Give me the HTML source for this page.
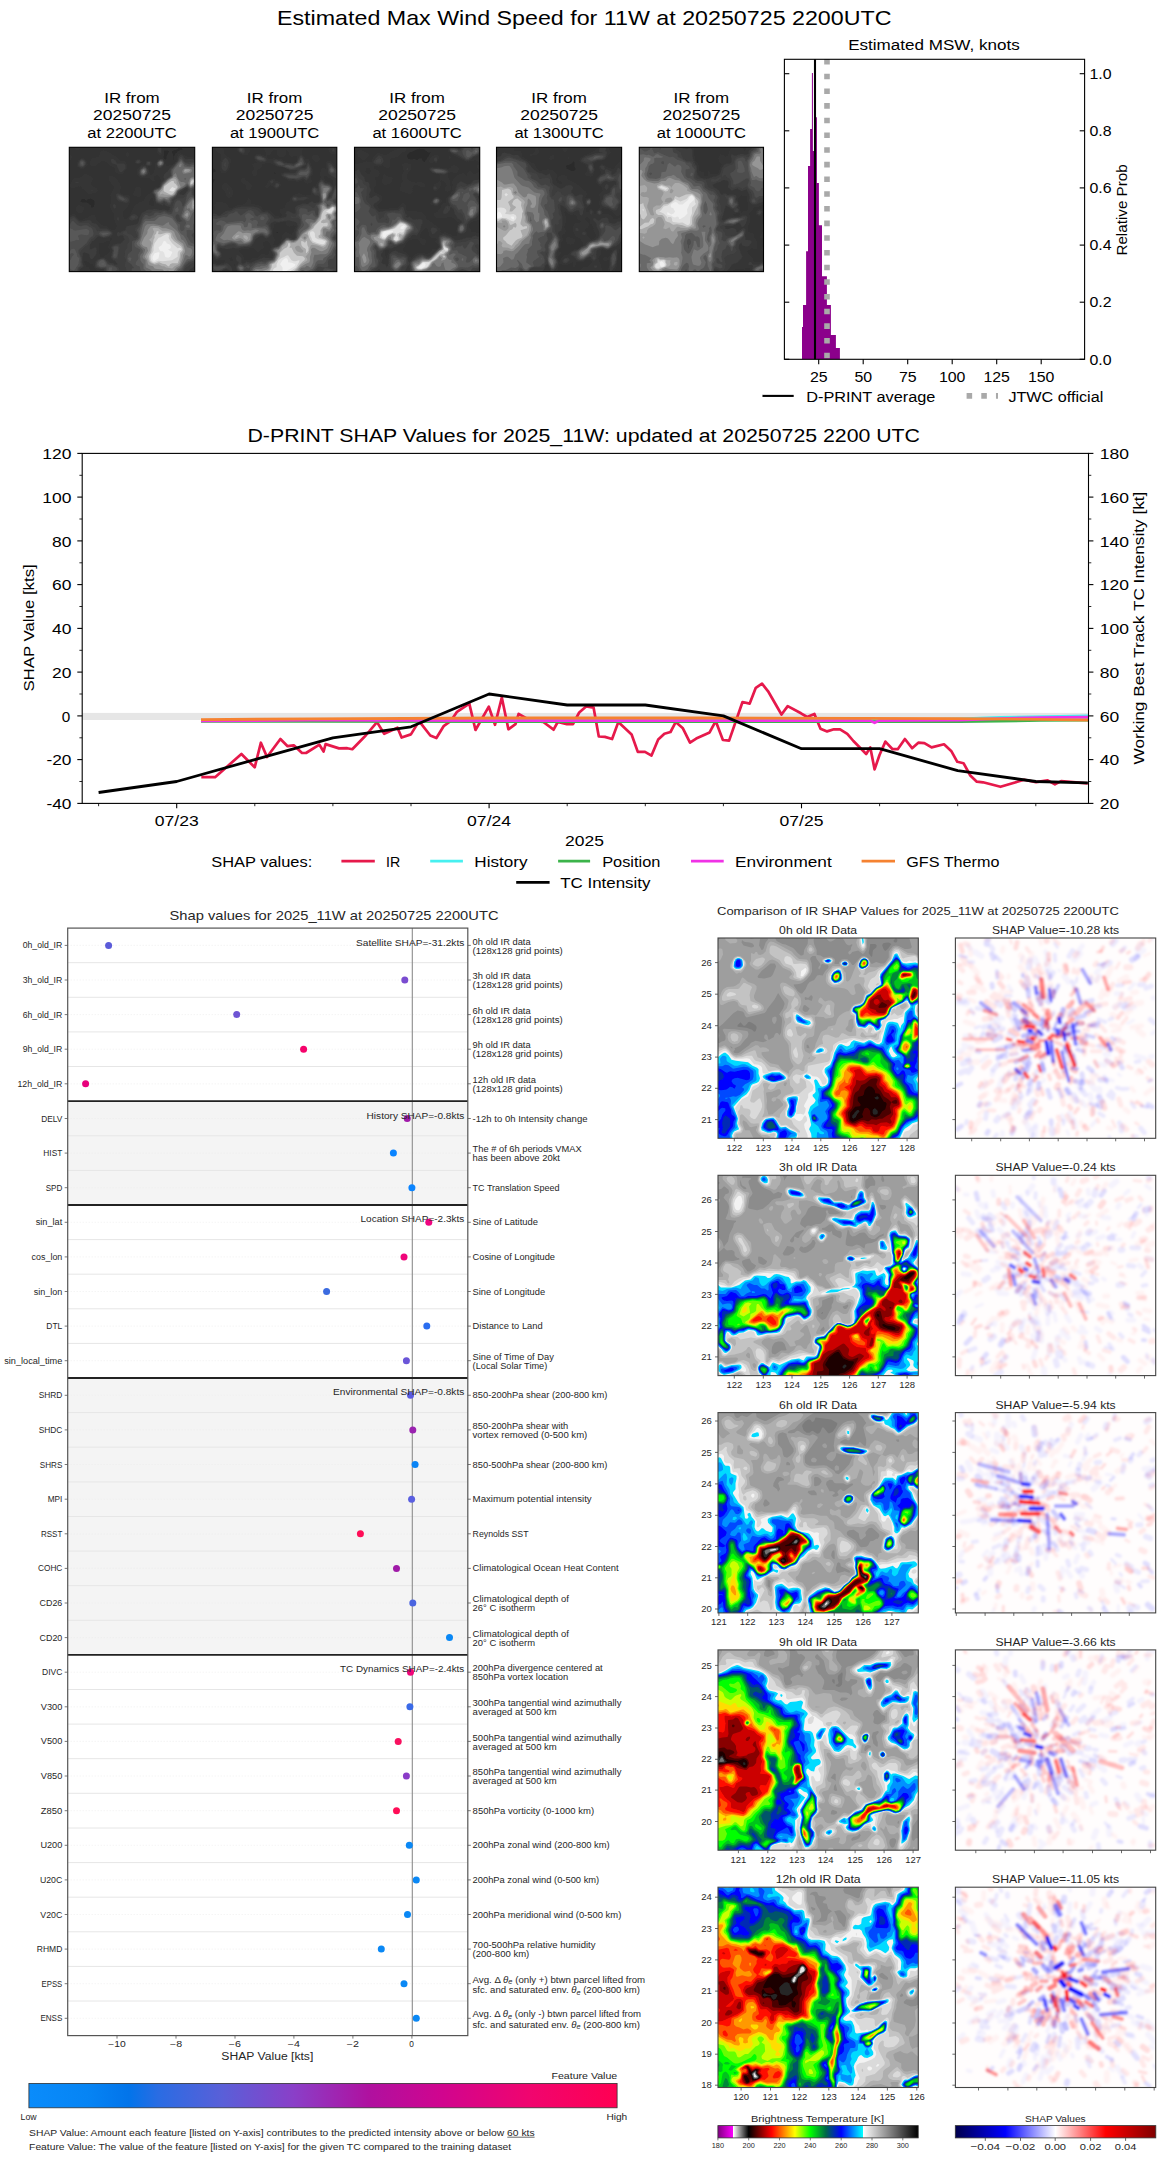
<!DOCTYPE html>
<html><head><meta charset="utf-8"><title>D-PRINT 11W</title>
<style>html,body{margin:0;padding:0;background:#fff}svg{display:block}text{font-family:"Liberation Sans",sans-serif}</style>
</head><body>
<svg width="1168" height="2158" viewBox="0 0 1168 2158">
<rect width="1168" height="2158" fill="#fff"/>
<text x="277.0" y="24.5" font-size="19.44" fill="#000" textLength="614.5" lengthAdjust="spacingAndGlyphs" >Estimated Max Wind Speed for 11W at 20250725 2200UTC</text>
<defs><filter id="bt" x="0" y="0" width="1" height="1"><feGaussianBlur stdDeviation="0.6"/></filter><clipPath id="ct"><rect width="125" height="125"/></clipPath></defs>
<text x="104.2" y="103.0" font-size="15.28" fill="#000" textLength="55.5" lengthAdjust="spacingAndGlyphs" >IR from</text>
<text x="93.1" y="120.2" font-size="15.28" fill="#000" textLength="77.8" lengthAdjust="spacingAndGlyphs" >20250725</text>
<text x="87.3" y="137.5" font-size="15.28" fill="#000" textLength="89.4" lengthAdjust="spacingAndGlyphs" >at 2200UTC</text>
<g transform="translate(69.3,147.3) scale(1.0032,0.9944)" clip-path="url(#ct)"><g filter="url(#bt)"><g transform="scale(0.5)"><rect width="250" height="250" fill="#292929"/><path d="M0,0l250,0 0,250-250,0z" fill="#2c2c2c"/><path d="M0,0l219,0-4,4-11,4 4,11-2,4 2,2 1,-6 1,-4 6,-6 4,-3 3,0 3,-2-2,-4 26,0 0,250-250,0zM27,104l-4,2-1,4 5,1 7,0 4,2 5,4 1,4 1,1 4,-2 2,-10-2,-4-7,-3-4,1-4,3-4,-3zM189,7l0,8-2,4 2,4 4,2 2,-10 3,-4 1,-3-6,-2z" fill="#323232"/><path d="M10,0l11,0 1,4-3,1-4,0-4,-3zM174,0l11,0 0,11-3,5-4,-1-3,-4-1,-3zM63,8l1,-1 4,-1 4,1 19,10 7,7 4,3 8,0 4,5 1,6 0,4-2,3-7,8-4,1-7,-2-4,-3 1,-4-1,-3-8,-4-3,-3-5,-5-7,-3-4,0-7,7-8,5-4,-1-4,-4 0,-4 3,-7 1,-1 12,-2 2,-1zM113,11l1,-1 3,0 1,1 2,4-3,4-3,0-2,-4zM0,15l4,1 1,3-1,6-4,3zM217,15l3,-3 3,0 14,7 9,1 4,1 0,229-192,0-5,-3-4,-5-2,-7-5,0-8,-7-4,0 0,3 4,9 4,1 1,1 4,8-43,0 0,-114 8,-2 3,1 8,10 4,1 7,-2 15,-8 4,0 2,0 2,8 3,4 8,8 12,4 3,3 8,4 2,0 4,-4 2,-4-5,-11-2,-15-5,-8-1,-4-1,-4 3,-11-2,-8 0,-3 5,-8 2,-7-2,-4-4,-4-3,-4-2,-7 2,-3 3,-1 4,1 8,6 7,12 1,4 0,3-2,4 0,4 5,4 4,1 7,0 3,2 2,8-2,8-5,7-7,8-1,4 1,7 2,3 2,1 1,4 0,4 1,0 0,-8 3,-3 6,-8 6,-14 11,-9 8,-2 4,-8 3,-4 8,-4 1,-5 6,-6 8,-1 5,-12-1,-4-4,-7-4,-1-4,1-1,4 2,7-4,1-4,-5-4,-2-4,-1-11,1-4,-2-4,-3-1,-4 0,-8 2,-3 7,-7 8,-1 0,-4 3,-3 4,0 4,1 2,2 0,4-2,3-6,1 4,15 2,3 4,-3 4,-11 0,-8 4,-7 3,-3 4,-1 4,0 3,4 2,3 2,7 4,0 8,-2 3,-2 5,-6 2,-8zM76,188l-8,4-7,0-1,1 0,19 2,8 7,0 10,-8 3,-4-5,-7 2,-4 3,-4-1,-4-1,-1zM83,182l-1,0-1,4 2,2 2,-2 1,-4zM163,101l-5,13 4,3 5,1 1,-1 0,-3-1,-13zM22,23l5,-2 3,2 6,7 1,4-7,8-3,2-4,0-8,-6 1,-8 1,-3zM130,27l6,-3 4,0 4,3 0,3-4,4-7,-1-3,-3zM30,53l0,-1 4,1 13,8 0,3-3,8 0,4 11,7 2,4-3,4-12,3-4,0-4,-4-7,-6-4,-5-4,0-11,3-4,0-2,-2 0,-4 3,-8 2,-4 4,-2 10,-1 6,-4zM135,80l5,-1 4,4 0,12-2,3-2,2-4,0-7,-3-2,-2 3,-8 1,-4 2,-2zM16,117l7,0 6,4 0,4-2,4-4,3-4,0-4,-3-2,-4 0,-4z" fill="#363636"/><path d="M176,0l7,0 0,8-1,4-4,-3zM218,19l2,-2 3,-2 5,4 3,5 15,-1 4,3 0,61-1,4 1,3 0,145-10,7-2,4-169,0 1,-4-2,-1-7,0-8,-2-2,-4 1,-8 2,-4 3,-2 7,-2 4,-1 4,2 8,8 7,1 4,3 4,0 1,-1-6,-8-3,0-3,-4-1,-3 3,-12-3,-7 4,-5 8,-2 8,-1 4,-4 3,-3-1,-4-2,-4-5,-1-4,3-3,-3 0,-4 3,-3 4,2 1,-2 8,-3 3,-7 1,-1 18,-4 3,-1 3,-6 0,-4 5,-11 4,-3 7,-4 15,-2 12,2 7,-1 8,2 3,-2 1,-5-10,-3-2,-4-3,4-7,-3-5,-1-2,-3-2,-12-5,-7 2,-4 3,-3 3,-1 7,-3 2,-4 1,-4 4,-4 2,-4-1,-3 0,-4 2,-4 7,-6 3,-5 8,-7 8,-8zM231,83l-4,3-3,1-1,2-3,2 0,4 7,1 2,-1 7,-8 0,-4-1,-1zM20,27l3,-3 4,0 5,3 1,3 0,4-3,5-3,2-4,0-5,-3-1,-4zM83,27l0,-3 4,-1 5,4 3,6 7,-1 8,1 2,5 0,4-2,3-4,4-4,1-2,-1-5,-12-2,-3-6,-1-3,-3zM133,27l3,-2 4,0 2,2 0,3-2,2-4,1-4,-3zM177,27l5,-3 4,0 2,3 1,3 0,4-3,5-4,2-4,0-3,-3-1,-4 1,-4zM154,30l1,-1 4,-1 3,2 0,4-3,3-4,-1-2,-2zM147,38l5,0 5,7 1,4-1,4-2,2-7,4-4,0-3,-2-3,-4 0,-4 3,-7 3,-3zM12,72l3,-3 4,3zM44,87l1,-2 4,2zM93,95l2,-2 3,0 10,5 6,2 3,2 2,4-2,4-3,2-16,-4-2,-2-2,-4zM87,117l0,-1 4,-2 2,3 0,4-2,2-3,-2zM124,136l5,-2 4,1 5,5-3,4-2,1-8,2-4,-1-2,-2 1,-4zM3,140l5,-2 3,1 8,9 4,1 7,-1 8,-2 4,1 4,5 7,2 4,3 4,6 3,1 12,0 9,6 2,4-3,4-4,2-12,3-1,-1-10,-3-8,9-4,1-4,8 0,4 0,4 4,0 4,-3 4,-1 2,7-2,8-4,6-4,3-4,-2-1,-7-2,-2-6,-2-2,-1-3,3-1,17 3,8-2,3-4,2-2,2 0,4-21,0 0,-109zM97,140l1,-1 1,5-1,4-3,-4z" fill="#3c3c3c"/><path d="M223,19l1,0 7,10 4,1 11,-1 4,1 0,53-3,4-1,4 1,4 3,3 0,133-8,3-3,4-4,2-4,4-2,6-115,0 0,-4-3,-7 0,-4 2,-8-3,-7 1,-4 0,-8 5,-7-1,-4 5,-8 0,-3-3,-7-7,-3-3,-2 1,-4 2,-1 4,0 3,5 8,2 4,6 4,1 3,-5-5,-11 1,-4 8,-8 7,-19 3,-3 5,-2 4,2 4,-2 4,-3 3,-1 12,2 7,-2 8,3 4,0 2,-1 4,-15 3,-8 2,-2 4,-1 7,0 4,-1 4,-3 3,-8 4,-4 0,-4-3,-4-12,7-2,1-5,6-2,5-2,3-7,5 1,4-1,0-2,4-2,2-4,0-8,-7-3,3-4,1-8,-2-2,-5-2,-9-3,-6 1,-4 2,-2 8,-3 4,-4 4,-8 3,-2 4,-5 9,-6-1,-12 2,-3 5,-4 9,-11 3,-7zM21,27l2,-2 4,0 3,2 2,3 0,4-2,3-3,2-4,0-2,-1-2,-4zM136,27l3,0 1,3-4,2-2,-2zM178,27l4,-3 4,1 3,5-1,4-6,6-4,0-2,-2-1,-4 0,-4zM155,30l4,-1 2,1 0,4-2,2-4,-2zM144,42l4,-3 4,0 2,3 2,7-1,4-3,3-4,1-4,0-4,-4 0,-4 1,-4zM96,98l2,-3 4,2 4,2 8,4 2,3-2,3-4,0-8,-2-4,-2-2,-3zM123,140l2,-2 4,-1 4,3-4,3-4,1zM3,144l5,-2 3,1 8,8 4,1 15,0 7,7 4,1 4,3 0,4 4,2 11,-2 8,0 7,3 2,4-5,4-12,3-4,-1-7,-4-4,1-4,5-6,4-5,9-8,6-7,8-2,3 4,11 0,8 2,8-6,3-3,4 1,4-19,0 0,-104zM92,197l6,0 3,4-3,14 0,8-7,2-4,-2-2,-3 3,-12-3,-7 2,-2zM57,227l4,-2 3,-1 4,0 4,2 4,6 4,3 3,0 4,1 11,6 2,4-1,4-27,0 1,-4-1,-2-4,-1-4,1-3,-1-4,-1-4,-3 1,-8z" fill="#434343"/><path d="M223,23l0,-1 8,10 8,2 7,-2 4,1 0,49-4,1-3,4 1,8 3,3 3,2 0,71-5,3-1,4 3,4 2,7 1,1 0,37-11,4-4,3-4,4-6,12-101,0 1,-6 4,-1 0,-1-3,-3-2,-4-7,-5-1,-3-1,-4 1,-3 1,-5 8,-7 0,-3 0,-16 8,-3 4,-4 1,-8-3,-7 2,-4 3,-3 4,-9 2,-7 5,-8 4,0 4,3 4,-1 5,-2 2,-4 4,-1 8,1 7,-3 8,4 4,1 4,-1 7,-23 4,-3 4,0 3,3 2,4 0,3 2,2 4,-7 4,-17 7,-8-2,-4-5,-5-12,7-3,2-4,3-1,5-3,3-7,6-2,2 0,4-2,3-4,0-3,-3-5,-2-7,3-4,0-4,-3-1,-2-2,-11-3,-4 1,-4 1,-1 8,-3 4,-3 4,-8 17,-15-1,-8 1,-4 13,-15 4,-6zM216,134l-3,2-2,4 4,8 5,2 6,-2-3,-2-3,-6-1,-4zM24,27l3,0 3,3 0,4-3,4-4,-1-2,-3 0,-4 2,-3zM180,27l2,-2 4,2 2,3 0,4-2,2-4,2-4,0-3,-4 1,-4zM158,30l2,0-1,4zM146,42l2,-2 4,1 2,4 1,4-2,4-5,3-4,0-3,-3 0,-4 1,-4zM98,98l4,1 6,3 3,4-5,1-4,-2-3,-3zM6,148l2,0 6,7 5,3 4,1 7,-2 4,0 11,6 2,4 1,7-1,4-6,4-7,11-15,13-1,2 0,4 5,11-1,8 1,4-1,4-5,3-1,4 0,4-16,0 0,-94 2,-1 1,-3zM62,170l6,-1 8,0 4,1 3,4-7,4-8,2-4,-2-5,-4zM88,201l3,-2 4,0 3,2-2,15-1,4-4,3-4,-3 2,-12zM59,227l5,-2 4,0 4,3 4,7 4,2 3,0 11,5 2,4-6,4-16,0 1,-4-1,-4-2,-1-8,1-3,-1-5,-2-1,-4 1,-4z" fill="#4d4d4d"/><path d="M181,27l5,1 1,2 0,4-5,3-4,0-2,-3 1,-4zM221,27l2,-2 8,10 4,2 4,1 7,-3 4,1 0,43-8,4-3,-3-4,-4-4,4-13,7-2,2-2,6-2,2-4,3-4,2-3,4 0,5-4,-1-8,-4-7,3-4,0-4,-4-2,-10-3,-4 1,-4 10,-4 3,-3 3,-6 11,-11 4,-2 4,-4-1,-8 1,-4 9,-11zM24,30l3,-1 0,1 0,5-3,-1zM143,45l5,-3 4,0 1,3 1,4-2,4-4,2-4,-1-2,-5zM239,102l3,-2 4,0 4,3 0,44-4,12 1,4-1,4-4,0-3,-1-6,1 1,3 0,8 8,13 3,2 5,2 0,27-4,3-11,5-5,5-6,11-5,4-76,0-3,-11-4,-1-4,-3 1,-4 3,-4 2,-4-1,-7 5,-8-2,-3-4,-3-4,-1-2,-4 0,-4 2,-4 5,-3 3,-4 0,-8 0,-7 8,-20 4,-4 7,1 4,-1 7,-2 6,-5 6,0 7,-3 16,5 7,10 4,5 4,2 1,4-1,4 3,6 4,-1 2,-1 1,-4-1,-4 3,-4 1,-3-2,-4-8,-8 0,-4 5,-15zM215,121l1,-2 2,6-1,4-5,1-1,-5 1,-2zM0,167l0,-4 4,1 7,4 23,-4 5,3 1,3-1,4-1,2-4,1-11,-2-6,3 3,8-1,1-4,-1-7,3-8,1zM63,174l5,-2 8,0 3,2-11,3zM5,205l3,-1 3,1 4,9 1,6 4,3-2,12-7,11-3,2-5,-2-3,-4 0,-13 4,-5 1,-4 4,-4-1,-3-4,0-4,2 0,-4 4,-6zM90,216l1,-2 1,2-1,4zM117,223l4,-2 3,2-1,4-2,2-2,-2zM64,227l4,0 4,5 2,7-10,1-4,-1-2,-4 1,-4 2,-2zM79,242l4,0 2,0 0,4-1,4-6,0z" fill="#595959"/><path d="M178,30l4,-3 4,3-1,4-3,2-4,-2zM220,30l3,-2 5,6 0,4 3,1 8,1 7,-1 4,2 0,36-8,5-7,-9-6,7-13,7-4,8-4,4-7,3-4,5-8,-3-3,1-4,2-4,0-3,-5-2,-7-2,-4 3,-4 4,-1 4,-3 4,-7 11,-12 8,-5 1,-2 1,-8 1,-4zM231,61l-2,3 2,2 2,-2zM145,45l3,-2 4,2 0,4-4,5-4,-2-1,-3zM245,102l1,0 4,2 0,23-5,6-1,3-5,11-4,1-10,-8 0,-4 4,-7 1,-8 5,-8 4,-6zM179,140l10,-2 12,3 4,2 9,12 2,4 0,4 1,4 6,8 4,2 6,9 3,7 2,4 8,2 4,2 0,13-4,6-4,4-7,1-7,10-5,8-5,3-3,4-60,0-3,-2-4,-4 0,-9-4,-4-2,-4-1,-7 1,-4 4,-4 1,-4-2,-3-5,-5-4,-3-2,-4 6,-7 2,-4 2,-15 3,-12 5,-7 18,0zM232,159l3,-3 4,0 2,3-2,3-4,0zM64,235l0,-1 4,0 1,1z" fill="#696969"/><path d="M180,30l2,-1 3,1-2,4-1,1-2,-1zM220,34l3,-2 1,2-1,5-3,1-2,-2zM147,45l1,0 1,0 2,4-3,3-3,-3zM226,45l5,-3 11,1 3,2-1,4-2,2-11,2-4,0-2,-4zM211,53l1,-2 4,10 4,7 3,2 4,0 5,2-2,4-14,10-5,9-4,3-6,2-4,3-4,1-4,-2-7,2-4,-1-2,-5-2,-7 8,-6 5,-9 10,-10 8,-5 3,-6zM242,61l4,-2 4,2 0,14-8,5-3,-4-2,-4 3,-8zM244,106l2,-2 4,2 0,18-4,3-4,0-3,-5-4,2-1,-3 1,-4 4,-5 3,-3zM231,129l4,-3 4,3 2,4-1,3-5,8-7,-4 0,-4zM196,152l1,-2 2,2 0,3 13,11 4,4 5,8 2,7 4,2 4,5 4,9 7,2 2,2 1,3 0,4-3,6-3,2-4,-3-4,0-3,10-5,10-3,4-4,3-4,6-47,0-2,-3-10,-5-1,-3 0,-12-5,-4-1,-3 5,-12 0,-3-7,-5-2,-3-2,-4 3,-7 8,-27 4,-4 12,-1 19,4 5,-3 2,-2z" fill="#7d7d7d"/><path d="M229,45l2,-1 8,0 3,1-3,4-8,2-3,-2zM207,61l1,-2 4,0 4,6 6,15-8,7-4,8-5,3-12,2-15,-1-1,-8 8,-8 4,-8 12,-11zM242,64l0,-1 4,-1 4,2 0,8-3,4-5,2-1,-2-1,-4zM245,110l1,-4 4,3 0,13-4,2-2,-3 0,-4zM233,133l2,-2 2,2 0,3-2,4-4,-3 0,-2zM162,159l5,-1 11,1 8,4 7,0 12,4 4,3 3,8 4,8 11,8 4,14-1,4-3,4-1,7-3,8-3,7-7,4-6,8-6,0-4,-2-8,1-3,-3-12,-1-4,-1-3,-5-8,-2-2,-2-2,-8-5,-7 7,-12-1,-3-1,-4-7,-2-2,-2-2,-4 5,-11 6,-8 1,-4 0,-3z" fill="#969696"/><path d="M230,45l9,0-8,2zM204,64l4,-1 4,1 2,4 0,4 4,8-8,11-2,4-3,1-8,0-8,-1-3,-2-4,2-1,0 0,-4 5,-5 3,-9zM245,64l2,0 3,4-4,6-4,2-1,-4 1,-4 0,-2zM249,114l1,-1 0,6-3,-2zM166,163l4,-1 8,1 8,6 11,0 5,1 3,3 1,5 5,8 12,9 4,6 1,7-5,8-1,7-2,10-4,3-6,3-5,5-12,-2-4,-3-4,0-7,-4-4,1-4,0-7,-3-4,-3-4,-10 1,-4 5,-8 1,-7 2,-8-1,-3-4,-4 5,-4 5,-12z" fill="#aaaaaa"/><path d="M204,68l4,0 1,4 3,2 4,6-8,12-3,3-4,0-12,-6-1,-2 1,-8 9,-7zM243,68l3,-2 2,2-2,5-4,2 0,-3zM174,170l0,-1 4,0 0,1-1,4 1,1 4,0 11,-3 4,0 4,1 1,1 1,8 6,7 14,10 3,6-1,3-4,4-1,10-3,9-1,2-4,0-7,0-4,2-2,4-2,0-5,-4-6,-1-7,-3-9,3-7,-3-3,-4-1,-7 1,-4 3,-4 1,-4 0,-3 3,-12 1,-7 2,-4 0,-5 3,-3z" fill="#cbcbcb"/><path d="M205,80l7,3-4,5-3,1-6,-2zM187,178l6,-3 4,0 2,3-1,4 2,4 5,7 11,10 4,-1 3,2 0,2-5,2-2,4 0,8-11,7-19,2-8,-1-8,3-3,0-4,-4-1,-7 1,-4 3,-4 2,-4 0,-7 2,-8 8,-11 4,-1z" fill="#e2e2e2"/><path d="M188,189l1,-1 4,2 1,3 7,3 2,5-2,3-4,1 3,3 5,2 0,2-4,8-4,2-4,-1-2,-1-2,-8-3,-3-4,0-3,-4-1,-4 6,-4zM173,212l5,-1 2,1-2,11-8,5-3,-1-1,-4 0,-3 4,-7z" fill="#f0f0f0"/></g></g></g>
<rect x="69.3" y="147.3" width="125.4" height="124.3" fill="none" stroke="#000" stroke-width="1.1" />
<text x="246.8" y="103.0" font-size="15.28" fill="#000" textLength="55.5" lengthAdjust="spacingAndGlyphs" >IR from</text>
<text x="235.7" y="120.2" font-size="15.28" fill="#000" textLength="77.8" lengthAdjust="spacingAndGlyphs" >20250725</text>
<text x="229.9" y="137.5" font-size="15.28" fill="#000" textLength="89.4" lengthAdjust="spacingAndGlyphs" >at 1900UTC</text>
<g transform="translate(212.4,147.3) scale(0.9952,0.9944)" clip-path="url(#ct)"><g filter="url(#bt)"><g transform="scale(0.5)"><rect width="250" height="250" fill="#292929"/><path d="M0,0l250,0 0,250-250,0z" fill="#2c2c2c"/><path d="M0,0l250,0 0,250-250,0 0,-177 2,-1 3,-8-5,0 0,-12 6,-3 0,-4-2,-2-4,-1zM125,50l-1,3 1,1 2,-1zM129,170l0,4 4,-4z" fill="#323232"/><path d="M7,0l14,0 2,4 0,7 2,4 12,8-1,15-3,7-6,7-4,0-4,0-3,-3-2,-19 4,-7 0,-4-1,-4-8,-7-2,-4zM51,0l25,0 1,8-1,2-3,1-1,4-4,1-7,-1-4,-1-7,-6 0,-4zM103,0l79,0-1,11 0,4 4,4 1,3 3,2 4,-1 7,15 3,15-6,8 4,7-4,4-4,1-4,0-7,-7-12,5-2,-3-5,-1-8,1-3,-1-15,-10 0,-4 3,-2 16,-2-3,-4-9,-4-15,-2-12,-7-3,-1-12,2-2,1-2,8-3,1-5,2 0,4 0,4-2,4-5,1-3,-5 0,-4 4,-7-4,-8 10,-4-3,-2-3,-5-1,-4 4,-5 4,-1 15,4 3,-2-4,-7zM121,7l-4,6-3,3-4,0-1,3 5,5 11,-2 2,1 9,0 4,1 7,6 16,2 4,-2 3,-4 1,-7-1,-2-11,2-5,-4-2,-8-4,-1-1,5 1,4-4,4-8,0-3,0-3,-4-1,-4 1,-3-1,-2-4,-1zM233,0l17,0 0,12-4,2-7,0-3,-3-3,-7zM203,15l5,0 4,0 3,4 1,4-1,4-3,2-4,1-3,-3-4,-4-2,-4 2,-2zM234,27l5,2 3,3 4,6 4,2 0,210-250,0 0,-18 4,-1 7,4 13,-4 1,-4-10,0-7,1-4,-1-4,-9 0,-91 4,0 2,-2-2,-8 4,-6 3,-2 12,2 4,2 4,4 1,4 6,2 15,-8 4,1 7,-2 5,-4 3,-8 5,4 0,8 6,0 8,3 4,0 3,1 4,8 8,-1 4,1 11,11 12,3 4,-4-6,-7 1,-4 9,-4 3,-8 2,-3 5,-1 1,-7 7,-6 11,-4 8,4 4,1 7,-1 4,1 2,-2-1,-4 0,-8 3,-3 4,-3 3,0 2,-5 8,-11-2,-8 4,-12 3,0 4,2 1,-1 0,-12 3,-3zM34,223l1,4 3,2 3,-2-1,-4-2,-2zM45,234l-1,1 0,4 1,1 1,-5zM106,189l-4,2-1,2 3,8-9,7-4,4-6,-7-5,-3-8,2-11,0-8,4 3,4 4,4 3,4 1,7 12,0 4,-4 7,0 6,-3 5,-5 4,-1 8,3 2,-1 5,-15 0,-4-5,-8-2,-1zM136,151l-12,4 1,4-2,4-1,4 0,7 0,4 4,8-4,11 8,0 5,-4 3,-4 2,-11 4,-6 4,-2 11,6 4,-6 3,-7 1,-4-4,-2-8,3-3,-1-4,-4 0,-4-4,-1zM227,56l-1,1-2,4 2,3 1,4 8,2 7,6 1,-4-1,-3-2,-5-9,-4zM58,64l3,-3 3,0 5,7 7,4 3,4 0,4-3,6-4,1-4,-4-2,-7-6,-4-2,-4zM118,64l3,-1 4,1 2,4 6,1 3,3 2,4-2,4-3,3-4,2-4,-2-4,-6-4,0-7,5-4,-2 2,-4 5,-8zM26,72l4,1 3,3 7,7 1,4 0,8-1,3-2,2-4,2-4,-1-2,-3-1,-5-7,-10-1,-3 1,-4 3,-3zM0,83l0,-1 1,1 1,4-2,4z" fill="#363636"/><path d="M52,4l2,-4 10,0 1,4 1,4-2,3-3,2-8,-5zM241,4l1,-2 3,2 1,4-4,1-1,-1zM85,19l2,-2 4,-1 7,1 8,4 2,2 1,4-3,2-11,0-8,-5-1,-1zM175,19l3,-3 4,3 2,4 2,6 1,1 2,4-7,4-4,3-5,1 13,0 3,-4 0,-4 4,-4 6,12 1,7-1,4-6,10-4,4-7,-5-8,4-4,1-7,-3-8,1-3,-1-12,-7 1,-4 3,-1 19,0 4,-1 4,-6-1,0-11,1-7,-2-8,-4-15,-3-7,-7 1,-3 2,-2 4,0 11,3 4,3 11,1 8,2 7,-5 3,-6zM23,23l4,-2 3,3 2,3 1,3-1,8-2,5-3,4-4,0-4,-4-1,-9 1,-4zM231,34l0,-1 4,-2 4,2 7,9 4,3 0,60-2,5 2,2 0,138-200,0-2,-4-1,-4 1,-3 5,-8-5,-4-1,-4 1,-3 1,-3 4,0 3,3 2,3 0,8 3,3 3,-1 4,-3 8,2 3,-1 12,-5 11,-4 4,0 12,1 3,-1 1,-6-4,-8 0,-3 3,-4 12,-3 11,-13 4,-3 7,0 8,3 4,-3 0,-12 4,-11-1,-6-3,-3-12,-3-11,1-11,2-8,-1-6,3-3,3 4,15-1,4-2,4-7,5-4,0-4,-4-2,-1-3,0-10,7-7,12-4,3-15,1-8,2-4,1-7,-2-12,3-15,-3-3,3 6,7 0,8-7,4-3,1-2,-2-2,-3-4,-5 0,-82 8,1 3,3 4,0 12,-9 11,-2 7,-4 16,-3 11,0 8,0 11,2 4,2 5,6 2,1 8,-1 7,5 6,6 2,3 8,0 14,-3 3,-4-3,-3 1,-2 1,-2 3,-1 11,5 4,0 0,-4-1,-8 1,-1 3,-3 4,-1 8,-3 10,1 5,-4 4,-1 4,3 9,-2 2,-8-2,-4-2,-1-4,0-4,-2-4,-4 0,-4 0,-4 5,-3 3,1 4,2 0,-7 1,-4 3,-5 4,-2 3,2 4,5 8,1 7,7 0,7 3,-7 3,-4 0,-8 2,-4-4,-3-7,-4-5,-4-2,-4 0,-7zM235,96l0,5 2,-3zM116,68l5,-2 2,2-1,4-5,1zM128,72l5,0 2,4-2,4-4,2-4,-2 0,-4zM29,83l1,-1 0,4zM33,91l1,-2 1,2-1,4zM160,102l3,-3 4,0 7,2 8,-1 7,0 5,2-12,5-8,0-7,2-4,0-3,-3zM0,235l4,-1 4,2 3,1 11,-2 5,-2 3,0 3,2 4,4 2,3 1,8-3,0-6,-4-4,-1-12,5-14,0-1,0z" fill="#3c3c3c"/><path d="M56,0l5,1 2,3 0,4-2,2-4,0-3,-2-1,-4zM87,19l4,-2 7,1 8,5 1,4-5,1-11,-3-3,-2zM175,23l3,-4 4,3 3,12-7,5-15,5-8,0-15,-6-7,-2-5,-2-3,-4 4,-3 7,1 4,1 4,4 4,1 7,0 8,2 8,-6zM26,30l1,0 0,9-4,-1 0,-4zM192,34l1,-1 4,8 1,8-5,11-4,4-3,-4-4,0-12,5-7,-2-8,0-3,-1-9,-5 1,-3 4,-1 19,2 7,-9 4,-2 8,0 3,-2zM234,34l5,2 3,3 6,6 1,4-3,3-7,2-4,-4-1,-5zM219,68l1,0 3,2 4,4 8,1 5,5 1,7-3,4-3,3-2,8 2,1 4,-4 3,-7 4,-10 4,-2 0,21-5,9 5,4 0,66-4,0-1,2 1,2 4,1 0,65-31,0-7,-3-4,3-155,0-3,-4-1,-4 1,-3 3,-4 4,-1 1,1 6,2 4,-4 8,2 15,-6 30,-4 4,-9-6,-8 1,-3 1,-2 12,-4 15,-16 4,0 3,1 3,2 5,0 6,-4 0,-4 0,-8 5,-11 2,-7-1,-8-5,-3-3,0-8,1-3,-2 3,-1 8,1 4,-7-1,-8 1,-4 11,-4 11,0 4,1 4,4 4,-1 1,-4 3,-3 8,-4-1,-15-3,-4 1,-8-1,-7 1,-4 2,-2zM242,240l-3,2 6,0zM127,76l2,-3 4,1 1,2-1,2-4,2-1,0zM202,83l3,-2 4,2 2,4 1,4-4,3-3,-1-3,-2-1,-4zM161,102l2,-1 4,-1 3,2 0,4-3,2-4,-1-1,-1zM45,125l4,-1 15,0 12,-2 11,3 4,2 4,4 7,1 8,-1 6,5 2,4-2,8-4,4 1,3 4,12 1,3-1,4-3,4-4,3-4,-1-4,-3-4,-1-9,2-2,1-5,10-2,5-4,3-4,1-23,3-4,-5-3,-1-12,2-7,3-4,0-8,-2 0,7 1,3 5,4 0,4-6,6-3,0-8,-8 0,-78 4,2 11,1 8,-3 11,-6 5,-1zM138,144l6,-1 9,1-9,1-4,0zM0,239l0,-1 4,-2 4,2 3,0 4,-1 12,-1 4,3 0,3-8,3-4,3-11,2-4,-1-4,-3z" fill="#434343"/><path d="M55,4l2,-2 3,2-1,4-2,0zM90,19l5,0 9,4-2,2-7,0-5,-2zM177,23l1,-2 2,2 3,7 0,4-9,5-15,4-4,-1-10,-4 3,-2 4,-1 11,3 10,-8zM128,30l5,-1 3,0 8,5-4,2-7,-1zM193,38l0,-1 2,5 1,7-3,8-4,4-3,-3-4,0-12,4-11,0-6,-1-6,-4 12,-1 8,1 3,-1 1,-3 3,-5 4,-2 8,0 3,-2zM236,42l3,-3 3,2 3,4 0,4-3,2-3,0-3,-2-1,-4zM216,72l4,-2 7,5 8,1 4,4 1,3-1,4-6,8 0,3-2,4 0,5 9,-5 6,-16 4,-3 0,11-1,4-3,6-4,2 1,4 7,5 0,59-4,2-4,6 2,4 6,2 0,15-4,5 0,4 1,4-4,7-1,1-7,1-2,2-1,4 1,8-2,2-4,1-11,-2-4,0-8,10-129,0 1,-8 11,-9 11,-3 8,2 8,-5 7,-1 2,-3 3,-7-1,-3-4,-5 1,-3 3,-3 8,-2 15,-16 4,-1 4,3 7,1 4,-1 3,-4 2,-15 5,-8 2,-7-1,-8-5,-8 2,-3-1,-8 4,-3 11,2 2,1 0,4 2,1 8,-3 4,0 1,2 1,7 1,1 4,0 1,-12-1,-3-3,-5 10,-7-5,-34zM204,83l1,0 3,4-1,4-3,0-1,-4zM163,102l4,0 1,0-1,4-2,0zM47,129l3,0 2,4 5,4 4,-2 2,-2 9,-6 4,-1 6,3 5,9 4,1 3,-3 4,-1 8,-1 4,2 2,4 1,4-5,8-1,3 3,1 2,3 4,11-1,4-5,5-4,-1-4,-3-4,-1-11,3-4,4-2,8-3,4-2,2-4,2-19,2-9,-6-6,0-4,1-7,2-4,2-4,1-4,-3-4,-1-1,2-1,8 2,3 4,4 1,4-5,4-3,-1-8,-6 0,-70 8,1 15,-4 4,1 3,-2 2,-3 2,-2 8,-2zM15,239l11,0-1,3-10,5-7,1-4,-2-2,-4 2,-3 4,1 3,0zM51,239l2,-3 4,0 6,3 1,2 4,1-4,3-1,5-8,0-3,-4-2,-4zM67,239l5,-2 3,2 0,3-3,2-3,-2zM223,246l4,-3 15,3 5,0-5,1-1,3-18,0z" fill="#4d4d4d"/><path d="M176,30l2,-2 3,6-11,5-4,-1 3,-4zM150,38l6,0-1,1zM193,45l0,-1 0,1 0,6-4,5-3,-1-4,0-4,1-4,-1 0,-3 4,-3 11,0zM237,45l2,-3 3,1 2,2-2,4-3,0zM217,76l3,-3 7,4 8,1 2,2 1,3-1,4-3,4-2,4-3,11 2,3 4,-2 4,2 11,8 0,13-2,3 2,7 0,4-4,4 4,1 0,12-4,1 0,1 4,2 0,4-6,5-4,8 1,4 5,3 3,4 0,4-7,11-2,8-5,3-4,4-4,8-4,3-11,0-7,11-4,3-4,2-120,0 2,-4 4,-6 7,-5 8,-1 8,1 8,-6 8,-2 3,-4 2,-7-1,-4-4,-4 1,-3 2,-2 8,-2 15,-15 4,-1 7,2 4,0 4,-1 3,-3 4,-9 0,-4 1,-3 8,-8 1,-4-3,-7-1,-8 0,-4 2,-1 4,-1 7,3 8,-5 1,4 5,4 1,1 4,-2 2,-14-2,-8 9,-7-3,-15zM231,114l-1,3 1,1 4,-1 0,-1zM246,95l0,-3 1,3-1,4zM70,133l2,-1 3,1 8,6 0,3-3,0-5,2 5,4 3,-2 4,0 3,2 2,4-2,3 0,4 8,1 8,-1 4,2 4,9-1,4-3,3-4,-1-4,-3-4,0-11,2-4,3-2,8-2,3-3,4-4,2-19,1-8,-4-7,-1-11,3-4,2-4,0-4,-3-4,0-3,4 0,8 1,3 4,4 0,4-2,2-3,-1-8,-7 0,-17 3,-4 0,-11-1,-4 2,-5 4,-2 7,1 2,-1 1,-4 0,-4-3,-3-4,1-4,-2 1,-3 3,-2 4,-3 4,0 4,1 5,4 2,0 8,-2 19,-2 4,0 3,4 3,-4 1,-4-2,-4 0,-4zM97,140l1,-1 4,0 2,1 1,4-3,2-4,0-2,-2zM52,239l5,-2 4,2 2,3-1,4-1,3-4,0-3,-3-2,-4zM227,250l4,-2 4,0 2,2z" fill="#595959"/><path d="M172,34l2,-1 3,1-3,1zM219,80l1,-3 11,1 4,2 2,3-2,4-3,4-3,11-2,4-3,4 3,2 2,2 0,3 2,3 4,-1 4,-5 3,0 4,2 4,3 0,9-4,5 1,3 1,4 0,4-2,2-5,2 0,4 3,7-1,4 2,4-7,7-1,4 0,4 2,4 6,7 0,4-8,15-6,6-8,5-1,4-10,0-4,4-3,8-4,6-12,4-3,0-4,-2-4,1-1,2-97,0 3,-6 4,-3 4,-1 4,0 3,-2 8,0 4,-2 4,-5 10,-4 5,-11-1,-4-4,-4 1,-3 8,-2 15,-16 4,-1 11,2 7,-2 3,-4 5,-10 4,-4 9,-5 3,-4-1,-4-7,-7 3,-4 8,0 8,3 7,-6 2,-5 1,-7 1,-4-1,-8 8,-7-2,-4-2,-11 1,-4zM27,155l30,-3 5,3 2,6 4,0 3,-2 1,-7 4,0 3,3 0,4 0,4 8,-1 19,2 3,3 2,3-1,4-8,-3-4,0-11,2-5,5-2,8-4,5-8,3-15,0-4,-2-11,-3-15,4-4,-1-11,-3-2,-3 1,-4 4,-8 8,-4 2,-3 2,-8zM2,197l2,-3 1,3 1,8 4,7-2,2-4,-2-3,-4-1,-7zM53,242l4,-2 4,2 0,2-4,3z" fill="#696969"/><path d="M223,83l0,-1 8,-1 4,2-6,8 0,7-1,4-5,5-1,-5-1,-7 2,-8zM223,114l1,0 7,8 4,-1 4,-4 3,-1 4,1 4,4 0,5-5,7 0,3 2,4-1,3 0,1-6,4-1,4 2,7-1,4-2,4-3,3-4,-1-2,1-1,4-1,4 4,2 4,4 6,9-9,19-5,3-11,0-4,1-4,0-3,0-2,7 0,8-5,11-2,0-3,-3-4,-1-3,4-4,0-4,1-4,7-91,0 4,-5 11,0 8,-3 4,0 4,-8 11,-6 5,-12 0,-4-4,-4 3,-3 4,0 6,-8 5,-4 4,-5 4,-1 11,3 8,-4 7,-10 4,-4 12,-9 2,-4 1,-8 8,0 3,-3 6,-8 4,-15-1,-8zM31,159l7,-2 15,0 4,1 1,5 3,4 3,1 8,-1 4,1 11,-3 7,2-4,3-3,1-5,3-2,4-2,8-2,3-4,2-8,2-7,-6-8,2-19,-3-7,1-8,-5 8,-9 5,-10z" fill="#7d7d7d"/><path d="M222,95l1,-2 4,-1 1,3 0,3-1,3-4,3zM221,117l2,0 5,4 3,2 4,-1 4,-3 3,-1 4,1 2,2 1,4-6,8 0,3 2,4-2,4-4,1-2,3 0,4 2,3 0,5-4,6-8,-3-4,1-1,3 1,11 8,6 4,5 0,4-4,10-4,3-4,2-3,1-5,-1-10,-6-4,0-3,3 1,7-3,8 0,7-1,4-9,4-8,5-4,4-3,6-84,0 4,-2 7,2 12,-4 4,-3 1,-8 10,-5 2,-3 5,-11-1,-4-1,-4 6,-4 4,-6 6,-5 2,-4 4,-1 4,1 3,2 4,0 7,-3 12,-14 15,-11 4,-8 7,-5 7,-10 5,-15 0,-4zM235,136l-2,0-1,4 3,5 2,-1 1,-4zM186,179l-3,3 3,3 2,-3zM51,170l2,-1 4,1 4,3 7,-1 8,1 2,1-1,4-1,8-4,3-4,1-4,-1-3,-4-4,-2-4,0-8,3-3,-1-3,-3 3,-4z" fill="#969696"/><path d="M238,121l4,-2 4,2 1,4-8,11-4,-2-4,0-2,2 2,8 4,4 1,7-1,4-4,2-8,0-2,2-2,4 1,7-1,4 3,4 8,4 2,3-1,5-4,6-4,2-3,-1-8,-3-11,-2-3,1-2,4-2,11-7,8 3,3 1,4-13,9-11,14-57,0 4,-3 3,-5 0,-7 8,-4 4,-4 5,-11 0,-4 5,-7 1,-4 6,-4 5,-8 8,4 8,-1 7,-6 4,-5 8,7 5,-6 1,-4-3,-3-4,-1 15,-11 5,-7 5,-4 7,-12 3,-10 3,-7 8,1 4,0zM167,200l-1,1 1,4 3,4 8,3 4,-1 1,-3-5,-5-1,-2-3,-3-4,0zM47,178l2,-1 4,0 1,1-6,4-3,0zM62,178l2,-1 5,1 3,4-2,4-2,0-5,-4z" fill="#aaaaaa"/><path d="M239,121l3,-1 3,1 0,4-3,4-3,5-8,-1-4,3 1,4-1,5-4,0-4,3-1,4 2,0 3,1 8,-2 1,4-1,3-1,1-7,0-3,3-3,5 0,7-1,2-3,2 1,4 13,4 3,3-3,7-4,2-3,0-16,-5-3,-1-5,-6-4,-12 1,-4 10,-7 2,-4 10,-11 3,-4 2,-10 3,-6 4,-3 8,-1zM178,189l4,0 4,3 3,-4 1,1 1,8 2,4 0,7-4,5-1,-1 0,-7-2,-2-4,-2-3,-4zM152,193l4,0 1,4-2,4 0,1 4,0 5,10 3,3 3,3 12,1 4,4-1,4-3,2-6,6-6,8-7,7-48,0 4,-8 1,-7 5,-2 5,-6 3,-5 2,-2 1,-8 8,-8 6,-3 2,-4z" fill="#cbcbcb"/><path d="M242,121l1,0 0,4-4,6-4,1-7,-3zM197,170l4,-1 3,1 2,4 0,4 1,4 5,3 8,1 7,3-1,4-3,2-3,0-8,-2-10,-4-2,-3-1,-4-2,-3-1,-5zM145,220l3,-2 4,-1 7,10 4,2 4,0 7,-2 1,0-1,4-6,11-12,8-34,0 0,-4 3,-3 4,-2 0,-6 4,-8 5,-4z" fill="#e2e2e2"/><path d="M146,223l2,0 2,0 2,4 0,4 7,1 8,3-2,4-4,3-9,5-4,3-7,0 0,-8-5,-7 5,-8z" fill="#f0f0f0"/></g></g></g>
<rect x="212.4" y="147.3" width="124.4" height="124.3" fill="none" stroke="#000" stroke-width="1.1" />
<text x="389.3" y="103.0" font-size="15.28" fill="#000" textLength="55.5" lengthAdjust="spacingAndGlyphs" >IR from</text>
<text x="378.2" y="120.2" font-size="15.28" fill="#000" textLength="77.8" lengthAdjust="spacingAndGlyphs" >20250725</text>
<text x="372.4" y="137.5" font-size="15.28" fill="#000" textLength="89.4" lengthAdjust="spacingAndGlyphs" >at 1600UTC</text>
<g transform="translate(354.5,147.3) scale(1.0016,0.9944)" clip-path="url(#ct)"><g filter="url(#bt)"><g transform="scale(0.5)"><rect width="250" height="250" fill="#292929"/><path d="M0,0l250,0 0,250-250,0z" fill="#2c2c2c"/><path d="M0,0l250,0 0,250-250,0zM129,3l-4,1-8,4-3,1-5,2-4,4 0,4 2,4 7,2 3,-1 4,0 4,2 4,-3 4,-1 3,6 4,2 12,-19 0,-1-4,0-4,-2-4,-4z" fill="#323232"/><path d="M87,4l7,-4 4,0 4,2 2,2-2,4-7,2-9,9-14,4-2,4 1,11-2,4-5,0-7,-6-8,3-9,-1-2,4 7,3 4,3 2,5-2,4-4,2-3,0-2,2 3,7 1,4-1,4-4,4 0,3 1,8 10,4 4,3 1,4 0,4-2,3-5,5-3,3 2,4 2,3 8,0 26,-2 4,-1 8,-8 3,-1 3,2 2,3 0,8 3,3 11,-1 12,3 4,0 3,2 7,8 1,4 26,19 2,4 0,3 2,2 8,-1 11,5 4,3 4,0 4,-1 0,-4-2,-4 0,-3 3,-12 3,-3-1,-1-15,-12-4,0-7,3-19,0-3,-2-2,-4 1,-3 7,-4 4,-5 5,-10 3,-2 4,-1 1,-1 0,-8 3,-3 5,-4 5,-8-2,-4 2,-7-1,-8 10,-13 3,0 8,-3 4,1 3,5 2,-5 6,-6 8,7 11,-5 0,96-4,2-7,1-7,4-3,3-1,4 5,8 1,3 8,1 8,2 0,77-250,0 0,-217 4,1 7,-3 4,0 8,-3 11,2 2,-7 6,-8 3,-3 4,0 12,4 3,-1 12,-8zM61,208l-1,8 4,7 5,-15-5,-1zM140,164l-3,3-4,5-2,6 1,4 8,3 4,4-4,8-4,0-7,-9-4,-3-4,-1-15,5-4,8-6,8 2,4 8,5 4,6 4,2 3,-4 8,-5 4,-1 4,0 11,2 4,-1 4,-3 3,-5 8,0 5,-4-1,-6-4,-2-3,-4 4,-3-1,-4 0,-1-4,2-7,-1-3,-4-2,-11-3,-4zM27,40l-3,2-2,7 4,4 4,0 3,-4-1,-4-2,-3zM186,4l4,-4 18,1 2,-1 40,0 0,30-4,-2-4,-2-3,0-4,2-12,1-30,-15-6,-6zM7,8l4,-3 4,1 8,5 4,1 3,3-2,4-6,4-3,3-4,-1-7,-6-2,-4-1,-4zM162,15l5,0 2,4-2,8-4,5-4,-2-7,2-3,-2 0,-3 2,-4 4,-5 4,-2zM187,19l2,-1 6,1-2,2-4,2zM95,34l7,-3 4,1 6,2 1,4-1,7-6,8-1,8 1,4 4,3 11,3 12,-1 3,1 5,5-1,4-7,0-8,-4-4,0-5,4 0,11-2,2-8,0-8,-3-7,-2 1,-12 5,-8-3,-7 0,-4 4,-8 0,-4zM194,38l3,-2 4,0 4,2 4,4-1,3-3,6-4,1-8,-3-6,4-1,4 5,11 0,8 2,7-2,4-5,3-6,-3 0,-4 4,-7-2,-4-4,-3-4,-2-3,1 2,4 0,4-4,7-6,5-4,-1-3,-4 0,-3 3,-5 11,-7 1,-4-1,-3 1,-4-4,-3-12,-2-7,-7 0,-3 4,-3 3,0 15,1 5,2 7,0 7,1zM244,38l2,-3 4,2 0,7-4,-1-1,-1zM57,57l4,-4 2,4 5,2 8,-1 0,6-3,8-9,3-3,1-4,-2-2,-2-1,-4 3,-7zM157,102l2,-2 8,-1 7,7 0,4-7,7-8,0-7,-2-3,-1 3,-2 2,-6z" fill="#363636"/><path d="M189,4l4,-3 12,1 3,2 4,-1 2,-3 36,0 0,14-8,4-3,1-8,6-4,1-4,1-6,-4-9,-5-4,-3-7,-2-7,-5zM45,19l4,-3 4,2 4,5 1,4-1,3-4,4-4,1-7,-1-4,-4 1,-3zM158,23l5,-3 2,3 0,4-2,2-4,-2zM105,42l1,-1 1,1-1,4-2,-1zM152,42l3,-1 23,2 8,2 2,4-2,2-8,4-4,-1-1,-1-14,-1-5,-3-3,-4zM7,45l2,0 4,8 7,8 1,7 2,2 4,0 2,2 1,8 2,3 1,4-4,8 1,6 4,1 5,-4 3,-1 3,1 5,4 0,4-11,8-1,3 2,4 9,9 15,-3 16,-1 7,0 8,-7 3,2 4,13 3,2-3,4 4,1 4,-2 6,5 1,1 16,-1 3,4 0,4-3,6-1,5-1,4-6,10-8,-1-3,2-3,4-5,3-8,9-7,2-8,4-3,0-4,3-8,0-6,2-5,3-4,8 1,4 3,2-3,9 3,4 4,0 3,4 0,2 2,-2 1,-4 1,-2 1,-17 3,-4 8,-4 3,0 4,3 8,2 7,3 4,4 1,7 3,7 0,-3 3,-4 8,-7 8,-4 4,-1 3,1 12,4 11,-8 11,-11 0,-4-2,-4 0,-11 2,-5 4,-1 4,-1 4,1 11,4 8,7 11,-1 11,-4 9,0 7,-4 3,0 8,3 0,27-1,4 1,1 0,37-139,0-1,-15-4,4-4,8-2,3-44,0-7,-4-9,4-40,0 0,-202zM237,68l2,-2 7,0 4,-1 0,33-4,0 4,12 0,22-8,10-11,5-4,5-2,3-1,12-1,3-7,4-4,0-4,-1-2,-3-1,-3 1,-8 3,-4 5,-3 0,-4-7,-4-7,-11-2,-8-5,-5-2,1 0,4-2,3-3,4-4,2-5,-1 0,-4 5,-10 4,-2 3,2 2,-2-4,-7 0,-4 0,-4 10,-9 4,-6 4,-13 7,-5 4,1 7,4 4,1 6,-3zM158,80l1,-1 4,0 2,4-2,2-4,0-1,-2zM160,102l3,-2 4,1 4,5-1,4-3,4-4,2-4,-1-2,-1-2,-4 1,-4zM153,163l2,-2 8,2 3,4-2,3-5,4-4,1-2,-5-1,-3z" fill="#3c3c3c"/><path d="M190,4l3,-2 4,0 8,2 3,2 4,1 4,-7 34,0 0,11-4,3-10,5-9,6-4,0-3,-3-15,-9-4,0-8,-3-2,-2zM48,23l1,-1 4,2 0,6-4,1-7,0 0,-4zM153,45l2,-2 15,0 11,2 5,4-4,3-4,1-15,-1-6,-3zM0,57l0,-3 4,0 4,7 3,3 4,2 2,6 2,3 4,2 2,3-1,18-1,4 1,4 2,4 7,7 1,5 8,4 4,7 2,3 0,4 1,5 9,-5 2,-7 4,-3 16,-2 7,1 8,-5 3,9 0,7 1,4 7,4 8,1 4,3 9,15-2,5-8,0-3,2-12,12-4,5-7,3-4,2-10,1-5,3-4,0-9,5-6,4-4,1-3,-2-1,-1 0,13 6,7-1,4-2,8-3,3-10,8-35,0zM64,143l-3,1 3,2 1,-2zM72,192l-1,1 1,2 2,-2zM243,72l7,-4 0,29-8,-4-3,2 5,7 6,13 0,13-9,12-6,4-4,1-7,7-3,3 1,4 0,8-6,5-4,1-4,-1-2,-5 1,-8 3,-4 2,-1 8,-2-4,-16-4,-5-4,1-3,-3-5,-8-7,-5-4,-6 0,-4 1,-4 11,-11 4,-8 3,-3 3,0 1,-3 4,3 4,0 3,-2 8,-2 4,-3zM162,102l5,1 3,3-1,4-2,3-4,1-4,-1-3,-3 1,-4 2,-2zM184,121l2,-1 1,1-1,4zM176,178l2,0 11,2 4,2 8,8 4,2 11,-2 7,0 4,-3 4,-1 11,-2 4,0 2,2 2,2 0,8-4,-1-4,1-1,1 0,4 5,4-2,3 1,4 5,4 0,25-4,4-7,4-1,1-19,0-3,-1-6,1-96,0-3,-15 1,-4 9,-8 12,-6 3,0 8,4 4,0 4,-1 19,-19-1,-8-1,-11 1,-2zM71,216l5,-3 4,0 7,4 11,1 5,2 2,3 0,12-3,4-4,1-3,2-3,8-14,0-6,-4-1,-4-1,-3 0,-19z" fill="#434343"/><path d="M192,4l5,0 8,1 3,3-3,2-4,1-4,-1-5,-2zM220,0l10,0 5,5 1,-1 2,-4 11,0 1,8-4,5-11,5-8,5-4,0-6,-8-2,-7zM155,45l4,-1 11,0 8,1 6,4-6,3-15,-1-4,-2zM0,64l0,-2 4,1 2,5 0,4-2,1-4,1zM247,72l3,-2 0,25-8,-4-3,0-3,4 5,7 8,15 0,4-2,8-5,7-4,4-3,2-8,1-4,4-4,-14-3,-4-1,-4-3,-1-4,2-3,-5-2,-4-2,-1-4,-1-4,-3-2,-6 0,-4 17,-18 4,-1 4,0 4,3 3,-2 4,-4 15,-6zM6,80l2,-4 3,4 0,2 8,1-6,8 3,11 3,8 3,4 6,3 3,4-1,4-2,4 6,9 4,1 4,-3 1,8 2,5 3,3 5,0 8,-1 3,2 4,0 2,-9-5,-8 1,-3 10,-2 11,2 4,0 3,3 1,4 2,4 17,9 4,6 1,4-1,4-8,7-12,15-3,3-12,4-3,0-8,-6-4,3 0,4-7,6-8,3-4,0-4,-6-3,-3-3,4 4,7 0,12 1,3 3,4 0,4-2,8-3,3-8,4-2,4-32,0 0,-166zM34,152l-2,3 2,4 2,-4zM158,106l5,-3 4,1 2,2-1,4-5,3-4,-1-2,-2zM213,155l3,-1 1,1 3,4 0,4-1,4-3,3-4,2-4,-3-1,-2 2,-8zM171,182l3,-2 4,-1 11,3 4,2 5,5 2,4-1,8 2,1 4,-3 3,0 4,0 4,-2 1,4 3,3 3,-2 3,-5 5,-7 4,0 4,3-5,8 0,4 1,3 15,12 0,18-4,3-4,2-5,-1-2,2-4,6-15,-5-8,2-4,3-88,0-4,-15 1,-4 12,-8 8,-3 3,-1 8,4 4,0 4,-2 18,-18 2,-2-1,-8zM73,220l3,-3 4,0 7,4 4,1 7,-1 4,2 1,8-1,3-7,5-8,10-5,1-2,-1-7,-7z" fill="#4d4d4d"/><path d="M241,4l1,-3 4,1 2,6-3,3-3,2-3,1-4,-2-1,3-4,4-3,1-3,-1-1,-4 0,-8 4,-1 8,5 1,-3zM194,8l3,-3 8,3-4,2-4,-1zM158,45l5,-1 7,1 10,4-6,1-11,0zM250,72l0,22-8,-5-3,0-3,-2-1,-2-4,4-3,-2 1,-4 2,-1 4,0 1,-2 8,-4zM0,91l4,-1 7,11 2,5 0,4-2,4 1,7-2,4-6,5-4,1zM204,91l4,-1 3,1 0,7-3,4-1,4-2,2-8,0-3,-2-1,-4 2,-4zM213,91l3,-1 1,1-1,2zM227,91l0,-2 4,9-2,4-6,8-3,1-5,-5 3,-11 5,-3zM159,106l4,-2 4,1 1,1-1,4-4,2-4,-1-1,-1zM228,110l3,-3 4,0 4,1 1,2 4,4 2,3-1,12-5,7-5,5-4,0-6,-5 0,-3 2,-12-2,-4zM85,140l2,-1 4,2 2,3 17,9 6,6 1,4-2,4-9,9-8,11-3,3-12,5-3,-1-8,-6-4,1-1,0-1,8-5,5-8,2-4,-1-7,-8-4,2-2,4 0,4 3,3 1,4-1,8 3,15 0,4-4,2-4,0-2,1-4,8-18,0-2,-6-4,-6-4,2 0,-12 1,-1-1,0 0,-41 3,0 0,-4 6,-8 0,-4-1,-3-8,0 0,-26 4,2 6,5 0,4-2,3-5,4 5,8 1,-4 3,-4 3,-3 4,0 4,1 1,2 1,8 1,3 4,3 4,-2 9,-1 0,-3 3,-4 5,-4 6,-3 4,1 3,2 4,0 5,-4 3,-10 4,1 3,-2zM210,159l2,-2 4,-1 2,3 1,4-1,4-2,2-4,1-3,-3zM174,182l4,-1 11,2 4,3 3,3 1,4-4,4 3,11 9,-1 3,6 4,1 12,6 0,3-1,4-1,4 5,1 4,-2 8,-10 3,-2 4,3 4,3 0,10-4,3-4,1-7,-1-8,5-15,-1-4,1-9,8-81,0-3,-8-1,-7 1,-4 2,-2 16,-7 3,-1 8,3 4,0 4,-2 19,-17 2,-4-1,-8 0,-7zM201,223l1,4 3,2 3,-2 0,-4-3,-2zM77,223l3,-1 3,0 8,3 7,1 1,1-2,8-10,11-4,2-4,-2-3,-4-1,-3 3,-12z" fill="#595959"/><path d="M241,8l1,-2 3,2-3,3zM249,76l1,-1 0,17-7,-5-1,-2-3,1-2,-3 2,-2 2,-1 5,-1zM203,95l2,-2 2,2 0,3-6,5-4,1-2,-2 2,-4zM0,102l0,-2 4,0 5,2 1,4 0,4-2,3-4,1-4,0zM162,106l1,-1 2,1-1,4-1,1-2,-1zM231,121l4,-2 7,0 1,2-1,8-4,7-3,3-4,0-3,-3-1,-3zM86,148l1,-2 4,-1 15,7 5,3 3,4 1,4-1,2-4,4-8,9-4,8-3,2-12,6-3,-1-8,-6-4,0-2,2-2,8-4,4-3,1-4,1-4,-2-4,-5-3,-3-4,-1-6,9-1,4 3,7 0,8 1,7 0,4-2,4-4,4-2,5-2,2-6,4-4,-1-4,-7-1,-3-1,-16-1,-3-4,1-1,-1-1,-8 2,-7-3,-8-1,-1 0,-6 4,0 4,-2 3,-7 3,-7 0,-7 1,-5 4,-1 6,13 2,2 3,1 4,-3 4,-1 4,1 3,0 3,-7 1,-2 8,-4 11,0 5,-2 10,-7zM212,159l4,-1 2,5-2,4-4,1-1,-1-1,-4zM174,186l4,-3 11,2 4,4-4,8 3,4 1,4-1,3-3,4 0,4 0,1 8,-4 4,1 1,2-4,4-1,3 2,4 7,8 1,4-2,3-11,8-74,0-3,-8-1,-7 1,-4 8,-3 8,-4 3,-1 8,2 4,0 4,-2 20,-18 2,-4-1,-8zM215,223l2,0 0,4-1,1-2,-1zM238,223l4,-2 4,3 4,3-1,4-3,2-4,1-3,-1-2,-2-1,-4zM83,227l4,-1 4,2 2,3 1,4-7,8-4,2-3,-1-3,-5 1,-4z" fill="#696969"/><path d="M250,80l0,9-4,-2 0,-4zM0,106l4,0-4,1zM233,125l2,-1 3,1-2,4 1,4-2,3-4,1-1,-1-1,-3 2,-6zM89,148l2,-1 13,5 8,7 1,4-5,4-10,16-3,4-12,5-3,-1-4,-3-8,-4-5,5-1,8-5,4-4,0-4,-2-4,-6-10,-7-3,-4 1,-4 1,-1 4,-1 7,0 3,-2 3,-7 2,-2 8,-2 7,-1 8,-3 7,-5zM17,182l2,-2 10,6 2,3 0,4-5,8-1,4 0,3 2,4 0,8 3,7-1,4-2,4-8,5-4,0-2,-5-1,-15-3,-8 1,-11-2,-8 7,-10zM178,186l8,1 4,2-5,8 4,3 2,5-1,3-6,8 2,7 3,3 4,0 1,1-1,4 8,4 2,4-2,2-4,2-4,3-4,2-7,-1-1,-1-3,-11 0,-4-4,2-2,6-2,1-3,0-3,-1-5,-7-4,3-1,4-3,3-7,5-11,3-12,-1-3,-7 0,-7 3,-3 8,-1 3,-4 4,-2 12,1 5,-3 15,-15 6,-3 1,-4-1,-8 0,-3zM240,227l2,-2 4,2-4,4zM86,231l1,-1 2,1 2,1 1,3-5,6-4,2-4,-4 2,-4z" fill="#7d7d7d"/><path d="M88,152l3,-3 7,2 8,4 4,4 1,4-6,4-3,7-8,12-11,5-3,-1-6,-4-2,-7-4,2-8,8-1,8-2,2-4,0-4,-2-3,-8-6,-3-2,-5 7,-2 4,-4 2,-5 2,-3 15,-3 8,-3 7,-5zM177,189l1,-1 6,1-2,4 0,4 5,4 3,4-2,3-7,8 3,4-1,3-1,2-8,3-1,-1 2,-4-5,-4-3,5-12,8-4,7-7,6-11,3-8,0-4,-2-1,-4 1,-6 8,-2 4,-5 3,-2 8,0 8,-1 18,-18 5,-3 1,-4-1,-8zM17,216l2,-3 4,8 1,6-1,4-4,2-4,-13z" fill="#969696"/><path d="M90,152l1,-1 4,0 4,1 5,3 4,4-1,4-4,4-1,3-4,7-3,3-3,6-9,4-3,-2-3,-2-1,-4 3,-4-3,-3-8,3-7,8-4,1-10,-5 4,-8 2,-5 19,-5 11,-6zM51,193l2,-1 3,1 1,4-4,1zM177,193l1,-3 2,3 0,4 8,8-2,5-4,2-3,4 3,4 0,2-4,1-4,-5-4,0-7,7-9,6-5,8-5,4-11,4-9,-1-2,-4 1,-3 6,-3 7,-7 8,0 8,-2 18,-18 4,-2 3,-2z" fill="#aaaaaa"/><path d="M94,152l8,3 4,4-5,8-3,8-3,1-5,-2-2,4 2,4 0,4-7,3-3,-2-2,-1 0,-4 3,-4-1,-3-4,-2-10,5-5,7-4,0-6,-3 0,-4 2,-8 23,-6 4,-2 11,-10zM178,193l0,-1 1,5 3,4 4,2 1,2-1,4-4,1-4,4-8,2-7,8-4,3-4,2-2,2-5,8-4,4-11,3-6,0-2,-1-2,-3 2,-3 4,-2 7,-7 12,0 7,-4 6,-6 13,-12 4,-3zM177,220l1,-3 3,3-3,1z" fill="#cbcbcb"/><path d="M90,155l5,-1 3,1 2,0 4,4-5,8-1,3-3,2-4,-1-6,3-1,4 3,3 0,5-4,1-4,-1 1,-4 3,-4 0,-4-3,-2-4,0-8,4-7,7-4,0-2,-1-2,-4 1,-4 2,-4 24,-6 3,-2zM178,201l0,-3 1,3 7,3 0,1 0,2-4,1-3,-3zM170,212l4,-1 2,1-6,1zM137,231l14,0-5,8-5,3-8,3-4,0-4,-2 0,-1 3,-3z" fill="#e2e2e2"/><path d="M94,159l4,-2 3,2-3,5-3,1-4,-2zM59,170l13,-2 4,0 1,2-13,6-3,5-4,-1-1,-2 0,-4zM135,235l1,-2 4,0 2,2-1,4-4,3-4,2-6,-2z" fill="#f0f0f0"/></g></g></g>
<rect x="354.5" y="147.3" width="125.2" height="124.3" fill="none" stroke="#000" stroke-width="1.1" />
<text x="531.3" y="103.0" font-size="15.28" fill="#000" textLength="55.5" lengthAdjust="spacingAndGlyphs" >IR from</text>
<text x="520.2" y="120.2" font-size="15.28" fill="#000" textLength="77.8" lengthAdjust="spacingAndGlyphs" >20250725</text>
<text x="514.4" y="137.5" font-size="15.28" fill="#000" textLength="89.4" lengthAdjust="spacingAndGlyphs" >at 1300UTC</text>
<g transform="translate(496.5,147.3) scale(1.0008,0.9944)" clip-path="url(#ct)"><g filter="url(#bt)"><g transform="scale(0.5)"><rect width="250" height="250" fill="#292929"/><path d="M0,0l250,0 0,250-250,0z" fill="#2c2c2c"/><path d="M0,0l250,0 0,250-250,0zM152,30l-4,4-8,2-1,2 1,5 4,2 8,3 3,-1 3,-2 0,-3-2,-4 0,-8-1,-2z" fill="#323232"/><path d="M7,0l29,0-1,8 7,0 7,-1 3,12 17,11 7,3 7,13 4,1 15,-3 8,1 4,2 8,10-2,4 0,3 0,4 1,4 8,2 3,-2-3,-3-4,-2-3,-3 1,-3 3,-4 7,-2 7,2 1,7 23,12 6,7 8,6 2,2 0,4-3,7 1,1 8,-2 5,5 0,4-1,4-4,3-6,4-1,8 3,2 7,-8 6,6 0,4 2,2 2,-2 0,-4 9,-8-3,-7 0,-4 2,-8-3,-7 5,-4 3,-4-2,-7-5,-2-5,-6-2,-4 0,-4 10,-11 2,-4-2,-1-3,-6 0,-4 3,-4 4,-1 8,7 11,3 4,0 3,-5 4,-4 8,-11 0,112-8,3-3,-1-8,-8-4,-2-4,-3-11,-1-3,2 3,4 0,5 8,-1 7,3 4,3 4,6 5,-1 10,-5 0,65-4,-1-1,2-1,7-2,4 0,11-2,15-2,4-3,4-13,0 3,-15-2,-11-1,3-2,1-4,0-2,-1-1,-4 3,-3 4,1 3,2 5,-11 4,-4-1,-2-11,2-4,-1-4,-2-3,3-1,8-3,4-1,3 0,4 4,8 2,7 1,4-1,4-44,0 6,-8 2,-1 8,-1 2,-1 7,-8-2,-4-3,-1-8,1-4,3-4,0-10,1-2,4 0,4-3,2-2,-2 0,-4-1,-4 0,-4-1,4-11,6-7,0-4,-2-4,0-2,11-3,4-120,0 0,-237zM136,128l0,5 3,7 1,4-4,15 0,4 3,4 0,3-3,4-6,4 3,8-1,3-3,3-1,1 1,8-5,7 1,3 4,0 1,1-1,3-4,2-1,3-1,3 2,11 2,-7 6,-9 3,-1 4,0 4,-2 4,-4 7,-6 8,-1 7,-6 3,-1 0,-4-6,-9-3,-2-5,-2-7,-13 0,-4 3,-8 4,-3 8,0 3,-4-7,-2-2,-2-2,-8-4,-1-7,1-4,-2-4,-4zM182,139l-6,5 6,7 2,1 1,3-1,4-2,3-7,5 3,1 2,2 2,9 4,4 4,3 7,-4 2,-4-5,-11-1,-8-7,-7 0,-8zM79,0l5,4 1,4 0,3-2,2-3,2-12,2-2,-2 2,-2 4,0 2,-2 2,-2zM129,0l14,0-3,9-4,0-3,-3zM199,4l2,-4 22,0 4,8 2,3-6,5 0,3-7,6-8,3-3,-1-8,3-2,4 1,8 0,7-3,7-4,3-11,-2-2,-4 4,-4 1,-4-2,-7-1,-2-2,-2-6,-2-3,-2-2,-3 1,-4 8,-6 19,-8zM247,0l3,0 0,7zM107,19l3,-3 4,-1 2,4-2,4-4,3-4,-1-1,-2zM143,19l1,0 2,4-2,1-2,-1zM140,182l4,-2 11,4 2,2 0,3-2,4-3,3-8,-1-3,-2-3,-4z" fill="#363636"/><path d="M207,0l11,0 1,4-2,4 3,0 1,3-2,8-3,4-4,2-11,1-9,4 3,15-2,5-4,3-3,-3-2,-5-2,-11-8,-3-4,-3-1,-1 1,-4 8,-5 11,-3 8,-3 15,-1-7,-2 0,-5zM10,15l1,-3 4,-1 12,2 7,3 8,-1 7,7 8,4 6,4 9,12 3,3 6,4 6,3 4,0 7,4 4,-1 4,-3 5,12 1,8 5,5 4,2 8,5 11,-7 8,-1 5,4 0,3-3,4-1,4 3,1 3,4 4,3 8,-4 4,0 2,3-1,4 0,4 1,4 1,4 2,7-3,8 0,4-1,3-2,1-3,-1-2,-7-2,-3-11,5-4,0-4,-2-4,-5-7,-6-4,-2-1,1 0,8 4,15 0,15-2,12-6,3-1,4 5,12-3,6 1,9-5,7-1,4-1,8 4,11 0,4-3,7-6,7-5,1-4,-8-3,-8-4,3-1,5-2,4-4,4-91,0 0,-230 8,-2zM207,38l1,-1 4,-1 3,2 2,4-1,3-4,0-4,-3zM242,42l0,-1 4,1 2,3 2,2 0,45-2,6 2,6 0,8-4,1-2,4-1,4-2,4-2,2-4,0-4,-1-8,-5-7,-1-4,-2-3,-4 0,-4 4,-8 0,-4 2,-3 8,-2 3,-2 1,-2 1,-6 3,-3 4,-5 4,1 0,-4 0,-3-4,-1-12,2-2,-2-4,0-9,7-3,-1-4,-6 0,-4 3,-3 4,-5 7,-3 1,-1 1,-3-1,-4 4,-1 7,3 3,2 0,4 1,2 5,-2 3,-3zM218,76l2,-2 3,1 1,5-1,3-3,3-3,-3-1,-3zM179,106l3,-2 4,-1 3,3-1,8-2,2-4,1-4,-3 0,-4zM187,129l2,-3 3,3-1,4-2,2-2,-2zM201,129l4,-3 3,1 2,2 0,4-2,2-3,1-4,-3zM193,144l0,-1 4,-1 4,4 4,1 7,-5 8,-1 4,3 0,4 2,4 9,2 4,-2 3,-3 8,-1 0,40-4,5-7,6-4,1-12,6-3,0-8,-3-9,2-3,3-1,8 1,7-3,5-4,-1-3,-4-1,-2-3,-1-8,5-8,4-7,-1-4,-2-4,-6-7,-4 1,-4 6,-4 8,-2 7,-6 7,-3 5,-7 15,-4 6,-4 2,-4 0,-4 0,-4-5,-11-1,-7-5,-4zM158,163l1,-1 4,1 1,4-1,2-4,-1-1,-1zM173,170l1,0 4,2 1,2-1,2-4,1-3,-3zM234,208l5,-3 2,3 0,19-4,12-6,9-4,2-1,-8 1,-7 0,-12 2,-7zM136,223l4,-1 4,0 2,5-6,6-4,0-4,-2 0,-4zM195,239l2,-2 4,1 0,4-4,1-2,-1z" fill="#3c3c3c"/><path d="M196,15l5,-1 15,0 1,5-5,5-11,1-12,4-11,0-5,-2 2,-4 6,-4 8,-1zM18,19l5,-2 4,1 7,3 11,3 12,4 5,6 1,4-1,7 2,4 16,4 3,4 1,4 3,3 15,-3 4,2 1,1 0,8 7,8-1,3-2,4-1,12 4,-1 7,-9 4,0 4,2 1,4 6,3 0,2 1,-2 7,-4 4,0 4,2 7,8 8,4 3,6 3,7-3,3-7,-3-4,1-7,6-4,0-4,-2-7,-9-1,-7-3,-4-2,4-2,2-5,2-2,3 2,8 0,8 5,7-1,4-4,4 1,7-4,1-4,-1-1,4 1,11 7,12 1,19-7,11-1,8 4,7 0,4-3,11-4,4-4,1-1,-1-4,-7-3,-9-2,-3-1,-7 1,-4 2,-5-4,1 0,19-3,9-4,3-4,-1-12,0-7,3-1,1 0,4-67,0 0,-222 6,-1zM186,34l3,-1 3,5 1,7-4,5-3,-4-2,-4-1,-4zM211,38l1,0 0,4zM218,53l2,-3 3,-1 8,9 8,-1 7,-7 4,1 0,36-4,4-4,0-3,4 0,3 7,8 0,4-5,7-1,4-5,4-4,-1-8,-5-7,-2-4,-3-1,-4 6,-12 3,-2 3,0 4,-3 4,-10 4,-4 4,2 2,-1 1,-3 0,-5-3,-9-4,3-4,1-4,0-7,-1-4,1-8,5-3,-1-2,-3 0,-4 5,-6zM181,106l5,-2 2,2 1,4-3,5-4,1-2,-2-1,-4zM202,129l3,-2 3,1 1,5-4,2-2,-2zM207,152l5,-3 4,3 4,0 15,6 4,0 7,-3 4,1 0,24-6,9-5,6-4,2-8,6-7,1-8,-2-4,0-10,3-4,3 1,4-2,4-10,4-9,6-7,1-4,-1-3,-3-1,-3-8,-4 1,-4 3,-2 4,-1 11,-8 8,-3 8,-8 15,-4 4,-4 4,-8 1,-7-4,-4-1,-4 0,-4zM238,208l1,0 1,4-1,15-2,8-2,3-4,4-2,-3-1,-16 1,-3 2,-6 4,-4zM193,220l0,-4 1,4 3,1 1,2-1,2-4,0-1,-2zM134,227l2,-2 4,-1 3,3-3,3-4,1z" fill="#434343"/><path d="M192,19l5,-3 4,0 11,1 2,2-2,2-4,2-3,0-16,4-8,-4 5,-2 3,-1zM18,23l5,-2 4,0 30,10 2,3 1,4-2,4 1,3 2,4 9,8-2,4 3,3 9,4 8,8 3,1 7,-2 9,5-2,7 1,11 4,6 5,2 1,15 1,4-1,4-4,4 2,7-2,4-2,1-1,3 1,7 2,4-1,11 6,5 6,7 1,4 0,15-7,9-1,6 0,4 3,7 1,4-4,11-2,3-4,0-2,-3-4,-7-2,-12 2,-11-1,-11 0,-4 9,-15 0,-4-2,-6-4,0-4,0-2,2 0,4 2,4 0,4-6,11 0,4 2,4-1,3-2,2-4,-1-5,3 5,4 3,4 2,7-1,6-4,2-3,4-5,1-3,-1-10,3-5,4-1,4-9,0-6,-4-1,0-1,4-47,0 0,-220 11,-3zM185,38l1,-1 3,-1 2,2 1,4-3,5-3,-4zM217,57l3,-3 3,-1 8,7 5,1-2,3-7,1-7,-2-4,2-8,4-3,-1 0,-4 3,-4zM245,57l1,-3 4,1-1,13 1,16-4,0-1,-4 0,-8-2,-8zM233,83l2,-1 2,1 0,8-2,7 4,5 3,3 2,4-4,4-4,7-1,1-4,0-4,-2-10,-6-3,-4 3,-8 3,-3 10,-4 1,-8zM142,98l2,-1 4,0 4,2 9,11 1,4-2,3-8,7-4,1-6,-8-2,-3 0,-8 0,-4zM126,102l3,-2 2,2-2,6-4,2-1,-4zM183,106l3,-1 1,1 1,4-2,4-4,0-2,-4zM204,129l1,-1 1,1 0,4-1,0zM207,155l1,-2 4,-1 3,3 1,4-3,4-5,0-2,-4zM217,159l3,-2 7,2 4,2 4,5 4,1 7,-6 4,2 0,4-2,7-3,4-3,9-15,15-4,2-3,0-7,-3-5,0-14,4-3,3 0,4-17,13-7,1-5,-3-3,-11 11,-9 8,-4 8,-8 15,-4 4,-2 3,-5 3,-2 3,-4 4,-7zM235,212l2,4 2,7-4,12-4,3-1,-15 2,-7z" fill="#4d4d4d"/><path d="M196,19l5,-1 9,1-9,2-4,2-4,0zM18,27l12,0 10,3 2,3 11,9 7,11 2,4 0,4 3,3 13,8 5,8 15,3 4,12-2,7 2,4 0,4-2,4-2,0-3,3 3,8 4,4 5,15 1,8 1,7-1,4-12,11-1,4-8,3-4,3 0,2 5,7-1,4 3,4-1,4-8,3 0,4 2,5 3,3-4,3-6,4-4,4 3,8-8,3-6,8-4,-1-8,-7-4,0-3,8-6,0-6,-3-5,3-25,0 0,-218 11,-3zM223,57l6,4-2,1-4,0-2,-1zM146,102l2,-1 4,1 7,8 0,4-4,3-7,2-4,-5 0,-4zM220,102l7,-2 4,1 1,1-1,8 2,4-1,3-5,1-9,-8 0,-4zM181,110l1,-2 4,-1 1,3-1,2-4,0zM105,117l1,0 0,6zM210,155l2,-1 1,1 0,4-1,1-4,-1zM115,182l2,-4 4,5 1,3 1,11 0,4-6,7-2,8-1,4 1,3 3,4 0,4-2,8-2,4-4,0-5,-8-2,-8 0,-4 3,-15-2,-7 2,-4zM228,182l3,-3 4,0 2,3 0,4-2,2-1,5-7,8-4,2-3,0-8,-3-4,0-15,4-4,4 0,4-15,11-4,1-3,0-3,-4-1,-8 2,-4 5,-4 9,-3 7,-8 15,-4 4,-2 3,-3 4,-1 4,6 8,-3zM89,223l2,0 0,4zM234,223l1,-2 0,2 0,5-1,-1z" fill="#595959"/><path d="M2,34l17,-3 11,0 3,3 1,4 8,11 0,8 7,4 8,6 8,1 5,4 3,4 2,4 5,3 3,2 8,0 3,2 2,4 0,4-5,7-3,12 1,3 5,8 1,4 1,7 4,4 2,1 3,3 1,8 2,7-10,10-3,1-4,0-8,2-3,-3-4,3-4,6 1,4-2,7 0,8-7,7-2,1 1,3-3,8 1,4-2,11 11,8-6,3-3,4-4,0-4,-4-2,-7-6,-6-3,-3-1,1 1,2 3,6-1,4-6,4-8,-1-3,1-8,4-8,0-2,3-9,0 0,-215zM68,138l-1,10 1,1 2,-1zM148,106l4,-1 3,3 2,2 0,4-2,1-3,1-4,-1-2,-1 0,-4zM117,182l3,4 2,11-1,4-6,7-3,8-1,4 4,7 1,4-2,9-4,0-5,-9-1,-4 0,-4 3,-7 1,-4 0,-4-2,-7 4,-8zM205,189l3,-2 8,3 6,-1 5,-2 4,1 0,5-4,6-4,3-3,0-8,-3-4,0-15,4-4,2-2,7-9,7-4,2-4,1-3,-1-2,-9 2,-4 13,-7 7,-8 6,-2 8,0z" fill="#696969"/><path d="M15,38l8,-1 4,1 4,7 5,16 13,15 4,2 11,3 12,10 11,2 1,2-3,7-2,23 0,6 3,2-1,15-5,3-4,-5-1,-2 0,-8-2,-3-1,-2-11,-2-1,4 3,7 0,8 7,7 3,8 0,4-4,7-1,4 1,4-3,7 0,4-2,1-7,1-4,4-11,13-4,3-4,10-4,1-7,-6-4,0-6,3 1,8-6,8-4,2-4,-1 0,-198 11,-2zM149,110l3,-2 2,2-1,4-3,0zM93,144l5,-2 4,1 1,1 3,15-8,8-4,0 0,-8-2,-4-1,-3 0,-4zM117,189l0,-1 2,9-5,10-4,1-1,-7 1,-4zM191,193l10,0 7,-4 8,3 11,-1 2,2-1,4-5,3-11,-2-4,0-7,1-12,4-1,2-3,7-7,5-4,2-4,0-3,-3 0,-4 3,-4 4,-1 8,-5 4,-6zM106,223l0,-1 4,2 2,3 1,4 0,4-3,2-4,-7z" fill="#7d7d7d"/><path d="M0,68l0,-3 11,6 4,4 4,0 11,-2 4,0 6,7 4,11 9,9 4,1 4,-3 0,-3 3,-2 4,1 10,4 1,4 0,12-1,3-2,4-4,1-4,-1 0,-4 3,-3-3,-7-4,-4-2,3 0,8-3,7-2,12 2,7 1,8 2,4 5,3 2,4 0,4 0,4-5,11-13,11-5,8-12,11-4,1-11,-2-4,1-1,0-1,4-2,2-3,1-8,-1zM15,157l-2,2 2,3 3,-3zM34,91l4,3 3,-3-3,-3zM97,144l1,-1 4,2 2,10 0,4-6,5-1,-1 0,-4-3,-7 0,-4zM205,193l3,-1 8,1 7,0 1,0 1,4-2,1-3,0-8,-2-15,3-8,3-3,3-4,7-4,3-4,1-2,0-2,-3 0,-1 12,-9 4,-6 7,-3 8,2 4,-2z" fill="#969696"/><path d="M6,80l2,-1 7,3 12,-2 3,1 3,2 0,4-1,4 2,4 4,2 4,0 3,2 9,7 3,4-3,7 1,8-1,8 3,7-1,8 2,4 5,3 3,4-1,8-4,10-16,12-2,4-5,4-4,6-4,2-7,-3-11,-1-2,-4 2,-4-4,-4-4,-1-1,5-3,3 0,-36 15,8 4,0 5,-5 0,-4-1,-5-4,-7-8,0-1,1 2,4-1,0-3,0-8,-1 0,-71zM96,148l2,-3 3,3 2,7-1,5-4,0-2,-8zM189,197l4,-1 5,1-5,1-4,3-2,0z" fill="#aaaaaa"/><path d="M23,83l4,2 2,2 2,8 3,3 0,4-7,5-4,3 5,11-1,3-1,5 5,0 8,-8-1,-2-4,-2-3,-3 3,-7 4,-3 4,-1 3,3 5,4-1,7 4,12-2,4 0,7-3,12 0,3 5,5 4,-1 4,0 0,4-13,4 1,3 3,8-2,4-8,3-4,3-8,10-9,-5-3,-4-4,-3-1,-4 6,-5 8,-10 3,-1 3,-3 1,-3 4,2 2,-3 0,-4-2,-3-8,4-3,0-3,-8-7,-4-6,-1-7,5-4,-1 0,-41 8,0 2,-4 1,-15 0,-1zM98,148l0,-1 1,1 1,4-2,3z" fill="#cbcbcb"/><path d="M16,95l3,-3 4,3-4,4zM8,121l7,1 4,3 1,4-3,4 2,1 8,1 7,-1 4,2 2,4-1,4-5,5-4,-1-11,-6-8,0-7,2-4,0 0,-22z" fill="#e2e2e2"/><path d="M1,133l3,-4 4,2 3,5 0,4-7,2-4,0 0,-8zM28,140l2,-1 4,0 1,1 0,4-1,1-3,-1z" fill="#f0f0f0"/></g></g></g>
<rect x="496.5" y="147.3" width="125.1" height="124.3" fill="none" stroke="#000" stroke-width="1.1" />
<text x="673.6" y="103.0" font-size="15.28" fill="#000" textLength="55.5" lengthAdjust="spacingAndGlyphs" >IR from</text>
<text x="662.5" y="120.2" font-size="15.28" fill="#000" textLength="77.8" lengthAdjust="spacingAndGlyphs" >20250725</text>
<text x="656.7" y="137.5" font-size="15.28" fill="#000" textLength="89.4" lengthAdjust="spacingAndGlyphs" >at 1000UTC</text>
<g transform="translate(639.3,147.3) scale(0.9936,0.9944)" clip-path="url(#ct)"><g filter="url(#bt)"><g transform="scale(0.5)"><rect width="250" height="250" fill="#292929"/><path d="M0,0l250,0 0,250-250,0z" fill="#2c2c2c"/><path d="M0,0l250,0 0,250-250,0z" fill="#323232"/><path d="M0,0l110,0 1,15 2,12 2,3 4,4 1,4 0,7 1,3 8,1 2,4 0,4 2,0 4,0 1,-4-1,-4 3,-1 2,1 0,4 2,1 11,0 4,-2 2,-3 1,-7 4,-8-3,-3-3,-4-1,-4 1,-4 3,-5 4,1 7,4 4,-2 3,-9 5,-8 22,0 4,7 4,-5 0,-2 34,0 0,115-11,5-4,-1-4,2-4,6-6,6 3,7-2,12-3,7 0,8 1,3 10,4 1,8 6,7 1,12-3,4-8,-2-9,5 0,4 2,3 6,5 5,9 4,1 11,-1 4,1 0,20-25,0-2,-6-11,-2-1,0 2,4-1,1-4,-2-3,-1-12,2-6,4-187,0zM205,97l-8,9 3,4 1,8 3,7 0,4 1,3 3,-3 8,-2 2,-2 1,-8 0,-3-3,-8 1,-4-1,-4-4,1zM201,131l-12,4 0,1 4,2 8,-1 2,-1 1,-3zM239,125l3,-2 4,1 3,5-1,4-6,6-3,-1-3,-2-2,-3 0,-4zM250,152l0,30-4,1-4,0 0,-1 6,-12 0,-7-1,-8zM248,201l2,-1 0,11-3,-3-2,-3z" fill="#363636"/><path d="M0,0l79,0 16,4 7,-2 4,2 1,4 0,7 1,8 5,11 3,4 0,11 1,6 6,6 13,3 4,-1 8,-4 7,-1 8,-5 3,-11 4,-6 4,-3 8,0 3,-3 1,-7-2,-4 2,-5 7,3 12,-4 11,2 4,-2 0,-5 8,-8 22,0 0,109-15,6-8,0-5,-5-1,-4 1,-4-1,-7-5,-10-4,1-4,2-3,0-4,-3-4,-2-8,3-3,1-8,-7 2,-8-2,-4-8,-2-3,1-4,3-8,2-7,4 2,4 11,7 2,6 4,3 3,-3 4,0 4,3 11,-1 4,1 3,2-1,4-1,4 3,3 3,5-1,3-3,4 5,4-1,4-3,2-4,0-3,-2 0,-4-4,-1-8,-5-4,-2-5,19-3,8 1,2 3,1 12,-6 19,-1 7,-3 4,0 4,1 2,2-3,12-3,6-4,3-3,-3-1,-3-3,-3-12,6-11,0-6,1 2,5 4,1 8,-3 7,2 2,3 1,3 1,1 11,-8 4,0 2,4-1,11 1,8 9,1 3,2-1,4-5,6-8,0-4,-1-1,-1-1,-4-1,-1-4,4-1,5 1,4 7,15-2,3-9,9-11,4-3,6-5,6-3,2-17,0-3,-2-3,1-1,1-151,0zM238,129l4,-3 5,3-2,4-3,3-3,-1-2,-2zM221,231l2,-1 3,1 2,4 7,1 4,0 7,-4 4,0 0,18-21,0-2,-4 2,-7-2,-3-4,1-3,-1-1,-1z" fill="#3c3c3c"/><path d="M0,0l72,0 2,4 10,7 2,8 3,4 6,4 3,0 8,1 2,2 2,6 4,3 1,3-2,11 1,8 3,3 12,1 6,3 3,12 6,3 4,1 5,3 8,11 1,4-1,8 3,7 0,8 2,8-4,7 0,4 1,5 4,3 7,-6 12,-4 19,-1 3,-2 5,1 0,4-1,1-19,10-15,0-8,2-3,0-4,2-1,4 5,1 2,3 4,7 1,4 4,1 12,-1 8,-4 7,-6 3,-2 2,1 2,3-1,8-3,4-3,3-4,1-4,3-2,8-2,4 3,7-3,4-4,2-11,3-5,3-2,3 3,12-1,4-2,7-4,3-4,0-8,-5-3,0-2,6-150,0zM230,4l2,-4 18,0 0,102-4,1-4,0-3,3-1,4-3,3-4,1-4,-2-2,-2-1,-4 2,-4 0,-7-1,-4-5,-6-4,-6-8,5-7,-4-4,-1-8,3-4,-2-1,-4 0,-8-2,-5-5,-2-3,-5-4,0-3,3-1,-2 4,-15 7,-4 12,-4 2,-7 2,-5 4,-3 8,-2 3,0 8,2 4,0 4,-11zM160,61l3,-1 2,1-7,7-10,2-5,-2 3,-4 2,0 4,1zM171,98l3,-1 4,1 8,-1 5,1 2,4 0,8 4,1 1,3-1,4-4,4-4,1-3,-1-9,-8-1,-4 2,-4-4,-5zM195,125l2,-1 1,1 0,4-1,1-4,0-1,-1zM241,129l1,-1 2,1 0,4-2,1-3,-1zM245,235l5,-1 0,16-4,-1-4,1-11,0-3,-4 3,-5 8,-3z" fill="#434343"/><path d="M0,0l11,0 0,1 2,-1 54,0 1,10 2,1 6,2 1,2 0,4 6,3 12,8 3,1 4,-1 4,4 0,4 4,4 2,3-3,16 2,3 6,4 8,0 4,2 2,2 0,8 2,2 8,5 3,1 4,1 3,2 6,7 1,4-2,4-1,4 3,7-3,4 1,4 4,4 1,4-2,3-1,4 1,7 2,5 0,3-6,8 0,4 4,2 5,1 3,3 0,5-2,8 5,3 4,0 1,-3 3,-3 15,-5 7,-4 5,-5 3,-1 3,2-1,8-2,2-9,6-4,3-2,8-4,4-2,7-1,1-1,-1-2,-7-5,-4-2,0-2,6-7,5-1,8-1,4 2,7 0,4-4,-1-4,-7-4,0 0,8 4,3 4,0 4,3 0,5-4,2-11,-5 0,-1-3,12-149,0zM42,1l-1,3 1,0 2,0zM234,4l1,-4 15,0 0,98-8,0-7,4-3,-4 0,-3-4,-8-5,-3-4,-4-1,-4 3,-8-1,-5-4,-1-15,10-8,3-4,-1 0,-6-5,-11-1,-4 3,-3 3,-1 4,-5 1,-2-1,-12 1,-3 3,-4 11,-3 5,3 0,4 3,2 0,-2 6,-8 3,-8 2,-3zM179,102l3,-2 4,-1 3,1 2,2 0,8 2,3 4,1-7,7-1,1-3,-2-7,-6zM227,106l4,-3 2,3 1,4-3,1-4,-1zM183,144l3,-1 11,-1 11,1 2,1-17,10-4,1-15,-1-4,-1 0,-1 4,-4 4,-3zM240,239l6,-4 4,0 0,13-4,0-5,2-9,0-2,-4 1,-2 4,-3z" fill="#4d4d4d"/><path d="M0,4l0,-1 4,1 7,5 4,-1 7,-4 1,-4 4,0 0,2-2,2 2,1 3,7 8,-2 23,10 7,-1 8,6 7,2 8,3 4,5 5,3 2,4-4,2-3,0-2,1 0,8 0,4 2,2 3,3 4,0 8,6 4,4 7,1 4,1 4,9 4,3 3,2 8,8 4,-1 5,3-1,4-3,4 4,8 0,3-2,4 1,2 5,10-1,7 2,15-4,8-1,4 2,6 2,1 1,4 1,8 3,7-4,4-1,8-2,3-3,3-1,12 1,4-2,4-3,4 1,7-1,8-51,0-1,-5-2,1-1,4-92,0zM23,50l-4,3 4,3 3,-3zM45,28l-1,2 1,3 4,1 1,-4-1,-2zM98,184l-2,5 0,4 2,4 0,4 0,4 2,-4 0,-4 2,-1 2,-3 0,-4-2,-4zM238,0l12,0 0,82-4,0-3,5-4,2-4,-2-4,-6-8,-4 2,-5-2,-8-2,-11-2,-8 0,-3-1,-8 1,-7 6,-8 3,-8 3,-2 4,-1 2,-4zM198,30l3,-3 4,0 2,3 5,12 0,3 0,4-4,2-7,0-4,-1 0,-5 2,-3zM103,53l3,-3 2,3-2,5-3,-1zM181,102l5,-1 2,1 1,3 0,9-3,3-4,-3-2,-4zM188,144l9,-1 7,1-3,4-8,4-4,2-3,-1-12,-1-1,0 5,-5zM207,170l1,0 1,0 1,4-2,4-11,8-4,3-2,8-2,2-3,1-8,-7-1,-4 2,-3 3,-3 11,-4zM242,239l4,-2 4,-1 0,10-4,0-7,4-4,0-3,-4 3,-4z" fill="#595959"/><path d="M241,0l9,0 0,69-8,-1-7,-3-4,1-4,0-2,-5-1,-8-2,-8-1,-11 1,-7 5,-7 2,-5 2,-3 8,-3 1,-1zM0,15l8,-1 7,2 4,-1 8,4 3,-1 4,-4 4,0 4,3 6,2-3,2-11,0-4,1 0,8-3,3-4,1-4,4-1,7-3,8 0,4 4,5 15,2 4,-1 4,-2 2,-4 0,-4 1,-3 8,-1 2,-4 2,-10 4,-4 9,7 2,1 4,-4 4,0 4,3 1,4-1,7 7,13 14,10 5,7 7,-1 4,0 2,2 6,9 4,2 3,3 3,8 10,12-1,7 1,4 4,8 1,11 1,8 0,3-5,12 5,15 0,7-4,12-3,15 0,11-3,8 1,7-2,8-1,0-5,-11-2,-18-3,-5-4,4 0,3 5,8-1,4-3,7-5,3-6,5-3,0-2,-4-4,0-4,4-5,0-2,-4 1,-7-1,-4-1,-2-3,-1-4,3-4,5-3,6 0,4-84,0zM95,174l-3,4 0,4-3,11 0,4 1,8 2,3 6,6 4,-2 2,-4 5,-11 1,-9 4,1 3,11 2,1 3,0 0,-15-1,-4-4,-3-3,1-8,-8zM133,108l-4,9 0,4 0,8 4,6 3,-4 2,-6-2,-11zM140,163l1,4-4,11-1,8 4,6 2,-3-1,-7 1,-4 3,-4 1,-7-2,-8zM129,157l-2,2 2,3 5,-3-1,-1zM182,106l4,-3 2,3 0,4-2,4-4,-4zM179,148l7,-2 11,-1 2,3-10,4-7,0zM203,174l2,-1 3,1-1,4-10,6-6,5-2,8-3,1-6,-9 2,-3 7,-4zM246,239l4,-1 0,6-4,0-4,1-3,3-4,-1-1,-1 5,-4z" fill="#696969"/><path d="M243,4l3,-3 4,5 0,56-8,0-7,-5-4,3-5,-11-1,-7-2,-4 0,-4 1,-4 5,-7 3,-8 3,-2 7,0 3,-2zM9,23l2,-3 8,1 4,2-1,4-4,3-3,8-3,4 0,7-2,4 1,4 4,8 4,2 8,1 11,0 7,-5 4,0 8,-5 8,-1 3,-2 4,2 4,4 4,1 7,7 11,3 8,12 11,0 4,2 7,9-1,7 0,8-3,11 2,15-1,4-5,4-3,9 0,2 3,8-1,4-5,1-10,-1-13,4-4,1-3,2 2,8-3,7 2,8 0,11-1,4 3,8 0,3-2,12-5,11-3,4-7,0-17,-3-4,1-2,2-26,0-6,-8 0,-7 0,-2 8,-1 0,-2-3,-3 4,-4-13,-7-3,0-8,-3 0,-176 2,-3 7,-7zM142,133l2,-4 1,4 1,3-2,1-3,-1zM186,148l7,-1 2,1-6,1zM125,170l4,0 4,0-1,16 1,3 5,8 1,4 0,4-1,3-9,6-6,6-1,3 3,8-1,4-3,3-4,0-7,-2-2,-1-2,-7-1,-8 5,-15 7,3 4,-2 7,-5 1,-4-1,-15zM147,174l1,-2 4,8 1,9-3,8-4,15 0,8-1,7-1,2-4,1-2,-10 0,-4 3,-4 0,-11 3,-4 1,-4-1,-11zM200,178l5,-1 0,1zM193,182l4,-1 1,1-9,7-3,2-2,-2 2,-3zM0,235l0,-3 3,3 0,4-1,3-2,3z" fill="#7d7d7d"/><path d="M236,19l3,-1 4,1 0,8 7,11 0,4-4,3-4,0-3,-3-8,-4-4,-3 1,-5 4,-3zM3,45l1,0 3,4-2,4-1,4 5,7 6,5 15,4 8,-1 7,-4 8,0 4,-5 4,-2 3,1 8,4 8,1 16,9 2,1 4,8 3,2 12,4 6,4 2,15-3,11 1,12-1,3-4,4-3,4-2,8 1,11-4,1-4,-1-11,4-12,1-7,2 2,8-6,8-1,3-3,6-4,-3-4,-6-3,-3-4,-1-8,2-3,3-2,2 0,4-1,4-5,1-7,3-16,-6-11,-7 0,-141zM147,182l1,-3 2,7-2,11zM144,212l0,9-4,0 0,-2zM30,223l4,-2 4,-1 11,1 4,1 8,-1 7,1 8,-1 4,3 1,3 0,8-1,5-4,6-15,-1-8,-2-7,3-3,4-9,0-7,-2-5,-6 5,-5 1,-6-2,-4z" fill="#969696"/><path d="M74,72l6,0 8,4 9,7-1,4 14,7 4,5 7,5 1,6-3,11 0,12-7,7-2,4-1,8 1,7-8,2-4,2-3,0-12,-1-3,-2-4,0-8,10-4,-2-3,-7-8,4-5,-2 3,-8-2,-7-4,-7-3,-1-4,0-4,3-1,9-1,3-5,4-8,4-3,4-1,5-4,2-11,-2 0,-94 11,-2 4,4 1,3-1,6-4,2-3,-1-4,1-2,4 2,3 4,2 7,0 4,2 0,6-3,9 0,4 7,15 4,1 3,-1-3,-11 1,-4 6,-4 8,0 6,-7-3,-4-1,-4 4,-7 1,-4-4,-4-7,-2-3,-5 1,-4 9,-3 8,4 8,0 3,3 0,3 1,-3 3,-4 4,-4zM57,102l-4,2-2,6 6,1 4,0 6,-5-3,-5zM64,83l-2,4-1,4 3,2 3,-2 2,-4-1,-1zM6,182l2,-3 3,3-3,2zM33,223l5,-1 4,2 7,0 8,3 6,0-1,4 1,4-3,4-11,3-11,6-4,-1-7,-5 3,-10 2,-1 0,-4zM71,231l5,-1 1,1 0,4-1,2-4,1-3,-3z" fill="#aaaaaa"/><path d="M37,80l1,-1 7,-3 12,4 3,3-3,5-4,1-11,-5zM94,95l12,-1 5,4 3,5 3,3 2,4-2,9-5,10-3,7-2,4-1,8 0,7-4,4-4,1-3,0-8,-3-11,-2-8,1-7,-5-4,-1-4,-2-3,-8-4,-4-8,0-4,-3-1,-4 1,-3 8,-3 7,-8 8,-1 7,-4 5,-4 3,-8 8,3zM4,114l4,-2 1,5 4,8 3,11-5,7-3,2-4,-3-1,-6-3,-5 0,-16zM23,144l4,-2 3,2 0,4-1,4-2,2-4,1-5,4-7,3-7,3-4,-1 0,-3 2,-2 9,-7 8,-1zM37,223l5,3 7,0 4,1 0,4 2,4-1,4-16,7-4,-1-3,-3-1,-3 1,-4 5,-4 0,-4z" fill="#cbcbcb"/><path d="M40,80l5,-2 12,5-4,3-8,-3zM100,98l2,-1 4,-1 3,2 3,4 0,8 2,4-3,3-5,4 0,12-3,7-1,12-1,3-3,2-3,-1-8,-5-7,1-12,-2-2,-2 0,-4-2,-4-6,0-1,4-1,-4-7,-7-9,-4 2,-1 3,-3 4,-6 8,-2 7,-5 7,-6 1,-2 11,5 12,-5zM6,125l2,-1 1,1-1,4zM38,227l4,1 8,-1 3,8-1,4-7,2-3,0-4,3-5,-2-1,-3 1,-4 5,-3z" fill="#e2e2e2"/><path d="M103,98l3,-1 1,1 3,4 0,4-9,8-1,3-4,8 1,8-6,6-8,5-3,0-1,-4-3,-1-4,2-4,-1-4,-3-7,-1-1,-3 1,-3 7,5 5,-2 3,-4-4,-7-4,-1-1,-4 2,-3 7,-4 4,1 4,4 7,0 11,-9 2,-4zM41,231l4,-2 3,2 3,4-1,4-5,1-2,-1-2,-4z" fill="#f0f0f0"/></g></g></g>
<rect x="639.3" y="147.3" width="124.2" height="124.3" fill="none" stroke="#000" stroke-width="1.1" />
<text x="848.2" y="49.7" font-size="15.28" fill="#000" textLength="171.6" lengthAdjust="spacingAndGlyphs" >Estimated MSW, knots</text>
<path d="M802.0,359.3V327.1H803.0V359.3ZM803.0,359.3V305.1H806.1V359.3ZM806.1,359.3V251.3H808.0V359.3ZM808.0,359.3V166.1H810.1V359.3ZM810.1,359.3V129.1H811.9V359.3ZM811.9,359.3V73.0H812.9V359.3ZM812.9,359.3V150.9H816.0V359.3ZM816.0,359.3V117.2H816.9V359.3ZM816.9,359.3V183.0H818.9V359.3ZM818.9,359.3V225.3H822.0V359.3ZM822.0,359.3V276.2H826.9V359.3ZM826.9,359.3V305.1H830.9V359.3ZM830.9,359.3V335.1H835.9V359.3ZM835.9,359.3V348.1H839.9V359.3Z" fill="#8b008b"/>
<line x1="827" y1="59.05" x2="827" y2="359.3" stroke="#a9a9a9" stroke-width="5.6" stroke-dasharray="5.56 9.124"/>
<line x1="815.0" y1="59.3" x2="815.0" y2="359.3" stroke="#000" stroke-width="2.1" />
<rect x="784.4" y="59.3" width="300.2" height="300.0" fill="none" stroke="#000" stroke-width="1.1" />
<line x1="818.7" y1="359.3" x2="818.7" y2="364.2" stroke="#000" stroke-width="1.1" />
<text x="809.9" y="381.5" font-size="13.89" fill="#000" textLength="17.7" lengthAdjust="spacingAndGlyphs" >25</text>
<line x1="863.2" y1="359.3" x2="863.2" y2="364.2" stroke="#000" stroke-width="1.1" />
<text x="854.4" y="381.5" font-size="13.89" fill="#000" textLength="17.7" lengthAdjust="spacingAndGlyphs" >50</text>
<line x1="907.7" y1="359.3" x2="907.7" y2="364.2" stroke="#000" stroke-width="1.1" />
<text x="898.9" y="381.5" font-size="13.89" fill="#000" textLength="17.7" lengthAdjust="spacingAndGlyphs" >75</text>
<line x1="952.2" y1="359.3" x2="952.2" y2="364.2" stroke="#000" stroke-width="1.1" />
<text x="938.9" y="381.5" font-size="13.89" fill="#000" textLength="26.5" lengthAdjust="spacingAndGlyphs" >100</text>
<line x1="996.7" y1="359.3" x2="996.7" y2="364.2" stroke="#000" stroke-width="1.1" />
<text x="983.4" y="381.5" font-size="13.89" fill="#000" textLength="26.5" lengthAdjust="spacingAndGlyphs" >125</text>
<line x1="1041.2" y1="359.3" x2="1041.2" y2="364.2" stroke="#000" stroke-width="1.1" />
<text x="1027.9" y="381.5" font-size="13.89" fill="#000" textLength="26.5" lengthAdjust="spacingAndGlyphs" >150</text>
<line x1="784.4" y1="359.3" x2="789.3" y2="359.3" stroke="#000" stroke-width="1.1" />
<line x1="1079.7" y1="359.3" x2="1084.6" y2="359.3" stroke="#000" stroke-width="1.1" />
<text x="1089.4" y="364.5" font-size="13.89" fill="#000" textLength="22.1" lengthAdjust="spacingAndGlyphs" >0.0</text>
<line x1="784.4" y1="302.2" x2="789.3" y2="302.2" stroke="#000" stroke-width="1.1" />
<line x1="1079.7" y1="302.2" x2="1084.6" y2="302.2" stroke="#000" stroke-width="1.1" />
<text x="1089.4" y="307.4" font-size="13.89" fill="#000" textLength="22.1" lengthAdjust="spacingAndGlyphs" >0.2</text>
<line x1="784.4" y1="245.1" x2="789.3" y2="245.1" stroke="#000" stroke-width="1.1" />
<line x1="1079.7" y1="245.1" x2="1084.6" y2="245.1" stroke="#000" stroke-width="1.1" />
<text x="1089.4" y="250.3" font-size="13.89" fill="#000" textLength="22.1" lengthAdjust="spacingAndGlyphs" >0.4</text>
<line x1="784.4" y1="187.9" x2="789.3" y2="187.9" stroke="#000" stroke-width="1.1" />
<line x1="1079.7" y1="187.9" x2="1084.6" y2="187.9" stroke="#000" stroke-width="1.1" />
<text x="1089.4" y="193.1" font-size="13.89" fill="#000" textLength="22.1" lengthAdjust="spacingAndGlyphs" >0.6</text>
<line x1="784.4" y1="130.8" x2="789.3" y2="130.8" stroke="#000" stroke-width="1.1" />
<line x1="1079.7" y1="130.8" x2="1084.6" y2="130.8" stroke="#000" stroke-width="1.1" />
<text x="1089.4" y="136.0" font-size="13.89" fill="#000" textLength="22.1" lengthAdjust="spacingAndGlyphs" >0.8</text>
<line x1="784.4" y1="73.7" x2="789.3" y2="73.7" stroke="#000" stroke-width="1.1" />
<line x1="1079.7" y1="73.7" x2="1084.6" y2="73.7" stroke="#000" stroke-width="1.1" />
<text x="1089.4" y="78.9" font-size="13.89" fill="#000" textLength="22.1" lengthAdjust="spacingAndGlyphs" >1.0</text>
<text transform="translate(1126.5,210.0) rotate(-90)" x="-45.6" y="0" font-size="13.89" fill="#000" textLength="91.3" lengthAdjust="spacingAndGlyphs" >Relative Prob</text>
<line x1="762.5" y1="395.9" x2="793.7" y2="395.9" stroke="#000" stroke-width="2.1" />
<text x="806.2" y="401.5" font-size="15.28" fill="#000" textLength="129.2" lengthAdjust="spacingAndGlyphs" >D-PRINT average</text>
<line x1="966.6" y1="395.9" x2="998" y2="395.9" stroke="#a9a9a9" stroke-width="5.6" stroke-dasharray="5.56 9.124"/>
<text x="1008.4" y="401.5" font-size="15.28" fill="#000" textLength="94.9" lengthAdjust="spacingAndGlyphs" >JTWC official</text>
<text x="247.5" y="441.8" font-size="18.06" fill="#000" textLength="672.5" lengthAdjust="spacingAndGlyphs" >D-PRINT SHAP Values for 2025_11W: updated at 20250725 2200 UTC</text>
<rect x="82.2" y="712.9" width="1006.3" height="7.1" fill="#e6e6e6" stroke="none" stroke-width="1" />
<polyline points="201.3,777.2 215.1,777.2 241.4,754.0 254.7,767.3 260.9,742.7 267.0,757.0 280.4,739.0 287.6,746.2 293.8,745.3 302.0,753.0 306.0,753.0 319.4,744.7 323.6,751.5 325.6,744.1 339.0,748.4 347.2,748.2 352.3,749.2 365.7,735.5 377.0,722.1 384.2,733.8 397.5,727.7 401.6,737.5 410.9,734.4 419.1,721.1 430.3,735.5 436.4,738.0 443.6,726.2 450.8,721.0 457.0,711.8 469.3,703.6 475.5,730.0 488.8,706.7 495.0,724.8 501.8,697.5 508.4,729.3 515.5,724.2 518.6,713.9 531.0,721.0 543.3,722.0 553.6,729.7 557.7,722.0 566.9,724.2 573.0,724.2 579.2,712.5 586.4,706.3 593.6,707.7 598.8,736.5 604.9,736.9 612.1,739.0 618.3,722.1 631.6,734.5 637.8,751.9 645.0,751.9 651.5,755.6 658.2,739.6 664.4,733.8 670.5,732.0 675.7,722.1 682.9,728.3 690.0,742.7 696.2,738.6 709.6,732.4 715.7,721.1 722.9,740.0 729.1,740.6 742.5,702.0 749.7,703.6 755.8,687.8 762.0,683.7 768.1,691.3 781.5,714.5 787.7,706.1 801.0,713.3 807.2,717.0 814.4,713.9 820.5,728.7 827.1,731.4 833.9,729.3 840.1,729.3 847.3,733.8 853.4,741.0 866.2,754.0 870.3,747.4 874.6,769.4 879.5,755.0 885.4,741.6 892.6,749.2 897.7,749.2 904.9,739.0 912.1,748.2 918.3,742.7 924.4,743.1 931.6,747.4 944.0,744.3 951.2,750.9 957.3,761.8 963.5,763.2 970.3,775.5 976.8,781.7 983.0,782.3 1000.5,786.8 1024.1,779.7 1036.0,782.1 1047.7,780.3 1054.9,784.4 1061.1,781.1 1087.8,783.4" fill="none" stroke="#e6194b" stroke-width="2.7" stroke-linejoin="round" />
<polyline points="201.0,720.5 900.0,720.0 960.0,719.0 1000.0,717.5 1088.0,716.0" fill="none" stroke="#46f0f0" stroke-width="2.8" stroke-linejoin="round" />
<polyline points="201.0,721.3 310.0,721.4 500.0,721.6 900.0,721.7 960.0,721.7 1000.0,721.2 1040.0,720.4 1088.0,720.0" fill="none" stroke="#3cb44b" stroke-width="2.8" stroke-linejoin="round" />
<polyline points="201.0,720.9 310.0,720.2 500.0,720.7 870.0,720.6 874.6,722.8 879.0,720.6 960.0,720.0 1000.0,718.6 1040.0,717.6 1088.0,717.1" fill="none" stroke="#f032e6" stroke-width="2.8" stroke-linejoin="round" />
<polyline points="201.0,719.7 310.0,718.8 500.0,718.0 700.0,718.0 960.0,718.6 1040.0,719.4 1088.0,720.1" fill="none" stroke="#f58231" stroke-width="2.8" stroke-linejoin="round" />
<polyline points="98.6,792.5 176.7,781.5 254.8,759.6 332.9,737.8 411.0,726.8 489.1,694.0 567.2,705.0 645.3,705.0 723.4,715.9 801.5,748.7 879.6,748.7 957.7,770.6 1035.8,781.5 1087.8,782.8" fill="none" stroke="#000" stroke-width="2.8" stroke-linejoin="round" />
<rect x="82.2" y="453.4" width="1006.3" height="350.0" fill="none" stroke="#000" stroke-width="1.1" />
<line x1="77.3" y1="803.4" x2="82.2" y2="803.4" stroke="#000" stroke-width="1.1" />
<text x="46.5" y="809.0" font-size="15.28" fill="#000" textLength="25.0" lengthAdjust="spacingAndGlyphs" >-40</text>
<line x1="79.4" y1="781.5" x2="82.2" y2="781.5" stroke="#000" stroke-width="0.85" />
<line x1="77.3" y1="759.6" x2="82.2" y2="759.6" stroke="#000" stroke-width="1.1" />
<text x="46.5" y="765.2" font-size="15.28" fill="#000" textLength="25.0" lengthAdjust="spacingAndGlyphs" >-20</text>
<line x1="79.4" y1="737.8" x2="82.2" y2="737.8" stroke="#000" stroke-width="0.85" />
<line x1="77.3" y1="715.9" x2="82.2" y2="715.9" stroke="#000" stroke-width="1.1" />
<text x="61.8" y="721.5" font-size="15.28" fill="#000"  >0</text>
<line x1="79.4" y1="694.0" x2="82.2" y2="694.0" stroke="#000" stroke-width="0.85" />
<line x1="77.3" y1="672.1" x2="82.2" y2="672.1" stroke="#000" stroke-width="1.1" />
<text x="52.1" y="677.8" font-size="15.28" fill="#000" textLength="19.4" lengthAdjust="spacingAndGlyphs" >20</text>
<line x1="79.4" y1="650.3" x2="82.2" y2="650.3" stroke="#000" stroke-width="0.85" />
<line x1="77.3" y1="628.4" x2="82.2" y2="628.4" stroke="#000" stroke-width="1.1" />
<text x="52.1" y="634.0" font-size="15.28" fill="#000" textLength="19.4" lengthAdjust="spacingAndGlyphs" >40</text>
<line x1="79.4" y1="606.5" x2="82.2" y2="606.5" stroke="#000" stroke-width="0.85" />
<line x1="77.3" y1="584.6" x2="82.2" y2="584.6" stroke="#000" stroke-width="1.1" />
<text x="52.1" y="590.2" font-size="15.28" fill="#000" textLength="19.4" lengthAdjust="spacingAndGlyphs" >60</text>
<line x1="79.4" y1="562.8" x2="82.2" y2="562.8" stroke="#000" stroke-width="0.85" />
<line x1="77.3" y1="540.9" x2="82.2" y2="540.9" stroke="#000" stroke-width="1.1" />
<text x="52.1" y="546.5" font-size="15.28" fill="#000" textLength="19.4" lengthAdjust="spacingAndGlyphs" >80</text>
<line x1="79.4" y1="519.0" x2="82.2" y2="519.0" stroke="#000" stroke-width="0.85" />
<line x1="77.3" y1="497.1" x2="82.2" y2="497.1" stroke="#000" stroke-width="1.1" />
<text x="42.3" y="502.8" font-size="15.28" fill="#000" textLength="29.2" lengthAdjust="spacingAndGlyphs" >100</text>
<line x1="79.4" y1="475.3" x2="82.2" y2="475.3" stroke="#000" stroke-width="0.85" />
<line x1="77.3" y1="453.4" x2="82.2" y2="453.4" stroke="#000" stroke-width="1.1" />
<text x="42.3" y="459.0" font-size="15.28" fill="#000" textLength="29.2" lengthAdjust="spacingAndGlyphs" >120</text>
<line x1="1088.5" y1="803.4" x2="1093.4" y2="803.4" stroke="#000" stroke-width="1.1" />
<text x="1099.8" y="809.0" font-size="15.28" fill="#000" textLength="19.4" lengthAdjust="spacingAndGlyphs" >20</text>
<line x1="1088.5" y1="781.5" x2="1091.3" y2="781.5" stroke="#000" stroke-width="0.85" />
<line x1="1088.5" y1="759.6" x2="1093.4" y2="759.6" stroke="#000" stroke-width="1.1" />
<text x="1099.8" y="765.2" font-size="15.28" fill="#000" textLength="19.4" lengthAdjust="spacingAndGlyphs" >40</text>
<line x1="1088.5" y1="737.8" x2="1091.3" y2="737.8" stroke="#000" stroke-width="0.85" />
<line x1="1088.5" y1="715.9" x2="1093.4" y2="715.9" stroke="#000" stroke-width="1.1" />
<text x="1099.8" y="721.5" font-size="15.28" fill="#000" textLength="19.4" lengthAdjust="spacingAndGlyphs" >60</text>
<line x1="1088.5" y1="694.0" x2="1091.3" y2="694.0" stroke="#000" stroke-width="0.85" />
<line x1="1088.5" y1="672.1" x2="1093.4" y2="672.1" stroke="#000" stroke-width="1.1" />
<text x="1099.8" y="677.8" font-size="15.28" fill="#000" textLength="19.4" lengthAdjust="spacingAndGlyphs" >80</text>
<line x1="1088.5" y1="650.3" x2="1091.3" y2="650.3" stroke="#000" stroke-width="0.85" />
<line x1="1088.5" y1="628.4" x2="1093.4" y2="628.4" stroke="#000" stroke-width="1.1" />
<text x="1099.8" y="634.0" font-size="15.28" fill="#000" textLength="29.2" lengthAdjust="spacingAndGlyphs" >100</text>
<line x1="1088.5" y1="606.5" x2="1091.3" y2="606.5" stroke="#000" stroke-width="0.85" />
<line x1="1088.5" y1="584.6" x2="1093.4" y2="584.6" stroke="#000" stroke-width="1.1" />
<text x="1099.8" y="590.2" font-size="15.28" fill="#000" textLength="29.2" lengthAdjust="spacingAndGlyphs" >120</text>
<line x1="1088.5" y1="562.8" x2="1091.3" y2="562.8" stroke="#000" stroke-width="0.85" />
<line x1="1088.5" y1="540.9" x2="1093.4" y2="540.9" stroke="#000" stroke-width="1.1" />
<text x="1099.8" y="546.5" font-size="15.28" fill="#000" textLength="29.2" lengthAdjust="spacingAndGlyphs" >140</text>
<line x1="1088.5" y1="519.0" x2="1091.3" y2="519.0" stroke="#000" stroke-width="0.85" />
<line x1="1088.5" y1="497.1" x2="1093.4" y2="497.1" stroke="#000" stroke-width="1.1" />
<text x="1099.8" y="502.8" font-size="15.28" fill="#000" textLength="29.2" lengthAdjust="spacingAndGlyphs" >160</text>
<line x1="1088.5" y1="475.3" x2="1091.3" y2="475.3" stroke="#000" stroke-width="0.85" />
<line x1="1088.5" y1="453.4" x2="1093.4" y2="453.4" stroke="#000" stroke-width="1.1" />
<text x="1099.8" y="459.0" font-size="15.28" fill="#000" textLength="29.2" lengthAdjust="spacingAndGlyphs" >180</text>
<line x1="98.6" y1="803.4" x2="98.6" y2="806.2" stroke="#000" stroke-width="0.85" />
<line x1="176.7" y1="803.4" x2="176.7" y2="808.3" stroke="#000" stroke-width="1.1" />
<line x1="254.8" y1="803.4" x2="254.8" y2="806.2" stroke="#000" stroke-width="0.85" />
<line x1="332.9" y1="803.4" x2="332.9" y2="806.2" stroke="#000" stroke-width="0.85" />
<line x1="411.0" y1="803.4" x2="411.0" y2="806.2" stroke="#000" stroke-width="0.85" />
<line x1="489.1" y1="803.4" x2="489.1" y2="808.3" stroke="#000" stroke-width="1.1" />
<line x1="567.2" y1="803.4" x2="567.2" y2="806.2" stroke="#000" stroke-width="0.85" />
<line x1="645.3" y1="803.4" x2="645.3" y2="806.2" stroke="#000" stroke-width="0.85" />
<line x1="723.4" y1="803.4" x2="723.4" y2="806.2" stroke="#000" stroke-width="0.85" />
<line x1="801.5" y1="803.4" x2="801.5" y2="808.3" stroke="#000" stroke-width="1.1" />
<line x1="879.6" y1="803.4" x2="879.6" y2="806.2" stroke="#000" stroke-width="0.85" />
<line x1="957.7" y1="803.4" x2="957.7" y2="806.2" stroke="#000" stroke-width="0.85" />
<line x1="1035.8" y1="803.4" x2="1035.8" y2="806.2" stroke="#000" stroke-width="0.85" />
<text x="154.7" y="826.2" font-size="15.28" fill="#000" textLength="44.0" lengthAdjust="spacingAndGlyphs" >07/23</text>
<text x="467.1" y="826.2" font-size="15.28" fill="#000" textLength="44.0" lengthAdjust="spacingAndGlyphs" >07/24</text>
<text x="779.5" y="826.2" font-size="15.28" fill="#000" textLength="44.0" lengthAdjust="spacingAndGlyphs" >07/25</text>
<text x="565.0" y="846.2" font-size="15.28" fill="#000" textLength="38.9" lengthAdjust="spacingAndGlyphs" >2025</text>
<text transform="translate(33.8,628.0) rotate(-90)" x="-63.6" y="0" font-size="15.28" fill="#000" textLength="127.3" lengthAdjust="spacingAndGlyphs" >SHAP Value [kts]</text>
<text transform="translate(1143.5,628.0) rotate(-90)" x="-136.4" y="0" font-size="15.28" fill="#000" textLength="272.8" lengthAdjust="spacingAndGlyphs" >Working Best Track TC Intensity [kt]</text>
<text x="211.3" y="866.7" font-size="15.28" fill="#000" textLength="100.9" lengthAdjust="spacingAndGlyphs" >SHAP values:</text>
<line x1="341.4" y1="861.1" x2="374.8" y2="861.1" stroke="#e6194b" stroke-width="2.8" />
<text x="386.1" y="866.7" font-size="15.28" fill="#000" textLength="14.2" lengthAdjust="spacingAndGlyphs" >IR</text>
<line x1="430.2" y1="861.1" x2="462.9" y2="861.1" stroke="#46f0f0" stroke-width="2.8" />
<text x="474.3" y="866.7" font-size="15.28" fill="#000" textLength="53.2" lengthAdjust="spacingAndGlyphs" >History</text>
<line x1="558.1" y1="861.1" x2="590.1" y2="861.1" stroke="#3cb44b" stroke-width="2.8" />
<text x="602.2" y="866.7" font-size="15.28" fill="#000" textLength="58.2" lengthAdjust="spacingAndGlyphs" >Position</text>
<line x1="691.0" y1="861.1" x2="723.7" y2="861.1" stroke="#f032e6" stroke-width="2.8" />
<text x="735.1" y="866.7" font-size="15.28" fill="#000" textLength="96.6" lengthAdjust="spacingAndGlyphs" >Environment</text>
<line x1="861.6" y1="861.1" x2="895.0" y2="861.1" stroke="#f58231" stroke-width="2.8" />
<text x="906.3" y="866.7" font-size="15.28" fill="#000" textLength="93.1" lengthAdjust="spacingAndGlyphs" >GFS Thermo</text>
<line x1="516.2" y1="882.4" x2="549.6" y2="882.4" stroke="#000" stroke-width="2.8" />
<text x="560.2" y="888.0" font-size="15.28" fill="#000" textLength="90.3" lengthAdjust="spacingAndGlyphs" >TC Intensity</text>
<text x="169.5" y="919.6" font-size="13.17" fill="#262626" textLength="329.0" lengthAdjust="spacingAndGlyphs" >Shap values for 2025_11W at 20250725 2200UTC</text>
<rect x="67.7" y="1101.1" width="400.1" height="103.8" fill="#f4f4f4" stroke="none" stroke-width="1" />
<rect x="67.7" y="1378.0" width="400.1" height="276.9" fill="#f4f4f4" stroke="none" stroke-width="1" />
<path d="M67.7,962.7H467.8M67.7,997.3H467.8M67.7,1031.9H467.8M67.7,1066.5H467.8M67.7,1101.1H467.8M67.7,1135.8H467.8M67.7,1170.4H467.8M67.7,1205.0H467.8M67.7,1239.6H467.8M67.7,1274.2H467.8M67.7,1308.8H467.8M67.7,1343.4H467.8M67.7,1378.0H467.8M67.7,1412.6H467.8M67.7,1447.2H467.8M67.7,1481.9H467.8M67.7,1516.5H467.8M67.7,1551.1H467.8M67.7,1585.7H467.8M67.7,1620.3H467.8M67.7,1654.9H467.8M67.7,1689.5H467.8M67.7,1724.1H467.8M67.7,1758.7H467.8M67.7,1793.3H467.8M67.7,1828.0H467.8M67.7,1862.6H467.8M67.7,1897.2H467.8M67.7,1931.8H467.8M67.7,1966.4H467.8M67.7,2001.0H467.8" stroke="#e6e6e6" stroke-width="1" fill="none"/>
<path d="M67.7,945.4H467.8M67.7,980.0H467.8M67.7,1014.6H467.8M67.7,1049.2H467.8M67.7,1083.8H467.8M67.7,1118.5H467.8M67.7,1153.1H467.8M67.7,1187.7H467.8M67.7,1222.3H467.8M67.7,1256.9H467.8M67.7,1291.5H467.8M67.7,1326.1H467.8M67.7,1360.7H467.8M67.7,1395.3H467.8M67.7,1429.9H467.8M67.7,1464.5H467.8M67.7,1499.2H467.8M67.7,1533.8H467.8M67.7,1568.4H467.8M67.7,1603.0H467.8M67.7,1637.6H467.8M67.7,1672.2H467.8M67.7,1706.8H467.8M67.7,1741.4H467.8M67.7,1776.0H467.8M67.7,1810.7H467.8M67.7,1845.3H467.8M67.7,1879.9H467.8M67.7,1914.5H467.8M67.7,1949.1H467.8M67.7,1983.7H467.8M67.7,2018.3H467.8" stroke="#ececec" stroke-width="0.8" stroke-dasharray="1 2" fill="none"/>
<line x1="412.3" y1="928.1" x2="412.3" y2="2035.6" stroke="#8c8c8c" stroke-width="1.1" />
<line x1="67.7" y1="1101.1" x2="467.8" y2="1101.1" stroke="#222" stroke-width="1.9" />
<line x1="67.7" y1="1205.0" x2="467.8" y2="1205.0" stroke="#222" stroke-width="1.9" />
<line x1="67.7" y1="1378.0" x2="467.8" y2="1378.0" stroke="#222" stroke-width="1.9" />
<line x1="67.7" y1="1654.9" x2="467.8" y2="1654.9" stroke="#222" stroke-width="1.9" />
<circle cx="108.6" cy="945.4" r="3.5" fill="#5b5bd9"/>
<circle cx="404.8" cy="980.0" r="3.5" fill="#7a4cd0"/>
<circle cx="236.7" cy="1014.6" r="3.5" fill="#6e55d4"/>
<circle cx="303.6" cy="1049.2" r="3.5" fill="#f5036b"/>
<circle cx="85.6" cy="1083.8" r="3.5" fill="#e8007c"/>
<circle cx="407.2" cy="1118.5" r="3.5" fill="#a11aaa"/>
<circle cx="393.4" cy="1153.1" r="3.5" fill="#0a84ff"/>
<circle cx="411.9" cy="1187.7" r="3.5" fill="#0a84ff"/>
<circle cx="428.8" cy="1222.3" r="3.5" fill="#ee0580"/>
<circle cx="404.0" cy="1256.9" r="3.5" fill="#f0057a"/>
<circle cx="326.6" cy="1291.5" r="3.5" fill="#3b6be0"/>
<circle cx="426.8" cy="1326.1" r="3.5" fill="#2a6df0"/>
<circle cx="406.4" cy="1360.7" r="3.5" fill="#6a55d8"/>
<circle cx="410.5" cy="1395.3" r="3.5" fill="#5a5be0"/>
<circle cx="412.8" cy="1429.9" r="3.5" fill="#9a22b0"/>
<circle cx="415.1" cy="1464.5" r="3.5" fill="#0a84f5"/>
<circle cx="411.6" cy="1499.2" r="3.5" fill="#5a5fe0"/>
<circle cx="360.4" cy="1533.8" r="3.5" fill="#ff0d57"/>
<circle cx="396.5" cy="1568.4" r="3.5" fill="#a01aa8"/>
<circle cx="412.8" cy="1603.0" r="3.5" fill="#4a64e0"/>
<circle cx="449.5" cy="1637.6" r="3.5" fill="#0a88f5"/>
<circle cx="410.5" cy="1672.2" r="3.5" fill="#f0057a"/>
<circle cx="409.9" cy="1706.8" r="3.5" fill="#3a6ae8"/>
<circle cx="398.2" cy="1741.4" r="3.5" fill="#f8105f"/>
<circle cx="406.4" cy="1776.0" r="3.5" fill="#8a3bc8"/>
<circle cx="396.5" cy="1810.7" r="3.5" fill="#ff0d57"/>
<circle cx="409.3" cy="1845.3" r="3.5" fill="#0a88f5"/>
<circle cx="416.3" cy="1879.9" r="3.5" fill="#0a88f5"/>
<circle cx="407.5" cy="1914.5" r="3.5" fill="#0a88f5"/>
<circle cx="381.3" cy="1949.1" r="3.5" fill="#0a88f5"/>
<circle cx="404.0" cy="1983.7" r="3.5" fill="#0a88f5"/>
<circle cx="416.3" cy="2018.3" r="3.5" fill="#0a88f5"/>
<text x="356.0" y="945.5" font-size="9.02" fill="#262626" textLength="108.3" lengthAdjust="spacingAndGlyphs" >Satellite SHAP=-31.2kts</text>
<text x="366.6" y="1118.5" font-size="9.02" fill="#262626" textLength="97.7" lengthAdjust="spacingAndGlyphs" >History SHAP=-0.8kts</text>
<text x="360.5" y="1222.4" font-size="9.02" fill="#262626" textLength="103.8" lengthAdjust="spacingAndGlyphs" >Location SHAP=-2.3kts</text>
<text x="333.1" y="1395.4" font-size="9.02" fill="#262626" textLength="131.2" lengthAdjust="spacingAndGlyphs" >Environmental SHAP=-0.8kts</text>
<text x="340.1" y="1672.3" font-size="9.02" fill="#262626" textLength="124.2" lengthAdjust="spacingAndGlyphs" >TC Dynamics SHAP=-2.4kts</text>
<rect x="67.7" y="928.1" width="400.1" height="1107.5" fill="none" stroke="#555" stroke-width="1.2" />
<line x1="64.7" y1="945.4" x2="67.7" y2="945.4" stroke="#555" stroke-width="0.8" />
<line x1="467.8" y1="945.4" x2="470.8" y2="945.4" stroke="#555" stroke-width="0.8" />
<text x="22.7" y="948.4" font-size="8.28" fill="#262626" textLength="39.6" lengthAdjust="spacingAndGlyphs" >0h_old_IR</text>
<text x="472.6" y="944.5" font-size="8.3" fill="#262626" textLength="58.0" lengthAdjust="spacingAndGlyphs" >0h old IR data</text>
<text x="472.6" y="953.5" font-size="8.3" fill="#262626" textLength="90.1" lengthAdjust="spacingAndGlyphs" >(128x128 grid points)</text>
<line x1="64.7" y1="980.0" x2="67.7" y2="980.0" stroke="#555" stroke-width="0.8" />
<line x1="467.8" y1="980.0" x2="470.8" y2="980.0" stroke="#555" stroke-width="0.8" />
<text x="22.7" y="983.0" font-size="8.28" fill="#262626" textLength="39.6" lengthAdjust="spacingAndGlyphs" >3h_old_IR</text>
<text x="472.6" y="979.1" font-size="8.3" fill="#262626" textLength="58.0" lengthAdjust="spacingAndGlyphs" >3h old IR data</text>
<text x="472.6" y="988.1" font-size="8.3" fill="#262626" textLength="90.1" lengthAdjust="spacingAndGlyphs" >(128x128 grid points)</text>
<line x1="64.7" y1="1014.6" x2="67.7" y2="1014.6" stroke="#555" stroke-width="0.8" />
<line x1="467.8" y1="1014.6" x2="470.8" y2="1014.6" stroke="#555" stroke-width="0.8" />
<text x="22.7" y="1017.6" font-size="8.28" fill="#262626" textLength="39.6" lengthAdjust="spacingAndGlyphs" >6h_old_IR</text>
<text x="472.6" y="1013.7" font-size="8.3" fill="#262626" textLength="58.0" lengthAdjust="spacingAndGlyphs" >6h old IR data</text>
<text x="472.6" y="1022.7" font-size="8.3" fill="#262626" textLength="90.1" lengthAdjust="spacingAndGlyphs" >(128x128 grid points)</text>
<line x1="64.7" y1="1049.2" x2="67.7" y2="1049.2" stroke="#555" stroke-width="0.8" />
<line x1="467.8" y1="1049.2" x2="470.8" y2="1049.2" stroke="#555" stroke-width="0.8" />
<text x="22.7" y="1052.2" font-size="8.28" fill="#262626" textLength="39.6" lengthAdjust="spacingAndGlyphs" >9h_old_IR</text>
<text x="472.6" y="1048.3" font-size="8.3" fill="#262626" textLength="58.0" lengthAdjust="spacingAndGlyphs" >9h old IR data</text>
<text x="472.6" y="1057.3" font-size="8.3" fill="#262626" textLength="90.1" lengthAdjust="spacingAndGlyphs" >(128x128 grid points)</text>
<line x1="64.7" y1="1083.8" x2="67.7" y2="1083.8" stroke="#555" stroke-width="0.8" />
<line x1="467.8" y1="1083.8" x2="470.8" y2="1083.8" stroke="#555" stroke-width="0.8" />
<text x="17.4" y="1086.8" font-size="8.28" fill="#262626" textLength="44.9" lengthAdjust="spacingAndGlyphs" >12h_old_IR</text>
<text x="472.6" y="1082.9" font-size="8.3" fill="#262626" textLength="63.3" lengthAdjust="spacingAndGlyphs" >12h old IR data</text>
<text x="472.6" y="1091.9" font-size="8.3" fill="#262626" textLength="90.1" lengthAdjust="spacingAndGlyphs" >(128x128 grid points)</text>
<line x1="64.7" y1="1118.5" x2="67.7" y2="1118.5" stroke="#555" stroke-width="0.8" />
<line x1="467.8" y1="1118.5" x2="470.8" y2="1118.5" stroke="#555" stroke-width="0.8" />
<text x="41.3" y="1121.5" font-size="8.28" fill="#262626" textLength="21.0" lengthAdjust="spacingAndGlyphs" >DELV</text>
<text x="472.6" y="1121.5" font-size="8.3" fill="#262626" textLength="114.9" lengthAdjust="spacingAndGlyphs" >-12h to 0h Intensity change</text>
<line x1="64.7" y1="1153.1" x2="67.7" y2="1153.1" stroke="#555" stroke-width="0.8" />
<line x1="467.8" y1="1153.1" x2="470.8" y2="1153.1" stroke="#555" stroke-width="0.8" />
<text x="43.3" y="1156.1" font-size="8.28" fill="#262626" textLength="19.0" lengthAdjust="spacingAndGlyphs" >HIST</text>
<text x="472.6" y="1152.2" font-size="8.3" fill="#262626" textLength="109.1" lengthAdjust="spacingAndGlyphs" >The # of 6h periods VMAX</text>
<text x="472.6" y="1161.2" font-size="8.3" fill="#262626" textLength="87.4" lengthAdjust="spacingAndGlyphs" >has been above 20kt</text>
<line x1="64.7" y1="1187.7" x2="67.7" y2="1187.7" stroke="#555" stroke-width="0.8" />
<line x1="467.8" y1="1187.7" x2="470.8" y2="1187.7" stroke="#555" stroke-width="0.8" />
<text x="45.7" y="1190.7" font-size="8.28" fill="#262626" textLength="16.6" lengthAdjust="spacingAndGlyphs" >SPD</text>
<text x="472.6" y="1190.7" font-size="8.3" fill="#262626" textLength="86.9" lengthAdjust="spacingAndGlyphs" >TC Translation Speed</text>
<line x1="64.7" y1="1222.3" x2="67.7" y2="1222.3" stroke="#555" stroke-width="0.8" />
<line x1="467.8" y1="1222.3" x2="470.8" y2="1222.3" stroke="#555" stroke-width="0.8" />
<text x="35.7" y="1225.3" font-size="8.28" fill="#262626" textLength="26.6" lengthAdjust="spacingAndGlyphs" >sin_lat</text>
<text x="472.6" y="1225.3" font-size="8.3" fill="#262626" textLength="65.4" lengthAdjust="spacingAndGlyphs" >Sine of Latitude</text>
<line x1="64.7" y1="1256.9" x2="67.7" y2="1256.9" stroke="#555" stroke-width="0.8" />
<line x1="467.8" y1="1256.9" x2="470.8" y2="1256.9" stroke="#555" stroke-width="0.8" />
<text x="31.6" y="1259.9" font-size="8.28" fill="#262626" textLength="30.7" lengthAdjust="spacingAndGlyphs" >cos_lon</text>
<text x="472.6" y="1259.9" font-size="8.3" fill="#262626" textLength="82.4" lengthAdjust="spacingAndGlyphs" >Cosine of Longitude</text>
<line x1="64.7" y1="1291.5" x2="67.7" y2="1291.5" stroke="#555" stroke-width="0.8" />
<line x1="467.8" y1="1291.5" x2="470.8" y2="1291.5" stroke="#555" stroke-width="0.8" />
<text x="33.7" y="1294.5" font-size="8.28" fill="#262626" textLength="28.6" lengthAdjust="spacingAndGlyphs" >sin_lon</text>
<text x="472.6" y="1294.5" font-size="8.3" fill="#262626" textLength="72.5" lengthAdjust="spacingAndGlyphs" >Sine of Longitude</text>
<line x1="64.7" y1="1326.1" x2="67.7" y2="1326.1" stroke="#555" stroke-width="0.8" />
<line x1="467.8" y1="1326.1" x2="470.8" y2="1326.1" stroke="#555" stroke-width="0.8" />
<text x="46.3" y="1329.1" font-size="8.28" fill="#262626" textLength="16.0" lengthAdjust="spacingAndGlyphs" >DTL</text>
<text x="472.6" y="1329.1" font-size="8.3" fill="#262626" textLength="70.1" lengthAdjust="spacingAndGlyphs" >Distance to Land</text>
<line x1="64.7" y1="1360.7" x2="67.7" y2="1360.7" stroke="#555" stroke-width="0.8" />
<line x1="467.8" y1="1360.7" x2="470.8" y2="1360.7" stroke="#555" stroke-width="0.8" />
<text x="4.2" y="1363.7" font-size="8.28" fill="#262626" textLength="58.1" lengthAdjust="spacingAndGlyphs" >sin_local_time</text>
<text x="472.6" y="1359.8" font-size="8.3" fill="#262626" textLength="81.2" lengthAdjust="spacingAndGlyphs" >Sine of Time of Day</text>
<text x="472.6" y="1368.8" font-size="8.3" fill="#262626" textLength="74.7" lengthAdjust="spacingAndGlyphs" >(Local Solar Time)</text>
<line x1="64.7" y1="1395.3" x2="67.7" y2="1395.3" stroke="#555" stroke-width="0.8" />
<line x1="467.8" y1="1395.3" x2="470.8" y2="1395.3" stroke="#555" stroke-width="0.8" />
<text x="38.7" y="1398.3" font-size="8.28" fill="#262626" textLength="23.6" lengthAdjust="spacingAndGlyphs" >SHRD</text>
<text x="472.6" y="1398.3" font-size="8.3" fill="#262626" textLength="134.8" lengthAdjust="spacingAndGlyphs" >850-200hPa shear (200-800 km)</text>
<line x1="64.7" y1="1429.9" x2="67.7" y2="1429.9" stroke="#555" stroke-width="0.8" />
<line x1="467.8" y1="1429.9" x2="470.8" y2="1429.9" stroke="#555" stroke-width="0.8" />
<text x="38.7" y="1432.9" font-size="8.28" fill="#262626" textLength="23.6" lengthAdjust="spacingAndGlyphs" >SHDC</text>
<text x="472.6" y="1429.0" font-size="8.3" fill="#262626" textLength="95.7" lengthAdjust="spacingAndGlyphs" >850-200hPa shear with</text>
<text x="472.6" y="1438.0" font-size="8.3" fill="#262626" textLength="114.7" lengthAdjust="spacingAndGlyphs" >vortex removed (0-500 km)</text>
<line x1="64.7" y1="1464.5" x2="67.7" y2="1464.5" stroke="#555" stroke-width="0.8" />
<line x1="467.8" y1="1464.5" x2="470.8" y2="1464.5" stroke="#555" stroke-width="0.8" />
<text x="39.8" y="1467.5" font-size="8.28" fill="#262626" textLength="22.5" lengthAdjust="spacingAndGlyphs" >SHRS</text>
<text x="472.6" y="1467.5" font-size="8.3" fill="#262626" textLength="134.8" lengthAdjust="spacingAndGlyphs" >850-500hPa shear (200-800 km)</text>
<line x1="64.7" y1="1499.2" x2="67.7" y2="1499.2" stroke="#555" stroke-width="0.8" />
<line x1="467.8" y1="1499.2" x2="470.8" y2="1499.2" stroke="#555" stroke-width="0.8" />
<text x="47.7" y="1502.2" font-size="8.28" fill="#262626" textLength="14.6" lengthAdjust="spacingAndGlyphs" >MPI</text>
<text x="472.6" y="1502.2" font-size="8.3" fill="#262626" textLength="119.1" lengthAdjust="spacingAndGlyphs" >Maximum potential intensity</text>
<line x1="64.7" y1="1533.8" x2="67.7" y2="1533.8" stroke="#555" stroke-width="0.8" />
<line x1="467.8" y1="1533.8" x2="470.8" y2="1533.8" stroke="#555" stroke-width="0.8" />
<text x="41.0" y="1536.8" font-size="8.28" fill="#262626" textLength="21.3" lengthAdjust="spacingAndGlyphs" >RSST</text>
<text x="472.6" y="1536.8" font-size="8.3" fill="#262626" textLength="55.9" lengthAdjust="spacingAndGlyphs" >Reynolds SST</text>
<line x1="64.7" y1="1568.4" x2="67.7" y2="1568.4" stroke="#555" stroke-width="0.8" />
<line x1="467.8" y1="1568.4" x2="470.8" y2="1568.4" stroke="#555" stroke-width="0.8" />
<text x="38.0" y="1571.4" font-size="8.28" fill="#262626" textLength="24.3" lengthAdjust="spacingAndGlyphs" >COHC</text>
<text x="472.6" y="1571.4" font-size="8.3" fill="#262626" textLength="146.0" lengthAdjust="spacingAndGlyphs" >Climatological Ocean Heat Content</text>
<line x1="64.7" y1="1603.0" x2="67.7" y2="1603.0" stroke="#555" stroke-width="0.8" />
<line x1="467.8" y1="1603.0" x2="470.8" y2="1603.0" stroke="#555" stroke-width="0.8" />
<text x="39.6" y="1606.0" font-size="8.28" fill="#262626" textLength="22.7" lengthAdjust="spacingAndGlyphs" >CD26</text>
<text x="472.6" y="1602.1" font-size="8.3" fill="#262626" textLength="96.3" lengthAdjust="spacingAndGlyphs" >Climatological depth of</text>
<text x="472.6" y="1611.1" font-size="8.3" fill="#262626" textLength="62.5" lengthAdjust="spacingAndGlyphs" >26° C isotherm</text>
<line x1="64.7" y1="1637.6" x2="67.7" y2="1637.6" stroke="#555" stroke-width="0.8" />
<line x1="467.8" y1="1637.6" x2="470.8" y2="1637.6" stroke="#555" stroke-width="0.8" />
<text x="39.6" y="1640.6" font-size="8.28" fill="#262626" textLength="22.7" lengthAdjust="spacingAndGlyphs" >CD20</text>
<text x="472.6" y="1636.7" font-size="8.3" fill="#262626" textLength="96.3" lengthAdjust="spacingAndGlyphs" >Climatological depth of</text>
<text x="472.6" y="1645.7" font-size="8.3" fill="#262626" textLength="62.5" lengthAdjust="spacingAndGlyphs" >20° C isotherm</text>
<line x1="64.7" y1="1672.2" x2="67.7" y2="1672.2" stroke="#555" stroke-width="0.8" />
<line x1="467.8" y1="1672.2" x2="470.8" y2="1672.2" stroke="#555" stroke-width="0.8" />
<text x="42.0" y="1675.2" font-size="8.28" fill="#262626" textLength="20.3" lengthAdjust="spacingAndGlyphs" >DIVC</text>
<text x="472.6" y="1671.3" font-size="8.3" fill="#262626" textLength="130.1" lengthAdjust="spacingAndGlyphs" >200hPa divergence centered at</text>
<text x="472.6" y="1680.3" font-size="8.3" fill="#262626" textLength="95.6" lengthAdjust="spacingAndGlyphs" >850hPa vortex location</text>
<line x1="64.7" y1="1706.8" x2="67.7" y2="1706.8" stroke="#555" stroke-width="0.8" />
<line x1="467.8" y1="1706.8" x2="470.8" y2="1706.8" stroke="#555" stroke-width="0.8" />
<text x="40.8" y="1709.8" font-size="8.28" fill="#262626" textLength="21.5" lengthAdjust="spacingAndGlyphs" >V300</text>
<text x="472.6" y="1705.9" font-size="8.3" fill="#262626" textLength="148.8" lengthAdjust="spacingAndGlyphs" >300hPa tangential wind azimuthally</text>
<text x="472.6" y="1714.9" font-size="8.3" fill="#262626" textLength="84.2" lengthAdjust="spacingAndGlyphs" >averaged at 500 km</text>
<line x1="64.7" y1="1741.4" x2="67.7" y2="1741.4" stroke="#555" stroke-width="0.8" />
<line x1="467.8" y1="1741.4" x2="470.8" y2="1741.4" stroke="#555" stroke-width="0.8" />
<text x="40.8" y="1744.4" font-size="8.28" fill="#262626" textLength="21.5" lengthAdjust="spacingAndGlyphs" >V500</text>
<text x="472.6" y="1740.5" font-size="8.3" fill="#262626" textLength="148.8" lengthAdjust="spacingAndGlyphs" >500hPa tangential wind azimuthally</text>
<text x="472.6" y="1749.5" font-size="8.3" fill="#262626" textLength="84.2" lengthAdjust="spacingAndGlyphs" >averaged at 500 km</text>
<line x1="64.7" y1="1776.0" x2="67.7" y2="1776.0" stroke="#555" stroke-width="0.8" />
<line x1="467.8" y1="1776.0" x2="470.8" y2="1776.0" stroke="#555" stroke-width="0.8" />
<text x="40.8" y="1779.0" font-size="8.28" fill="#262626" textLength="21.5" lengthAdjust="spacingAndGlyphs" >V850</text>
<text x="472.6" y="1775.1" font-size="8.3" fill="#262626" textLength="148.8" lengthAdjust="spacingAndGlyphs" >850hPa tangential wind azimuthally</text>
<text x="472.6" y="1784.1" font-size="8.3" fill="#262626" textLength="84.2" lengthAdjust="spacingAndGlyphs" >averaged at 500 km</text>
<line x1="64.7" y1="1810.7" x2="67.7" y2="1810.7" stroke="#555" stroke-width="0.8" />
<line x1="467.8" y1="1810.7" x2="470.8" y2="1810.7" stroke="#555" stroke-width="0.8" />
<text x="40.8" y="1813.7" font-size="8.28" fill="#262626" textLength="21.5" lengthAdjust="spacingAndGlyphs" >Z850</text>
<text x="472.6" y="1813.7" font-size="8.3" fill="#262626" textLength="121.5" lengthAdjust="spacingAndGlyphs" >850hPa vorticity (0-1000 km)</text>
<line x1="64.7" y1="1845.3" x2="67.7" y2="1845.3" stroke="#555" stroke-width="0.8" />
<line x1="467.8" y1="1845.3" x2="470.8" y2="1845.3" stroke="#555" stroke-width="0.8" />
<text x="40.4" y="1848.3" font-size="8.28" fill="#262626" textLength="21.9" lengthAdjust="spacingAndGlyphs" >U200</text>
<text x="472.6" y="1848.3" font-size="8.3" fill="#262626" textLength="137.1" lengthAdjust="spacingAndGlyphs" >200hPa zonal wind (200-800 km)</text>
<line x1="64.7" y1="1879.9" x2="67.7" y2="1879.9" stroke="#555" stroke-width="0.8" />
<line x1="467.8" y1="1879.9" x2="470.8" y2="1879.9" stroke="#555" stroke-width="0.8" />
<text x="39.9" y="1882.9" font-size="8.28" fill="#262626" textLength="22.4" lengthAdjust="spacingAndGlyphs" >U20C</text>
<text x="472.6" y="1882.9" font-size="8.3" fill="#262626" textLength="126.6" lengthAdjust="spacingAndGlyphs" >200hPa zonal wind (0-500 km)</text>
<line x1="64.7" y1="1914.5" x2="67.7" y2="1914.5" stroke="#555" stroke-width="0.8" />
<line x1="467.8" y1="1914.5" x2="470.8" y2="1914.5" stroke="#555" stroke-width="0.8" />
<text x="40.3" y="1917.5" font-size="8.28" fill="#262626" textLength="22.0" lengthAdjust="spacingAndGlyphs" >V20C</text>
<text x="472.6" y="1917.5" font-size="8.3" fill="#262626" textLength="148.7" lengthAdjust="spacingAndGlyphs" >200hPa meridional wind (0-500 km)</text>
<line x1="64.7" y1="1949.1" x2="67.7" y2="1949.1" stroke="#555" stroke-width="0.8" />
<line x1="467.8" y1="1949.1" x2="470.8" y2="1949.1" stroke="#555" stroke-width="0.8" />
<text x="36.8" y="1952.1" font-size="8.28" fill="#262626" textLength="25.5" lengthAdjust="spacingAndGlyphs" >RHMD</text>
<text x="472.6" y="1948.2" font-size="8.3" fill="#262626" textLength="122.9" lengthAdjust="spacingAndGlyphs" >700-500hPa relative humidity</text>
<text x="472.6" y="1957.2" font-size="8.3" fill="#262626" textLength="56.7" lengthAdjust="spacingAndGlyphs" >(200-800 km)</text>
<line x1="64.7" y1="1983.7" x2="67.7" y2="1983.7" stroke="#555" stroke-width="0.8" />
<line x1="467.8" y1="1983.7" x2="470.8" y2="1983.7" stroke="#555" stroke-width="0.8" />
<text x="41.6" y="1986.7" font-size="8.28" fill="#262626" textLength="20.7" lengthAdjust="spacingAndGlyphs" >EPSS</text>
<text x="472.6" y="1982.8" font-size="8.3" fill="#262626" textLength="172.5" lengthAdjust="spacingAndGlyphs" >Avg. Δ <tspan font-style="italic">θ</tspan><tspan font-size="6.4" font-style="italic" dy="1.5">e</tspan><tspan dy="-1.5"> (only +) btwn parcel lifted from</tspan></text>
<text x="472.6" y="1993.0" font-size="8.3" fill="#262626" textLength="167.4" lengthAdjust="spacingAndGlyphs" >sfc. and saturated env. <tspan font-style="italic">θ</tspan><tspan font-size="6.4" font-style="italic" dy="1.5">e</tspan><tspan dy="-1.5"> (200-800 km)</tspan></text>
<line x1="64.7" y1="2018.3" x2="67.7" y2="2018.3" stroke="#555" stroke-width="0.8" />
<line x1="467.8" y1="2018.3" x2="470.8" y2="2018.3" stroke="#555" stroke-width="0.8" />
<text x="40.4" y="2021.3" font-size="8.28" fill="#262626" textLength="21.9" lengthAdjust="spacingAndGlyphs" >ENSS</text>
<text x="472.6" y="2017.4" font-size="8.3" fill="#262626" textLength="168.5" lengthAdjust="spacingAndGlyphs" >Avg. Δ <tspan font-style="italic">θ</tspan><tspan font-size="6.4" font-style="italic" dy="1.5">e</tspan><tspan dy="-1.5"> (only -) btwn parcel lifted from</tspan></text>
<text x="472.6" y="2027.6" font-size="8.3" fill="#262626" textLength="167.4" lengthAdjust="spacingAndGlyphs" >sfc. and saturated env. <tspan font-style="italic">θ</tspan><tspan font-size="6.4" font-style="italic" dy="1.5">e</tspan><tspan dy="-1.5"> (200-800 km)</tspan></text>
<line x1="117.0" y1="2035.6" x2="117.0" y2="2038.6" stroke="#555" stroke-width="0.8" />
<text x="108.2" y="2046.5" font-size="8.3" fill="#262626" textLength="17.5" lengthAdjust="spacingAndGlyphs" >−10</text>
<line x1="176.0" y1="2035.6" x2="176.0" y2="2038.6" stroke="#555" stroke-width="0.8" />
<text x="169.9" y="2046.5" font-size="8.3" fill="#262626" textLength="12.2" lengthAdjust="spacingAndGlyphs" >−8</text>
<line x1="235.0" y1="2035.6" x2="235.0" y2="2038.6" stroke="#555" stroke-width="0.8" />
<text x="228.8" y="2046.5" font-size="8.3" fill="#262626" textLength="12.2" lengthAdjust="spacingAndGlyphs" >−6</text>
<line x1="293.9" y1="2035.6" x2="293.9" y2="2038.6" stroke="#555" stroke-width="0.8" />
<text x="287.8" y="2046.5" font-size="8.3" fill="#262626" textLength="12.2" lengthAdjust="spacingAndGlyphs" >−4</text>
<line x1="352.9" y1="2035.6" x2="352.9" y2="2038.6" stroke="#555" stroke-width="0.8" />
<text x="346.8" y="2046.5" font-size="8.3" fill="#262626" textLength="12.2" lengthAdjust="spacingAndGlyphs" >−2</text>
<line x1="411.9" y1="2035.6" x2="411.9" y2="2038.6" stroke="#555" stroke-width="0.8" />
<text x="409.3" y="2046.5" font-size="8.3" fill="#262626"  >0</text>
<text x="221.3" y="2059.6" font-size="11.05" fill="#262626" textLength="92.0" lengthAdjust="spacingAndGlyphs" >SHAP Value [kts]</text>
<defs><linearGradient id="rb" x1="0" x2="1" y1="0" y2="0"><stop offset="0" stop-color="#0a8cfb"/><stop offset="0.1" stop-color="#0684f4"/><stop offset="0.17" stop-color="#0274ea"/><stop offset="0.22" stop-color="#2a6ce3"/><stop offset="0.33" stop-color="#5a5fd8"/><stop offset="0.45" stop-color="#8a3fc8"/><stop offset="0.58" stop-color="#b0109f"/><stop offset="0.7" stop-color="#d0058f"/><stop offset="0.85" stop-color="#f0056f"/><stop offset="1" stop-color="#ff0052"/></linearGradient></defs>
<rect x="28.9" y="2083.4" width="588.2" height="24.4" fill="url(#rb)" stroke="#333" stroke-width="0.8" />
<text x="551.5" y="2078.6" font-size="9.6" fill="#262626" textLength="65.7" lengthAdjust="spacingAndGlyphs" >Feature Value</text>
<text x="20.6" y="2120.0" font-size="8.8" fill="#262626" textLength="16.0" lengthAdjust="spacingAndGlyphs" >Low</text>
<text x="606.4" y="2120.0" font-size="8.8" fill="#262626" textLength="20.8" lengthAdjust="spacingAndGlyphs" >High</text>
<text x="29.1" y="2135.7" font-size="9.04" fill="#262626" textLength="505.5" lengthAdjust="spacingAndGlyphs" >SHAP Value: Amount each feature [listed on Y-axis] contributes to the predicted intensity above or below 60 kts</text>
<line x1="507.3" y1="2137.2" x2="534.6" y2="2137.2" stroke="#262626" stroke-width="0.7" />
<text x="29.1" y="2150.3" font-size="9.04" fill="#262626" textLength="482.1" lengthAdjust="spacingAndGlyphs" >Feature Value: The value of the feature [listed on Y-axis] for the given TC compared to the training dataset</text>
<defs><filter id="bl" x="0" y="0" width="1" height="1"><feGaussianBlur stdDeviation="0.55"/></filter><filter id="bs" x="0" y="0" width="1" height="1"><feGaussianBlur stdDeviation="1.25"/></filter><clipPath id="cp"><rect width="200" height="200"/></clipPath></defs>
<text x="717.0" y="915.2" font-size="11.8" fill="#262626" textLength="401.9" lengthAdjust="spacingAndGlyphs" >Comparison of IR SHAP Values for 2025_11W at 20250725 2200UTC</text>
<g transform="translate(718.0,938.0) scale(1.0015)" clip-path="url(#cp)"><g filter="url(#bl)"><g transform="scale(0.5)"><rect width="400" height="400" fill="#7c7c7c"/><path d="M0,0l400,0 0,400-400,0zM45,168l-6,6 0,3 18,2 11,4 4,4 3,-1 2,-6 0,-3-2,-3-6,-4-6,-3-3,1-2,3-4,4-3,0zM304,12l-3,18 3,5 3,3 1,-2 1,-9 1,-3 6,-5 1,-4-3,-3zM331,10l-2,2-1,3 3,8 3,3 6,-5 6,-9-3,-2-3,-1zM355,0l-5,6 3,3 3,0 2,-3 0,-4z" fill="#8c8c8c"/><path d="M2,3l2,-3 59,0 3,2 7,-2 12,0-1,1-2,14 5,9 3,-1 1,-2 4,-12 5,-6-1,-3 15,0 3,6 12,6 6,1 15,7 4,4 5,6 6,5 3,0 3,-2 1,-9 7,-12 1,-12 13,0-2,3 0,3 1,6 5,12 0,9 1,1 7,1 6,4 12,-2 6,2 4,3 1,3-2,6 3,1 6,0 1,-4 5,-5 6,-1 6,1 5,5 4,6 3,0 12,-14 3,-3 3,-1 6,1 6,4 3,7 3,4 9,-4 9,3 6,0 3,-2 5,-7 2,-3 0,-12 8,-10 6,-2 6,1 12,6 6,0 6,-1 2,-3-5,-18 18,0 0,400-400,0 0,-191 3,1 3,-3 7,-2 2,-3 0,-7-6,-12 3,-2 21,1 21,3 5,1 1,2 1,4-2,6-5,5-9,11-3,2-9,4 1,3-3,3 1,3 4,1 3,0 3,-1 20,-15 4,-5 9,-4 15,3 8,-3-5,-4-1,-3 1,-4 3,-2 3,3 1,7 2,1 9,-5 3,-7 3,-2 3,1 3,4 3,-6 2,-23-1,-6-5,-6 8,-12 3,-9-1,-4-12,-18-7,13-14,18-3,6-3,3-36,9-3,-3-2,-6-3,-3-10,-2-9,6-20,20-10,8 0,-172zM48,4l-1,5 4,6 15,4 5,-1 1,-3-3,-4-6,-2-9,-1-4,-2zM105,51l-18,15-7,9-1,3 2,2 12,1 12,-3 3,-3 2,-3 6,-15-1,-3-2,-3zM189,36l-4,3-1,3 3,9 1,15-1,3-3,6-8,9-8,6-6,2-11,1 1,3 7,10 6,5 3,0 7,-9 4,-9 4,-5 9,-4 6,-9 4,-1 7,1 5,-9 6,-6 1,-3-2,-3-11,-2-3,2 0,4-3,5-2,-3 2,-4 2,-2 0,-3-7,-9-2,-6zM24,216l3,4 4,0-1,0-3,-3zM171,135l-2,6 0,3 3,3 2,1 5,-1 4,-6-9,-7zM186,114l-6,6-6,-2-1,2 1,4 6,-1 7,3 2,-6 0,-3zM177,213l0,6 3,1 3,0-3,-7zM216,0l21,0-5,4-6,3-3,0-3,-2zM249,0l50,0-2,6 1,12-2,6-4,6-3,2-9,-7-12,3-3,4-3,1-2,-3 1,-3 4,-3 1,-6 2,-3 0,-3-6,3-3,-1-3,-2zM109,159l5,-2 3,2 0,6-3,6-3,0-3,-5 0,-4zM0,189l0,-1 1,1 1,3 1,3-3,7z" fill="#9e9e9e"/><path d="M14,0l22,0 3,6-3,4-12,1-9,-7zM278,0l18,0 0,18-4,8-3,1-3,-1-7,-8-3,-9zM102,9l3,-2 6,1 36,19 6,7 9,8 15,1 3,3 2,5 2,12-1,6-4,6-8,8-6,3-6,0-12,-3-4,-2-1,-3 6,-6-4,-6-14,-6-11,-12-5,-3-6,-2-6,2-12,12-9,6-6,0-8,-6-3,-3-1,-3 3,-6 0,-15 6,2 3,-4 3,0 2,5 1,0 3,1 6,-2 5,-5 4,-14zM182,15l1,-1 3,0 6,7 1,6-4,4-6,1-5,-5 0,-6zM3,21l3,0 3,2 1,10-4,9-3,4-3,1 0,-25zM349,21l3,-2 6,-1 6,3 15,9 12,1 9,4 0,365-308,0-11,-8-3,-4-2,-3 0,-3 2,-3 0,-4-12,3-3,-1-6,-9-6,-4-2,3 0,3 5,14 9,0 8,16-31,0-1,-4-1,4-38,0 0,-183 6,0 6,-3 3,1 6,5 9,12 6,2 10,-2 8,-6 21,-12 3,0 3,1 3,4 6,-1 6,1 6,4 0,3-6,1-9,1 0,4 4,6 8,8 6,4 15,3 7,9 14,9 1,-3 0,-3 5,-4 4,-5-5,-9-3,-9-2,-24-3,-6-5,-6-3,-7 0,-12 4,-15-5,-15 2,-6 6,-6 2,-6 2,-9-1,-3-10,-9-3,-6-3,-12 0,-3 2,-3 3,-1 6,1 15,10 5,5 10,15 1,6 0,6-4,9-1,3 7,6 5,3 4,1 12,-1 6,2 3,-3 11,-17-1,-2-7,-4-1,-3 2,-5 3,-2 3,2 3,4 3,2 6,-2 6,0 5,4 2,3-2,15 1,9-3,3-12,2-3,0-3,-3-3,0-13,-1-2,2 2,12-2,9-1,14-3,3-6,1-6,3-3,4-2,6 0,9 2,6 9,5 10,-11 2,-9 10,-22 3,-3 9,-4 3,-5 3,-1 10,-2 2,-3 3,-9 4,-6 8,-6 6,-3 6,-1 4,-8 5,-5 13,-4 4,-3 3,-12 3,-6-8,-13-3,-4-3,0-6,2-2,3 3,15-4,3-3,0-3,-2-6,-8-6,-3-12,-2-9,0-6,-1-7,-5-2,-3-2,-6 1,-12 4,-6 9,-10 15,0 0,-5 1,-3 2,-2 6,-2 6,2 4,5-1,4-6,4-7,1 4,8 2,1 1,17 3,1 3,-2 3,-4 12,-30 4,-6 5,-5 3,-2 3,-1 6,3 2,2 3,6 1,10 12,1 12,-3 6,-3 9,-11 1,-12zM117,303l-9,4-9,1-3,1 0,1 2,15-1,9 0,6 3,9 0,3 2,1 7,-1 21,-18 0,-3-3,-3-4,-6-3,-1-3,-1-2,5-4,2-4,-2 0,-3 1,-2 3,-2 6,0 9,-8-1,-6-2,-2-3,0zM132,289l-1,3 1,3 3,1 3,-7-3,-1zM183,237l-3,4 3,0zM265,162l-4,3-1,9-5,6 0,3 4,3 6,2 3,-2 0,-3 3,-6-2,-15-1,-1zM38,36l7,0 6,5 5,7 1,6-5,9-4,5-3,2-3,-1-3,2-3,0-11,-11-1,-3 1,-6 5,-9 3,-4zM210,42l7,-2 9,0 4,2 1,3-1,3-4,4-3,1-6,-1-9,-4-1,-3zM47,81l1,-2 3,1 9,8 12,4 5,4 0,6-5,13 0,5 3,5 9,5 6,5 2,6-2,4-27,8-3,-1-2,-2-7,-9-7,-3-3,-3-2,-6-5,-3-4,0-9,2-12,6-3,0-2,-2-1,-6 0,-6 4,-12 4,-6 7,-4 12,-1 4,-1 9,-6zM26,186l4,0 6,0 9,3 3,3 1,3-2,7-4,6-4,3-9,1-6,-4-3,-3-2,-7 1,-6 1,-3z" fill="#afafaf"/><path d="M281,0l13,0 1,18-3,5-3,2-4,-4-3,-6zM107,15l4,0 6,2 15,9 12,6 14,13 19,3 3,5 2,10-1,6-4,6-6,6-6,3-12,-3-3,-3 2,-6-1,-3-4,-5-3,-3-12,-5-3,-3-6,-9-10,-5-8,-6-2,-3 0,-9 2,-5zM182,21l1,-2 3,0 2,2 1,3-2,3-4,0-2,-3zM354,21l7,1 9,7 9,5 15,0 6,4 0,362-298,0 3,-3-6,-3-12,-1-6,-5-1,-3 0,-3 2,-6-1,-6-9,1-6,-1-15,-16-3,-2-3,1-1,2 0,15 1,3 4,6 1,3-2,6-3,2-9,1-1,3-1,6-34,0 0,-179 12,-3 3,0 6,5 6,9 4,3 5,2 11,-2 7,-4 18,-7 3,1 3,10 1,3 8,3 15,14 3,2 9,1 9,4 12,8 5,4 1,5 3,-3 6,-10 6,-4 6,0 6,4 3,0 2,-4 0,-6 3,-3 4,-4 8,-2 6,-6 2,-3-8,-3-1,-3 1,-3 14,-15 8,-3-2,-9 2,-7 4,-2 6,0 15,6 6,-1 6,-8 3,0 12,6 14,-1 0,-9-4,-18-1,-12-6,-3-1,-3 1,-6 1,-3 5,-6 3,-2 9,-1 6,-5 3,-6 1,-7 5,-4 3,-2-6,-6-4,-6 0,-3 2,-6-1,-8-10,-1-1,-3 4,-3 0,-3-5,-7-2,-5 1,-6 3,-6 4,-5 6,-2 6,2 4,5 1,3-1,6-8,9-2,8-3,1 3,2 3,0 6,-5 12,-3 9,-6 9,-3 3,-2 11,-13 3,-15 4,-5zM370,132l-6,3-1,3 4,4 3,0 6,-4 1,-3-1,-3-3,-1zM141,280l-1,3-5,2-18,7-3,6-3,3-3,1-3,1-5,-2 0,-3 4,-6-8,-3-3,0-3,2 0,4 2,6-1,6 1,9 1,21-1,12-4,9 2,0 6,-2 15,-1 3,1 6,3 3,0 1,-7 11,-14 2,-4-2,-6-5,-3-1,-3 1,-3 5,-5 12,-4 4,-3 0,-3-1,-3-6,-7-1,-11zM286,189l-2,6 3,3 8,1 3,-2 6,0 9,2 3,-1 2,-6-2,-1-6,3-12,1-3,0-3,-3-3,-4zM34,39l5,-2 6,1 8,7 2,6-2,6-4,6-4,3-12,-1-6,-5 0,-6 2,-6 2,-6zM76,42l11,-3 3,0 4,3-2,6-5,6-6,3-3,0-7,-3-2,-3 3,-5zM212,42l8,-2 6,0 2,2 2,3-2,3-2,3-6,1-6,-1-4,-3-1,-3zM246,48l4,-2 3,-1 6,2 2,4 0,3-2,2-3,1-6,0-4,-3-2,-3zM229,60l3,-1 12,-1 2,2 2,3 3,9 1,9 0,3-2,4-6,5-9,2-6,0-6,-4-3,-4-1,-6 1,-9zM51,90l3,0 12,6 2,3-3,6-2,9 2,12 16,6 4,3 2,3 0,3-3,3-21,4-3,-1-1,-3-2,-9-9,-1-3,-2-6,-8-9,-2-18,4-3,-1-1,-2 0,-6 4,-8 3,-4 6,-3 18,0 3,-1zM132,96l6,1 12,7 3,4 0,6-3,3-9,-2-6,-3-3,-4-2,-6 0,-3zM152,120l1,-2 6,4 2,7-2,6-5,3-2,3 19,15 3,1 12,0 3,4 3,7-1,6-5,7-12,-1-12,-4-7,1 2,9 2,7 3,2 3,1 9,-7 3,3-1,3-8,10-1,15 4,15-4,12-5,5-3,0-3,-2-6,-6-2,-3-2,-12 0,-18-2,-4-9,-9-2,-9 2,-10 3,-5 8,-6 1,-6-1,-3-2,-2-6,4-3,-1-1,-7 1,-3 6,-3 5,-6 1,-3-1,-6 1,-3zM217,135l3,-2 3,1 1,1 0,9 2,6 0,3-3,2-6,-3-5,-5 1,-3zM227,180l2,0 0,4-3,-1zM26,192l4,-2 3,0 5,2 2,3 1,3-2,7-6,2-5,-2-3,-7z" fill="#c3c3c3"/><path d="M283,0l10,0 1,15-2,5-3,1-3,-3zM356,24l5,1 2,2 4,12 3,2 5,-2 16,-3 3,0 6,6 0,95-3,7 0,3 3,4 0,230-15,11-2,2-2,6-270,0 3,-6 0,-3-3,-1-9,2-15,-2-3,-2-2,-3 0,-3 3,-15 8,-8 15,-3 3,1 3,1 12,16 9,-1 3,1 6,5 9,4 9,6 2,-1-1,-3-12,-12-4,-9-9,-4-4,-5 0,-9 4,-8 1,-4-2,-6-5,-6 1,-3 5,-4 12,-3 12,-1 15,-13-2,-12-3,-3-7,-4-2,4 0,6-4,2-3,-1-6,-7-1,-3 1,-4 6,-4 9,2 12,-6 2,-3 0,-6 1,-4 40,-8 3,-3 1,-3 1,-12 4,-6 1,-9 3,-3 8,-5 12,-4 18,-3 18,4 15,-3 12,4 3,-1 2,-1 1,-10 4,-6-1,-2-6,4-9,3-5,-2 1,-3 2,-3 0,-3-1,-1-3,-1-3,2-3,10-6,-7-5,-3-7,1-3,-2-4,-14 1,-9-3,-3-4,-3-1,-6 5,-8 3,-1 10,-3 5,-3 3,-5 1,-7 1,-3 10,-6 1,-3-5,-6-1,-3 5,-12 3,-3 6,-3 3,-4 4,-8 14,-9 12,-14 2,-10 3,-6zM373,129l-16,9-2,6-1,-3-5,1-3,5 0,8 6,-5 6,5 3,0 6,-2 5,-9 8,-6 0,-3-1,-3-3,-3zM319,90l-4,3 1,2 5,-2 0,-3zM37,39l5,-1 3,1 4,3 4,6-1,9-4,5-3,2-9,0-7,-4 0,-6 2,-9zM133,39l2,-2 3,-1 6,2 4,4 2,9 3,1 12,-1 9,1 3,2 3,6 0,6-3,6-6,6-6,3-8,-3-1,-9-3,-6-6,-8-12,-4-3,-6zM214,42l9,-1 4,1 2,3-3,5-9,1-6,-3 0,-3zM285,42l4,-2 6,0 4,2 3,6 0,3-2,6-5,4-6,3-6,-2-3,-5 1,-9zM247,48l3,-2 6,0 3,2 2,3-1,3-4,3-6,-1-5,-5zM238,60l6,0 2,3 2,6 3,12-1,3-3,4-6,3-9,2-3,-1-5,-5-2,-6 0,-3 2,-6 5,-6 3,-3zM19,111l5,-3 6,1 5,2 1,3-12,3-6,0-1,-3zM68,135l4,-2 3,1 4,1 2,3-3,3-6,0-4,-3zM149,150l1,-1 3,-1 3,0 18,11 9,1 3,1 4,7-1,6-3,3-6,1-25,-7-2,-3-2,-3zM140,183l4,-2 3,3 3,8-1,3-2,2-6,-1-3,-3 0,-7zM156,217l4,15-1,7-3,0-3,-2-3,-8 0,-4zM203,217l5,-1 8,4 2,3 1,3-2,3-3,2-9,0-7,2-6,0-2,-1 0,-3 5,-7 3,-3zM8,223l4,-2 3,0 3,2 12,13 6,3 12,-1 9,-3 11,0 4,7 3,3 12,3 6,5 7,12 2,1 15,-3 6,1 14,10 2,3 0,3-4,4-24,7-3,0-12,-5-6,-1-9,12-12,8-2,8-3,12 2,3 6,1 9,-8 3,-1 4,11 0,6-2,6-8,14-3,4-3,1-6,-3-3,-4 2,-6 0,-3-1,-3-4,-2-9,-1-3,-6-3,0-2,9-3,3 2,15-1,9 1,3 4,6 1,3-2,5-9,2-3,2-1,3 0,6-32,0 0,-173z" fill="#dadada"/><path d="M285,0l6,0 1,15 0,1-3,2-3,-6zM352,30l3,-2 3,0 2,2 3,9 4,6 3,2 6,1 6,-3 6,2 3,0 3,-2 3,0 3,3 0,84-3,3-2,9 2,9 3,4 0,214-10,2-8,11-9,3-3,5-2,8-189,0 0,-6-6,-15-1,-6 1,-3 4,-4 1,-2-1,-6-3,-4-3,3-3,6-3,2-3,1-6,-3-3,-3-9,0-5,-2-3,-3 0,-6 4,-15-2,-7-3,-5 1,-3 5,-3 9,-2 6,0 6,2 1,3-4,12-3,21 9,-1 6,2 3,-5 1,-5 0,-3-3,-3 0,-3 8,-15 0,-6 1,-3 8,-5 2,-7-2,-5-6,-7-11,-6-3,-3 1,-3 4,-3 9,0 6,5 9,1 4,3 4,6 2,6 3,1 3,-1 3,-4 0,-5-8,-12-1,-6 5,-9 7,-4 3,-3 3,-5 4,-15 5,-12 3,-4 6,-4 12,1 7,-5 8,-3 18,4 15,-4 3,1 9,5 3,1 3,-1 3,-3 0,-10 5,-9 5,-18 5,-3 12,-3 6,0 6,-3 6,-2 2,-10 10,-9 0,-3-3,-6-3,-3-18,10-6,2-6,6-2,6-3,6-4,4-9,6-1,2 0,9-1,3-7,6-6,1-2,-7-1,-2-6,-4-3,1-3,4-3,2-15,-3-2,-1-2,-3-1,-6-1,-15-5,-3-2,-3 1,-6 3,-4 3,-1 12,-4 6,-6 2,-9 2,-3 8,-3 9,-11 11,-7 0,-3-3,-12 1,-6 4,-6 8,-6 12,-15zM34,42l5,-3 3,0 6,3 2,3 2,9-4,6-6,3-6,0-5,-3-1,-3 0,-3 1,-6zM216,42l7,-1 3,2 2,2-2,3-3,2-6,0-5,-2-1,-3zM286,42l3,-2 6,0 3,2 3,6 0,3-2,6-7,5-3,1-3,0-3,-2-3,-4 2,-9zM248,48l5,-2 3,1 4,4-1,3-3,2-6,0-4,-5zM174,60l1,0 2,3-2,6-4,6-3,2-3,-1 1,-10zM235,63l6,-2 3,2 4,9 1,9-1,3-4,4-6,3-6,0-3,-1-4,-6-1,-6 4,-9zM153,153l0,-1 3,-1 3,0 12,9 6,2 6,1 3,2 2,3-2,5-3,3-3,0-12,-3-12,-4-3,-7zM200,220l5,-2 6,1 3,4 0,3-4,3-15,2-3,-2 4,-6zM10,226l5,-1 3,2 9,10 6,4 15,0 9,-1 6,1 9,11 9,1 5,3 2,3 1,9 1,2 6,1 12,-5 12,-1 3,1 11,8 3,3 0,3-2,3-3,1-21,5-9,-2-12,-5-3,1-6,8-3,2-6,2-3,2-9,19-12,6-8,9-6,9 6,18 1,6-2,6 1,3 5,9-2,3-10,3-3,6 1,6-31,0 0,-167zM107,358l4,0 3,2 9,14 3,2 9,-1 11,7 10,5 4,7-1,6-45,0 2,-6 0,-3-2,-2-3,-1-9,2-15,-3-2,-2-1,-3 4,-15 5,-6 3,-1z" fill="#f3f3f3"/><path d="M287,0l3,0 1,6 0,3-2,4zM352,33l3,-2 3,0 9,17 3,2 6,1 18,-2 6,2 0,80-6,4-1,9 1,9 6,7 0,116-3,4-1,3 4,8 0,75-12,4-6,5-9,6-3,4-7,15-176,0-1,-9-4,-9 1,-3 2,-3 1,-3-3,-14-3,-10 4,-12 3,-3 5,-4 3,-5-1,-3-5,-6 0,-3 4,-3 2,-3-1,-12-2,-9 0,-2 3,-2 3,2 6,11 4,2 6,-2 4,-3 2,-4 0,-5 0,-3-7,-12 0,-6 2,-3 9,-6 5,-12 3,-12 6,-12 3,-4 3,-1 3,0 9,4 3,0 4,-2 3,-6 5,-4 18,5 3,0 9,-5 3,0 3,1 9,6 6,1 5,-4 7,-28 3,-9 3,-3 3,-1 6,0 9,2 2,2 4,10 2,-7 5,-6 2,-18 2,-3 9,-9 0,-3-5,-9-3,-1-9,6-16,7-4,3-5,12-8,9-8,3-1,3 2,6-1,3-4,6-3,1-3,1-2,-2-3,-6-7,-4-3,0-6,6-3,0-12,-2-2,-3-2,-6-1,-15-7,-6 1,-6 2,-3 3,-2 6,-1 7,-3 5,-5 3,-10 2,-3 7,-3 9,-10 12,-8 0,-6-2,-9 1,-6 23,-27zM346,216l-3,4-2,6 5,10 3,2 3,0 6,-3-8,-9zM35,42l4,-2 3,0 5,2 2,3 1,9-1,3-4,4-9,1-3,-2-2,-3 1,-9zM287,42l5,-2 3,1 5,4 1,3-1,6-2,3-3,2-6,3-3,0-3,-2-2,-3 0,-3 3,-9zM212,45l8,-3 3,0 4,3-2,3-5,2-6,-2zM249,48l4,-1 3,0 3,4-1,3-2,2-6,-1-3,-4zM239,63l2,0 3,1 1,2 3,9 0,6-1,3-6,5-9,1-6,-6 0,-9 6,-8zM156,153l3,0 3,2 9,7 12,4 2,2 0,3-5,3-6,-1-15,-5-4,-6 0,-6zM203,220l5,0 3,2 0,1 0,3-9,3-7,0 1,-3 2,-3zM7,232l5,-3 3,0 6,5 6,9 9,2 24,3 9,7 9,4 3,3 0,9 3,9-2,6-4,3-9,3-3,3-3,9-6,8-10,7-16,18 8,21 1,3-2,9 4,12-9,4-2,2-3,6 1,6-29,0 0,-162zM116,268l7,0 9,6 3,3 1,3-4,3-18,5-6,0-13,-5-4,-3-2,-3 2,-3 2,-1 15,-5zM173,274l4,-2 3,1 5,4 1,3-3,2-6,-1-5,-4zM150,316l6,0 3,1 1,5-4,15 0,9-4,9-5,4-3,0-3,-1-3,-3 0,-3 0,-6 4,-9 0,-3-5,-12 2,-3 2,-1zM96,361l12,-2 3,0 5,5 7,12 3,2 9,-1 9,6 11,5 3,3 0,3-2,6-40,0 2,-6 0,-3-2,-3-5,-1-6,2-6,0-12,-5-1,-5 2,-9 4,-6z" fill="#00dbff"/><path d="M353,36l2,-3 3,2 9,15 3,2 9,2 15,-2 6,1 0,77-10,5-2,3 2,3 2,12 1,3 7,7 0,110-6,4-3,3-1,3 5,9 1,9 1,3 3,1 0,57-12,5-15,9-4,6-5,12-5,6-161,0-1,-3 1,-9 3,0 2,3 5,1 4,-1-1,-3-6,-3-5,-9-11,-8-3,-7-1,-12 1,-3 5,-6 10,-6-2,-9 3,-12-3,-12 3,-2 3,1 6,-1 6,-3 3,-4 2,-9-6,-18 1,-3 6,-4 3,-4 5,-13 3,-12 8,-12 2,-2 3,0 9,9 12,-5 3,-2 1,-6 2,-3 18,4 6,-4 6,-2 12,8 6,0 6,-2 2,-1 6,-28 3,-9 4,-3 6,0 7,3 4,9-3,12 0,10-5,5-9,4-3,6-3,3 1,3 5,10 6,5 16,-3-2,-3-5,-4-5,-5-3,-9 2,-3 6,-2 1,-1 1,-9 2,-7 7,-12 1,-6 3,-6 3,-21 2,-3 10,-9-7,-9-2,-5-3,-1-6,5-21,10-3,3-4,12-2,2-6,6-9,4-1,3 2,6-1,3-3,4-3,2-3,-1-3,-5-9,-6-3,0-6,6-3,1-12,-3-3,-7-1,-15-2,-3-5,-3 0,-3 0,-3 5,-4 9,-2 6,-3 3,-4 4,-11 2,-2 7,-4 8,-9 13,-9-2,-15 2,-6 22,-27zM37,42l5,-1 3,1 3,3 1,9-1,3-3,3-3,1-6,-1-4,-3 1,-9zM288,42l4,-1 3,0 4,4 1,3 0,6-2,2-3,3-6,2-5,-1-2,-3-1,-3 4,-9zM213,45l7,-2 3,0 3,2-3,3-3,1-5,-1zM251,48l2,-1 3,1 3,3-2,3-4,1-4,-1-1,-3zM235,66l6,-2 3,2 1,3 2,9 0,3-3,5-9,3-3,0-3,-3-3,-5 1,-6 3,-6zM157,156l2,-1 3,1 9,7 9,5-3,3-3,0-11,-3-5,-3-2,-6zM200,223l5,-2 3,2 0,3-6,2-4,0 0,-2zM6,238l3,-3 3,0 3,1 2,2 0,6 2,3 14,8 6,0 9,-3 6,0 14,7 5,3 3,3 1,18-2,3-11,6-4,10-3,4-15,13-14,15 10,24 0,3-2,9 2,9-10,9-2,6 1,6-27,0 0,-149 5,-1-1,-9zM105,271l3,-1 15,0 9,6 2,4-4,3-16,4-9,-1-8,-3-3,-3-2,-3 4,-3zM174,277l0,-2 3,-1 6,3-1,3-2,0-3,0zM143,319l7,-1 6,0 2,4-4,24-4,9-3,3-3,0-4,-3-1,-3 1,-6 3,-12-3,-12zM101,361l7,-1 3,1 4,3 8,15 3,1 9,-2 9,7 9,3 3,3 0,3-3,3-6,0-4,3-25,0 2,-9-3,-4-6,-2-6,2-6,0-10,-5-2,-3 3,-9 3,-5 3,-3z" fill="#0092ff"/><path d="M354,39l1,-2 3,1 5,7 4,7 12,6 12,-4 9,1 0,73-12,6-3,-1-3,-4-3,-7-3,-1-6,7-21,10-4,3-4,12-3,3-4,4-11,5 1,9-2,6-3,1-15,-11-3,0-6,5-3,2-11,-3-1,-1-2,-5-2,-6 1,-9-2,-3-5,-3 0,-6 4,-3 9,-2 6,-3 3,-4 6,-13 8,-5 10,-11 8,-4 3,-3-2,-15 2,-6zM39,42l4,0 3,3 1,3 0,6-1,3-4,2-6,0-2,-2-1,-3 2,-6 1,-3zM288,42l4,-1 6,3 2,4 0,3-1,3-3,3-7,4-3,-1-4,-3 0,-3 2,-6zM215,45l5,-2 4,2-1,2-3,1-4,0zM252,48l4,1 2,2-2,3-5,0-3,-3zM236,66l5,-1 3,3 2,4 0,6 0,3-2,4-6,3-3,1-3,-1-4,-4-1,-6 2,-6 3,-3zM382,147l3,-2 3,1 1,10 11,8 0,78-1,11 1,3 0,13-12,6-3,0-6,-2-3,10 1,3 2,2 9,4 4,12 2,2 6,2 0,51-6,4-12,4-9,6-6,8-6,13-7,6-133,0-2,-12-2,-3-6,-3-3,-2-2,-4 2,-6 9,-8 1,-4 0,-3-3,-6-1,-3 7,-9 1,-3-3,-6-2,-3-12,3-2,-3 2,-9 0,-9 1,-3 14,-9 3,-5 1,-10-5,-15 7,-7 1,-2 10,-27 7,-8 3,1 3,5 3,1 3,0 15,-5 3,-3 3,-5 3,-2 12,2 3,-1 6,-5 3,-1 12,7 6,2 6,-1 3,1 8,18 7,7 6,3 9,-2 6,8 2,-1 1,-4 0,-8-3,-4-9,-5-4,-6-1,-3 5,-4 3,-5 3,-16 9,-16 3,-8 1,-12 2,-7zM358,258l-2,1 0,3 2,2 3,-2-1,-3zM158,159l1,-1 3,0 14,10-5,2-9,-4-3,-2zM343,177l3,-2 3,0 3,1 3,4 1,6-3,9 1,10-2,3-3,1-12,5-3,-5 0,-7zM14,253l7,1 9,7 21,-4 9,1 10,7 1,3 0,9-2,6-9,6-6,3-6,6 4,3 0,3-8,9-8,4-6,-1-9,3 3,1 1,2 1,3-1,9 1,3 10,21 0,5-2,7 0,6-1,3-6,6-4,6 0,3 1,6-23,0-1,-1 0,-69 1,-2-1,-6 4,-6 0,-3-4,-3 0,-54 9,0zM15,319l0,3 6,-3zM102,274l6,-3 6,2 9,-1 8,5 1,3-5,3-13,3-6,0-8,-3-4,-3-1,-3zM143,322l4,-2 6,1 2,1 1,3-3,21-5,9-1,1-3,0-2,-1-1,-6 3,-12-2,-12zM192,352l0,-1 3,2 6,8 0,3-6,4-6,-2-2,-5 0,-6 2,-3zM96,364l9,-2 6,0 12,19 3,2 6,-2 3,0 12,9 4,1-4,0-3,2-6,7-18,0 1,-9-1,-3-3,-3-6,-1-6,2-6,0-7,-4-3,-3 1,-6z" fill="#0049ff"/><path d="M290,42l5,0 3,2 2,7-1,3-4,4-6,2-3,0-3,-3 0,-6 3,-6zM353,42l2,-2 3,0 5,5 4,10 12,6 3,0 9,-5 9,1 0,70-12,5-3,0-3,-4-3,-8-3,0-6,7-21,11-4,3-5,12-2,3-7,5-9,4 1,9-1,4-3,2-15,-11-3,0-9,7-9,-2-3,-2-1,-4-2,-6 0,-11-6,-4-1,-3 1,-3 3,-3 9,-1 6,-4 3,-4 6,-12 9,-6 9,-11 9,-4 3,-3-2,-15 2,-5zM38,45l1,-1 3,0 2,1 1,9-2,3-4,1-3,-2 0,-8zM216,45l4,-1 3,1-3,2-3,0zM249,51l4,-2 3,0 1,2-1,3-3,0zM233,69l5,-3 3,0 3,3 1,3 0,9-2,3-5,3-6,0-4,-3-1,-3 1,-6zM387,162l4,-3 3,1 6,5 0,69-3,7 0,6-4,9 0,3 7,6-9,4-3,0-2,-1-1,-3-3,-2-6,-1-6,-2-2,-4 4,-6 0,-12-5,-6-9,-5-2,-4 0,-3 5,-6 4,-19 8,-12 6,-19 6,0zM165,165l0,-2 4,2zM347,183l2,-1 2,1 1,3-2,3-4,3 1,3 4,7 0,3-4,3-7,1-3,-2-1,-2 1,-6 3,-5 5,-5zM299,214l2,-2 3,-1 15,7 9,2 2,3 5,9 7,9 4,4 7,5 1,3-3,6 0,3 7,10 3,0 6,-7 3,-1 3,3 2,7-2,9 0,3 2,3 6,6 4,8 3,4 5,3 7,1 0,44-7,6-11,4-6,3-9,10-6,14-3,3-9,5-120,0-2,-9 2,-6-1,-3-11,-1-6,-2-1,-3 3,-6 7,-9 1,-6-2,-9 4,-5 4,-4 1,-3-5,-9-3,-3-13,0 1,-15 3,-3 9,-6 3,-6 2,-9-2,-15 1,-3 5,-9 1,-6 5,-9 2,-9 4,-3 3,-1 6,2 6,1 17,-5 7,-8 3,-1 9,0zM0,262l0,-2 6,2 9,6 3,1 6,-3 9,1 18,-4 6,0 4,2 2,3 1,3 0,9-2,3-5,1-18,-5-6,1-5,3-1,3 3,5 6,4-3,6-4,-3-5,-1-6,5-3,1-9,1-6,-1zM107,274l7,2 9,-2 5,3 1,3-18,6-3,-1-6,-2-3,-3 1,-3zM144,325l3,-2 4,2 1,12-1,9-3,6-1,2-3,0-1,-2 0,-6 4,-12zM5,328l1,-1 3,-1 10,2 2,2 2,7 3,6 1,9 6,5 1,4-3,6-1,9-2,3-5,6-5,9-3,2-3,0-6,-2-4,-3-1,-3 0,-3 2,-3 0,-3-3,1 0,-14 3,-1 3,-4 3,-9 5,-6 1,-3-1,-3-5,-1-3,1-6,6 0,-9 3,-3zM189,355l0,-1 3,-1 5,5 0,6-2,2-3,0-3,-2-1,-3zM98,364l10,-1 3,1 9,15 1,3-1,2-9,-1-9,2-6,-3-4,-3-1,-3 2,-6zM130,385l2,-1 4,1 2,6-2,6-2,3-12,0 2,-12z" fill="#0000ff"/><path d="M291,42l4,1 3,2 1,6-1,3-3,3-6,3-3,-1-2,-2-1,-6 3,-6zM355,42l3,0 3,2 4,7 2,8 3,1 5,3 7,0 9,-5 9,1 0,66-12,6-3,0-3,-5-3,-8-3,1-6,7-21,11-3,3-3,4-3,9-3,3-6,5-6,1-4,3 1,9 0,2-2,1-16,-9-3,0-3,1-6,6-9,-2-3,-4-2,-7-1,-12-4,-3-2,-3 0,-3 3,-2 9,-2 6,-3 4,-5 5,-12 9,-5 9,-11 9,-4 3,-3 1,-4-2,-12 3,-6 13,-17zM249,51l4,-2 4,2-1,2-3,1zM234,69l4,-2 3,0 3,3 1,5-1,6-2,3-7,3-3,-1-4,-5 1,-6zM389,162l2,-1 3,0 6,5 0,38-3,7 0,3 3,4 0,6-3,1-3,-1-4,2-1,3 2,2 3,-1 1,2-1,5-3,4 0,5-7,1-1,3 4,6-5,5-6,0-5,-2-1,-3 6,-9-2,-9-6,-6-10,-6-1,-3 5,-9 4,-19 8,-12 5,-15 3,-1 3,1zM300,217l4,-2 3,1 21,8 7,11 14,15 1,3-2,9 7,11 3,3 3,0 6,-4 3,-1 1,3-1,12 1,3 6,6 1,3 3,12 4,2 15,3 0,35-9,10-12,3-3,2-10,11-7,15-10,6-3,3-108,0-3,-2-3,-4 1,-12-1,-4-6,-2-6,2-5,-2 1,-3 7,-12-1,-15 9,-9 1,-3-1,-3-8,-10-9,-3-3,-2-1,-6 1,-3 11,-9 2,-3 2,-9 1,-21 5,-15 6,-15 3,-3 3,0 9,2 18,-4 12,-10 9,0zM0,268l0,-2 6,1 4,4 2,6-3,5-9,4zM108,277l6,3 0,3-6,1-3,-1-2,-3 2,-3zM14,355l1,-1 3,2 6,5 0,15-9,13-3,2-3,-1-2,-2 3,-9-2,-9 3,-12zM192,355l4,3 1,3-2,3-3,1-4,-4 0,-3 1,-3zM97,367l8,-3 3,1 3,2 6,9 0,4-12,3-6,-1-4,-3-1,-3z" fill="#002ab5"/><path d="M287,45l5,-2 3,0 2,2 2,3-2,6-3,3-5,2-3,0-3,-5 2,-6zM353,45l2,-2 3,0 3,2 3,6 1,6-1,7 6,0 9,1 15,-5 6,2 0,62-12,7-3,-1-3,-4-3,-9-3,1-7,8-23,13-4,5-2,8-3,4-6,4-9,3-3,2 1,9-1,1-9,-4-6,-4-3,0-4,1-5,5-3,0-6,-2-4,-9-1,-12-6,-6 0,-3 2,-1 9,-2 6,-4 4,-5 6,-12 8,-5 9,-11 9,-4 3,-2 2,-5-1,-12 2,-5 12,-17zM370,99l-3,4-6,4-3,-1-1,2 13,0 3,-3zM250,51l3,-1 3,1-3,2zM235,69l3,-1 3,0 3,4 0,3 0,6-3,3-6,3-3,-1-4,-5 1,-6 3,-3zM391,162l3,0 6,5 0,35-8,9 0,6-8,12 0,9-2,2-3,1-6,-6-13,-9-1,-3 5,-12 5,-19 5,-9 5,-12 3,-2 3,1zM298,220l12,-1 15,6 21,25 1,3-1,6 2,6 7,11 3,3 6,2 2,2 2,6 7,9 4,14 3,2 12,2 6,4 0,25-3,2-4,8-3,3-14,4-11,14-7,14-9,4-5,6-98,0-10,-6-2,-6 2,-9-1,-3-9,-6-1,-3 0,-18 1,-3 6,-5 2,-4 0,-6-11,-12-9,-5-2,-4 2,-3 9,-8 2,-4 2,-9 2,-21 5,-15 7,-14 3,-2 9,2 9,-1 9,1 12,-12zM372,253l4,-3 6,0 3,6-3,4-6,0-4,-1-1,-3zM189,358l3,-2 3,2 1,3-1,1-3,2-3,-3zM99,370l3,-2 3,-1 3,1 6,7 0,4-9,2-3,-1-2,-1-2,-3z" fill="#00546b"/><path d="M288,45l4,-2 3,1 3,4 0,3-1,3-4,3-4,2-3,-1-2,-4 2,-6zM355,45l3,-1 4,4 2,9-3,9 3,2 6,-3 9,1 12,-2 3,0 4,2 2,11 0,45-12,8-3,0-2,-4-4,-11-3,1-3,3-5,7-22,13-4,5-3,9-8,6-10,3-3,3-1,6-4,1-9,-6-3,0-3,0-6,6-6,-1-6,-8-2,-13-6,-6 1,-3 4,-2 6,-1 6,-3 5,-6 3,-9 3,-3 7,-4 9,-11 12,-7 2,-5 0,-9 1,-5 12,-18zM379,93l-2,0 4,6 1,4 2,-7-1,-3zM346,83l0,9 1,-2 0,-6zM349,93l-1,0 1,8 3,5 3,3 15,1 3,-2 2,-3-5,-11-3,2-2,6-4,2-6,-2-5,-6zM236,69l5,0 2,3 1,6-3,6-6,2-4,-2-2,-3 0,-3 3,-6zM389,165l2,-2 3,0 6,5 0,33-6,6-3,1-2,3-2,9-8,15-3,0-14,-9-2,-3 8,-21 2,-10 12,-21 3,2zM295,223l6,-1 9,1 12,3 3,3 6,9 12,12 1,3 0,9 1,3 8,12 10,9 8,12 3,6 3,9 2,3 3,1 12,2 3,3 3,5 0,13-5,6-5,9-5,3-9,0-12,16-6,13-9,5-7,8-83,0-12,-3-6,-3-4,-3 0,-3 1,-9 0,-7-3,-4-3,0-4,-4-1,-9 0,-6 8,-9 2,-6-1,-3-11,-12-9,-6-1,-3 2,-3 6,-6 4,-6 4,-24 4,-21 9,-12 9,1 9,0 9,2 8,0 1,-2 0,-4 2,-6 4,-3zM286,240l-3,1 6,6 6,1 4,-1 0,-3-1,-3-3,-2-3,-1zM373,253l3,-2 3,-1 3,1 3,5-3,3-6,1-3,-2-2,-2zM191,358l1,-1 3,4-3,1-1,-1z" fill="#008738"/><path d="M288,45l4,-2 3,1 3,4 0,3-2,3-3,3-4,1-3,0-2,-4 2,-5zM354,48l4,-2 3,2 2,9-2,7-3,3-6,2-4,3-3,9-1,9 5,13 6,7 15,1 6,-3 3,3 3,-4 2,-8 4,-6-3,-2-3,-1-15,2-6,10-3,-1-3,-2-3,-7 0,-5 6,-6 3,-9 6,-5 21,-1 3,1 3,2 3,12 3,2 0,37-9,7-3,2-3,0-3,-6-3,-11-1,2-5,3-6,9-21,12-3,4-3,8-3,5-6,4-12,3-3,7-3,1-12,-5-4,0-8,5-3,-1-6,-8-1,-11-2,-3-4,-3 1,-3 9,-2 6,-4 3,-3 6,-12 3,-3 6,-4 9,-11 12,-6 3,-6 1,-9 2,-5 9,-16zM233,72l5,-3 3,1 2,2 0,3-1,6-4,4-3,0-3,-1-2,-3 0,-6zM390,165l4,-1 6,5 0,31-6,6-7,2 0,9-8,14-3,3-13,-8-1,-3 0,-3 5,-13 3,-5 0,-7 0,-3 9,-14 3,-4 3,1zM292,226l6,-2 3,1 9,3 12,1 3,2 6,11 8,8 1,3 0,6 1,3 29,39 3,5 3,10 4,3 8,1 5,2 3,6 0,12-8,15-3,1-3,0-9,-4-2,9-9,15-4,9-3,3-7,3-7,9-80,0-3,-3-11,-3-6,-3-2,-3 0,-3 1,-6 1,-13-3,-3-6,-2-2,-3-1,-3 1,-6 7,-9 2,-9-2,-3-5,-4-12,-11-1,-3 9,-15 7,-36 3,-9 6,-8 3,-1 21,2 18,4 6,3 6,0 4,-3 0,-3 0,-3-4,-4-9,-3-3,-2 1,-3zM374,253l5,-2 3,1 2,4-3,3-5,0-4,-3z" fill="#00c31c"/><path d="M289,45l3,-1 3,1 2,3 1,3-3,4-6,3-3,-1-1,-3 1,-4zM357,48l4,3 1,6-1,4-3,4-15,6-2,-2 2,-7 7,-8zM365,69l5,-2 18,0 2,2 2,6-4,7-6,2-3,3-9,1-3,-1-7,-6 0,-3 2,-6zM233,72l5,-2 3,1 1,1 0,6-1,3-3,3-5,0-3,-3 1,-6zM339,78l4,-3 1,3-2,9 4,11 6,11 3,2 18,1 1,2-3,3-2,6-23,15-3,3-3,9-3,4-6,4-12,4-6,7-3,-1-6,-4-3,0-12,3-6,-3-3,-5 0,-9-1,-3-4,-3 0,-3 8,-1 9,-6 7,-14 8,-6 10,-12 12,-6 3,-6 2,-6zM387,96l4,-1 9,2 0,22-4,4-8,5-3,0-1,-2-3,-12 3,-12zM392,165l2,0 6,5 0,28-6,6-3,1-4,0-2,-3 0,-7-9,3-3,0-2,-3 1,-3 7,-12 3,-3 3,1 1,-1 3,-9zM370,205l3,-3 3,0 6,3 4,6 0,6-3,6-7,9-7,-3-4,-3-2,-3 4,-14zM294,229l4,-1 2,1 2,3-1,2-6,-2-1,0zM317,232l5,0 2,3 1,6-1,6 1,3 7,9 8,5 6,7 10,15 3,9 5,3 6,7 6,14 3,2 9,1 4,3 1,6 0,9-5,11-3,3-3,0-3,-2-6,-5-3,1-2,4 0,9-10,21-3,4-9,4-7,10-75,0-5,-5-12,-4-5,-3-1,-3 2,-18 0,-3-10,-6-2,-3 0,-3 8,-12 2,-9-1,-3-9,-6-7,-9-1,-3 0,-3 6,-12 3,-13 4,-11 2,-13 3,-8 6,-5 21,0 15,3 9,4 6,0 4,-2 5,-8zM375,253l4,-1 3,1 1,3-4,3-3,-1-3,-2z" fill="#00ff00"/><path d="M290,45l5,0 2,3 0,3-2,4-6,2-4,-3 2,-6zM357,51l3,3 1,3-3,5-3,1-3,0-2,-3 1,-3zM366,69l4,-2 15,1 4,1 1,3 0,3-2,4-3,2-9,0-6,3-3,0-5,-3-1,-3zM234,72l4,-1 3,1 1,3-2,6-2,2-3,1-3,-1-1,-5 1,-3zM336,84l4,-1 0,4 5,12 7,11 3,2 9,0 6,2-2,9-7,3-3,3-12,8-4,4-3,9-2,4-6,4-12,3-3,1-3,5-3,0-6,-4-6,0-9,2-6,-3-2,-3-1,-12-3,-3 3,-3 3,0 9,-6 3,-6 4,-9 8,-6 9,-10 13,-8zM386,99l2,-2 3,0 6,1 3,2 0,18-5,5-7,5-4,-2-2,-9 0,-6zM390,168l4,-3 6,6 0,27-6,5-3,1-4,-2 0,-10-2,-1-3,3-6,2-3,0 0,-4 6,-10 3,-3 3,2 3,0zM372,205l4,-1 3,1 5,6 1,3-3,9-6,8-5,-2-7,-6 3,-11 3,-6zM251,250l8,-2 9,-1 30,7 4,-1 8,-6 3,2 3,4 3,3 6,2 12,7 6,6 10,15 0,9 3,3 8,4 5,5 7,18 9,-1 3,1 2,3 1,9-4,12-2,2-3,0-9,-7-3,0-2,2-1,3-2,12-9,21-3,3-7,3-8,12-72,0-4,-6-3,-2-9,-2-4,-2-2,-3 1,-21-3,-3-7,-6-1,-3 8,-15 2,-6-1,-3-2,-3-9,-5-4,-4-3,-6 1,-3 5,-12 4,-16 5,-5 1,-13 6,-8zM377,253l3,0 3,3-4,2-3,0-3,-2z" fill="#66ff00"/><path d="M291,45l4,1 1,2 0,3-1,3-6,3-3,-3 2,-6zM367,69l3,-1 15,0 3,2 1,2 0,3-4,4-9,1-9,3-3,-2-2,-3 3,-6zM235,72l5,0 1,3 0,3-2,3-4,2-3,-1-1,-4 1,-3zM337,87l3,3 12,23 3,1 9,-1 4,1 0,3-1,5-3,2-2,-1-4,-3-1,0 1,6-1,3-13,9-2,3-5,12-6,4-12,3-5,2-1,2-3,1-6,-4-15,2-6,-2-2,-5-1,-12 14,-12 7,-12 7,-6 10,-12 7,-2 5,-4zM387,99l4,-2 9,4 0,15-3,5-9,6-3,-1-3,-9 1,-6zM391,168l3,-1 6,5 0,25-6,5-3,1-3,-1 0,-4 1,-24zM379,183l3,-2 3,2 0,3-3,6-6,2-2,-2zM371,208l2,-2 3,0 6,3 2,5-2,7-6,8-3,0-7,-6 1,-9zM260,250l8,-1 15,3 15,4 12,-3 9,7 17,8 6,6 7,11 0,4-1,6 3,3 13,7 4,5 5,21 3,2 6,-5 3,0 3,2 1,4 0,6-4,7-3,1-9,-8-3,1-3,3-2,5-2,12-8,20-3,3-8,4-8,12-43,0-4,-2-3,0-5,2-12,0-7,-12-3,-1-6,1-6,-3-1,-9 0,-12-1,-3-8,-6-1,-3 1,-3 9,-15 0,-6-2,-4-9,-3-3,-2-4,-6 0,-6 4,-9 4,-15 2,-3 6,-3 1,-3-1,-10 10,-11zM374,256l2,-2 3,-1 3,3-3,2-3,-1z" fill="#ccff00"/><path d="M289,48l3,-2 3,1 1,4-1,2-6,3-2,-2zM368,69l5,-1 12,1 3,3 0,3-3,3-9,1-9,2-4,-3 2,-6zM233,75l5,-3 3,2 0,4-3,4-3,0-2,-1-1,-3zM334,93l3,-3 3,3 3,5 6,10 2,9 5,9 0,3-12,9-3,3-4,12-6,4-12,2-9,3-6,-2-15,1-6,-1-1,-4 0,-12 11,-9 8,-15 7,-6 8,-9 3,-3 9,-3zM388,99l3,-1 3,1 6,3 0,13-3,5-9,7-3,-2-2,-8 1,-9zM360,117l1,-2 3,-1 2,3-2,4zM393,168l1,0 3,2 3,4 0,22-6,5-3,1-2,-4 1,-15 1,-12zM379,186l3,-2 1,2-1,3-3,3-2,-3zM373,208l3,-1 5,4 2,3 0,3-4,7-3,3-3,0-5,-4-1,-3 3,-9zM259,253l9,-2 15,2 12,5 6,1 6,-2 3,0 6,5 15,6 4,3 2,3 0,6 1,3 6,6 2,7 3,3 12,6 4,5 6,24 0,3-7,9-2,12-8,21-2,3-9,5-9,13-14,0-4,-2-5,2-14,0-2,-5-3,-1-12,0-6,2-3,-2-3,-3-3,-9-6,-1-6,2-3,-3-2,-7 0,-9-1,-3-7,-6-2,-3 1,-3 10,-15 0,-6-3,-6-12,-3-3,-3-2,-6 2,-6 3,-6 3,-12 7,-4 4,-5-1,-9 1,-3zM375,256l1,-2 3,0 2,2-2,1zM382,334l3,-1 1,4-1,4-3,2-3,-3 0,-3z" fill="#ffdd00"/><path d="M290,48l2,-1 3,1 0,3-2,3-4,1-1,-4zM369,69l16,1 2,2 0,3-2,2-9,1-9,2-3,-2 1,-3 1,-3zM234,75l4,-1 2,1-1,3-1,3-4,0-1,-3zM332,96l5,-3 3,2 3,5 4,8 0,6 1,3 6,9 0,3-11,9-2,3-4,11-6,4-18,3-15,-1-9,2-4,-1-3,-3 1,-9 1,-3 11,-10 6,-13 8,-7 10,-10 6,-3zM390,99l4,0 6,4 0,11-4,6-8,6-4,-3 0,-9 3,-12zM392,171l2,-2 3,2 3,5 0,19-6,4-3,0 0,-16zM373,211l3,-1 5,4 0,3-1,3-4,5-3,0-3,-2-1,-3 1,-5zM259,256l3,-2 6,-1 15,1 8,5 7,6 6,0 6,-2 18,6 5,5 1,9 6,6 4,9 14,8 4,4 7,24-1,3-7,9 0,9-4,15-5,10-10,5-8,12-3,3-4,0-8,-5-12,-1-9,-3-12,0-6,-1-5,-2-4,-6-5,-3-13,-3-2,-3-2,-12-8,-9 1,-3 11,-15-2,-12-1,-2-3,-3-9,1-3,-1-3,-4-1,-3 1,-3 5,-9 3,-9 7,-5 4,-7 1,-9zM375,256l4,-1 1,1-1,0z" fill="#ff9900"/><path d="M291,48l2,0 1,3-2,3-3,-3zM366,72l4,-2 3,-1 12,2 1,1 0,3-1,1-9,1-9,3-2,-2zM236,75l2,0 0,3-3,1 0,-2zM329,99l5,-3 3,0 6,6 3,6-1,6 0,3 8,9 0,3-13,12-3,10-3,3-6,2-27,0-6,-1-6,3-3,0-2,-2-1,-3 1,-6 2,-3 9,-9 6,-12 18,-18zM388,102l3,-2 3,0 6,5 0,6-2,6-4,4-6,4-3,-2-1,-6zM394,171l3,2 3,5 0,16-6,3-2,-2 0,-12zM375,217l1,-2 3,2-3,3-1,0zM264,256l19,0 5,3 10,9 6,1 12,-1 10,3 4,3 1,9 2,3 4,3 4,9 15,9 5,6 5,12 1,9-1,3-6,6-1,3 0,9-4,15-3,7-3,2-10,6-5,9-3,3-3,0-9,-4-9,-1-9,-5-15,0-3,0-12,-8-15,-5-3,-3-3,-10-5,-9 2,-6 8,-9 1,-3-2,-9 5,-12 0,-3 0,-3-6,-3-6,1-2,2-2,6-5,2-3,-1-1,-4 1,-3 6,-5 1,-7 2,-2 8,-7 1,-4 1,1 0,3 1,3 4,1 1,-1 1,-6 6,-9-1,-3-8,-6 0,-3 2,-3z" fill="#ff5500"/><path d="M367,72l3,-2 3,0 9,1 3,1 0,3-18,4-1,-4zM331,99l3,-1 3,1 6,6 1,3-2,6 1,3 8,9 0,3-9,9-4,6-2,6-3,3-8,2-21,-1-6,-5-3,1-6,6-3,0-1,-3 1,-6 9,-8 6,-16 20,-18zM389,102l2,-1 5,1 3,3 0,3-2,9-3,4-6,3-3,-3 0,-4zM394,177l0,-2 6,6 0,12-6,1zM265,259l6,-1 12,0 5,4 7,8 3,1 18,-1 9,3 3,4 1,9 6,6 3,6 2,3 16,9 5,6 4,12 0,6-1,3-7,6 0,12-4,15-4,7-15,8-3,7-3,1-6,-2-12,-2-6,-7-9,0-9,-7-3,0-6,3-3,0-18,-7-3,-4-2,-9-3,-6 0,-3 4,-6 6,-6 0,-12 4,-15 0,-3-2,-3-8,-6 11,-6 2,-3 1,-6 4,-9 0,-3-6,-6-1,-3z" fill="#ff1100"/><path d="M368,72l5,-1 10,1 0,3-13,2-3,-2zM329,102l5,-1 4,4 2,3 1,9 7,9 1,3-10,12-4,9-4,3-12,0-11,-3-10,-9 3,-15 5,-6zM391,102l3,0 3,3 1,6-1,4-3,5-6,4-2,-4-1,-3 3,-10zM278,262l5,0 3,2 6,9 3,2 21,-3 6,2 3,3 1,3 0,9 2,3 5,3 4,7 9,5 6,5 3,1 6,7 2,8 0,6-2,3-6,3-2,3 2,9-3,15-3,6-3,3-9,1-9,-2-3,1-2,3-1,6-3,2-3,0-3,0-3,-2-3,-7-3,-1-9,0-6,-5-3,-1-3,0-6,4-3,1-9,-3-6,-3-3,-3-4,-18 1,-3 8,-9 0,-12 5,-18-3,-9 5,-6 1,-9 5,-9 0,-5-3,-4 3,-2z" fill="#cc0000"/><path d="M370,72l8,0-3,3-5,1-1,-1zM390,105l1,-1 4,1 2,6-3,7-6,4-2,-5 2,-7zM319,114l6,-1 1,4 5,7 3,1 6,-2 6,6-1,3-8,9-3,8-3,1-9,0-3,-1-3,-2-1,-3-11,-3-2,-3 2,-13zM313,123l-2,3 0,3 2,3 3,2 3,-1 4,-4-1,-4-3,-3-3,0zM302,277l14,-2 6,3 2,5-2,9 1,3 5,3 5,9 8,3 5,8 9,0 3,2 3,5 1,6-1,2-3,2-6,2-3,3 1,12-6,9 3,6-1,3-3,1-6,-3-12,1-9,5-6,-2-12,0-9,-5-3,0-3,1-9,5-3,0-8,-3-4,-3-2,-3-2,-15 1,-3 8,-9 0,-12 6,-24 5,-9 1,-9 7,2 9,-1z" fill="#880000"/><path d="M392,108l2,0 0,6-3,5-3,1 0,-5zM326,129l2,-1 9,5 1,2-4,4-12,1-2,-2zM303,283l4,-2 6,-1 3,0 3,3-3,9 2,6 6,6 7,12 9,6 6,6-3,9 3,12-3,3-6,3-9,6-6,0-6,2-9,-1-6,4-3,0-6,-2-6,0-6,2-6,4-6,0-5,-3-2,-3-2,-15 2,-3 6,-6 2,-6 2,-19 3,-6 7,-5 5,-10 9,-4zM349,325l6,-2 3,2 0,5-3,1-4,0-5,-3z" fill="#4c0000"/><path d="M298,298l3,-2 6,1 4,4 2,3 1,6 8,1 1,2 8,14 4,1 2,3-3,11-6,4-6,9-6,3-3,0-7,-3-2,-3 0,-6-3,-5-3,-2-3,0-3,2-3,8-1,3 2,6-19,9-3,0-4,-3-1,-3 1,-12 10,-12 9,-1 2,-2-1,-3-5,-6 0,-6 1,-2 9,-2 2,-2 2,-9z" fill="#1a0000"/><path d="M312,319l4,-2 3,-1 2,3-1,3-1,0-4,0zM279,343l1,0 3,3-5,6-3,6-5,3-2,-2 0,-4 7,-9zM309,343l1,-1 3,-2 3,2 3,4 0,3-1,3-5,1-3,-1-1,-3z" fill="#262626"/></g></g></g>
<rect x="718.0" y="938.0" width="200.3" height="200.3" fill="none" stroke="#444" stroke-width="1.1" />
<g transform="translate(955.4,938.0) scale(1.0015)" clip-path="url(#cp)"><g filter="url(#bs)"><rect width="200" height="200" fill="#fffdfd"/><path d="M162.7,135.8L165.1,137.5M172.0,85.4L177.8,82.1M196.8,1.7L196.7,-0.6M136.6,170.0L138.8,175.1M42.1,21.3L38.9,15.5M104.8,33.0L103.0,32.1M89.1,141.2L87.4,143.8M65.2,24.1L67.3,18.5M111.4,192.8L113.0,196.4M49.2,136.4L47.2,142.1" stroke="#00f" stroke-opacity="0.04" stroke-width="3" fill="none" stroke-linecap="round"/><path d="M169.4,170.8L172.7,173.7M37.3,79.7L34.1,78.8M50.9,99.1L46.5,98.5M28.8,157.2L25.4,159.5M15.2,16.9L14.6,10.7M177.0,54.7L180.9,54.1M152.7,189.7L155.4,190.4M169.8,75.8L175.0,72.4M122.8,52.2L121.1,50.9M136.8,139.7L136.9,144.7M47.1,13.2L47.6,10.0M141.3,43.1L142.2,38.7M125.4,184.4L127.5,187.9M49.6,162.2L45.1,161.8M33.6,1.5L30.1,1.4M15.4,28.0L13.8,26.1M99.6,191.8L99.3,195.0M122.3,100.4L125.9,101.4M160.9,111.3L166.7,113.6M54.7,54.0L45.2,54.2M93.7,40.2L89.2,34.9M114.7,157.8L117.6,162.1M74.3,22.1L76.3,15.3M56.6,132.8L50.7,137.1M18.0,100.5L11.5,101.3M34.4,71.8L30.2,63.8M176.3,89.2L185.9,87.7M13.8,116.9L7.1,115.5M18.0,86.5L9.8,83.6M94.7,52.1L90.9,48.9M120.6,160.7L125.3,165.5M190.1,155.3L196.8,150.5M133.5,166.0L136.8,175.3M151.0,56.6L155.5,50.6M158.6,68.5L164.5,64.5M155.9,86.8L164.4,88.6M136.5,136.0L142.3,138.5" stroke="#f00" stroke-opacity="0.04" stroke-width="5" fill="none" stroke-linecap="round"/><path d="M32.2,96.3L28.1,96.6M37.9,133.7L36.8,136.2M66.1,107.4L62.8,109.3M140.2,42.4L144.5,38.0M197.2,59.8L202.3,60.0M160.5,55.4L166.2,56.1M149.3,116.2L153.4,116.2M126.2,163.3L129.4,167.6M181.0,11.3L185.8,6.4M75.8,91.6L73.8,91.7M47.0,193.9L46.9,196.5M53.4,72.9L52.2,70.2M15.4,10.5L12.3,7.9M157.7,104.4L163.5,101.4M194.7,118.3L196.8,118.2M143.8,141.0L150.9,142.0M140.6,34.5L146.9,28.3M16.5,109.5L8.2,106.4M140.4,125.4L149.3,127.0M158.7,69.3L164.5,65.6M80.4,186.8L74.6,194.4M169.2,70.8L178.6,69.1M106.3,177.5L109.4,182.6M118.3,181.7L119.8,189.2M121.3,14.4L126.8,7.9M42.6,88.3L35.9,82.1M47.2,80.2L42.4,78.2M19.2,97.5L9.5,97.8M59.0,161.6L56.9,169.5M93.9,36.5L93.4,27.2M92.9,22.7L90.1,13.9M9.4,109.5L3.7,114.5M30.6,144.9L25.8,149.9M180.3,117.7L189.0,120.2M90.6,29.6L91.1,20.1" stroke="#00f" stroke-opacity="0.04" stroke-width="5" fill="none" stroke-linecap="round"/><path d="M120.4,159.4L121.8,163.0M139.6,183.2L136.0,187.3M13.1,64.4L11.1,61.0M196.3,95.4L199.9,92.9M174.0,50.6L178.4,45.9M67.4,158.2L63.1,164.6M56.4,52.6L53.3,48.1M150.8,140.4L156.9,142.4M135.6,133.2L140.2,136.5M32.0,118.0L26.1,122.9M93.8,41.3L95.6,36.5M69.1,136.0L65.8,142.3" stroke="#00f" stroke-opacity="0.04" stroke-width="4" fill="none" stroke-linecap="round"/><path d="M29.8,142.6L27.8,144.4M86.0,135.1L85.8,139.0M129.5,186.5L128.8,192.2M19.4,63.8L14.2,61.2M157.3,93.0L164.1,92.0M175.7,149.7L178.4,152.8M53.0,39.6L53.2,37.5M51.0,176.1L46.2,180.1M85.5,5.9L84.8,2.0M100.6,129.9L97.5,134.6M86.5,49.2L85.4,44.3M28.4,171.8L23.4,175.6M160.1,71.1L161.4,69.4M74.1,105.7L71.6,106.3M39.7,98.6L32.5,100.7M35.7,74.8L28.1,72.1M42.6,88.3L37.9,86.3" stroke="#f00" stroke-opacity="0.04" stroke-width="4" fill="none" stroke-linecap="round"/><path d="M181.7,134.2L184.5,133.9M135.1,43.1L135.1,38.4M156.7,76.5L159.8,78.2M146.6,104.4L151.2,108.7M20.7,111.8L14.5,111.0M95.3,49.7L95.0,46.4M58.6,155.7L57.5,160.3M175.1,66.7L185.6,64.7M30.7,155.4L25.3,159.1M69.9,24.3L65.3,17.4M22.1,123.8L14.6,124.1M182.5,92.4L187.4,96.4M69.5,35.5L64.9,28.9M24.9,47.4L16.8,50.6M164.0,42.8L171.0,39.0M145.5,59.2L147.5,53.1M62.5,159.5L63.5,166.0M24.5,180.9L19.7,186.7M73.0,177.0L68.8,183.5M151.3,38.7L155.6,29.9M21.5,34.6L15.1,26.9M28.2,52.1L23.2,46.5" stroke="#f00" stroke-opacity="0.04" stroke-width="6" fill="none" stroke-linecap="round"/><path d="M188.8,128.8L190.0,130.8M162.8,60.9L166.2,59.2M66.1,136.5L68.7,139.2M188.7,18.0L193.7,15.5M93.2,189.1L92.8,193.3M76.2,30.0L75.4,24.3M54.2,104.0L50.8,105.8" stroke="#f00" stroke-opacity="0.04" stroke-width="3" fill="none" stroke-linecap="round"/><path d="M73.2,52.4L73.9,48.3M123.3,148.2L125.3,152.7M182.0,16.2L187.7,12.3M143.8,150.8L143.8,157.5M134.5,156.7L135.4,160.5M81.7,25.3L79.0,20.4M51.5,63.9L48.7,62.2M43.4,86.2L41.0,81.2M112.8,43.5L108.8,38.1M134.2,144.0L139.2,150.9M113.8,175.3L116.8,184.2M164.9,67.4L171.7,66.3M46.9,140.6L43.7,149.1M25.9,18.0L19.8,14.1M79.9,189.6L79.2,199.5M70.0,183.0L73.4,190.4M60.5,162.5L59.4,169.2M118.6,21.6L124.6,15.6M10.9,65.8L1.6,64.0" stroke="#00f" stroke-opacity="0.04" stroke-width="6" fill="none" stroke-linecap="round"/><path d="M102.6,186.7L102.1,193.5M84.3,108.4L79.4,111.4M62.6,91.3L58.7,90.1M165.0,13.3L167.5,11.8M52.7,152.0L50.4,153.2M19.0,54.4L13.0,54.3M94.2,78.3L96.6,76.1M80.0,106.5L76.6,106.8M5.0,57.9L2.9,57.6M84.5,95.7L78.7,98.2M153.1,51.5L157.2,46.0M169.2,62.1L174.7,60.3M128.9,109.4L128.7,116.1M111.4,177.3L114.9,182.8M7.3,32.7L3.3,27.8M68.8,88.7L66.2,86.3M155.4,4.5L157.0,2.6M75.0,71.9L68.2,72.1M161.6,110.1L167.7,113.2M12.8,6.6L9.7,5.5M121.8,34.7L123.7,31.8M5.8,120.1L3.6,120.4M132.4,87.5L138.7,85.0M90.8,26.2L93.1,23.2M31.0,165.1L24.4,167.0M81.0,152.2L82.1,156.8M102.8,178.8L104.2,181.8M115.9,140.1L119.1,143.2M139.4,26.8L140.9,24.9M84.6,170.7L83.8,172.6M163.1,160.6L165.2,167.1M142.3,67.0L150.5,65.6M105.2,151.4L107.6,157.5M36.2,142.9L29.1,147.9M161.0,120.7L166.2,123.4M60.3,114.6L55.8,115.9M87.0,52.1L82.2,49.1M45.2,154.4L40.6,161.6M50.4,125.2L45.4,126.8M160.9,101.0L167.8,104.3M53.1,77.5L52.0,70.7M79.4,38.4L77.4,32.8M150.8,103.5L155.9,104.5M106.7,160.7L107.9,166.1M85.7,35.1L83.5,27.7M150.9,122.6L158.0,128.2M60.3,158.4L56.4,164.9M82.8,60.4L87.5,53.0M145.3,106.4L150.8,105.0" stroke="#f00" stroke-opacity="0.08" stroke-width="5" fill="none" stroke-linecap="round"/><path d="M58.9,98.9L53.2,95.2M41.3,196.1L39.2,199.2M165.8,12.9L169.2,9.4M77.6,195.9L76.0,199.1M179.2,21.0L182.3,18.1M99.6,22.6L99.3,16.6M27.9,94.7L25.3,98.6M176.1,165.5L178.7,168.8M148.7,138.4L151.4,143.9M161.6,47.5L166.8,47.3M13.7,120.6L10.7,121.3M110.3,151.8L112.5,155.6M180.1,123.7L183.7,123.0M143.8,175.2L148.0,177.8M109.3,110.6L112.8,115.3M18.1,75.6L15.5,71.4M87.8,96.8L83.2,98.8M97.3,77.1L98.3,74.1M11.3,182.6L10.6,185.2M166.9,150.7L172.0,150.5M44.8,22.7L40.7,18.7M17.7,24.1L13.2,23.7M153.9,81.4L156.5,80.3M121.9,106.3L125.4,106.5M161.1,149.5L167.6,151.1M84.1,40.5L80.2,37.6M142.2,107.8L148.8,110.1M61.9,115.9L55.1,116.5M59.1,86.0L55.8,80.6M119.6,51.7L116.6,43.4M62.8,146.7L60.7,151.1M81.2,132.3L79.9,138.6M90.1,62.9L85.8,56.7M39.9,75.1L32.3,69.9M94.8,39.0L91.7,32.7M142.9,81.3L149.7,83.7" stroke="#00f" stroke-opacity="0.08" stroke-width="4" fill="none" stroke-linecap="round"/><path d="M182.4,9.8L184.5,6.0M22.9,42.1L21.0,39.2M150.4,104.4L157.1,105.9M193.2,123.6L196.7,126.5M43.9,151.5L41.1,152.5M170.6,29.3L174.8,29.2M53.3,177.4L52.9,179.5M9.4,22.9L7.3,20.4M108.2,75.9L109.5,73.6M126.8,96.8L129.5,97.2M126.1,64.4L129.1,64.3M36.3,93.0L33.4,93.8M119.7,17.2L121.2,15.6M28.4,101.9L22.0,102.9M167.3,188.0L170.5,190.9M45.8,39.3L42.9,36.2M74.1,46.1L71.5,39.7M33.7,123.9L28.3,128.8M44.2,60.5L39.3,56.4M47.8,60.8L42.7,58.4M38.5,68.2L31.4,63.8M34.7,79.8L29.1,80.8M41.8,61.6L37.0,58.5" stroke="#f00" stroke-opacity="0.08" stroke-width="6" fill="none" stroke-linecap="round"/><path d="M77.2,143.3L75.0,146.8M153.0,156.7L156.9,159.8M75.9,95.8L72.9,95.0M88.7,118.2L85.8,121.0M163.8,184.7L166.8,189.4M106.7,98.4L110.4,100.3M183.8,46.6L188.3,46.6M75.3,171.3L72.0,175.2M185.0,189.9L188.6,194.4M65.0,155.7L64.9,158.9M165.0,188.5L165.8,192.7M94.8,40.0L97.8,34.4M34.0,87.5L28.1,89.1M111.9,151.7L113.1,154.5M190.3,50.2L195.6,48.0M133.5,43.4L135.3,40.2M31.0,174.6L30.2,180.3M155.4,153.6L157.7,156.6M194.5,81.4L198.5,84.6M168.1,68.9L169.9,66.6M37.4,11.2L35.4,8.2M33.9,165.5L31.0,166.8M47.7,90.6L44.0,90.6M113.4,18.3L117.0,12.5M53.2,175.3L49.0,177.6M95.8,52.4L95.2,49.1M138.4,68.9L144.1,68.2M64.1,91.1L59.6,90.5M43.5,125.7L37.2,131.9M150.6,121.9L156.0,125.3M75.4,148.3L74.8,152.9M71.0,50.7L67.6,46.5M144.2,141.7L150.6,142.0M126.5,150.9L129.7,156.5M27.4,71.0L21.7,70.2" stroke="#00f" stroke-opacity="0.08" stroke-width="5" fill="none" stroke-linecap="round"/><path d="M70.9,106.3L65.9,111.2M15.7,189.7L14.4,195.4M127.9,111.2L129.3,113.8M10.3,27.2L5.3,26.3M160.6,30.1L163.7,24.8M60.5,110.2L55.3,111.1M179.9,184.6L182.6,186.3M18.4,74.5L13.8,74.0M62.5,145.4L61.5,151.2M73.6,91.8L69.6,91.4M175.3,163.0L179.5,165.1M156.8,182.6L159.5,188.5M146.3,139.8L148.9,141.4M55.8,5.2L54.9,1.6M92.0,59.9L91.6,55.7" stroke="#f00" stroke-opacity="0.08" stroke-width="3" fill="none" stroke-linecap="round"/><path d="M93.4,115.6L89.0,119.0M103.1,5.8L98.4,0.9M187.6,6.4L187.9,2.6M19.8,191.2L17.4,194.0M146.8,27.3L151.6,23.4M56.4,181.0L54.8,184.1M183.2,131.6L186.4,134.2M56.1,187.1L58.5,191.8M133.6,87.6L139.0,88.4M73.1,110.2L71.4,111.3M171.4,68.6L176.0,64.9M193.5,3.0L195.0,-0.1M64.3,171.1L63.5,173.8M26.1,45.4L21.5,40.9M176.8,197.2L177.3,202.5M164.9,60.4L166.3,55.4M13.2,72.7L11.9,76.0M191.7,139.9L195.4,142.0M140.0,96.8L146.1,99.6M78.6,174.1L75.8,180.1M185.3,41.9L188.9,40.0M172.4,128.4L175.8,130.0M45.8,93.8L40.5,97.5M77.9,136.0L79.9,138.2M87.1,193.5L87.1,198.6M164.8,113.7L165.2,118.3M6.1,45.4L3.9,43.9M130.7,142.6L132.9,144.5M117.7,34.1L118.5,31.1M39.0,172.2L33.0,172.0M73.4,13.3L71.1,10.0M142.0,181.1L142.8,183.6M166.8,85.0L171.2,79.9M85.2,37.5L80.7,30.9M130.3,105.6L138.1,107.8M136.2,113.1L144.7,113.0M147.7,101.3L152.8,100.5M128.5,91.3L132.6,92.0M115.8,67.9L118.0,62.2M108.1,134.0L108.3,140.2M144.7,87.2L149.7,93.0M57.9,147.7L52.5,151.7M68.9,148.3L63.0,147.9" stroke="#f00" stroke-opacity="0.08" stroke-width="4" fill="none" stroke-linecap="round"/><path d="M42.9,179.6L40.8,182.4M105.5,93.0L109.2,87.4M109.1,112.9L113.3,116.6M45.3,67.1L41.7,64.7M73.3,29.4L74.5,22.6M13.9,123.3L7.2,125.5M96.6,190.8L96.8,195.1M157.0,6.0L159.9,2.5M71.7,45.7L71.2,40.1M8.5,63.3L4.9,62.6M15.9,129.8L13.0,133.8M78.1,162.5L74.7,166.5M10.2,132.5L5.3,134.6M86.2,128.5L87.8,133.0M147.9,27.7L154.1,24.6M118.3,157.2L120.9,162.5" stroke="#00f" stroke-opacity="0.08" stroke-width="6" fill="none" stroke-linecap="round"/><path d="M55.7,57.7L50.0,57.7M101.8,9.4L99.1,5.7M24.3,88.3L19.9,89.9M86.2,42.4L83.2,39.3M120.5,44.0L121.5,39.8M177.4,197.8L181.7,198.0M110.9,119.7L113.8,123.2M56.3,135.3L53.3,137.7M68.1,38.5L66.4,36.3M153.4,198.2L154.6,200.3M107.5,182.1L107.8,186.2M53.7,133.4L52.3,136.8" stroke="#00f" stroke-opacity="0.08" stroke-width="3" fill="none" stroke-linecap="round"/><path d="M32.8,192.9L31.5,195.1M58.6,190.0L56.5,195.1M76.8,111.9L70.6,113.1M192.5,166.4L196.3,168.7M132.8,129.7L136.5,132.3M109.2,130.5L108.5,133.0M95.6,182.6L95.7,185.7M23.9,113.2L21.8,112.9M36.9,49.1L36.5,46.1M163.7,124.6L166.7,129.7M6.0,187.9L2.1,190.7M38.0,20.6L36.2,15.8M24.8,165.2L23.5,167.4M92.4,152.1L94.7,159.2M126.4,135.6L127.1,140.7M61.8,133.7L60.2,140.8M121.7,86.8L126.7,85.3M75.1,141.9L73.3,146.2M93.4,64.5L94.6,57.1M111.1,150.6L114.3,154.7M129.7,64.1L136.6,62.2M50.5,118.3L42.5,118.4M49.3,109.3L41.9,111.3M38.9,91.9L34.6,89.3" stroke="#00f" stroke-opacity="0.12" stroke-width="5" fill="none" stroke-linecap="round"/><path d="M118.6,54.3L118.6,49.7M84.4,93.7L81.5,91.6M121.8,193.8L121.3,196.7M142.0,14.2L146.0,12.6M171.7,15.2L174.0,13.7M88.8,188.8L88.9,193.4M152.1,112.3L156.2,110.7M107.7,98.2L113.4,96.0" stroke="#f00" stroke-opacity="0.12" stroke-width="3" fill="none" stroke-linecap="round"/><path d="M143.2,165.8L144.8,168.4M143.3,158.9L146.0,163.2M74.3,174.8L70.9,178.3M114.8,76.4L117.0,72.3M31.2,5.9L32.4,1.5M44.9,99.0L38.9,101.8M176.3,21.8L181.8,18.7M40.4,97.6L32.8,96.6" stroke="#00f" stroke-opacity="0.12" stroke-width="6" fill="none" stroke-linecap="round"/><path d="M181.6,163.9L186.0,166.8M16.4,98.6L14.4,96.8M25.9,145.0L23.9,148.4M122.5,170.3L119.5,174.2M168.0,44.8L174.4,43.6M63.2,147.6L64.3,153.3M4.4,61.1L1.8,60.0M85.5,150.1L87.3,156.4M145.1,13.8L147.5,9.3M81.3,163.1L79.3,166.4M117.0,183.5L117.7,189.7M162.5,79.9L166.4,74.4M111.9,125.3L117.0,128.5M111.6,32.1L110.3,27.9M69.5,67.7L62.3,64.0M93.4,137.1L94.6,141.0M131.2,68.7L137.0,66.1M83.9,101.4L79.5,102.3M91.4,74.8L88.1,71.2M76.6,67.4L73.4,60.4M39.6,97.4L32.0,96.9" stroke="#f00" stroke-opacity="0.12" stroke-width="4" fill="none" stroke-linecap="round"/><path d="M93.3,21.0L93.1,15.9M121.6,99.1L127.6,100.3M65.7,140.7L65.0,146.1M129.1,188.0L131.6,190.4M15.6,184.5L15.3,188.9M189.2,41.8L193.2,36.2M57.9,189.2L56.2,192.6M60.3,10.0L61.6,4.3M137.8,169.9L136.7,176.2M47.6,49.0L44.0,44.9M113.8,168.0L115.3,170.2M6.9,13.6L5.2,7.1M107.7,129.4L109.6,136.8M52.0,68.0L49.6,63.3M54.8,70.4L53.1,62.4M77.5,72.1L73.6,65.7M85.9,66.1L83.9,60.8M69.7,103.7L66.8,108.6M69.8,49.2L65.6,43.6M132.8,75.8L137.4,68.6" stroke="#f00" stroke-opacity="0.12" stroke-width="5" fill="none" stroke-linecap="round"/><path d="M109.9,109.4L110.2,113.5M135.1,165.6L141.5,167.6M156.6,99.8L158.8,101.0M45.6,118.8L42.0,121.0M60.6,77.8L58.4,77.1M128.2,104.6L130.5,102.3M41.8,39.8L41.4,33.3M5.9,145.4L0.4,147.9M88.6,84.4L86.7,79.4M125.9,101.2L130.7,101.0M126.2,142.6L124.7,150.4M51.1,113.9L46.0,117.2M71.1,126.8L67.8,131.8M73.0,151.1L72.1,155.8M93.8,59.7L94.0,52.4M110.9,111.9L117.2,115.8M102.8,151.0L105.9,158.2M133.5,87.5L142.0,88.1" stroke="#00f" stroke-opacity="0.12" stroke-width="4" fill="none" stroke-linecap="round"/><path d="M11.1,19.2L4.3,17.5M142.5,27.0L149.0,25.3M192.9,143.1L195.9,141.6M185.6,167.7L192.0,169.0M66.8,38.3L67.9,36.1" stroke="#00f" stroke-opacity="0.12" stroke-width="3" fill="none" stroke-linecap="round"/><path d="M53.6,68.6L52.1,66.0M146.9,164.0L148.8,169.6M91.2,3.1L90.9,0.5M157.6,126.6L161.3,125.2M102.4,146.6L101.1,149.4M110.5,34.0L109.7,27.5M53.1,136.9L48.9,142.6" stroke="#f00" stroke-opacity="0.12" stroke-width="6" fill="none" stroke-linecap="round"/><path d="M121.3,79.8L128.7,77.5M119.6,142.8L127.5,144.8M73.1,120.3L68.9,124.1M59.3,72.1L55.9,66.3M73.1,57.9L72.5,51.5M82.9,62.5L81.7,55.7M66.7,131.2L67.9,138.9M71.3,79.7L67.2,72.9M67.9,119.7L60.4,123.7M83.3,144.7L83.1,150.3M112.9,95.0L118.4,93.1M84.9,66.1L85.6,60.3M84.2,86.2L76.8,84.1" stroke="#00f" stroke-opacity="0.16" stroke-width="5" fill="none" stroke-linecap="round"/><path d="M121.8,111.3L127.4,113.2M130.1,74.2L137.5,71.9M99.1,54.7L102.8,47.5M130.6,97.0L137.8,99.0M95.6,108.4L95.4,114.1M86.6,58.4L85.0,54.2M77.6,100.7L72.6,101.1M100.6,94.8L103.4,91.9M135.9,86.7L142.9,84.8" stroke="#00f" stroke-opacity="0.16" stroke-width="4" fill="none" stroke-linecap="round"/><path d="M100.4,132.7L103.9,139.3M113.8,79.5L118.4,74.4M65.9,129.2L61.7,133.1M62.1,96.3L54.9,92.6" stroke="#f00" stroke-opacity="0.16" stroke-width="5" fill="none" stroke-linecap="round"/><path d="M115.9,56.8L120.2,51.2M115.3,139.0L114.8,144.6M61.6,121.8L53.8,123.0M62.6,133.5L57.3,136.1M139.2,123.2L142.0,128.4M100.6,104.2L105.9,106.6" stroke="#f00" stroke-opacity="0.16" stroke-width="4" fill="none" stroke-linecap="round"/><path d="M116.1,130.9L119.9,133.0M97.1,58.2L98.1,53.7M120.7,75.7L126.3,69.7M122.9,71.8L127.4,67.7M71.4,76.5L66.6,72.5" stroke="#f00" stroke-opacity="0.20" stroke-width="5" fill="none" stroke-linecap="round"/><path d="M57.8,106.9L51.3,108.9M73.9,124.9L71.0,132.3" stroke="#00f" stroke-opacity="0.20" stroke-width="5" fill="none" stroke-linecap="round"/><path d="M97.6,59.5L98.3,52.5" stroke="#00f" stroke-opacity="0.20" stroke-width="4" fill="none" stroke-linecap="round"/><path d="M98.0,122.6L98.3,126.5" stroke="#f00" stroke-opacity="0.20" stroke-width="4" fill="none" stroke-linecap="round"/><path d="M7.8,100.9L37.1,100.9" stroke="#f00" stroke-opacity="0.20" stroke-width="3" fill="none" stroke-linecap="round"/><path d="M78.6,88.1L75.0,85.8M91.2,80.2L90.5,76.1M83.8,81.4L78.4,76.6M69.8,90.3L66.0,89.3M72.5,83.4L68.6,83.8M81.5,138.7L78.9,142.2M115.9,100.0L122.2,100.0M63.0,106.3L58.0,106.2M78.1,102.3L72.3,99.6M108.9,96.2L113.6,95.7M74.1,88.1L69.6,86.7" stroke="#f00" stroke-opacity="0.24" stroke-width="4" fill="none" stroke-linecap="round"/><path d="M105.7,78.8L107.6,71.1M72.5,96.7L67.9,97.9M109.8,108.8L113.9,112.6M91.3,84.3L86.9,82.3M108.7,89.7L110.7,87.0M86.7,125.7L87.8,131.2" stroke="#00f" stroke-opacity="0.24" stroke-width="5" fill="none" stroke-linecap="round"/><path d="M117.8,117.9L119.6,125.7M63.6,90.4L61.1,84.0M92.5,92.2L91.9,86.4M87.4,90.3L86.7,86.5M117.1,130.1L121.4,130.6M66.4,85.4L59.5,81.0M117.5,93.1L123.0,93.1M98.2,91.3L105.4,92.1M109.4,91.1L115.5,88.7" stroke="#00f" stroke-opacity="0.24" stroke-width="4" fill="none" stroke-linecap="round"/><path d="M102.7,80.6L104.7,76.5M122.7,84.7L127.0,85.2M112.7,68.6L116.5,64.4M125.7,103.9L130.3,105.1M71.6,105.8L64.6,105.0" stroke="#f00" stroke-opacity="0.24" stroke-width="5" fill="none" stroke-linecap="round"/><path d="M99.0,89.9L101.2,84.0" stroke="#00f" stroke-opacity="0.24" stroke-width="3" fill="none" stroke-linecap="round"/><path d="M21.5,111.7L48.8,111.7" stroke="#f00" stroke-opacity="0.24" stroke-width="3" fill="none" stroke-linecap="round"/><path d="M110.6,96.8L114.0,96.3M118.2,89.1L120.8,85.2M126.9,31.6L134.7,45.3M58.6,64.8L70.3,74.6M25.4,64.8L35.1,72.6M121.0,51.1L124.9,64.8" stroke="#00f" stroke-opacity="0.32" stroke-width="4" fill="none" stroke-linecap="round"/><path d="M89.4,87.8L92.7,81.9M111.5,85.4L117.4,81.2M81.4,93.6L78.2,88.6M96.7,98.2L100.8,97.1M71.5,118.0L64.7,121.9M111.7,104.7L113.8,108.2M84.2,113.6L80.4,118.1M148.4,39.4L152.3,51.1M68.3,66.8L82.0,78.5M29.3,72.6L41.0,76.5M130.8,64.8L138.6,72.6M144.4,99.9L150.3,107.7" stroke="#f00" stroke-opacity="0.32" stroke-width="4" fill="none" stroke-linecap="round"/><path d="M74.4,85.7L67.3,82.2M92.6,89.4L90.3,83.0M94.1,79.7L92.4,72.6" stroke="#f00" stroke-opacity="0.32" stroke-width="5" fill="none" stroke-linecap="round"/><path d="M74.9,111.1L67.3,112.4" stroke="#00f" stroke-opacity="0.32" stroke-width="3" fill="none" stroke-linecap="round"/><path d="M81.6,105.6L74.7,107.6" stroke="#f00" stroke-opacity="0.32" stroke-width="3" fill="none" stroke-linecap="round"/><path d="M104.2,95.0L107.4,95.3M71.8,84.8L68.9,81.5" stroke="#00f" stroke-opacity="0.32" stroke-width="5" fill="none" stroke-linecap="round"/><path d="M79.9,99.2L76.5,99.5M90.4,115.1L84.6,118.8M83.1,109.1L75.9,110.6M106.8,92.8L110.1,89.5M83.5,106.0L80.1,110.7" stroke="#f00" stroke-opacity="0.40" stroke-width="4" fill="none" stroke-linecap="round"/><path d="M76.2,104.0L71.5,102.7M80.3,96.3L74.5,94.2M152.3,105.8L155.2,111.7" stroke="#00f" stroke-opacity="0.40" stroke-width="4" fill="none" stroke-linecap="round"/><path d="M101.4,98.4L106.5,96.7" stroke="#f00" stroke-opacity="0.40" stroke-width="5" fill="none" stroke-linecap="round"/><path d="M90.3,102.0L84.1,102.8M92.9,99.7L96.9,102.5" stroke="#f00" stroke-opacity="0.40" stroke-width="3" fill="none" stroke-linecap="round"/><path d="M93.4,100.3L97.0,96.7" stroke="#f00" stroke-opacity="0.48" stroke-width="4" fill="none" stroke-linecap="round"/><path d="M117.1,86.3L120.0,105.8M80.0,49.2L81.0,55.0M60.5,131.2L64.4,135.1M101.5,92.1L102.5,96.0M95.6,103.8L97.6,123.4" stroke="#00f" stroke-opacity="0.48" stroke-width="4" fill="none" stroke-linecap="round"/><path d="M106.4,113.6L113.2,142.9M93.7,51.1L95.6,62.9" stroke="#00f" stroke-opacity="0.48" stroke-width="3" fill="none" stroke-linecap="round"/><path d="M85.9,41.4L87.8,58.9" stroke="#f00" stroke-opacity="0.48" stroke-width="5" fill="none" stroke-linecap="round"/><path d="M101.1,111.7L106.4,129.2M69.3,135.1L72.2,139.0" stroke="#f00" stroke-opacity="0.64" stroke-width="4" fill="none" stroke-linecap="round"/><path d="M51.7,100.9L55.6,101.9M83.0,127.3L84.9,133.1" stroke="#f00" stroke-opacity="0.64" stroke-width="3" fill="none" stroke-linecap="round"/><path d="M83.0,93.1L85.9,96.0" stroke="#00f" stroke-opacity="0.64" stroke-width="4" fill="none" stroke-linecap="round"/><path d="M103.5,80.4L104.4,84.3" stroke="#00f" stroke-opacity="0.72" stroke-width="4" fill="none" stroke-linecap="round"/><path d="M108.3,94.1L109.3,101.9" stroke="#00f" stroke-opacity="0.72" stroke-width="3" fill="none" stroke-linecap="round"/><path d="M111.3,106.8L119.1,127.3" stroke="#f00" stroke-opacity="0.72" stroke-width="4" fill="none" stroke-linecap="round"/><path d="M76.1,99.9L78.1,100.9" stroke="#f00" stroke-opacity="0.72" stroke-width="3" fill="none" stroke-linecap="round"/><path d="M90.8,103.8L92.7,115.6" stroke="#00f" stroke-opacity="0.80" stroke-width="4" fill="none" stroke-linecap="round"/><path d="M70.3,88.2L78.1,89.2M62.5,102.9L68.3,103.8" stroke="#f00" stroke-opacity="0.80" stroke-width="3" fill="none" stroke-linecap="round"/><path d="M73.2,92.1L76.1,92.5" stroke="#00f" stroke-opacity="0.88" stroke-width="3" fill="none" stroke-linecap="round"/></g></g>
<rect x="955.4" y="938.0" width="200.3" height="200.3" fill="none" stroke="#444" stroke-width="1.1" />
<text x="779.1" y="934.0" font-size="10.95" fill="#262626" textLength="78.0" lengthAdjust="spacingAndGlyphs" >0h old IR Data</text>
<text x="992.0" y="934.0" font-size="10.95" fill="#262626" textLength="127.1" lengthAdjust="spacingAndGlyphs" >SHAP Value=-10.28 kts</text>
<line x1="715.0" y1="962.6" x2="718.0" y2="962.6" stroke="#444" stroke-width="0.8" />
<line x1="952.4" y1="962.6" x2="955.4" y2="962.6" stroke="#444" stroke-width="0.8" />
<text x="701.3" y="965.7" font-size="8.3" fill="#262626" textLength="10.6" lengthAdjust="spacingAndGlyphs" >26</text>
<line x1="715.0" y1="994.2" x2="718.0" y2="994.2" stroke="#444" stroke-width="0.8" />
<line x1="952.4" y1="994.2" x2="955.4" y2="994.2" stroke="#444" stroke-width="0.8" />
<text x="701.3" y="997.3" font-size="8.3" fill="#262626" textLength="10.6" lengthAdjust="spacingAndGlyphs" >25</text>
<line x1="715.0" y1="1025.7" x2="718.0" y2="1025.7" stroke="#444" stroke-width="0.8" />
<line x1="952.4" y1="1025.7" x2="955.4" y2="1025.7" stroke="#444" stroke-width="0.8" />
<text x="701.3" y="1028.8" font-size="8.3" fill="#262626" textLength="10.6" lengthAdjust="spacingAndGlyphs" >24</text>
<line x1="715.0" y1="1057.1" x2="718.0" y2="1057.1" stroke="#444" stroke-width="0.8" />
<line x1="952.4" y1="1057.1" x2="955.4" y2="1057.1" stroke="#444" stroke-width="0.8" />
<text x="701.3" y="1060.2" font-size="8.3" fill="#262626" textLength="10.6" lengthAdjust="spacingAndGlyphs" >23</text>
<line x1="715.0" y1="1088.3" x2="718.0" y2="1088.3" stroke="#444" stroke-width="0.8" />
<line x1="952.4" y1="1088.3" x2="955.4" y2="1088.3" stroke="#444" stroke-width="0.8" />
<text x="701.3" y="1091.4" font-size="8.3" fill="#262626" textLength="10.6" lengthAdjust="spacingAndGlyphs" >22</text>
<line x1="715.0" y1="1119.6" x2="718.0" y2="1119.6" stroke="#444" stroke-width="0.8" />
<line x1="952.4" y1="1119.6" x2="955.4" y2="1119.6" stroke="#444" stroke-width="0.8" />
<text x="701.3" y="1122.7" font-size="8.3" fill="#262626" textLength="10.6" lengthAdjust="spacingAndGlyphs" >21</text>
<line x1="734.3" y1="1138.3" x2="734.3" y2="1141.3" stroke="#444" stroke-width="0.8" />
<line x1="971.7" y1="1138.3" x2="971.7" y2="1141.3" stroke="#444" stroke-width="0.8" />
<text x="726.4" y="1150.6" font-size="8.3" fill="#262626" textLength="15.8" lengthAdjust="spacingAndGlyphs" >122</text>
<line x1="763.3" y1="1138.3" x2="763.3" y2="1141.3" stroke="#444" stroke-width="0.8" />
<line x1="1000.7" y1="1138.3" x2="1000.7" y2="1141.3" stroke="#444" stroke-width="0.8" />
<text x="755.4" y="1150.6" font-size="8.3" fill="#262626" textLength="15.8" lengthAdjust="spacingAndGlyphs" >123</text>
<line x1="792.0" y1="1138.3" x2="792.0" y2="1141.3" stroke="#444" stroke-width="0.8" />
<line x1="1029.4" y1="1138.3" x2="1029.4" y2="1141.3" stroke="#444" stroke-width="0.8" />
<text x="784.1" y="1150.6" font-size="8.3" fill="#262626" textLength="15.8" lengthAdjust="spacingAndGlyphs" >124</text>
<line x1="820.8" y1="1138.3" x2="820.8" y2="1141.3" stroke="#444" stroke-width="0.8" />
<line x1="1058.2" y1="1138.3" x2="1058.2" y2="1141.3" stroke="#444" stroke-width="0.8" />
<text x="812.9" y="1150.6" font-size="8.3" fill="#262626" textLength="15.8" lengthAdjust="spacingAndGlyphs" >125</text>
<line x1="849.6" y1="1138.3" x2="849.6" y2="1141.3" stroke="#444" stroke-width="0.8" />
<line x1="1087.0" y1="1138.3" x2="1087.0" y2="1141.3" stroke="#444" stroke-width="0.8" />
<text x="841.7" y="1150.6" font-size="8.3" fill="#262626" textLength="15.8" lengthAdjust="spacingAndGlyphs" >126</text>
<line x1="878.3" y1="1138.3" x2="878.3" y2="1141.3" stroke="#444" stroke-width="0.8" />
<line x1="1115.7" y1="1138.3" x2="1115.7" y2="1141.3" stroke="#444" stroke-width="0.8" />
<text x="870.4" y="1150.6" font-size="8.3" fill="#262626" textLength="15.8" lengthAdjust="spacingAndGlyphs" >127</text>
<line x1="907.1" y1="1138.3" x2="907.1" y2="1141.3" stroke="#444" stroke-width="0.8" />
<line x1="1144.5" y1="1138.3" x2="1144.5" y2="1141.3" stroke="#444" stroke-width="0.8" />
<text x="899.2" y="1150.6" font-size="8.3" fill="#262626" textLength="15.8" lengthAdjust="spacingAndGlyphs" >128</text>
<g transform="translate(718.0,1175.3) scale(1.0015)" clip-path="url(#cp)"><g filter="url(#bl)"><g transform="scale(0.5)"><rect width="400" height="400" fill="#7c7c7c"/><path d="M0,0l400,0 0,400-400,0zM208,273l-2,4 2,0 2,-3z" fill="#8c8c8c"/><path d="M0,0l49,0-1,6 6,-1 12,1 0,2-3,1-2,3 0,3 4,12 3,6 1,3-1,3-5,6-3,19 1,2 2,1 15,3 12,-3 12,-10 5,-6 4,-3 3,-1 11,-2 3,-6 0,-3-8,-3-6,3-3,1-6,-6-12,-5-6,-4-8,-10 0,-6 2,-6 48,0 3,6 0,5 7,-11 160,0 2,3-1,3-5,3-1,3 0,12 4,4 6,-6 3,-1 6,0 1,-3 0,-6-7,-12 20,0-1,9 2,4 3,0 1,-1 0,-3-3,-9 71,0 0,400-400,0 0,-213 9,-13 6,-4 15,1 13,-3-1,-3-3,0-4,-3-2,-3 0,-6-3,-3-3,-1-9,1-4,-3-2,-3 1,-3 7,-9 3,-15 7,-14 2,-7 4,-3 0,-2-18,-2-3,-2 5,-12 2,-12-1,-4-3,-6-7,-8 4,-7 6,-2 1,-3-1,-4-6,-5-3,-2-5,5-7,2 0,-10 4,-4-4,-2zM45,9l-1,6 1,6 6,6 3,1 3,-1-2,-3-6,-3-2,-3zM81,162l-1,3 1,10 9,4 5,-2 2,-3 1,-3-2,-1-9,-7zM114,334l-3,3-3,6-1,9 1,4 6,2 12,-8 9,0 2,-1-4,-12-4,-4-3,-1-6,0zM138,141l-9,15 2,3 1,1 9,0 9,-5 3,-5 0,-3-3,-4zM186,62l-6,5-5,11-8,9-2,6-1,3 1,3 9,6 3,-4 3,-1 6,1 9,-3 10,-1 8,-7 4,-12-2,-6 2,-2 3,1 0,4 3,3 12,0 9,-2 0,-1-16,-9-8,-1-12,0-16,-4zM259,108l-4,24 0,6 4,3 9,1 9,-4 6,2 9,6 1,-2 1,-6 4,-2 9,-1 9,-4 6,-7 9,-4 0,-4-9,4-9,7-6,0-6,-3-6,-8-3,-2-3,0-6,1-9,6-6,1-5,-5-1,-6zM268,39l-3,6 3,0zM322,59l3,8 3,2 6,-2 2,-4-2,-3zM54,168l-6,3 0,3 2,6 9,12 4,0 10,-6 3,-6-9,-6-4,-8zM171,108l-15,6-12,15 0,3 3,2 3,-1 2,-4 0,-6 1,-1 6,3 3,-1 1,-4 8,-9zM189,129l-3,6-9,7-6,2-3,-2-3,0-3,5 1,3 5,4 6,1 6,-2 6,-4 6,-6 3,-8-3,-6zM223,98l-9,6-6,1-1,3 7,2 9,4 3,-3 1,0 2,7 15,8 3,-4 0,-8-3,-3-6,-1-3,-2-6,-9zM259,258l-10,4 1,3 3,2 3,0 4,-5 0,-3zM226,243l-18,7 0,3 0,6-1,3-9,8 0,4 0,6 4,4 6,5 3,-1 3,-1 3,-4 6,-12 4,-6 0,-6 3,-6 1,-6-1,-3-1,-2zM211,302l-5,5-2,3 1,1 3,1 4,-2 1,-3zM0,48l0,-1 4,1 0,3-1,2-3,2zM0,126l0,-1 3,1 5,6 4,12-6,6-6,4z" fill="#9e9e9e"/><path d="M10,0l26,0 2,6 1,15 2,3 10,8 3,1 6,1 3,2-4,9-3,18-2,9-6,7-6,4-9,2-6,-1-2,-3-3,-33 6,-12 1,-6-2,-4-17,-17-1,-3zM83,0l40,0 3,9-3,10-3,3-3,5-3,2-3,0-9,-4-9,-2-9,-7-3,-4-1,-3 1,-3zM163,0l129,0-2,21 1,3 6,12 1,7 3,0 3,-7 3,-2 3,2 8,24 4,17 2,4 3,3-1,3-10,5-1,4 1,4 6,2 2,3-1,6-10,8-3,1-6,-2-3,-2-6,-10-3,0-21,9-4,-7-3,-3-5,-1-9,4-9,-1-12,-11-9,-4-2,-2 0,-3 2,-4 3,-1 9,-2 15,1 3,-3 0,-3-17,-9-9,-3-16,0-19,-10-12,-3-15,1-1,12 1,3 4,6 0,3-1,2-3,2-3,-1-5,-9-4,0-4,3-1,3 0,3 3,9-1,2-9,7-3,1-3,-1-6,-9-1,-3 2,-9 5,-8 0,-4-3,-3-9,0-3,-1-2,-2-1,-3 3,-2 12,0 15,-4 0,-3-3,-1-5,-5-3,-6 1,-6 4,-4 6,0 15,2 12,4 2,-2zM198,8l-6,6-7,13 1,2 3,0 6,5 13,3 4,2 11,1 9,9 3,1 12,-1 5,2 10,2 8,-5 3,-3 3,-15-2,-3-18,5-3,0-8,-8-1,-8-3,-6-3,2 2,12-3,6-5,4-9,2-6,2-3,0-8,-8-1,-3 0,-9 3,-6-3,-3zM372,0l28,0 0,20-6,3-15,0-9,4-2,-3 2,-2 6,-2 1,-2 0,-3-5,-9zM321,24l4,-1 9,-1 6,1 3,2 3,5 1,6-1,6-3,5-3,2-6,1-7,-2-3,-9-6,-6 0,-3zM371,42l2,-2 3,1 14,13 4,8 3,1 3,0 0,337-359,0 1,-3-3,0-1,0-3,3-35,0 0,-29 9,0 6,5 3,1 17,-4 3,-3 2,-3-1,-2-3,-1-30,1-2,-1-1,-3 0,-9-3,-4 0,-145 6,0 4,-1 0,-4-4,-5-1,-4 2,-6 5,-7 3,-3 3,0 21,4 3,2 8,7 4,9 6,2 15,-7 9,-6 9,1 11,-5 3,-3 2,-6 2,-12 3,-2 11,11 1,3-2,6 0,3 2,3 9,0 9,4 9,-2 3,1 4,3 2,6 0,7 3,3 3,-1 9,-4 3,0 4,5 8,5 6,8 4,2 6,1 8,5 4,0 7,-3-11,-15-2,-6 3,-4 3,-1 9,-2 4,-3 0,-9 1,-6 4,-3 12,-2 1,-10 8,-6 4,-6 2,-1 9,-1 6,-3 3,0 3,2 3,6 6,3 6,1 9,-3 15,4 3,-1 1,-1-7,-1-3,-5-1,-3 1,-15 3,-4 6,-3 6,0 2,-2 3,-12 7,-12 1,-3-3,-6 0,-6 6,-21 2,-3 3,1 9,6 3,0 0,-4-2,-6-1,-6 1,-3zM60,354l-4,4 0,3 3,3 4,2 1,-2 0,-6-1,-2zM72,375l-3,2 0,2 1,3 2,3 3,-1 1,-5-1,-2zM174,300l-10,10 1,3 6,2 1,4-10,9-9,3 0,3 3,6-3,1-6,1-3,0-5,-8-10,-10-18,4-9,-3-9,2-5,4-1,3 1,3 13,12 0,15 1,1 6,-2 12,-1 6,-7 3,-1 9,2 3,0 11,-7 4,-7 3,-2 6,0 6,6 3,1 3,-1 2,-6 5,-6 2,-12-7,-21-2,-2zM220,241l-6,2-9,1-5,3 2,9-1,3-6,3 0,12 0,8 3,7 5,6 1,3-8,15 0,3 2,1 12,-1 11,-9 2,-3-2,-6 0,-9 4,-9 4,-6 6,-3 3,-1 12,7 6,0 3,-2 7,-16 1,-3-2,-3-3,-1-9,4-6,0-6,-2-3,-1-2,-3 0,-9-1,-1-6,-1zM358,93l0,3 5,9 1,6 3,2 6,-3 3,2 4,5 8,8 1,-5 0,-6-7,-12-4,-3-11,-2-6,-7zM104,63l4,-2 2,2 0,3-2,4-3,1-3,-2 0,-3zM82,87l2,-1 3,2 3,5 0,3-3,1-3,-1-3,-6zM96,96l6,-1 5,1 6,12 10,7 5,5 0,6-6,15-2,2-6,-3-5,-5-2,-3-3,-9-8,-6-2,-3-2,-6-2,-9zM191,102l4,-1 3,0 2,1 2,3 0,6 12,2 5,4 0,6-8,11-6,1-3,-2-4,-4-3,-7-7,1-5,7-6,4-3,1-3,-2-3,-3 0,-7 12,-15 4,-3zM39,114l6,1 5,2 10,12 4,3 2,3 1,12 0,6-4,6-6,5-6,-1-5,-4-6,-15-8,-12-2,-6 1,-6 2,-3zM0,132l0,-3 3,3 2,6-1,6-4,4zM150,165l3,-2 2,2-2,2zM210,168l4,-1 3,1 3,3 0,3-3,3-3,0-3,-1-3,-5zM202,195l3,0 1,0 2,3-3,4-3,-1-1,-3z" fill="#afafaf"/><path d="M20,3l7,-1 5,4 2,6-2,6-2,1-3,0-8,-7-2,-6zM83,3l2,-3 30,0 2,6-3,2-6,0-3,11-1,2-5,1-3,0-6,-3-7,-7-1,-3zM173,0l55,0 1,6-6,6-3,6-3,2-3,-1-1,-1 0,-6-2,-5-9,-5-4,0-6,3-9,12-3,1-3,0-4,-6-2,-6zM243,0l45,0-2,21 1,3 7,9 2,9 5,10 3,-10 3,-2 3,3 7,20 4,15-1,6-4,5-3,4-5,15-4,4-3,-2-6,-9-3,-1-9,6-6,2-6,-1-3,-2-6,-2-15,3-6,-2-10,-8-8,-4-2,-2-1,-3 3,-3 6,-2 6,0 9,2 6,-1 3,-2 3,-3 0,-3-12,-4-16,-8-8,-1-9,-1-6,-1-8,-6-6,-6-1,-3 1,-3 4,-2 3,-1 25,4 9,8 3,1 12,-1 15,4 10,-7 2,-3 1,-6 4,-12 0,-3-5,-2-18,3-2,-1-2,-3-1,-9zM301,55l-1,2-11,6 4,3 5,1 3,-1 1,-6zM378,0l22,0-1,12-3,6-5,2-6,-1-2,-1-5,-9-1,-3zM136,27l2,-2 6,0 18,3 6,3 6,5 3,6 0,3-6,2-18,0-9,-3-6,-5-2,-3-1,-6zM34,30l2,-3 6,2 12,8 2,2 0,3-2,18-3,12-6,6-9,3-6,-2-2,-4-2,-18 1,-9 5,-12zM324,30l4,-2 9,0 3,2 1,3 0,3-2,3-5,1-8,-4-3,-3zM369,48l4,-3 3,1 10,8 8,11 6,3 0,332-348,0-7,-5-3,-1-3,0-11,6-28,0 0,-26 6,-1 3,1 6,4 3,0 15,-3 9,-4 9,-2 10,4 2,3 3,10 3,3 3,2 3,0 5,-18-6,-6-6,-18-5,-6-3,0-4,6-8,5-15,4-9,1-12,3-4,-1-3,-9-2,-4-3,-3 0,-136 15,0 2,2 1,3 3,2 2,-2-3,-6 2,-6-1,-5-9,-5-2,-3 1,-6 4,-6 3,-1 6,1 6,5 9,4 7,6-1,6 6,2 9,0 9,-5 8,-3 7,-4 9,1 9,-3 18,2 12,-2 12,4 9,1 3,2 4,12 2,1 3,1 12,-4 12,8 9,10 10,3 6,3 11,-1 9,-3-11,-15 0,-3 3,-2 15,-7 3,-1 12,9 5,1 1,-16 4,-9-1,-3-3,-3-3,0-6,-6 0,-3 3,-4 9,-3 6,1 12,0 18,-1 9,-2 9,3 9,7 3,0 3,-2 2,-5-2,-3-6,-3-6,-1-1,-2-1,-3 0,-15 5,-5 3,0 3,0 6,2 1,-3 0,-9 3,-6 11,-11 3,-1 3,3 3,9 3,5 3,0 6,-1 11,8 3,3 1,10 5,-16 0,-6-4,-9-4,-6-13,-9-1,-6-4,-6 3,-12-3,-12 0,-3zM21,328l-1,3 7,4 6,7 3,-5-1,-9-8,-3zM226,237l-15,5-15,2-6,3-1,3 3,21-1,15-2,3-21,9-4,-3-2,-5-3,0-15,11 3,6-3,3-6,0-4,6-5,3-18,4-12,-1-12,5-7,1-9,3 0,3 16,8 8,7 2,6-1,18 3,1 6,-7 3,-1 3,-1 9,3 3,0 9,-6 12,-4 18,-9 3,0 18,6 8,0 1,-5-3,-4-1,-3 0,-12 2,-6 2,-4 19,-4 12,-10 8,-12-2,-6 0,-3 3,-5 3,-3 3,0 3,2 4,6 2,6 4,3 8,1 4,-1 2,-6-1,-6 0,-9 2,-6 5,-10 0,-6-3,-3-6,-2-3,1-6,6-6,-1-5,-3-1,-3 3,-6-3,-3zM292,171l-15,2-3,1 1,6 2,2 3,0 12,-7 6,0 3,2 3,-1 1,-5-1,-1zM382,150l-6,4-3,5 0,4 3,-1 3,-4 3,-5 1,-3zM139,57l11,-2 2,2-1,3-7,5-3,1-3,-6zM352,78l3,-2 3,2 0,3-3,5-3,2-2,-4zM188,105l7,-2 4,2 1,3-2,6-2,3-4,3-6,0-3,-3 0,-6 1,-3zM97,108l2,-1 2,4-2,1zM203,114l8,-1 6,4 1,3-1,3-4,6-5,4-6,-2-4,-5 0,-3 1,-6zM36,120l6,-2 6,2 11,15 4,9 1,6-3,6-4,4-3,1-3,-1-3,-4-4,-12-9,-15-1,-6zM117,120l3,1 2,2 0,3-2,4-3,3-3,-1 0,-3 0,-6zM189,298l3,1 1,2-1,3-3,1-1,-4z" fill="#c3c3c3"/><path d="M87,0l13,0 2,3 2,6 0,6-2,3-3,2-3,0-6,-3-6,-5-1,-3 0,-3zM386,3l5,0 3,4 1,5-2,3-2,1-5,-1-1,-3-1,-6zM276,6l4,1 0,2 0,3-3,2-3,-2zM139,27l2,-1 6,0 12,3 6,2 6,5 3,6-1,3-5,1-21,-3-6,-3-3,-4-1,-6zM285,27l4,1 4,5 2,11 4,7 0,3-4,4-15,7-7,1-8,5-6,2-12,-2-18,-8-9,-3-12,-1-11,-8-3,-6 2,-3 2,-1 22,2 6,3 6,6 15,0 15,4 12,-8 1,-3 1,-6 3,-6 4,-5zM39,33l3,0 9,7 1,2 0,12-1,9-4,9-5,3-6,0-3,-1-3,-5-1,-12 1,-9zM307,45l3,2 4,10 5,21-1,6-14,24-3,-1-3,-4-3,-6-3,0-15,9-3,0-12,-4-12,2-6,-1-21,-13-1,-3 3,-3 7,-1 12,2 12,0 9,1 2,-2 2,-6 2,-3 9,-6 6,-1 12,1 3,-1 3,-8 1,-12zM369,51l4,-3 3,1 9,7 9,12 6,4 0,25-3,4-6,-6-12,-5-5,-6-3,-6 1,-12-3,-12zM191,105l4,0 3,3-3,6-3,3-3,0-3,-2-1,-4 1,-3zM350,105l5,-1 3,3 2,7 3,3 10,0 3,1 7,5 3,6 0,15-3,3-7,4-6,13 0,4 9,-7 9,-15 3,-11 1,-9 2,-3 4,-3-1,-12 0,-3 3,-3 0,62-4,10 0,3 4,4 0,219-317,0-2,-1-2,-5 0,-12 6,-12-7,-5-2,-4-1,-9 1,-3 2,-3 6,0 6,5 3,7 0,12 3,6 3,1 9,-8 3,0 9,3 15,-5 9,-6 18,-5 9,-1 21,4 3,-4 3,-9-1,-3-5,-4-2,-5 1,-6 1,-3 3,-3 16,-3 13,-12 8,-9 6,-5 6,0 11,5 4,0 3,0 5,-3 1,-6-1,-15 1,-6 6,-12 0,-7-3,-6-3,-2-6,-1-12,-6-24,2-15,4-13,0-12,4-2,3 2,11 5,13-1,6-3,6-10,8-6,1-9,-9-6,0-18,13-8,17-3,3-4,2-12,2-12,-1-12,5-9,2-12,-2-21,4-6,-5-12,0-6,2-3,2 0,4 8,6 2,3 0,6-3,6-7,6-3,2-3,0-3,-2-3,-9-6,-5 0,-132 12,3 7,5 5,0 3,-1 6,-7 9,-6 9,-3 9,0 12,-7 12,-3 15,-2 9,0 21,0 22,4 2,2 4,8 5,3 12,-2 3,0 6,5 6,3 9,12 4,7 6,-3 27,-5 6,-2-1,-3-6,-9 1,-3 5,-3 4,0 6,2 15,9 3,-1 1,-4-3,-13 0,-6 2,-4 3,-1 6,0 5,-1 10,-6 3,0 9,3 3,0 5,-3 4,-5 3,-2 9,7 3,0 13,-3 2,-9 0,-10-3,-5-6,1-12,-3-3,-2-1,-5-1,-9 1,-3 3,-3 4,-1 5,1 7,8 1,-2 0,-3-2,-12 2,-6 2,-3zM202,117l6,-3 3,1 4,2 1,3 0,3-5,7-3,1-3,0-5,-5 0,-6zM40,126l2,-2 5,2 6,12 4,7 1,5-4,4-3,-3-2,-10-7,-9zM303,159l4,0 5,0-1,3-7,5-12,3-18,1-6,2-9,-2-4,-3 0,-3 2,-3 5,-2 6,0 6,3 3,0zM0,376l6,-2 9,6 9,-2 9,-1 9,-4 6,1 9,5 5,9 1,6 2,6-8,0-9,-7-6,-1-18,7-20,1-4,-2z" fill="#dadada"/><path d="M86,3l3,-3 6,0 4,3 2,3 1,6 0,3-3,3-6,-1-8,-5-1,-3zM143,27l13,2 9,3 5,4 3,6-2,2-3,0-15,-1-9,-2-3,-2-3,-6 1,-3 2,-3zM284,30l2,-1 3,1 2,3 2,3 1,9 3,6 0,3-5,4-33,13-9,0-18,-8-24,-6-6,-4-4,-5-1,-3 5,-2 18,1 3,1 9,8 15,0 15,4 13,-9 2,-3 2,-9zM40,42l2,-1 4,1 2,5 1,7-4,12-3,4-3,0-3,-1-2,-3-1,-3-1,-6 3,-9zM306,51l1,-1 3,1 3,6 5,21-1,3-7,15-6,7-3,0-6,-8-3,0-9,4-6,5-3,1-12,-4-15,1-21,-12-1,-3 4,-3 3,0 12,2 24,2 4,-10 8,-6 6,-2 15,0 3,-5zM371,54l2,-3 3,1 9,7 13,16 2,3 0,3-4,3-8,3-6,0-3,-1-5,-8 0,-12zM188,108l4,-1 3,1 0,3-3,3-3,0-2,-3zM350,108l5,0 6,9 3,2 9,0 6,3 5,4 1,3-2,15-8,6-8,18 3,1 9,-6 9,-14 6,-21 3,-2 3,1 0,34-7,13 0,3 7,7 0,105-6,-1-3,4 2,3 7,1 0,104-50,0-10,-2-4,2-250,0-7,-9 0,-6 2,-6 6,-5 3,-1 8,6 4,1 3,-6 3,-2 3,0 9,3 3,0 21,-9 12,-2 12,-4 12,-1 13,2 3,-3 4,-15-7,-6-2,-3 0,-3 3,-6 4,-3 14,-3 23,-23 6,-2 18,5 6,-1 4,-3 2,-3 0,-6-1,-15 6,-12 2,-12 3,-6 0,-6-4,-6-3,-2-3,-1-12,5-9,0-12,3-9,0-18,4-5,0 1,-3 19,-8 15,-1 12,-4 15,-2 3,-3 1,-3-2,-19 1,-3 12,-2 9,-5 3,0 9,2 12,-2 2,1 4,8 3,-1 4,-4 2,-6 3,-2 9,0 3,-3 1,-1 1,-15-4,-15-1,-15-2,-12 2,-7 3,-3zM385,387l-2,1 5,1 2,-1zM204,117l4,-1 3,0 3,1 1,3-3,6-4,4-3,0-4,-4 0,-3zM326,129l5,0 10,15-1,3-3,4-3,0-9,-1-3,-3-1,-12 1,-3zM259,162l6,-2 12,5 18,-3 9,-1 2,1-3,3-5,2-12,2-9,0-9,2-6,0-5,-3-1,-3zM91,195l8,0 6,1 9,-2 12,1 9,2 9,2 5,3 5,6 5,2 6,0 6,-2 4,0 8,7 4,2 5,6 0,3-3,9-9,8 0,4 2,3 2,9 4,9 0,9-4,6-10,7-3,0-6,-7-6,-3-20,6-2,3-3,9-8,15-3,2-6,2-18,1-18,5-3,0-3,-2-3,-8-6,-2-6,1-6,3-11,1-7,5-3,0-9,-1-2,-1-1,-3-3,-1-3,13 3,5 6,3 3,4 0,6-3,4-6,6-3,1-3,0-7,-11-5,-4 0,-126 6,3 6,1 8,3 5,0 7,-3 18,-12 13,-3 8,-7zM3,376l4,0 5,5 3,1 12,-4 18,-2 5,3 5,6 1,3 0,3-2,2-9,-3-21,8-9,2-6,0-9,-6 0,-16z" fill="#f3f3f3"/><path d="M87,3l3,-2 3,0 4,2 3,6-1,6-3,1-3,0-6,-4-2,-3 0,-3zM140,30l4,-2 3,0 15,4 7,4 2,3 0,3-6,1-15,-1-6,-2-3,-4zM282,33l4,-2 4,2 1,3 1,9 4,6 0,3-4,3-9,4-24,9-9,-1-18,-7-21,-5-6,-3-5,-6 0,-3 2,-1 18,1 3,1 9,8 15,0 12,5 3,0 6,-6 8,-5 2,-3 1,-6zM307,54l3,-1 3,6 3,19-6,15-6,8-3,0-3,-6-3,-2-3,0-6,4-6,2-3,3-3,1-12,-3-12,1-6,-2-15,-9-2,-3 5,-2 3,0 9,2 15,1 9,2 3,-1 3,-10 6,-5 6,-3 15,0 3,-3zM374,57l2,-2 3,2 9,7 7,11 1,3-2,2-9,4-3,0-3,-1-3,-5-1,-3 1,-9zM347,111l5,-1 3,0 6,9 3,1 9,0 3,1 6,4 2,4-2,12-1,3-5,3-3,3-2,9-4,8 0,5 12,-7 9,-15 8,-21 4,1 0,29-3,6-7,9 1,3 9,8 0,101-6,0-3,2-2,4 0,3 2,1 9,3 0,32-3,6 3,5 0,46-6,-3-3,-3-1,-3 1,-6-1,-3-11,-5-2,2 5,6 2,6-2,3-6,6 4,3 5,1 15,-1 0,8-45,1-11,-6 6,-3-4,-3-6,1-3,2-7,9-212,0-1,-3-3,-3-6,-1-3,1 0,6-17,0-6,-6-2,-6 0,-6 4,-5 3,-2 3,0 12,8 2,-1 4,-7 3,-1 12,5 24,-11 15,-2 6,3 3,1 4,-6 2,-2 6,0 9,0 3,-1 3,-3 4,-15-2,-3-5,-3-2,-3 0,-6 2,-3 3,-2 13,-2 3,-2 18,-20 6,-4 6,0 6,3 9,2 7,-2 5,-3 2,-9-1,-15 7,-15 5,-15-1,-8-3,-5-3,-3-10,-2 4,-2 3,-4 1,-3-1,-16 1,-3 14,-5 9,1 12,-1 3,0 1,2 2,7 3,2 12,-6 3,3 1,4-2,9 1,6 3,2 3,0 0,-21-8,-12 2,-3 12,-3 3,-3 0,-18-2,-6-2,-18-3,-15 1,-6zM370,185l0,4 3,0 2,-3-2,-1zM206,117l5,0 3,3-1,3-5,5-3,0-2,-2-1,-3 1,-3zM323,132l5,-2 4,2 6,12-1,4-3,1-10,-2-1,-9zM260,162l5,-1 3,1 5,3 0,3-5,3-6,-1-4,-2-1,-3zM284,165l8,-1 7,1-10,2-3,0zM112,198l5,-1 6,1 12,4 6,1 4,5 0,6 2,2 9,-4 9,0 6,-3 5,2 9,12 0,9-8,10-1,5 4,4 2,8 5,9 0,6-2,6-5,5-6,3-3,0-8,-8-4,-1-21,5-3,3-1,8-9,15-2,3-6,2-18,1-18,4-3,-1-2,-6-4,-3-9,-1-3,0-9,5-9,1-6,4-6,1-3,-1-5,-6-4,-1-3,7 0,12 3,3 6,4 2,5-2,6-6,5-3,1-3,-1-6,-8-6,-5 0,-122 6,5 21,0 15,-5 12,-9 11,-2 7,-7 6,-1 15,1 3,1 3,3 3,0 3,-1zM248,226l14,-1 2,1-5,1-9,1-12,5-24,2 3,-2 1,-1 8,-4 18,0zM2,379l4,-2 6,6 3,0 12,-4 15,-1 4,1 1,3 0,3-3,3-14,7-18,4-6,-3-5,-5 0,-9z" fill="#00dbff"/><path d="M89,3l4,-1 4,4 1,6-2,1-6,0-3,-3 0,-4zM142,30l2,-1 6,1 12,3 5,3 2,3-1,2-3,1-20,-3-3,-3-1,-2zM285,33l4,1 1,2 0,9 4,6 0,3-14,8-21,6-12,0-12,-6-24,-7-6,-4-3,-3 3,-2 15,0 3,1 9,9 15,-1 12,5 3,0 6,-6 10,-6 2,-9 3,-4zM309,57l1,-1 3,6 2,16-7,15-4,5-3,-1-2,-4-4,-2-3,1-9,4-6,-1-2,1 1,3-2,2-12,-2-9,1-6,-2-16,-8-1,-3 5,0 9,2 18,1 12,4-1,-10 4,-6 9,-5 15,0 3,-2 3,-11zM378,63l1,-2 3,1 6,4 4,6 1,3-1,3-7,4-3,0-3,-2-2,-5zM345,114l7,-2 3,1 6,7 15,2 6,4 1,3-2,12-7,6-2,3-1,6-5,12 0,3 1,2 9,-6 7,-2 0,-6 6,-9 5,-12 3,-5 3,0 0,14-3,15-3,5-3,1-5,0 1,6 2,3 11,9 0,21-3,7 3,1 0,46-3,-1-2,2 5,0 0,14-2,4-7,5-3,4-1,6 4,3 9,4 0,22-7,10 0,6 2,6-1,3-3,3-3,8-3,1-6,-3-3,0-3,3-2,3 0,9 5,6-1,3-5,4-6,1-15,-3-9,-1-3,2-4,6-8,9-205,0 0,-6 8,-12 10,-8 9,-3 12,-3 3,1 6,4 3,0 3,-2 6,-7 12,0 6,-3 5,-18-1,-3-7,-4-2,-2 0,-3 1,-3 4,-4 13,-2 3,-2 17,-19 7,-5 6,-1 15,5 9,-2 4,-3 2,-3 1,-9-1,-12 2,-6 6,-9 4,-12-2,-15-10,-9 5,-6-1,-12 2,-5 6,-2 12,3 7,-3 3,0 2,3-6,7-1,3 4,2 6,-2 9,-5 6,-2 2,4 0,12 6,6 4,-2 2,-4-1,-9 1,-10-2,-4-6,-8 1,-3 8,0 8,-6-1,-6 0,-9-2,-9-2,-19-3,-14zM373,183l-3,1-2,2 2,4 3,1 3,-4zM388,237l-1,1 1,4 3,-4zM205,120l3,-2 3,0 1,2-1,3-3,4-3,-1-1,-3zM325,132l3,-1 3,2 4,11-1,2-3,1-6,-2-1,-10zM263,162l5,1 3,2 1,0 0,3-4,2-6,0-3,-2-1,-3zM116,202l7,0 6,3 8,12 4,10 3,-1 5,-6 7,-5 9,-1 6,-2 3,1 6,10 1,6-1,3-7,12-5,4-15,-2-3,4 9,1 12,-1 6,1 2,2 2,9 5,9-1,6-2,3-9,7-3,-1-6,-6-6,-2-21,4-4,4-3,12-3,6-5,6-6,3-21,2-6,2-6,1-3,-1-6,-7-12,-3-3,0-9,5-9,1-9,5-3,0-6,-6-6,-1-3,2-1,12 0,6 10,8 1,4 0,3-4,5-3,1-3,1-1,-1-14,-12 0,-36 2,-3-1,-6 0,-6-1,-4 0,-16 3,-4-3,-10 0,-26 9,2 9,-4 18,-3 9,3 4,-7 5,-6 3,-1 12,-3 4,-5 2,-2 6,2 1,3 1,6 4,6 3,1 3,-1 3,-2 4,-4zM398,373l2,-1 0,8-3,-1 0,-4zM84,379l3,-2 3,0 10,5 2,3 2,3-1,3-5,9-9,0-6,-6-2,-6-1,-3zM109,379l2,-2 3,1 5,4 1,3-3,5-3,0-5,-2-1,-3zM4,382l2,-2 6,5 3,0 12,-4 12,-1 4,2 0,3-3,3-11,6-17,3-6,-3-3,-3zM356,394l11,-2 9,0 9,1 9,0 6,1 0,4-9,0-6,2-27,0-5,-3z" fill="#0092ff"/><path d="M89,6l1,-1 3,0 2,4-2,2-3,0-2,-2zM143,33l1,-2 3,-1 12,3 7,3 1,3-2,1-3,1-14,-2-4,-3zM284,36l2,-1 3,2 0,8 4,6-1,3-12,7-9,3-6,1-3,-2 7,-9 11,-6 1,-3 1,-6zM205,48l9,-1 6,0 3,1 9,9 15,-1 3,1 9,6-1,3-11,1-14,-7-1,-2-6,0-15,-4-4,-3zM309,60l4,7 0,11-6,16-3,1-3,-3-6,-2-3,0-9,4-3,0-3,-2-2,-5 2,-6 9,-6 9,0 6,1 3,-2 3,-10zM380,66l2,-2 3,1 4,4 2,6-3,4-3,2-3,-1-2,-2-2,-3zM238,90l15,0 12,2 4,1 3,3 1,3-2,1-9,-2-12,0-9,-5 0,-1zM348,114l4,0 3,1 6,6 12,1 3,1 4,3 2,3-1,9-2,4-6,5-2,9-7,18 3,0 9,-5 3,0 3,2 5,6 13,10 0,19-3,5-1,3 4,9 0,36-6,-1-1,1 1,3 6,1 0,10-6,4-7,12-2,6 15,11 0,11-4,8-5,6-2,3 1,9-3,6-5,4-6,0-3,3-3,5-3,9-6,10-6,1-15,-3-3,2-7,11-5,5-6,4-197,0 1,-5 7,-10 11,-10 18,-4 9,4 3,-1 12,-8 12,-2 3,-2 6,-19-1,-3-9,-6 0,-3 1,-3 7,-4 9,-1 3,-2 6,-8 18,-17 6,0 15,5 9,-3 4,-3 5,-12-1,-9 0,-6 12,-15 2,-6-2,-9-1,-9-4,-6-4,-3 6,-6 2,-3-3,-6 0,-3 2,-1 3,1 3,3 4,6 11,4 3,0 9,-7 6,-2 1,2 1,9 1,3 6,4 3,1 3,-2 3,-6-2,-9 2,-10-3,-6-5,-6 2,-2 6,0 10,-7-2,-6 0,-9-3,-9 0,-9-4,-24 1,-3zM370,183l-2,3 0,3 2,2 3,0 3,-2 1,-3-2,-3zM388,236l-2,2 0,3 2,3 3,-2 2,-4-2,-2zM207,120l4,0-3,5-2,-2zM325,135l3,-2 2,2 1,6-3,3-2,-3zM396,138l1,-2 3,0 0,7-3,17-3,4-3,1-5,-3-1,-3zM259,165l3,-2 6,1 2,1 1,3-3,2-6,-1zM115,208l5,-2 4,2 11,10 3,11 6,4 3,0 1,-7 2,-3 4,-3 5,-2 9,-1 3,1 5,11-2,5-3,4-3,3-3,1-15,-1-4,12 1,1 12,0 12,-2 5,1 3,9 5,9 0,6-2,3-8,5-3,0-6,-6-6,-2-21,4-3,2-2,3-3,12-3,6-5,6-5,2-12,2-9,0-9,2-6,-2-6,-5-6,-2-9,-1-9,5-9,0-9,6-3,-1-6,-5-3,-1-6,0-2,15 1,6 2,3 7,6 1,3 0,3-3,3-3,2-3,0-15,-13 0,-31 3,-3 1,-3-2,-6 1,-9-3,-5 0,-6 9,-12 11,5 4,0 3,-2 1,-4-1,-4-3,-2-6,0-9,2-9,-12 0,-9 15,0 6,-7 15,-1 4,3 7,9 4,0 6,-5 9,-4-9,-12 2,-3 4,-2 9,4 6,0 6,5 3,2 6,0 6,4 2,-1 0,-9 1,-3 3,-4zM69,231l-2,1 1,3 4,0 2,0-1,-3zM85,379l5,-1 8,4 3,3 1,6-6,9-6,0-8,-9-1,-6 1,-3zM27,382l9,1 3,2-2,3-10,5-15,2-4,-1-2,-3 0,-4 3,-1 9,0zM111,382l3,-1 1,4-3,0zM368,394l8,-1 14,4-5,1-3,2-22,0-2,-3 3,-2z" fill="#0049ff"/><path d="M145,33l2,-1 10,1 7,3 0,3-7,0-10,-2-1,-1zM285,39l1,-1 0,1 0,4-2,-1zM211,48l9,0 6,6 0,2-16,-5zM283,48l3,-1 3,2 2,2 0,3-11,6-12,4-2,-1-1,-3 5,-6 7,-4zM237,60l1,-1 3,-2 6,1 5,2 2,3-4,2-3,0-6,-2zM309,66l1,-2 1,2 0,12-4,12-3,2-3,-3-9,-1-9,4-4,-2-2,-3 0,-3 3,-3 6,-3 6,-1 6,0 3,3 3,-2 1,-3zM381,69l1,-2 3,-1 3,3 2,3 0,3-2,3-3,2-4,-2-1,-3zM247,93l6,-1 9,0 4,1 4,3-2,1-15,0zM347,117l5,-2 9,7 12,1 3,1 3,2 2,3-1,9-2,3-6,6-3,12-7,15 2,2 3,-1 6,-4 3,0 3,0 6,6 15,11 0,17-5,9 4,9 0,6-2,4-9,3-2,2-1,3 3,5 3,1 3,-8 3,-1 3,1 0,19-6,-1-3,2 3,4 6,1 0,7-6,2-3,4-6,12-2,6 3,3 9,6 3,3 0,6-3,9-7,9-2,12-2,3-11,6-4,6-5,11-3,4-6,2-12,-3-3,0-12,19-6,5-8,4-190,0 1,-3 7,-11 9,-9 6,-2 12,-1 9,2 3,0 3,-1 6,-6 15,-4 3,-2 7,-17 0,-3-2,-3-8,-6 0,-3 0,-2 7,-4 9,-2 3,-1 6,-8 18,-18 6,0 15,5 9,-2 5,-4 6,-12-2,-12 1,-3 5,-6 11,-9 1,-3-5,-12 0,-9-3,-6 0,-3 3,-3 5,-2 3,0 12,4 3,-1 6,-7 3,-1 3,10 3,2 6,4 3,0 3,-2 3,-7-1,-12 2,-7-6,-12 5,-1 12,-8-4,-6 0,-9-2,-12 0,-6-3,-21 0,-3zM370,182l-3,4 1,3 2,3 3,0 3,-3 2,-3-2,-3zM396,141l1,-1 1,1-2,15-2,4-3,1-2,-2 0,-3 5,-13zM260,165l5,-1 3,0 1,1 0,3-7,0zM109,214l8,-3 3,0 4,6 8,1 1,2 2,6-1,3-2,0-3,0-6,-3-3,3 0,3 3,4 3,1 3,1 9,-4 3,1 4,3 1,6-5,9 1,3 20,0 12,-2 8,17 0,6-1,3-7,4-3,0-6,-6-6,-2-21,4-6,6-3,12-6,9-6,4-12,2-9,0-9,2-3,-1-9,-6-12,-3-6,1-6,3-9,1-9,5-3,-1-6,-5-9,0-1,1-1,3-1,15 3,6 7,6 1,3-2,5-3,2-6,-3-12,-11 0,-25 5,-7-1,-9 1,-9-3,-9 4,-6 3,-4 3,0 9,3 6,-1 3,-4 1,-9-1,-5-3,-1-9,1-6,-1-4,-3-1,-3 11,-3 6,-7 3,-1 9,3 4,5 4,3 4,0 6,0 6,-3 16,0 14,-4 6,1 9,8 5,-11-5,-15 1,-3zM155,223l4,-2 6,1 4,7 0,3-10,3-6,0-1,-6 0,-3zM83,382l4,-3 3,0 6,3 4,3 1,6-5,7-3,2-3,-1-6,-7-2,-4zM25,385l5,0 2,3-4,3-10,2-8,-2zM362,397l11,-2 9,2-3,3-16,0z" fill="#0000ff"/><path d="M276,51l10,-2 3,2 0,3-11,6-10,2-2,-2 2,-3 3,-3zM240,60l7,0 0,2zM382,69l3,-2 4,5 0,3-4,4-3,-1-2,-3zM284,81l5,-1 6,0 2,1 2,3-1,1-6,0-9,3-2,-4zM348,120l1,-2 3,-1 9,6 9,0 6,2 4,4-1,9-8,9-2,12-8,15 3,3 3,0 6,-4 3,-1 24,18 0,15-6,9 0,3 4,6 0,6-4,5-6,1-3,3 0,3 3,6 3,2 3,1 1,-6 2,-2 3,1 0,13-6,-1-4,4 1,3 9,4 0,3-6,2-6,6-4,9-2,9 3,3 8,6 2,3 1,3-4,12-6,9-4,12-12,9-4,6-5,11-6,3-9,-3-6,0-3,2-6,14-5,6-4,3-12,6-17,0-4,-1-3,1-161,0 7,-11 9,-10 6,-2 12,0 12,1 3,-2 9,-8 9,-2 6,-2 7,-18 0,-3-1,-3-8,-6-1,-4 2,-2 5,-3 12,-2 6,-8 9,-8 4,-6 5,-4 6,0 15,5 9,-3 6,-4 8,-15-2,-9 3,-6 6,-4 6,-2 9,0 3,-3 1,-3-1,-4-9,-4-6,-7 1,-9-1,-6 1,-3 5,-2 3,1 9,5 3,-1 6,-4 15,10 6,-4 3,-5 1,-6-1,-9 2,-7-4,-9 2,-3 13,-9-4,-6 0,-10-2,-8 0,-9-2,-12zM367,183l0,6 3,3 3,1 3,-2 2,-5 0,-3-2,-2-6,0zM261,165l4,-1 3,1 0,3-3,0zM109,217l5,-3 3,0 2,3-1,6-4,3-3,0-1,-3-1,-3zM128,223l1,-2 2,2-2,2zM114,235l3,-1 6,5 3,1 6,0 6,-3 3,1 2,3 0,3-2,3-6,4-3,5 0,1 12,1 18,0 9,-1 3,2 7,15 0,3-4,4-3,2-3,-1-6,-6-6,-1-21,4-3,2-4,5-3,12-5,8-6,4-12,3-9,-1-9,2-3,-1-9,-6-15,-3-9,3-9,2-9,5-9,-6-9,-1-3,2 0,1 0,6-1,12 3,6 7,6 1,3 0,3-4,2-3,-1-6,-3-7,-7-2,-3 0,-16 2,-8 6,-6-2,-9 2,-12 0,-9 2,-3 2,-1 9,2 8,-1 2,-3 3,-18 2,-5 3,-1 9,2 15,-2 15,0 12,-4 3,0 6,4 6,11 3,1 2,-3 0,-12zM84,382l3,-2 3,0 9,5 1,3 0,3-4,6-3,2-3,-2-6,-6-1,-6zM369,397l7,0 0,3-10,0z" fill="#002ab5"/><path d="M278,51l8,0 1,3-4,3-7,3-5,1-3,-1 1,-3 3,-3zM384,69l1,0 4,3 0,3-4,3-4,-3 0,-3zM351,120l4,1 6,3 12,1 4,1 2,3 1,3-2,6-8,9-1,12-6,12-2,3-2,0 8,5 0,1-1,6 0,3 4,4 3,0 5,-4 1,-3 1,-3-2,-3-10,-3 5,-3 3,0 6,6 9,4 9,6 0,14-7,10 0,3 4,6 0,6-3,4-6,2-3,2-1,4 1,3 7,9-3,6 1,3 8,6-7,3-8,9-3,12 0,3 2,2 8,7 3,3 1,3-3,9-6,9-4,12-2,2-8,7-10,9 0,6-2,3-4,1-12,-3-6,2-2,3-4,11-7,10-5,3-9,3-6,3-4,0-11,-5-3,1-3,4-156,0 8,-12 9,-7 6,1 9,-3 12,1 3,-1 4,-6 5,-4 10,-2 6,-3 7,-18 0,-3-1,-4-8,-5-1,-3 2,-3 4,-2 12,-2 5,-8 10,-8 4,-7 4,-3 7,-1 15,5 9,-3 6,-4 11,-18-2,-6 2,-3 1,-1 3,0 0,5 3,-1 15,-11 3,-4 0,-6-2,-3-10,-6-3,-3 3,-15 3,0 6,6 12,-1 9,3 3,1 9,-6 3,-6 1,-15 2,-7-3,-9 3,-4 12,-8-1,-3-4,-3-1,-12-2,-6 1,-9-2,-18 0,-3zM115,238l2,-1 6,5 6,2 2,3-5,12 3,3 9,-3 33,1 3,3 6,11-1,3-2,3-3,1-3,0-6,-6-6,-1-21,4-3,2-5,6-2,12-5,7-6,4-12,3-9,-2-9,3-12,-7-15,-3-18,4-9,4-6,-4-12,-1-3,-1-3,-4-1,-6 7,-18 9,-2 7,-4 5,-19 3,-5 9,0 18,-2 12,0 9,-3 6,0 4,2 2,3 3,9 3,3 3,0 4,-3 1,-15zM4,310l2,-2 3,0 1,2 1,6 0,9 0,6 4,5 5,4 1,3-1,3-2,1-9,-4-6,-6-2,-3-1,-12zM86,382l4,-1 3,1 5,3 1,3-2,6-4,3-3,-1-6,-7 0,-4z" fill="#00546b"/><path d="M273,54l7,-2 3,0 1,2-4,4-9,2-1,-3zM382,72l3,-2 3,2 0,3-3,2-3,-2zM351,123l4,0 6,2 12,1 5,3 1,3-2,6-8,9 0,9-5,12-3,5-3,1-4,-3-1,-12-2,-6 1,-9-2,-15zM354,180l4,-2 3,0 3,1 2,1 0,9 4,4 3,1 3,-2 2,-3 4,-6 3,-1 6,2 6,4 3,3 0,12-8,11 1,3 3,6 1,6-3,3-7,3-3,3 0,6 6,9-2,6 0,3 4,3-1,3-9,7-6,2-1,3 3,6 1,9 12,12 1,3-3,9-6,9-5,12-2,3-12,8-13,1-1,9-13,1-4,5-2,9-7,12-2,3-6,3-9,1-6,1-6,-1-6,-3-3,1-5,7-152,0 3,-7 6,-5 3,-2 10,2 8,-6 15,-1 5,-8 4,-3 12,-3 5,-3 6,-18 1,-3-2,-5-7,-4-1,-3 2,-3 3,-2 12,-1 6,-9 9,-8 6,-8 6,-3 18,6 6,-2 9,-5 12,-18 9,-8 12,-8 3,-3 2,-6-1,-3-4,-7-8,-5 0,-3 2,-2 15,-1 6,6 6,1 3,-1 1,-3 9,-9 3,-6 0,-15 3,-7-3,-9 1,-3zM86,244l7,-1 3,3 3,4 2,9 1,2 6,0 4,-2 2,-3 3,-13 6,4 2,3-1,9 0,3 2,2 12,-4 30,2 3,2 3,3 4,7 0,3-3,3-2,0-8,-6-6,-2-24,7-6,7-2,12-4,6-6,4-12,3-8,-1-3,-3-1,-4-1,1 0,3-1,3-4,1-9,-5-18,-4-27,7-6,-4-12,-1-3,-3-2,-6 5,-11 3,-4 12,-6 3,-3 3,-12 6,-9 27,-4 9,0zM5,313l1,-2 3,0 1,5 1,15 9,12-2,2-6,-1-3,-3-7,-7-1,-12zM85,385l2,-2 10,2 1,3-2,6-3,2-3,-1-5,-7z" fill="#008738"/><path d="M276,54l5,0-3,3-4,1-2,-1zM383,72l2,-1 2,1-1,3-1,1-2,-1zM352,126l3,-1 6,2 12,0 4,2 1,3-2,6-6,6-2,3 0,12-6,12-4,2-4,-2-1,-12-2,-6 0,-3 2,-6-2,-12zM355,180l6,-1 3,1 1,9 5,5 3,0 3,-1 6,-8 3,-1 3,0 6,3 6,5 0,10-8,12 0,3 4,6 0,6-2,3-8,3-3,3 1,6 5,9-2,6-1,6-4,6-3,2-6,1-4,6 0,3 6,6 5,9 9,9 1,3-14,30-3,3-6,4-6,2-15,-2-3,2-3,5-8,4-4,18-6,12-2,3-4,1-3,0-6,-2-9,4-9,-4-4,1-5,9-150,0 3,-6 5,-4 3,-1 12,1 9,-5 12,-1 3,-1 1,-7 2,-3 5,-3 10,-3 5,-3 7,-18 0,-3-2,-6-7,-3-1,-3 5,-4 12,-1 6,-10 9,-7 6,-9 6,-3 18,6 6,-1 9,-6 12,-16 9,-9 12,-8 4,-4 2,-6 0,-3-7,-12 4,-3 3,-1 3,1 7,6 5,0 3,-2 4,-7 6,-6 3,-6 1,-15 3,-7-3,-9 1,-3zM376,221l-2,2 2,5 2,-2 0,-3zM82,247l8,-2 5,2 3,6 0,9 4,2 9,-2 5,-3 1,-3 3,1 1,5 2,3 3,1 12,-5 30,4 3,2 3,4 1,3 0,3-4,0-6,-5-6,-1-24,7-7,8-2,12-4,6-5,4-12,3-5,-1-6,-9-4,-1-4,1 2,6-1,2-9,-4-18,-4-12,1-12,4-9,-3-9,0-3,-2-1,-3 3,-12 17,-12 2,-3 1,-9 7,-9 10,-4 15,-2 9,1zM5,316l1,-2 3,2 1,15 6,9 0,3-2,0-5,-3-5,-6-1,-12zM86,385l4,-1 4,1 3,3-1,4-3,2-3,-1-4,-5z" fill="#00c31c"/><path d="M354,129l1,-1 18,0 3,1 1,3-2,6-7,6 0,15-7,12-3,2-3,-2-1,-3 0,-9-2,-6 0,-3 3,-9-3,-6 0,-3zM357,180l4,0 2,0 1,9 2,3 4,2 3,0 3,-1 6,-6 3,-2 3,0 9,4 3,4 0,8-9,13 0,3 4,6 0,6-2,3-7,3-3,3 0,6 5,9-3,8-6,10-3,1-3,0-3,-1-2,6-5,6 2,3 8,4 14,17 0,3-14,30-6,5-6,1-12,-1-6,1-9,6-5,0-1,-4-2,10 0,12-1,3-4,6 0,6-1,3-4,3-3,-1-3,-2-3,-5-3,-1-2,6-4,3-9,-3-3,1-3,3-4,8-147,0 3,-6 6,-4 12,2 5,-1 10,-5 9,1 2,-2 0,-9 2,-3 5,-3 12,-4 4,-5 6,-18-3,-6-5,-3-2,-4 4,-2 12,-1 7,-11 8,-6 6,-9 3,-2 3,-1 3,0 15,5 6,-1 6,-3 5,-4 6,-9 7,-8 9,-9 12,-7 2,-3 2,-6 0,-6-4,-6 0,-3 5,0 10,5 6,-2 5,-9 7,-8 1,-4 1,-12 4,-10-3,-6 0,-3 3,-4zM376,220l-3,0 0,3 3,6 3,-3 0,-3zM298,288l-3,4 3,0 2,-3zM90,247l4,3 1,3 0,9 1,3 3,2 6,-1 12,-3 3,4 3,1 15,-5 12,2 7,3-3,3-16,4-6,4-5,7-2,12-5,7-6,3-12,2-3,-3-3,-6-6,-3-3,0-3,1-3,4-3,1-18,-4-12,-1-6,4-6,1-6,-4-9,-1-1,-7 1,-5 9,-6 6,-7 3,-3 2,-9 8,-9 8,-3 12,-2 12,1zM6,322l1,6 6,12-1,0-5,-3-2,-3zM89,388l1,-1 3,0 1,1-1,3z" fill="#00ff00"/><path d="M367,129l6,0 3,3 0,3-3,4-8,5 3,9-1,6-6,12-3,1-3,-4-1,-9-2,-6 1,-3 2,-4 3,-3 6,-2-3,-3-6,-3 1,-3zM353,183l5,-2 3,0 2,8 3,3 4,3 6,-1 6,-6 6,-2 8,3 4,6-1,7-9,12 0,3 4,6 1,6-3,3-7,3-3,3 0,6 5,9-7,15-4,3-3,0-6,-6-6,-3-3,1-1,2 1,4 6,3 2,2-5,7-1,2 2,3 11,6 12,15 0,3-5,6-2,9-5,6-3,9-9,4-12,-2-12,2-6,-9-3,3-4,11-2,12 1,9-2,3-5,5-3,1 3,2 2,4-1,3-3,0-2,-3 1,-6-6,-2-3,0-4,2-2,7-9,0-4,2-3,3-5,9-143,0 3,-6 4,-2 15,1 12,-5 9,1 2,-1 2,-3-1,-6 0,-3 2,-3 16,-6 3,-3 2,-3 1,-6 4,-9 0,-3-2,-6-5,-3-2,-3 5,-3 10,0 3,-3 4,-9 9,-6 5,-8 3,-3 3,-1 3,1 15,5 6,-1 6,-3 5,-5 10,-14 9,-8 16,-11 4,-6 1,-6-1,-6 1,-2 9,2 6,-3 6,-9 7,-9 2,-15 4,-10-3,-9 1,-3zM373,219l-1,1 1,6 3,4 3,-2 1,-5-3,-3zM301,286l-6,4-1,2 1,3 3,-2 3,-4zM53,253l16,-3 18,2 5,13 4,4 3,1 12,-2 3,0 3,3 3,0 12,-6 6,-1 6,1 7,3-2,3-14,5-4,4-6,9-1,9-4,6-6,3-9,2-3,0-2,-2-4,-7-6,-3-6,0-6,5-3,0-20,-4-6,-3-3,-9-7,-4-2,-2 6,-15zM38,298l4,-2 2,2-2,1-3,1z" fill="#66ff00"/><path d="M368,132l5,-1 1,4-1,2-4,1-1,-3zM355,147l3,-2 6,0 3,5 1,3-1,6-5,9-1,2-3,1-3,-3 0,-9-2,-6zM355,183l3,-1 3,1 1,6 3,3 5,3 6,-1 9,-7 6,0 4,2 3,3 2,6-10,16-1,3 5,6 0,6-3,3-8,3-1,3 0,6 3,6 1,3-7,14-3,3-3,-1-4,-4-8,-4-3,0-2,4-1,3 5,6 0,3-2,6 1,3 14,8 9,13 0,3-6,6-1,9-6,6-3,6-4,3-4,1-9,-1-9,1-3,-2-6,-8-6,-3-6,-1-2,1 2,3 4,0 2,3-6,24 0,12-3,3-3,2-12,1-6,7-9,3-5,5-5,9-141,0 3,-5 3,-2 18,2 9,-5 9,0 3,-1 2,-4-1,-9 2,-3 15,-6 4,-2 3,-10 3,-6 1,-3-1,-6-7,-9 4,-2 9,0 1,-1 7,-12 9,-6 3,-6 4,-4 6,-1 15,5 6,-1 6,-3 6,-5 9,-13 9,-9 17,-11 4,-6 2,-9 1,-2 6,0 7,-4 5,-9 7,-9 3,-15 3,-6 1,-4-3,-9 2,-3zM373,218l-2,2 1,6 1,3 3,2 3,-2 1,-6-2,-3zM301,285l-7,4-1,3 2,4 3,-1 4,-6 0,-3zM54,256l6,-2 7,2-5,6 2,12-13,8-6,-3-2,-2 1,-3 3,-9zM77,259l1,-2 3,0 6,8 9,8 3,1 9,-2 9,2 3,-1 9,-5 6,-2 3,0 6,2-2,3-10,6-5,6-3,6-1,9-3,5-3,2-12,3-3,-1-6,-9-6,-2-6,0-9,5-14,-3-7,-3 1,-3 5,-3 3,-3 1,-3 1,-6 7,-3 4,-3z" fill="#ccff00"/><path d="M357,147l4,-1 3,0 3,7 0,5-6,10-3,2-2,-2 0,-9-2,-6 1,-4zM358,183l3,3 3,6 6,4 6,-1 9,-7 3,-1 7,2 2,3 2,6-10,16-1,3 6,8-1,4-4,3-7,3-1,3 0,6 4,9-6,12-3,3-3,0-3,-5-9,-3-3,1-4,4 0,3 4,9-1,6 0,3 4,3 11,6 4,6 3,6-4,6-2,9-3,4-12,10-15,1-3,-1-5,-5-7,-5-9,-2-3,2 0,7 3,1 1,3-1,12-4,9 1,9-1,3-2,2-12,3-9,6-6,3-6,6-5,10-138,0 2,-3 2,-2 3,0 15,2 9,-4 9,-1 3,-2 3,-5-1,-9 3,-3 13,-5 4,-3 7,-16 0,-9-6,-9 5,-1 6,0 3,-2 6,-12 9,-5 2,-7 4,-4 6,0 15,5 12,-5 6,-5 12,-15 10,-9 15,-9 3,-6 2,-6 9,-5 5,-4 5,-9 5,-6 3,-6 2,-12 3,-6 1,-4-3,-9 2,-3zM373,217l-3,3 2,9 4,3 3,-1 2,-8-2,-3zM298,285l-4,4-1,3 2,6 3,-1 4,-8 1,-3-2,-2zM51,265l3,-3 3,0 1,6-1,4-6,3-3,-1 0,-3zM135,268l2,3-11,12-3,6-1,9-1,3-4,3-12,3-3,-2-6,-8-6,-3-8,1-7,4-3,0-14,-4 1,-3 10,-10 15,-12 6,0 6,6 3,1 9,-3 3,0 6,2 3,0 6,-5z" fill="#ffdd00"/><path d="M360,147l4,1 3,5 0,3-6,13-3,0-1,-1-1,-9-2,-6 1,-3zM354,186l4,0 4,6 8,5 6,-2 9,-6 6,0 3,1 2,2 2,6-1,4-7,9-3,6 6,9-2,4-9,3-2,-1 2,-9-1,-3-8,-4-4,1 3,12 2,3 6,3 0,9 3,6 1,3-5,9-3,4-3,-1-3,-4-12,-1-4,5 0,6 2,6 0,9 2,3 12,6 3,3 3,6-6,18-2,3-10,6-9,1-21,-10-9,0-3,1-1,5 0,15-10,6 1,3 4,2 2,4 1,9-3,3-12,4-15,11-10,15-113,0 8,-4 9,-2 3,-2 3,-4 0,-12 3,-3 12,-5 5,-4 7,-18 0,-6-3,-6 0,-3 7,0 3,-1 6,-13 3,-2 6,-3 1,-2 2,-6 2,-3 7,-1 15,6 9,-3 7,-5 11,-15 9,-8 20,-13 7,-12 12,-9 5,-9 5,-6 5,-18 4,-10-3,-9zM274,318l-3,4 3,3 6,0 0,-3-2,-3zM298,284l-5,5-1,3 3,7 3,0 3,-7 2,-3 1,-3-3,-3zM82,274l5,-3 3,1 3,5 3,2 12,-3 3,0 6,3 3,0 9,-8 2,3-7,9-2,6-1,9-2,3-5,3-9,0-6,-6-6,-5-9,0-12,4-10,-2 0,-3 2,-3zM142,397l5,0 9,3-16,0z" fill="#ff9900"/><path d="M357,150l4,-2 3,1 2,7-5,11-3,2-3,-16zM354,189l2,0 3,3 8,4 6,1 12,-7 6,-1 5,3 1,6-3,7-5,6-3,6 1,3 4,2 1,4-1,3-6,3-3,0 1,-9-1,-3-9,-5-3,0-3,2 5,15 5,3 2,2 1,10 2,3 0,3-6,9-6,-2-12,-1-4,3-2,6 2,9-1,9 5,4 11,5 4,6 1,3-7,18-6,4-9,1-9,-5-15,-5-9,1-3,2-4,20-1,3-8,6 0,3 5,6 1,3 1,6-5,3-9,3-13,10-12,17-104,0 7,-2 6,-4 5,-6 0,-12 3,-3 10,-4 6,-5 7,-18-1,-12 8,-3 5,-13 3,-2 7,-3 5,-11 3,-2 3,0 12,6 9,-1 11,-7 10,-14 11,-10 20,-12 5,-10 5,-5 8,-6 5,-9 5,-6 4,-17 5,-7 0,-4zM271,318l-3,4 3,5 3,2 9,2-1,-9-2,-4-3,-1zM301,282l-6,4-3,3-1,3 4,8 3,0 2,-5 4,-6 1,-3-1,-3zM81,277l6,-2 3,5 3,2 15,-4 12,6-1,14-2,3-6,1-6,-1-9,-8-6,-2-18,4-6,-1-1,-2 1,-3z" fill="#ff5500"/><path d="M359,150l5,0 1,6-4,10-3,0-1,-13zM381,192l4,-2 6,0 4,2 1,6-2,6-8,10-1,3-3,1-16,-4 0,3 3,6 2,9 6,6 1,9 1,3 0,3-8,6-4,0-6,-1-6,2-4,8 0,3 1,6-2,9 2,3 5,3 10,3 3,3 2,3 0,3-4,12-4,5-6,2-6,-1-12,-6-21,-5-2,2-3,9-3,18-4,5-7,4-1,3 7,9 1,3-2,3-10,4-12,10-9,13-7,6-92,0 10,-9 1,-3 0,-12 4,-3 8,-3 5,-3 5,-12 4,-6 1,-12 7,-6 4,-12 12,-6 2,-10 3,-2 3,0 15,6 6,-1 6,-3 6,-5 9,-13 6,-6 11,-8 15,-9 5,-9 5,-6 8,-6 4,-8 5,-7 3,-6 1,-8 9,-15 15,1 3,-1zM277,316l-10,3-1,3 3,9 11,7 12,2 2,-3 0,-3-8,-6-4,-9-2,-3zM298,282l-6,5-2,5 0,3 4,6 4,1 2,-7 5,-6 1,-3-2,-5-3,-1zM384,223l1,-2 4,2 2,3-1,3-5,2-2,-2zM76,283l5,-2 3,1 4,4-1,3-12,3-6,0 0,-3zM101,283l4,-2 4,2 7,9 0,6-5,1-3,-1-8,-6-3,-3 1,-3z" fill="#ff1100"/><path d="M359,153l2,-2 3,1 0,1 0,6-3,5-1,-2zM383,192l5,-1 3,0 3,1 1,3-1,7-9,12-3,3-15,-5-3,0-1,2 4,6 2,12 6,6 1,2-2,13-4,4-3,1-9,-1-3,2-3,3-2,6 0,12-8,9 7,1 19,8 2,3 0,3-3,8-3,5-3,2-6,0-12,-5-12,-2-9,-3-10,-11-2,-10-2,1 1,3-2,1-2,5 5,9-3,2-2,4 2,4 3,1 2,-2 1,-3 0,6-3,21-3,3-6,2-3,0-2,-2 2,-12-1,-3-8,-3-6,-9-3,-2-12,2-5,3-1,3 1,3 2,9 3,3 9,6 18,2 1,7 5,6 1,3-1,4-9,4-9,7-12,18-8,6-84,0 6,-6 3,-6-1,-9 1,-3 4,-3 10,-4 2,-2 4,-10 6,-8 0,-9 8,-9 4,-10 2,-2 7,-1 3,-3 1,-2 0,-6 1,-3 7,-1 9,6 6,0 15,-9 12,-16 17,-13 15,-9 6,-12 11,-9 10,-18 1,-7 3,-7 6,-8 6,-3 6,1 6,-1zM301,278l-9,8-3,3 0,3 1,6 5,5 3,1 2,-3 1,-5 7,-10-4,-9zM385,226l0,-1 3,-1 2,2-2,3-3,0z" fill="#cc0000"/><path d="M361,156l0,-1 3,1-3,4zM384,192l7,0 2,0 1,3-3,8-8,11-1,1-3,0-15,-4-4,3 6,9 0,3-2,1-6,-2-6,0-2,-2 2,-9 8,-9 4,-4 9,-1zM333,247l4,-1 4,4 8,3 4,3-4,11-2,4 0,6-1,3-6,3-6,0-2,3 1,3 4,3 12,2 9,3 6,1 3,2 1,4-1,3-3,5-3,3-6,0-27,-6-6,-3-7,-8-1,-9-4,-9 1,-6 5,-6 6,-3 3,0 6,5 3,1 1,-3-1,-3-7,-6 1,-7zM361,250l3,-2 3,1 2,4-2,2-3,0-4,-2zM302,304l2,-2 0,2-2,9 1,6-2,2-6,-1-4,-4 1,-3 2,-3zM306,325l1,-1 3,2 0,8-3,7-3,1-2,-2zM248,337l2,-1 3,1 8,9 1,3-2,9 2,3 6,2 3,-1 9,-5 3,-1 3,1 6,4-5,6-9,9-7,15-15,9-68,0 4,-15 0,-9 10,-4 3,-3 5,-11 4,-3 6,-4 9,-2z" fill="#880000"/><path d="M387,192l4,0 2,3-2,4-6,6-3,3-1,3-2,1-11,-1-5,-3 7,-6 6,-2 6,-5zM342,265l1,-2 3,0 0,3-3,0zM318,271l4,-1 3,2 4,17 5,5 6,3 11,1 10,4 3,2-3,6-6,2-3,0-21,-5-7,-3-2,-3-1,-3 0,-6-5,-6-3,-6 2,-6zM237,349l4,-1 2,1 7,12 6,4 6,3 6,0 12,-4 0,3-12,21-12,8-10,4-49,0 1,-8 10,-1 3,-2-2,-10 2,-6 6,-9 7,-6z" fill="#4c0000"/><path d="M383,195l5,-1 3,1 0,1-9,9-6,3-3,-1-2,-2zM318,277l1,-1 3,3 0,4-3,-1-2,-2zM328,298l3,-1 6,3 12,2 4,2 2,3-3,2-3,0-9,-2-11,-6zM233,355l5,-2 3,0 9,13 12,5 9,1 0,1 0,3-6,9-12,9-9,2-5,4-18,0 1,-12-8,-9 1,-3 7,-12z" fill="#1a0000"/><path d="M251,379l2,-1 3,1 0,3-3,4-4,-1 0,-3z" fill="#262626"/></g></g></g>
<rect x="718.0" y="1175.3" width="200.3" height="200.3" fill="none" stroke="#444" stroke-width="1.1" />
<g transform="translate(955.4,1175.3) scale(1.0015)" clip-path="url(#cp)"><g filter="url(#bs)"><rect width="200" height="200" fill="#fffdfd"/><path d="M84.8,123.9L84.3,129.3M195.9,50.3L199.3,47.9M186.5,122.7L189.4,124.3M187.8,37.1L188.0,32.6M83.7,152.3L83.8,155.5M52.6,77.8L48.4,77.2M181.3,117.6L186.9,117.1M189.9,181.3L193.9,180.9M15.8,113.2L9.7,116.4M47.7,71.5L43.5,67.1M126.4,160.5L128.4,161.6M35.8,4.8L36.4,-0.6M194.5,185.0L198.9,185.9M71.5,189.4L74.3,194.0M164.9,98.2L168.9,101.3M174.6,85.2L181.1,84.0M163.1,50.5L166.0,48.1M94.6,101.8L100.3,104.5M138.1,79.3L144.8,79.4M116.5,9.0L119.3,4.6M93.4,58.8L98.3,54.3M67.7,80.3L62.9,79.1M90.9,51.0L94.9,45.8M97.8,118.7L101.8,120.9M42.7,112.2L37.0,112.7M42.1,76.9L37.0,72.5M119.8,127.7L123.8,135.9M25.3,93.4L19.8,88.3M126.0,110.6L130.4,111.9M122.2,75.8L127.6,78.3M21.4,57.5L15.5,56.6M110.7,98.8L118.3,98.6M99.7,58.7L102.8,50.7M112.1,45.3L116.8,42.7M106.3,98.6L112.3,98.5M83.5,75.1L85.8,71.5M25.2,116.8L20.9,119.3M65.6,42.1L63.9,34.4M114.3,77.6L119.7,72.2" stroke="#f00" stroke-opacity="0.04" stroke-width="4" fill="none" stroke-linecap="round"/><path d="M164.1,100.1L167.7,99.2M73.3,195.9L76.9,199.5M132.4,56.3L137.0,54.4M128.5,41.9L133.9,39.3M75.3,53.9L74.8,49.8M156.1,87.0L160.1,88.8M188.9,143.5L193.3,144.3M98.6,16.3L98.7,11.4M176.6,157.9L179.3,157.8M54.8,17.8L54.5,11.0M80.7,100.4L82.8,106.0" stroke="#f00" stroke-opacity="0.04" stroke-width="3" fill="none" stroke-linecap="round"/><path d="M117.4,152.1L119.4,154.3M143.6,179.7L147.6,183.6M184.3,184.7L189.2,188.0M115.8,27.7L120.6,25.5M71.5,61.7L69.8,59.0M25.9,53.9L27.3,47.7M184.9,192.8L182.5,195.4M162.9,164.3L165.2,164.7M139.4,85.1L143.5,87.1M75.9,143.5L78.2,148.4M108.7,152.8L112.3,156.8M107.5,107.8L112.0,106.4M188.7,134.6L194.3,135.6M147.1,14.0L150.5,8.6M148.9,120.7L152.2,120.6M60.0,147.6L55.7,152.1M103.0,69.3L101.9,63.0M80.3,152.3L83.3,156.6M75.0,74.1L74.5,68.8M112.7,114.8L116.1,119.9M89.9,130.4L93.9,134.6M107.8,102.1L114.6,103.7M37.5,142.9L32.3,149.4M143.0,40.2L150.9,35.4M81.9,130.5L81.1,138.0M102.2,60.0L104.9,52.2M41.2,67.4L36.8,64.3M44.8,44.7L42.0,40.2M85.8,30.4L87.7,23.5M131.3,95.7L136.0,97.9M77.2,48.4L81.5,41.6M133.8,78.0L141.7,77.8M41.6,108.8L35.3,113.0M147.5,142.8L156.3,146.1M101.6,163.4L108.3,167.1M48.1,70.4L44.3,65.6M127.8,163.0L124.0,171.4M85.2,42.8L86.6,34.4M145.5,77.0L151.1,78.5M102.1,118.4L107.1,118.8M46.9,148.8L46.5,155.3M128.1,103.8L132.2,106.6M97.2,48.4L101.2,44.6M114.6,94.0L120.6,91.4M72.4,69.8L72.3,62.1M73.1,52.5L71.3,44.5M144.3,141.6L147.2,147.3M75.5,49.6L77.7,42.5M49.9,82.7L45.0,82.6M72.3,151.3L71.9,157.2M122.4,125.9L127.0,133.1M22.4,95.9L16.6,92.2M122.2,62.9L124.4,56.8M142.4,129.2L151.8,131.2" stroke="#f00" stroke-opacity="0.04" stroke-width="5" fill="none" stroke-linecap="round"/><path d="M5.4,60.5L-0.3,58.2M192.0,70.1L197.2,68.0M149.6,74.2L156.2,72.9M105.8,127.4L105.5,130.3M17.2,195.1L15.0,198.3M16.6,87.8L10.7,89.6M2.9,14.3L0.2,12.3M181.9,68.8L187.0,66.6M85.4,159.4L83.1,164.9M37.7,48.2L32.3,43.6M49.7,137.9L42.5,142.4M41.4,187.2L36.7,194.7" stroke="#f00" stroke-opacity="0.04" stroke-width="6" fill="none" stroke-linecap="round"/><path d="M190.4,10.5L194.4,13.2M10.6,139.3L6.3,140.5M47.1,90.5L40.5,91.1M159.6,64.3L165.0,64.2M84.2,31.1L83.1,26.8M132.3,69.0L135.5,69.5M191.0,39.5L193.8,34.7M169.2,18.6L173.1,15.3M115.3,107.8L121.5,111.0M76.9,159.5L77.4,164.8M31.5,32.5L30.9,28.2M176.8,61.6L178.8,57.5M147.2,103.0L149.4,104.3M12.1,19.3L9.4,19.1M103.7,160.1L104.8,161.8M154.8,136.4L156.9,138.1M65.8,27.5L65.3,20.8M152.8,139.6L157.5,144.4M49.4,89.5L41.8,86.5M98.8,137.5L100.2,145.3M53.1,107.1L45.9,108.2M119.7,72.4L128.4,71.7M97.8,80.5L100.9,76.5M78.1,146.7L79.5,155.6M36.9,76.2L30.4,74.3M64.8,81.8L62.3,79.0M123.1,107.5L127.3,110.5M75.0,64.0L73.8,58.3M52.8,66.9L47.4,63.0M94.4,130.4L92.1,138.6M53.1,90.6L49.2,87.3M47.6,112.5L41.0,114.4M69.1,67.7L67.2,60.3M84.5,104.9L87.7,107.4M119.8,118.9L127.8,119.0M40.2,76.5L33.9,76.1" stroke="#00f" stroke-opacity="0.04" stroke-width="4" fill="none" stroke-linecap="round"/><path d="M90.9,130.6L91.8,136.9M155.8,10.1L160.8,6.0M100.7,14.2L100.9,11.9M30.2,56.2L24.9,55.1M191.4,82.9L196.0,83.7M74.3,14.8L76.9,10.8M29.2,31.3L25.0,29.0M88.4,193.1L88.9,198.7M94.2,169.4L93.9,178.5M106.9,155.6L112.5,162.1M65.6,146.8L65.9,155.7M84.7,155.8L85.7,165.0" stroke="#00f" stroke-opacity="0.04" stroke-width="6" fill="none" stroke-linecap="round"/><path d="M23.5,42.0L21.2,36.3M133.1,18.5L132.5,14.8M123.7,182.9L125.2,187.0M123.8,156.2L130.1,156.7M140.8,152.9L144.5,155.2M147.0,41.9L153.5,42.7M122.3,60.2L124.3,58.8M124.0,30.7L130.3,29.5M128.3,186.6L132.4,189.0M172.2,144.5L177.9,144.5M183.4,90.0L186.3,92.0M133.9,87.8L136.2,87.6M124.5,40.5L129.9,41.2M126.1,151.6L127.7,152.9M57.1,31.3L57.2,28.6M39.5,147.1L39.2,149.1M107.1,181.8L109.5,184.7M162.2,31.9L163.5,29.4M95.7,103.2L101.7,106.2M38.2,20.4L37.4,16.3M74.0,41.2L74.4,34.8M74.6,138.6L75.2,146.3M142.1,63.0L147.8,61.2M51.3,118.2L43.4,117.7M82.2,119.2L85.7,126.1M92.5,140.6L92.3,148.1M14.0,99.3L7.5,98.3M69.2,144.4L65.2,152.2M90.2,41.2L89.3,32.5M43.0,93.5L36.9,95.1M63.7,96.9L57.0,97.1M80.4,141.8L83.9,149.1M5.3,116.2L0.4,120.5M70.2,42.7L68.9,34.5M117.9,120.0L126.2,123.0M121.1,109.4L124.8,112.4M80.7,173.1L77.6,182.7M73.2,118.8L73.7,126.1M134.4,58.8L140.2,56.3M54.7,163.9L46.5,167.2M48.6,59.1L43.6,54.0M129.9,119.4L136.9,124.1M78.5,127.4L78.5,132.0M101.3,161.7L101.4,171.6M111.0,140.9L114.0,145.5M48.2,49.7L48.9,40.4M61.8,144.7L56.0,151.8" stroke="#00f" stroke-opacity="0.04" stroke-width="5" fill="none" stroke-linecap="round"/><path d="M111.2,40.4L114.1,38.3M123.7,110.0L128.1,111.7M153.3,198.3L156.1,201.6M26.9,128.8L20.5,131.5" stroke="#00f" stroke-opacity="0.04" stroke-width="3" fill="none" stroke-linecap="round"/><path d="M53.2,60.5L51.4,58.9M71.6,39.4L70.4,36.8M72.1,18.6L71.3,16.6M92.0,48.5L93.0,46.2M106.1,62.3L111.7,61.8M121.3,27.4L126.5,24.6M134.0,108.0L137.0,107.9M33.6,185.8L31.1,187.0M79.8,22.6L80.2,17.8M187.0,110.2L190.7,109.5M164.3,158.7L166.9,161.4M112.9,45.7L113.3,43.0M173.5,138.7L175.9,139.8M78.3,2.9L78.2,0.3M131.7,122.5L133.3,126.3M2.4,14.3L-0.8,11.6M17.1,191.3L16.1,193.3M198.7,154.5L200.5,155.4M186.3,100.1L189.6,96.3M153.6,168.7L157.3,173.7M81.9,98.1L85.7,101.1M94.4,117.4L101.8,120.3M117.2,96.2L124.3,98.7M63.3,78.2L60.0,74.4M65.3,99.8L61.6,99.2M99.1,100.8L103.5,102.4M70.3,79.3L68.6,75.6M93.5,130.8L94.9,136.2M55.1,74.5L51.3,67.9M85.1,68.0L82.7,62.2M77.7,95.1L80.1,100.9M79.2,115.2L80.9,121.5M65.6,111.7L65.2,119.5M108.7,100.9L113.6,103.2M95.0,87.5L101.3,85.2M104.7,92.1L109.6,93.9" stroke="#00f" stroke-opacity="0.08" stroke-width="4" fill="none" stroke-linecap="round"/><path d="M13.4,55.6L8.7,54.4M22.8,5.2L22.2,2.8M121.6,19.4L124.2,15.0M149.6,72.9L152.7,72.6M35.8,160.1L33.8,159.2M66.8,126.9L68.4,133.2M24.5,108.9L18.9,107.3M4.1,183.8L3.6,190.8M194.7,35.1L195.4,32.4M190.1,83.0L195.8,84.2M171.2,25.2L175.6,23.4M165.4,128.7L168.0,128.9M12.9,81.4L9.8,80.6M129.2,170.7L129.8,173.5M190.8,74.8L192.9,75.2M139.8,1.9L141.5,0.9M153.1,158.2L158.1,162.0M106.7,55.4L103.2,51.3M93.7,170.1L94.0,175.9M45.3,186.7L42.6,192.4M47.4,47.6L45.7,45.9M192.4,5.5L194.4,4.3M101.5,104.6L105.4,107.8M57.0,102.6L50.2,100.8M87.7,59.3L93.3,53.1M64.2,109.6L61.5,115.8M95.2,89.3L101.5,84.7M69.4,127.0L68.1,131.2M106.1,88.7L112.7,87.6M85.2,120.9L90.0,127.3M75.4,123.7L78.3,127.7M100.8,120.2L101.0,126.4M72.8,68.3L73.5,62.7M66.3,67.3L64.9,63.6" stroke="#f00" stroke-opacity="0.08" stroke-width="5" fill="none" stroke-linecap="round"/><path d="M102.1,176.5L102.3,180.0M49.4,32.8L47.1,28.5M75.7,143.8L81.0,147.6M38.2,42.6L34.1,39.3M172.7,90.1L178.1,90.8M51.0,181.0L46.1,185.5M94.5,59.6L94.7,56.7M61.1,98.3L57.6,98.7M17.3,47.4L13.2,42.6M28.8,59.4L24.1,60.7M19.6,172.9L13.8,175.2M136.6,101.2L140.8,104.8M32.9,56.2L28.0,52.4M68.0,89.2L63.5,89.8M105.4,176.4L104.8,181.2M176.1,72.4L183.1,72.6M109.7,105.0L112.7,107.7M197.6,184.3L198.8,187.0M81.1,113.1L79.0,119.4M73.2,63.9L72.3,58.1M106.0,119.9L110.0,123.9M118.9,116.1L125.8,115.9M101.6,91.8L107.2,90.0M66.3,66.0L66.5,60.7M65.9,111.2L62.0,115.3M91.8,61.5L91.0,56.8M61.2,77.5L57.8,74.4M113.2,103.4L120.3,106.0M91.6,92.2L98.5,93.7M101.9,73.9L105.4,69.6M111.0,72.9L116.3,71.2M76.3,68.0L73.0,60.7M99.3,52.5L101.4,46.7" stroke="#00f" stroke-opacity="0.08" stroke-width="5" fill="none" stroke-linecap="round"/><path d="M8.7,137.3L6.7,143.5M100.2,185.1L101.4,189.8M31.1,42.8L28.0,41.1M162.8,109.6L166.8,109.1M138.9,19.8L140.0,15.0M32.5,102.3L28.9,104.8M164.8,74.6L166.9,74.3M79.9,102.7L82.8,105.0M170.5,130.4L171.6,132.7M132.6,188.6L136.7,190.2M45.5,196.2L40.6,200.1M131.0,30.6L135.1,26.4M38.4,161.0L34.9,163.7M25.0,59.0L22.8,55.7M98.1,7.2L98.0,4.7M54.8,97.9L49.6,101.7M127.8,73.5L131.9,69.3M193.4,2.4L193.5,-0.5M132.2,57.8L134.2,55.7" stroke="#00f" stroke-opacity="0.08" stroke-width="6" fill="none" stroke-linecap="round"/><path d="M89.2,65.7L89.1,61.7M162.6,91.9L166.6,91.0M60.5,65.6L55.2,63.7M142.1,70.2L141.7,67.8M56.6,111.8L50.8,113.5M59.6,166.2L60.7,168.0M8.2,146.0L5.2,148.8M165.0,106.9L170.4,108.6M76.5,119.0L70.8,121.4M137.1,97.6L142.5,99.1M141.1,49.1L140.8,46.5M178.5,5.1L185.2,5.9M185.7,67.2L188.9,65.1M12.2,195.0L10.9,201.9M34.8,56.3L29.1,54.5M151.9,54.3L153.4,52.1M75.2,117.5L72.9,120.7" stroke="#f00" stroke-opacity="0.08" stroke-width="3" fill="none" stroke-linecap="round"/><path d="M11.2,175.2L6.4,177.9M21.9,3.2L20.3,-1.9M160.5,24.8L166.8,22.3M102.6,86.8L108.0,82.9M166.7,70.6L168.3,69.0M46.6,176.3L42.0,181.2M107.3,133.3L110.3,137.4M129.3,174.9L133.5,177.8M91.9,180.9L90.5,183.2M118.1,193.6L119.5,198.4M178.3,153.3L179.8,154.6M183.8,21.8L186.1,24.7M87.5,57.9L90.2,52.4M120.3,87.7L121.9,84.9M120.8,67.4L122.9,66.4M48.0,178.2L49.9,182.0M110.4,29.4L116.1,25.7M28.4,51.7L26.8,48.1M103.3,171.1L105.1,173.3M148.0,174.7L154.0,176.3M173.9,164.4L178.0,166.5M81.3,113.8L83.9,117.4M47.4,66.8L43.0,66.6M67.9,189.9L68.5,192.1M12.1,90.2L7.2,86.7M181.9,136.8L184.6,138.7M110.1,23.4L109.2,17.1M174.0,52.8L176.4,47.1M141.2,12.9L142.3,10.4M95.5,169.5L97.7,175.5M84.8,184.4L86.4,189.4M129.6,49.1L132.1,46.8M118.8,41.9L123.2,37.3M13.6,38.3L9.3,35.3M142.0,160.9L144.2,166.5M111.3,5.9L112.4,2.3M68.5,162.8L71.1,164.3M108.3,176.1L109.2,178.2M20.0,155.9L19.2,161.0M103.7,40.4L103.8,35.2M66.0,111.8L62.4,114.8M107.1,106.6L112.5,108.7M61.7,82.6L54.4,79.8M86.5,95.6L89.8,96.3M49.1,106.1L44.6,111.4M96.9,88.1L100.9,83.8M87.7,86.5L91.2,81.1M51.8,91.5L46.6,88.5M62.8,72.9L61.6,68.6M93.7,116.6L98.6,120.6M96.8,104.8L101.4,106.2M90.5,54.2L91.8,47.9M95.1,87.8L99.6,82.7M71.2,105.2L66.8,107.2M94.9,126.4L96.6,132.0" stroke="#f00" stroke-opacity="0.08" stroke-width="4" fill="none" stroke-linecap="round"/><path d="M192.7,54.5L196.4,52.6M179.3,48.6L183.5,46.0M170.9,49.6L174.7,48.5M63.9,146.5L58.9,148.5M127.0,6.0L130.7,4.3M55.6,160.4L56.4,163.2M74.7,166.2L72.7,170.3M52.3,59.0L48.0,60.8M186.2,64.2L189.6,63.7M38.7,69.9L32.4,67.4M51.3,136.4L48.8,137.5M195.4,165.7L197.5,165.4M5.0,54.9L2.5,54.9M165.1,194.4L168.3,191.6M51.9,27.9L51.5,25.5M16.4,59.6L11.4,62.8" stroke="#f00" stroke-opacity="0.08" stroke-width="6" fill="none" stroke-linecap="round"/><path d="M126.0,136.0L132.4,136.8M36.3,148.4L31.6,152.5M30.3,187.3L25.6,190.3M156.2,58.6L160.2,59.7M69.7,113.2L68.1,118.8M191.0,178.6L192.0,182.9M153.2,74.2L155.1,72.3M31.6,84.8L25.8,85.2M96.7,89.4L101.0,88.1M47.4,72.4L46.4,67.3M182.4,32.4L185.3,29.3M173.8,43.9L178.6,39.7M77.5,112.7L78.7,118.5M149.7,171.8L154.9,172.8" stroke="#00f" stroke-opacity="0.08" stroke-width="3" fill="none" stroke-linecap="round"/><path d="M22.2,24.0L20.7,17.8M73.3,50.8L73.8,46.5M178.1,43.5L180.5,38.0M106.3,20.8L104.6,14.2M167.7,181.8L171.8,185.9M34.6,44.6L28.4,43.3M82.5,157.2L81.9,164.1M6.2,140.6L3.2,146.8M68.2,59.2L71.7,53.3M36.9,54.8L34.7,48.9M129.7,116.2L133.9,118.2M15.2,162.9L10.6,167.8M31.0,178.6L27.7,182.8M145.4,20.0L148.8,15.7M64.2,110.5L61.3,116.4M101.4,101.5L105.1,103.5M102.2,78.6L109.8,77.4" stroke="#00f" stroke-opacity="0.12" stroke-width="5" fill="none" stroke-linecap="round"/><path d="M81.7,100.2L80.9,106.4M46.2,137.1L44.5,138.5M135.9,95.5L141.0,91.6M155.2,191.6L155.5,195.2M132.5,89.3L137.6,87.2M80.2,92.1L85.9,90.5M66.5,159.1L65.0,161.0M108.0,26.2L111.1,21.3M26.3,183.9L26.6,186.8M43.2,28.4L43.3,24.6M110.0,81.4L113.3,79.3M78.7,186.5L80.1,190.2M53.8,163.0L51.3,165.3M130.6,78.1L136.1,76.1M183.0,122.2L188.9,121.8M55.0,82.5L51.6,81.1M59.1,80.4L51.7,78.9M92.3,81.2L97.2,78.5M73.5,111.5L69.5,117.5" stroke="#f00" stroke-opacity="0.12" stroke-width="5" fill="none" stroke-linecap="round"/><path d="M189.3,34.8L193.2,33.3M154.0,62.3L156.6,62.5M47.6,164.8L45.2,169.3M65.0,60.6L64.5,58.3" stroke="#00f" stroke-opacity="0.12" stroke-width="6" fill="none" stroke-linecap="round"/><path d="M187.9,154.0L193.3,156.6M168.8,127.4L172.8,129.6M187.9,150.3L192.6,153.9M187.2,164.5L189.4,164.6M130.1,166.4L131.0,171.8M62.6,84.7L57.1,81.1M152.5,137.3L155.0,142.1M126.2,114.1L131.1,119.0M108.1,63.4L110.2,57.5M82.7,70.4L84.6,67.0M82.1,100.5L84.9,102.5M85.5,110.3L88.4,115.1M80.6,116.4L80.2,121.9M86.7,101.1L92.9,104.7M69.0,107.9L68.8,112.8M85.7,84.3L89.1,77.5" stroke="#00f" stroke-opacity="0.12" stroke-width="4" fill="none" stroke-linecap="round"/><path d="M166.5,132.3L172.4,131.3M76.8,166.6L81.1,171.5M49.9,189.0L45.4,191.7M190.5,85.6L192.4,91.9M84.6,73.9L88.4,69.2M19.8,107.2L18.8,110.6M25.4,150.2L20.2,152.2M47.4,106.6L43.5,112.3M143.4,143.6L146.4,142.5M68.0,94.2L62.1,90.4M81.1,80.5L78.4,75.9M64.0,74.0L58.2,71.6M95.1,105.0L97.7,110.5M66.0,98.9L60.4,101.8M80.9,72.9L80.8,68.1M107.6,103.8L111.4,104.4M83.4,75.9L82.9,71.6" stroke="#f00" stroke-opacity="0.12" stroke-width="4" fill="none" stroke-linecap="round"/><path d="M20.2,143.4L16.5,148.6M73.6,140.3L74.3,143.1M55.3,154.9L52.6,158.4M25.2,85.4L18.9,86.0M33.3,152.7L29.9,152.4M109.0,110.1L112.2,112.9M49.8,41.0L45.4,37.8" stroke="#f00" stroke-opacity="0.12" stroke-width="3" fill="none" stroke-linecap="round"/><path d="M90.6,96.2L96.1,98.7M79.9,55.9L85.9,54.4M144.9,31.0L147.7,27.1" stroke="#f00" stroke-opacity="0.12" stroke-width="6" fill="none" stroke-linecap="round"/><path d="M83.7,81.1L89.2,78.1M69.7,96.3L64.0,94.3" stroke="#f00" stroke-opacity="0.16" stroke-width="4" fill="none" stroke-linecap="round"/><path d="M75.4,98.1L70.4,100.1" stroke="#00f" stroke-opacity="0.16" stroke-width="4" fill="none" stroke-linecap="round"/><path d="M93.2,94.5L98.5,96.8" stroke="#f00" stroke-opacity="0.16" stroke-width="5" fill="none" stroke-linecap="round"/><path d="M68.4,96.5L65.7,94.6M87.3,92.4L92.5,91.7" stroke="#f00" stroke-opacity="0.16" stroke-width="3" fill="none" stroke-linecap="round"/><path d="M61.8,21.7L85.3,45.2" stroke="#00f" stroke-opacity="0.20" stroke-width="4" fill="none" stroke-linecap="round"/><path d="M51.2,40.9L70.4,60.1M21.3,60.1L32.0,75.1" stroke="#f00" stroke-opacity="0.20" stroke-width="4" fill="none" stroke-linecap="round"/><path d="M68.2,45.2L78.9,62.3M108.7,117.7L115.1,130.5M123.7,128.4L130.1,143.3" stroke="#f00" stroke-opacity="0.24" stroke-width="4" fill="none" stroke-linecap="round"/><path d="M57.6,55.9L76.8,77.2M25.6,55.9L38.4,70.8" stroke="#00f" stroke-opacity="0.24" stroke-width="4" fill="none" stroke-linecap="round"/><path d="M53.3,94.2L55.4,109.2" stroke="#f00" stroke-opacity="0.32" stroke-width="4" fill="none" stroke-linecap="round"/><path d="M78.9,83.6L83.2,96.4M76.8,119.8L80.0,128.4M95.9,104.9L100.2,111.3" stroke="#00f" stroke-opacity="0.32" stroke-width="4" fill="none" stroke-linecap="round"/><path d="M57.6,100.6L59.7,109.2" stroke="#00f" stroke-opacity="0.40" stroke-width="4" fill="none" stroke-linecap="round"/><path d="M87.4,94.2L88.5,100.6M115.1,99.6L119.4,102.8" stroke="#f00" stroke-opacity="0.48" stroke-width="4" fill="none" stroke-linecap="round"/><path d="M109.8,103.8L113.0,106.0" stroke="#00f" stroke-opacity="0.48" stroke-width="4" fill="none" stroke-linecap="round"/><path d="M69.3,77.2L74.6,81.4M64.0,94.2L66.1,96.4M74.6,100.6L78.9,101.7" stroke="#f00" stroke-opacity="0.56" stroke-width="4" fill="none" stroke-linecap="round"/><path d="M55.4,90.0L58.6,92.1M69.3,93.2L71.4,94.2" stroke="#00f" stroke-opacity="0.56" stroke-width="4" fill="none" stroke-linecap="round"/><path d="M71.4,87.8L74.6,90.0" stroke="#f00" stroke-opacity="0.64" stroke-width="4" fill="none" stroke-linecap="round"/><path d="M77.8,106.0L83.2,107.0" stroke="#00f" stroke-opacity="0.64" stroke-width="4" fill="none" stroke-linecap="round"/></g></g>
<rect x="955.4" y="1175.3" width="200.3" height="200.3" fill="none" stroke="#444" stroke-width="1.1" />
<text x="779.1" y="1171.3" font-size="10.95" fill="#262626" textLength="78.0" lengthAdjust="spacingAndGlyphs" >3h old IR Data</text>
<text x="995.5" y="1171.3" font-size="10.95" fill="#262626" textLength="120.2" lengthAdjust="spacingAndGlyphs" >SHAP Value=-0.24 kts</text>
<line x1="715.0" y1="1199.9" x2="718.0" y2="1199.9" stroke="#444" stroke-width="0.8" />
<line x1="952.4" y1="1199.9" x2="955.4" y2="1199.9" stroke="#444" stroke-width="0.8" />
<text x="701.3" y="1203.0" font-size="8.3" fill="#262626" textLength="10.6" lengthAdjust="spacingAndGlyphs" >26</text>
<line x1="715.0" y1="1231.5" x2="718.0" y2="1231.5" stroke="#444" stroke-width="0.8" />
<line x1="952.4" y1="1231.5" x2="955.4" y2="1231.5" stroke="#444" stroke-width="0.8" />
<text x="701.3" y="1234.6" font-size="8.3" fill="#262626" textLength="10.6" lengthAdjust="spacingAndGlyphs" >25</text>
<line x1="715.0" y1="1263.0" x2="718.0" y2="1263.0" stroke="#444" stroke-width="0.8" />
<line x1="952.4" y1="1263.0" x2="955.4" y2="1263.0" stroke="#444" stroke-width="0.8" />
<text x="701.3" y="1266.1" font-size="8.3" fill="#262626" textLength="10.6" lengthAdjust="spacingAndGlyphs" >24</text>
<line x1="715.0" y1="1294.4" x2="718.0" y2="1294.4" stroke="#444" stroke-width="0.8" />
<line x1="952.4" y1="1294.4" x2="955.4" y2="1294.4" stroke="#444" stroke-width="0.8" />
<text x="701.3" y="1297.5" font-size="8.3" fill="#262626" textLength="10.6" lengthAdjust="spacingAndGlyphs" >23</text>
<line x1="715.0" y1="1325.6" x2="718.0" y2="1325.6" stroke="#444" stroke-width="0.8" />
<line x1="952.4" y1="1325.6" x2="955.4" y2="1325.6" stroke="#444" stroke-width="0.8" />
<text x="701.3" y="1328.7" font-size="8.3" fill="#262626" textLength="10.6" lengthAdjust="spacingAndGlyphs" >22</text>
<line x1="715.0" y1="1356.9" x2="718.0" y2="1356.9" stroke="#444" stroke-width="0.8" />
<line x1="952.4" y1="1356.9" x2="955.4" y2="1356.9" stroke="#444" stroke-width="0.8" />
<text x="701.3" y="1360.0" font-size="8.3" fill="#262626" textLength="10.6" lengthAdjust="spacingAndGlyphs" >21</text>
<line x1="734.3" y1="1375.6" x2="734.3" y2="1378.6" stroke="#444" stroke-width="0.8" />
<line x1="971.7" y1="1375.6" x2="971.7" y2="1378.6" stroke="#444" stroke-width="0.8" />
<text x="726.4" y="1387.9" font-size="8.3" fill="#262626" textLength="15.8" lengthAdjust="spacingAndGlyphs" >122</text>
<line x1="763.3" y1="1375.6" x2="763.3" y2="1378.6" stroke="#444" stroke-width="0.8" />
<line x1="1000.7" y1="1375.6" x2="1000.7" y2="1378.6" stroke="#444" stroke-width="0.8" />
<text x="755.4" y="1387.9" font-size="8.3" fill="#262626" textLength="15.8" lengthAdjust="spacingAndGlyphs" >123</text>
<line x1="792.0" y1="1375.6" x2="792.0" y2="1378.6" stroke="#444" stroke-width="0.8" />
<line x1="1029.4" y1="1375.6" x2="1029.4" y2="1378.6" stroke="#444" stroke-width="0.8" />
<text x="784.1" y="1387.9" font-size="8.3" fill="#262626" textLength="15.8" lengthAdjust="spacingAndGlyphs" >124</text>
<line x1="820.8" y1="1375.6" x2="820.8" y2="1378.6" stroke="#444" stroke-width="0.8" />
<line x1="1058.2" y1="1375.6" x2="1058.2" y2="1378.6" stroke="#444" stroke-width="0.8" />
<text x="812.9" y="1387.9" font-size="8.3" fill="#262626" textLength="15.8" lengthAdjust="spacingAndGlyphs" >125</text>
<line x1="849.6" y1="1375.6" x2="849.6" y2="1378.6" stroke="#444" stroke-width="0.8" />
<line x1="1087.0" y1="1375.6" x2="1087.0" y2="1378.6" stroke="#444" stroke-width="0.8" />
<text x="841.7" y="1387.9" font-size="8.3" fill="#262626" textLength="15.8" lengthAdjust="spacingAndGlyphs" >126</text>
<line x1="878.3" y1="1375.6" x2="878.3" y2="1378.6" stroke="#444" stroke-width="0.8" />
<line x1="1115.7" y1="1375.6" x2="1115.7" y2="1378.6" stroke="#444" stroke-width="0.8" />
<text x="870.4" y="1387.9" font-size="8.3" fill="#262626" textLength="15.8" lengthAdjust="spacingAndGlyphs" >127</text>
<line x1="907.1" y1="1375.6" x2="907.1" y2="1378.6" stroke="#444" stroke-width="0.8" />
<line x1="1144.5" y1="1375.6" x2="1144.5" y2="1378.6" stroke="#444" stroke-width="0.8" />
<text x="899.2" y="1387.9" font-size="8.3" fill="#262626" textLength="15.8" lengthAdjust="spacingAndGlyphs" >128</text>
<g transform="translate(718.0,1412.6) scale(1.0015)" clip-path="url(#cp)"><g filter="url(#bl)"><g transform="scale(0.5)"><rect width="400" height="400" fill="#7c7c7c"/><path d="M0,0l400,0 0,400-400,0zM195,10l-3,7-3,2-2,-1-2,-3-2,-1-3,0-6,4-5,6-1,3 3,8 6,5 6,0 3,-3 3,-1 9,6 4,-1 3,-4 3,-7 3,0 9,11 3,0 6,-3 6,-8 3,-6 0,-3-12,-7z" fill="#8c8c8c"/><path d="M0,0l32,0 1,6 3,4 3,1 3,-1 3,-3 3,-1 9,3 3,-1 9,-7 7,-1 1,9 5,3 11,5 3,0 31,-17 68,0-6,2-12,8-16,14-8,9-11,3-3,3 2,2 6,0 6,-1 3,-3 3,-1 3,1 6,4 6,3 9,2 6,-3 3,1 7,4 0,3-25,34-1,5 1,10 3,3 6,3 9,0 19,-1 6,1 15,10 3,5 6,2 11,-9 10,-11 7,-16-14,-3-11,-1-6,-2-2,0 0,3-2,6-5,6-3,1-8,-4-1,-3-1,-3 4,-5 3,-2 3,-2 6,0 1,-3-2,-9 3,-24 7,-12 9,-9 9,-4 9,-1 3,0 4,5 1,3 0,6-2,6-11,18-1,1-3,0-3,-2-3,0-8,4-1,3 10,3 23,1 3,-1 3,-5 9,8 3,0 1,-6 0,-6-6,-24 2,-4 4,-5-7,-11-11,-10 122,0 0,400-400,0zM93,174l-3,9 3,5 6,-2 4,-3 0,-3-4,-4-3,-3zM123,41l-3,3-1,4 1,15 8,9 2,12 2,4 6,2 6,-4 5,-5 2,-3 0,-6-8,-12-6,-15 0,-3-8,-3zM183,156l-2,0-2,3 4,4 4,2 10,0 0,-3-1,-3-4,-4zM195,128l-3,2 0,11 0,5 3,1 7,-2 5,-7-1,-3-2,-3-4,-3zM223,134l-6,4-1,3 0,3 7,13 6,0 4,2 0,3-5,3 2,3 5,0 6,-3-1,-3-2,-3 3,-4 3,-2 3,1 3,3 3,-1 17,-12-2,-3-9,3-3,0-6,-3-15,0-3,-1-3,-5-3,-1zM301,231l-6,7-1,3 2,3-1,3-9,7-3,-2-2,-11-10,-7-9,1-4,3-1,3 1,3 3,3 13,8 9,12 3,2 10,-1 4,-3 4,-8 6,-1 6,-4 3,0 3,-5 0,-3-2,-3-10,-9-3,-2zM355,54l3,4 3,0 1,-1-1,-4zM99,334l0,12 3,4 2,-1 1,-12-3,-3zM120,128l-3,2-3,5-3,6-1,6 8,6 2,5 4,-5-4,-12 3,-4 9,-2-1,-3-5,-3zM138,98l-1,1-1,3 1,3 7,0 0,-3-3,-3zM229,276l-2,4-1,6 3,5 3,2 1,-1 0,-3 0,-9-1,-5zM241,299l-3,2-3,12 3,8 12,-3 3,-1 9,3 2,-1-1,-3-5,-3-13,-6-1,-6zM261,0l10,0-3,2-3,0zM209,63l2,-1 3,-1 2,2 2,3-1,4-3,1-4,-2-2,-3zM189,90l4,0 4,3 0,3-2,3-6,0-3,-2 0,-4zM237,105l4,2 1,4-1,4-6,1-2,-2 0,-6 2,-2z" fill="#9e9e9e"/><path d="M0,3l0,-3 2,6-2,3zM140,3l3,-3 21,0 6,3 0,3-5,7-6,4-9,3-10,10-8,4-12,2-5,3-2,6 2,12-2,9-5,3-6,-1-3,-2-6,-8-3,-1-9,5-15,-2-4,3 3,3 13,8 3,4 2,6-1,6-4,4-12,1 0,1 3,6 2,18-2,4-7,5 0,3 2,12 2,2 15,6 6,4 1,3 1,6-1,6-5,6-9,6-1,9 2,3 6,4 6,-2 6,2 21,0 5,-1 7,-2 9,1 4,-2 11,-14 6,-3 3,0 3,2 3,-6 3,-2 1,5-5,6 4,9-3,6 0,4 6,2 6,-1 12,-1 16,4 12,0 2,2 4,5 6,3 3,4 1,12 11,5 9,10 15,9 7,6 2,6-2,9 5,0 9,-3 6,0 6,5 9,3 6,6 3,2 1,-7 2,-2 5,-1-2,-9 3,-15 2,-6 6,-6-2,-3-12,-6-9,-10-3,-2-6,0-12,5-6,1-27,-2-6,-4-3,-7-9,-8-6,-3-7,0-4,-3-1,-7 2,-3 7,4 3,0 6,-3 3,1 1,1 0,10 5,3 6,3 7,-3 11,-13 4,-12-1,-4-3,0-6,6-6,2-3,0-9,-3-9,5-3,-1-3,-2-2,-3 0,-3 4,-3 7,-2 3,-2 6,-9 6,-3 3,-1 6,1 3,2 12,12 3,2 6,2 1,-2-2,-9 1,-6 3,-4 12,-8 1,-6 5,-3 1,-3-1,-1-3,0-5,7-4,2-6,0-5,-2-3,-3-2,-3 5,-18-1,-3-3,-3-3,-1-6,18-9,3-6,6-3,1-3,-1-3,-2-4,-6 0,-3 1,-3 3,-5 6,-4 11,-12 1,-12 3,-6-3,-3-12,0-12,-4-8,-5-2,-6 0,-3 4,-3 3,0 15,2 12,1 21,4 9,0 1,-1 3,-6 8,-8 6,1 15,7 2,3 0,3-8,15-6,0-12,-5-11,5-2,3 7,17 4,7 2,16 3,-7 0,-3-2,-3 0,-6 7,-9 3,-9 4,-5 3,-1 6,3 9,-4 6,0 4,1 5,6 8,-15 4,-3 5,3 4,7 3,1 6,-1 6,-4 6,-1 0,156-6,4-9,-2-9,6-6,3-3,2-3,7 3,6 6,3 2,3-1,6 2,1 18,2 6,3 0,123-400,0 0,-360 6,9 3,2 3,0 6,-6 6,-3-2,-3-9,-6-2,-3-4,-9 0,-6 5,-5 6,-3 3,0 6,2 6,6 3,2 6,0 6,-2 4,6-1,3-4,6-9,6-2,3 3,3 15,6 3,-6 0,-6 2,-3 13,-15 6,-1 15,7 6,0 6,-3 15,-11 14,-4zM96,331l-1,9 1,6 9,13 2,-4 0,-12 5,-9-10,-4-3,-1zM229,262l-6,2-3,2-9,11-1,3 1,9 4,3 8,1 6,5 2,3 1,3-6,14-3,2-3,-1-3,-2-12,-16-10,-7-3,0-9,5-9,1-6,4-2,9-6,12-4,3-1,3 1,3 3,3 10,3 6,9 2,9 3,-1 9,-9 13,-8 12,-1 12,3 6,0 8,-5 2,-3 2,-6 3,-3 6,-1 9,4 6,-3 3,-3 0,-6-3,-4-9,-3-5,-5 2,-4 9,-4 0,-5-3,-1-9,4-12,-2-3,-6-3,-20-3,-4zM39,66l-1,15 4,2 6,0 2,-2 0,-6-5,-5-1,-4-2,-1zM300,3l4,-3 3,0 27,3 3,-3 63,0 0,50-6,-1-9,-6-3,0-6,4-3,0-3,-2-3,0-9,2-3,-1-6,-5-12,-3-6,-4-12,-4-9,11-3,2-3,-1-7,-6-2,-3 0,-3 3,-2 12,-2 3,-2-1,-3-9,-6-4,-6 0,-3zM254,24l11,-1 3,-2 4,3 0,6-6,15-4,6-3,0-3,-2-3,-1-12,5-3,-2-2,-3 1,-6 10,-13zM147,48l3,0 6,2 6,-2 6,1 9,2 4,3 2,6-2,6-2,6-8,12-1,3 0,12 2,6 5,4 15,3 16,-2 6,0 3,1 10,9 2,3 0,4-3,2-12,1-16,-8-6,1-4,3-2,3 1,12-1,5-3,4-3,1-12,-2-12,-5-17,0 0,-3 4,-3 2,-6-1,-6 2,-9 7,-6 1,-3-5,-12-1,-3 8,-15 0,-6-6,-15-3,-3-2,-3zM391,54l3,-1 6,5 0,13-6,0-5,-5-1,-6zM91,84l2,-2 3,0 3,3 5,8 4,1 9,-3 3,-6 3,0 2,5 0,9-4,12-4,6-9,3-9,2-6,-1-6,-4-1,-3-1,-6 6,-12-1,-6zM129,120l3,-2 6,0 4,2 1,3-5,3-6,1-3,-4zM206,153l2,0 3,1 0,6-4,-1-2,-3zM199,183l6,-2 5,2-2,3-6,5-4,-2 0,-3zM189,319l3,-1 2,1-2,3-3,1-2,-1z" fill="#afafaf"/><path d="M303,3l4,-2 3,0 6,2 12,1 6,2 3,-1 2,-2 1,-3 60,0 0,25-6,3-9,3-15,10-6,3-6,1-3,-1-6,-6-12,-3-9,-6-6,-7-9,-2-6,-4-5,-4-1,-3 0,-3zM16,15l5,-1 3,1 9,9 6,1 2,2-14,6-6,0-5,-3-3,-6 0,-6zM126,15l6,0 3,1 3,2 0,3-1,3-3,3-7,3-10,-2-1,-4 1,-3 3,-3zM71,24l4,-2 9,1 6,4 5,6 1,3 1,6-2,6-5,6-9,5-21,-3-2,-2-1,-3 4,-12zM253,30l6,-3 3,1 3,2 1,3 0,6-3,9-1,1-3,0-3,-4-3,-1-7,4-5,0-2,-3 1,-3zM100,51l2,-3 3,0 3,4 2,5-2,5-3,1-4,-3-1,-3zM162,57l3,-1 6,1 4,3 2,6-3,10-3,3-8,5 2,6-1,6-2,4-3,0-3,-2-1,-5 1,-4 6,-5 0,-3-2,-6-1,-12 0,-3zM13,60l5,-1 3,0 6,2 3,2 1,6-1,3-4,6 1,6 6,5 18,4 12,12 1,6 0,6-2,3-5,3-2,3 3,9 0,9-6,9 2,1 12,-3 6,0 6,3 5,5 2,6-1,6-6,6-7,3-4,6-1,3 12,14 3,1 18,-3 15,0 12,-2 12,0 12,-14 3,-2 3,0 3,3 2,3-1,13 2,4 3,3 9,2 18,0 6,3 3,3-2,3-5,3 1,2 22,0 3,2 4,8 1,6 0,12-1,3-7,7-9,13-3,11-3,3-7,-2-6,0-8,7-10,3-6,5-2,7-4,5-3,2-12,1-5,4 17,17 9,6 6,5 2,5-1,6 2,11 2,-5 11,-12 18,-12 9,-1 15,5 6,0 12,-4 12,-6 3,-6 11,-9 1,-3-3,-7-3,-4-7,-1-3,-3 4,-3 6,0 0,-12 1,-3 5,-5 15,-4 9,5 9,3 12,11 6,-3 12,2 21,-10 9,1 3,-2 6,-5 3,-2 6,0 9,2 6,4 0,117-227,0-2,-6 5,-9-2,-8-3,6-1,8-2,1-2,8-166,0 0,-336 6,0zM99,327l-5,4-2,12 7,12 1,9 5,3 3,-1 0,-20 2,-6 4,-4 9,-5-4,-3-11,1zM240,66l4,-2 3,0 9,2 15,1 27,5 6,2 1,1-1,3-6,5-9,4 8,12 1,4-3,2-14,-9-2,-3 3,-6-7,-3-16,-1-9,-3-6,-3-5,-5 0,-3zM315,66l4,-2 6,1 3,4 0,3-3,4-3,0-5,-1-2,-3-1,-3zM63,78l3,-2 6,1 6,4 0,4-3,3-9,-3-3,-4zM367,84l3,0 2,6 1,6-3,2-3,-2-3,-5zM342,87l4,-1 3,2 4,8-1,4-6,5 0,3 14,9 4,1 4,-1 3,-3 5,-13 2,-2 7,-1 9,0 6,-4 0,67-2,1 2,10 0,40-3,5-3,12-3,1-9,2-6,4-6,2-6,7-2,5-1,6 2,6 3,6 0,3-3,6-5,4-18,0-6,-2-5,-5-2,-6 3,-15 4,-5 6,-4 1,-3-16,-9-3,-6-6,-7-9,-2-6,1-6,4-3,1-12,-2-15,3-6,-1-2,-3 2,-5 9,-5 8,-8 10,-17 9,-1 6,3 1,-1-6,-18-1,-3 2,-3 13,-9 9,-12 1,-6-1,-27 6,-1 6,2 5,-4 0,-12 2,-3zM97,99l2,-2 3,0 12,4 2,1 0,3-2,6-3,3-7,3-6,0-5,-2-2,-4 0,-3zM173,117l4,-2 10,2 0,3-5,3-2,3 0,6 3,9 0,3-3,2-3,1-9,-3-9,-5-7,-1-1,-3 1,-3 1,-6 3,-4 6,0 6,2zM206,117l2,-1 3,-1 3,1 7,7-4,1-4,-1-6,-3zM252,126l4,-3 6,1 2,2 1,3-1,6-2,3-3,2-3,-2-5,-6 0,-3zM258,162l4,0 6,1 5,5 1,3-1,3-4,6-7,5-3,0-6,-2-4,-3-2,-3 0,-3 3,-6 6,-5zM240,250l4,-2 3,1 6,2 13,8 6,6 0,3-2,6-8,8-6,5-12,0-3,-4-3,-18 0,-12zM215,301l5,-3 3,1 2,2 0,3-2,2-3,0-4,-2z" fill="#c3c3c3"/><path d="M306,3l4,-1 27,6 5,-5 1,-3 57,0 0,21-6,4-13,5-14,10-6,3-3,0-9,-7-18,-8-3,-2-2,-5-10,-1-9,-5-5,-6 0,-3zM73,27l5,-2 6,2 7,9 1,6-1,6-1,3-6,4-3,1-15,-1-3,-1-3,-3 3,-9 5,-6zM256,33l3,-3 3,1 1,2 1,9-2,5-3,0-5,-8 0,-3zM165,66l3,-2 3,0 2,2 1,3-3,6-3,1-3,-1-1,-6zM243,66l4,-1 9,2 18,1 24,5 3,2 1,3-7,5-9,2-27,-3-9,-3-7,-4-2,-3 0,-3zM14,69l1,-1 3,1-1,6 2,6 3,6 10,9-1,9 1,6 1,1 6,-1 5,0 3,15 7,9 0,3-1,3-7,9 0,3 2,8 2,1 1,3 2,-3 4,-3 12,-4 6,2 5,5 0,6-1,3-4,4-11,5-4,9 1,3 9,6 5,9 3,2 21,-5 9,0 18,-3 12,1 3,-2 9,-11 3,-1 3,1 2,13 8,15-4,6 0,3 2,3 4,0 2,0 0,-9 4,-2 3,2 1,6 3,3 5,3 3,0 22,-3 5,3 2,3 1,6-1,3-7,9 2,6-1,3-10,21-4,0-9,-2-6,2-3,2-4,7-11,7-6,10-3,3-9,0-9,5-9,1-2,1-4,5-2,1-16,0-10,3-3,3-1,6-4,7-3,1-6,1 0,6 3,3 6,-6 3,1 3,5-9,17 0,7 6,-4 3,0 6,2 3,6 3,12 3,-3 1,-4 0,-12 2,-7-1,-23 4,-7 15,-7 3,0 6,7 3,1 6,-2 8,5 10,5 5,4 1,3-1,6 1,15-5,15-4,7-2,2-69,0-13,-7-16,7-62,0 0,-322 8,-3zM51,166l-1,5 1,3 3,2 3,-2 0,-3-1,-3-2,-2zM341,93l2,-2 3,1 2,4-1,3-4,1-1,-1-2,-3zM383,105l5,0 6,1 6,-3 0,54-12,-6-1,2 7,9 6,17 0,30-6,8-5,9-16,8-3,1-8,9-3,6-1,9 1,9-1,5-6,0-12,6-3,-1-6,-4-2,-3 0,-3 2,-15 3,-4 9,-5 2,-3-2,-5-12,-4-3,-3-1,-6-6,-9-2,-12-17,-22-2,-6 0,-9 16,-15 3,-4 4,-11 2,-9 0,-6 2,-3 7,0 3,-5 3,-1 6,2 15,7 6,0 5,-3 7,-9zM53,108l4,0 2,3-2,4-4,-1-3,-3zM254,126l2,-1 3,0 4,4 1,3-2,5-3,1-5,-3-2,-6zM254,165l5,-2 9,1 4,4 0,6-7,8-6,2-6,-3-4,-4 0,-3zM291,189l4,-2 3,0 5,5 1,6-2,7-5,6-2,4-3,2-12,-6 1,-3zM245,259l2,-3 3,0 9,3 6,6 1,3-1,3-6,6-12,3-3,-3-1,-6 0,-6zM278,283l8,-3 3,0 6,4 12,3 12,13 3,-1 3,-1 12,1 21,-8 15,0 5,-2 4,-5 12,2 6,4 0,42-3,2-2,3 1,3 4,2 0,50-1,2 0,3 1,3-221,0-3,-6 3,-9-3,-12 2,-6 11,-11 16,-10 6,-2 9,2 12,6 3,0 9,-2 6,-6 9,-6 3,-3 2,-4 10,-8 0,-7-4,-9 1,-6-2,-9 2,-6 3,-2z" fill="#dadada"/><path d="M345,0l55,0 0,17-6,6-15,6-15,12-6,0-6,-6-21,-10-3,-5-9,0-6,-3-6,-4-3,-4 0,-3 3,-2 3,-1 11,3 7,0 9,5 6,-6zM76,33l2,-2 3,0 3,2 3,3 2,6-2,8-3,3-3,0-17,-2-1,-3 3,-6 8,-6zM257,36l2,-3 3,2 1,4-1,6-3,0-2,-3zM243,69l4,-2 24,1 27,6 1,1 0,3-4,4-9,2-24,-2-9,-2-6,-3-4,-5zM0,84l6,-2 4,2 2,3 0,9 2,3 4,2 6,0 3,4 2,12 1,2 6,0 3,2 3,8-2,15 2,15-1,6 3,12 2,3 8,6 2,9 10,3 3,4 2,6 7,9-1,9 1,3 3,0 3,-3 3,-6-2,-6 2,-2 12,-5 24,-4 6,0 9,3 3,-2 6,-7 3,-3 3,2 6,15 0,6-2,9 2,5 3,3 6,2 12,-1 12,5 6,-1 4,2-1,6 1,9 4,9-4,12-4,2-9,-2-9,4-6,8-9,6-9,12-12,2-9,6-9,-1-3,1-1,4-2,3-3,0-6,-1-6,1-12,6-3,3-3,5-3,2-6,0-6,-4 0,15 3,7 7,5 1,3 0,3-5,15-9,10-11,5-2,3-56,0zM111,305l0,2 0,3 3,2 6,-2-3,-5-3,-1zM395,111l5,-2 0,46-9,-6-6,-1-3,2 7,9 11,24 0,23-12,17-12,7-9,3-2,5-8,9-3,21-5,4-6,4-6,1-5,-3-2,-6 3,-15 1,-2 9,-6 6,-1-3,-27-6,-8-3,2-3,6-3,1-3,-1-2,-3 0,-6-2,-6-7,-10-7,-4-4,-5-3,-6-1,-9 3,-6 15,-15 11,-20 6,-1 0,-6 0,-3 3,-2 7,2 3,3-3,3 1,3 4,1 1,-1 0,-3 2,-1 12,0 12,-8 3,-1 6,3zM254,129l2,-2 3,0 2,2 1,3-1,3-2,2-3,-2-2,-3zM68,162l4,0 1,3-1,4-3,1-2,-2-1,-3zM255,165l4,-2 3,0 6,2 3,3 1,3-4,8-6,4-3,0-6,-3-3,-3 1,-6zM297,189l1,0 3,3 1,3-1,6-3,2-3,-4-1,-4 0,-3 1,-2zM274,286l12,-3 9,4 12,2 15,16 6,-2 12,0 9,-3 6,0 12,-4 12,0 12,-3 3,0 4,2 2,2 0,31-6,4-2,5 2,4 6,3 0,43-9,9-8,4-35,0-5,-1-7,1-154,0 1,-3-2,-6 0,-6-3,-12 3,-6 8,-8 9,-6 16,-6 9,2 9,6 9,0 12,-12 9,-6 3,-6 3,-3 6,-3 1,-3 0,-3-4,-12 1,-6-2,-9 1,-3zM388,315l-2,4 2,2 3,1 3,-1 2,-2 1,-3-3,-3-3,0zM121,340l5,-2 3,0 12,10 9,-2 12,3 5,3 1,3 0,6 2,9-2,8-3,7-3,3-2,-3-4,-1-3,1-3,3 0,3 1,9-26,0-11,-6-2,-3 1,-24-2,-18 3,-6z" fill="#f3f3f3"/><path d="M348,0l25,0 1,3 2,2 2,-2-1,-3 23,0 0,13-3,5-6,5-12,5-15,11-3,1-3,-1-6,-6-7,-3-5,-4-6,-2-2,-3 0,-3-1,-1-9,2-6,-1-6,-3-5,-6 0,-3 2,-2 6,0 6,2 12,2 1,1 2,5 3,1 3,-2zM258,36l4,1 0,6-4,-1 0,-3zM78,39l3,1 1,5-1,2-9,2-5,-1 0,-3 2,-3zM245,69l5,-1 21,1 24,5 2,1 1,3-6,4-6,1-27,-2-6,-2-7,-4-2,-3zM0,90l3,-1 3,2 6,12 3,3 6,0 3,2 1,12 2,2 10,4 0,6-2,9 0,9 0,3-5,6 0,3 11,18 10,9 3,22 3,1 3,-1 1,-3-2,-3 0,-3 4,-2 2,2 2,6 5,6 2,3-1,12 2,5 3,3 3,0 6,-6 3,0 6,5 9,3 3,-1 1,-6 0,-3-9,-9-1,-6 2,-3 7,-3 18,-3 12,5 3,-1 6,-7 3,-1 3,4 3,6-2,12 0,3 3,6 2,3 7,3 14,3 3,2 7,10 2,13 6,-2 3,1 1,3-4,6-3,0-3,-2-3,0-9,5-9,10-6,4-9,12-3,2-7,2-11,6-3,1-6,-2-3,-1-6,-7-6,-1-2,4 2,5 3,2 3,0 3,1 0,4-3,1-6,-3-3,1-10,7-14,6-3,2-3,1-6,-14-3,-3-3,-1-1,6 3,6 1,3 2,21 3,6 6,6 0,3-4,12-6,9-4,3-9,3-3,3-1,3-53,0zM399,111l1,0 0,42-3,-1-6,-5-9,-1-2,1 0,3 1,3 6,6 4,12 7,12 2,6 0,10-1,6-13,18-7,4-6,3-6,-1-5,9-4,3-3,0-3,-3 0,-9-3,-9-6,-12-3,-4-6,3-3,-1-9,-14-12,-7-6,-11 1,-9 4,-6 13,-12 9,-15 3,-2 15,0 6,5 3,-9 9,-2 12,-6 6,1 3,-1zM255,129l1,-1 4,1 1,3-2,3-4,-3zM256,165l3,-1 6,0 5,4 0,6-2,4-6,4-6,-1-5,-4 0,-6zM296,192l2,-1 3,4-1,3-2,2-3,-5zM343,247l3,-1 5,4 2,6 0,9-4,6-6,4-6,1-3,-2-3,-3 0,-3 2,-12 1,-3 2,-3zM272,289l5,-3 9,0 9,3 12,2 6,5 8,11 1,3 3,2 9,-1 12,-4 3,-1 6,5 3,0 3,-4 3,-6 3,-2 9,0 15,-2 3,1 3,3 1,3-2,3-11,5-5,10 2,7 6,3 3,9 9,6 0,36-12,10-6,-1-3,1-4,7-13,0-16,-4-6,0-10,4-146,0-5,-27 1,-3 3,-4 15,-11 16,-6 9,2 10,7 9,-3 9,-9 11,-9 6,-8 6,-4 2,-3-3,-15 1,-6-3,-9zM123,343l3,-1 3,1 12,9 9,-2 9,0 5,2 2,3 0,6 2,12-3,6-3,2-9,1-3,2-2,4-4,9-3,3-12,0-11,-6-2,-3-2,-12 1,-12-2,-18 1,-2 3,-3z" fill="#00dbff"/><path d="M349,3l3,-3 16,0 4,6 4,2 4,-2 1,-3-1,-3 18,0 0,3 1,9-3,6-4,3-13,5-15,12-3,1-3,-2-3,-4-8,-6 0,-9-3,-6 1,-3zM306,6l4,-1 9,2 9,1 2,1 2,3-2,3-5,2-9,0-8,-5-2,-3zM246,72l1,-1 3,-2 21,1 23,5 2,3-5,3-5,2-24,-2-10,-3-4,-3zM0,102l0,-2 3,-1 3,1 3,5 1,6 0,3-4,3-6,1zM396,114l4,-2 0,40-3,-1-6,-5-6,0-6,-2-2,6 1,3 7,7 3,11 9,13 1,8-1,13-9,13-5,5-7,4-3,1-9,-3-2,10-4,2-3,-2-1,-6-4,-12-6,-12 4,-10-2,-5-9,11-3,1-3,-2-3,-5-3,-10-3,-1-6,1-3,-1-3,-3-4,-7 0,-9 4,-6 11,-9 13,-16 9,-1 6,1 6,8 3,-10 3,-4 15,-7 12,-1zM358,203l-3,3-1,5 4,3 1,-9zM12,123l3,-2 2,2 1,6-1,15 6,9 1,9 6,9 1,6 2,3 12,7 4,5 0,6-6,10 5,3 9,13 4,-1 1,-3 2,-3 2,-2 3,1 1,4-3,6 5,12 3,4 3,2 6,1 9,-3 3,0 3,0 6,5 3,-1 4,-5 0,-12-2,-3-6,-6 0,-6 4,-4 18,-2 12,6 9,-2 3,2 2,12 2,6 3,3 20,9 12,12-1,12-5,5-6,3-12,12-7,13-5,3-9,3-6,4-6,2-6,-1-9,-9-6,-1-3,2 2,9-1,3-13,9-12,4-3,0-3,-2-9,-12-3,-1-2,2-2,6 0,3 5,6 1,21 3,6 5,6 0,3-3,6-1,9-2,3-7,5-9,3-3,3-1,4-50,0 0,-265zM30,209l-1,5 4,1 5,-4-2,-3-3,0zM45,228l-3,2-1,2 1,1 3,0 1,-1zM51,240l-2,7 1,6 1,3 3,0 5,-3 0,-3-5,-8zM27,129l3,1 1,2-1,7-3,6-4,-4-1,-6 0,-3zM258,165l7,0 5,3 0,3-1,3-4,5-3,2-6,-1-4,-3-1,-3 1,-3 2,-3zM338,250l5,-2 3,-1 3,3 2,6-1,12-4,4-6,3-5,-1-2,-3-1,-3 3,-15zM274,289l3,-1 9,0 9,2 9,1 6,4 7,9 3,6-1,6-3,3-1,3 1,5 3,1 6,-10 3,-1 6,3 3,0 2,-1 4,-6 3,-1 2,4-1,6 2,3 3,2 3,-1 4,-4 2,-6 6,-11 3,-2 15,0 4,1-7,6-6,9-1,3 0,6 1,6 3,3 6,2 3,4 6,3 5,6 1,2 0,26-9,7-3,1-9,-1-3,2-3,8-3,3-9,-5-6,0-9,-2-15,3-7,4-137,0-7,-24 1,-6 2,-3 15,-10 16,-6 6,0 3,1 9,7 6,-1 6,-3 7,-9 11,-8 6,-8 7,-5 2,-3 0,-3-3,-9 1,-9-2,-9zM116,349l4,-2 6,-1 6,2 9,7 18,-2 4,2 2,18-3,4-6,1-6,4-7,12-6,6-6,0-11,-8-3,-4-2,-33z" fill="#0092ff"/><path d="M353,3l5,-1 3,0 15,9 3,-1 4,-4 1,-3-1,-3 12,0 0,3 3,6 0,3-4,6-3,3-15,5-12,10-3,1-3,-2-5,-8 0,-12-4,-6 1,-3zM308,6l5,0 6,2 9,0 3,4-3,3-3,2-9,0-7,-5-2,-3zM248,72l5,-2 18,0 20,5 3,3-5,3-6,1-12,-2-9,0-8,-2-5,-3zM398,114l2,-1 0,38-3,-1-6,-6-6,1-6,-4-3,0-2,9 1,3 7,6 2,3 2,9 9,12 2,6-3,16-7,12-5,5-6,4-3,1-3,-1-6,-3-5,-6 3,-19-1,-2-9,-1-4,-15-5,-3-1,12-2,4-6,3-3,-3-1,-10-2,-2-3,-2-3,0-6,1-6,-5-2,-7 0,-6 8,-8 6,-4 3,-4 9,-8 6,-2 6,1 3,1 3,6 3,1 3,-4 3,-9 2,-3 10,-4 6,0 11,-5zM3,138l6,-2 1,2 3,9 5,9 6,15 0,3-1,6 1,4 3,3 12,1 4,1 3,3 1,3-1,3-4,4-3,1-4,-1-5,-8-3,-1-3,3-6,10-8,8-1,3-1,6 2,3 5,3 3,-1 6,-9 9,1 3,-1 3,-4 3,-2 3,1 3,3 1,3 0,3-10,2-5,7-8,6-2,6 3,2 6,1 3,-2 3,-5 3,-1 3,2 1,15-4,5-1,4 1,5 6,6 3,-1 2,-1 0,-3-2,-7 3,-2 6,-2 3,-2 3,-8 3,-4 12,3 12,-3 3,0 9,6 3,0 3,-2 3,-6 2,-15 0,-3-8,-6-1,-3 1,-3 3,-1 9,0 6,2 18,2 3,3 3,9 2,3 3,3 16,7 6,4 9,10 1,3-1,9-9,6-12,12-9,15-3,2-11,4-7,5-6,0-3,-1-6,-7-9,-3-4,3 1,9-1,3-11,8-12,3-3,0-3,-2-9,-11-3,-2-3,2-4,11 6,6 1,3 0,21 6,9 0,3-3,6 1,6-2,6-5,3-9,1-2,2-4,9-38,0 1,-3-2,-8-3,0-6,6 0,-114 4,-1 2,-3-3,-3-3,0 0,-134zM260,165l5,1 3,1 2,4-1,3-4,5-6,1-6,-3-1,-3 3,-6zM354,220l1,-1 3,2 1,2 0,6-1,1-3,-7zM58,232l2,-1 4,1 2,3-1,6-2,1-3,-1-3,-3-1,-3zM340,250l3,-2 4,2 3,3 1,6-2,9-9,6-3,0-3,-3-1,-3 3,-15zM274,292l3,-3 9,0 9,3 9,0 6,4 6,8 2,6 0,3-2,2-3,1-2,3 2,6 1,6 2,0 3,-1 9,-6 12,4 2,3-1,3-1,3-3,0 6,1 7,8 5,1 6,-1 1,-6 3,-3 5,-1 3,2 2,5-1,3-13,12-3,6 0,4 6,-1 5,-6 7,-5 9,-10 3,0 5,3 7,10 0,16-6,7-3,2-3,1-9,-2-3,1-6,10-3,0-6,-2-6,0-9,-3-15,3-11,8-132,0-3,-9-1,-9-3,-6 1,-6 18,-12 14,-5 6,0 12,6 8,-1 4,-3 8,-9 10,-7 6,-9 9,-6 0,-5-2,-9 0,-9zM325,356l-2,2-1,3 3,3 3,1 3,-3 0,-4-3,-3zM119,352l1,-2 6,-1 6,2 9,6 3,1 12,-3 3,1 2,2 1,12-2,3-7,4-12,16-9,6-7,-5-6,-9-1,-6 1,-12-1,-12z" fill="#0049ff"/><path d="M386,6l2,-2 3,-1 3,1 1,2 2,6-4,6-8,4-9,1-3,4-9,7-3,0-2,-1-2,-6 1,-9-1,-9 1,-3 9,3 3,3 6,7 4,-7zM308,9l2,-3 3,1 6,1 8,1 3,3-5,4-6,1-6,-3-3,-2zM250,72l6,-1 15,0 17,4 4,3-6,3-3,0-12,-1-9,0-7,-2-5,-3zM396,117l4,-3 0,36-3,-1-6,-6-6,1-3,-2-4,-4-2,-3 0,-6 6,-5 9,-3zM368,129l5,-1 1,1 1,3-5,10-3,2-3,-4-1,-5 1,-3zM340,141l6,0 3,3-3,7-3,3-1,-4-3,-6zM0,144l3,-1 4,1 5,11 7,10 2,6-4,12 2,9-2,6-5,7-6,4-3,0-3,-3zM330,144l1,0 4,6 0,3-4,9 2,6-5,4-9,1-6,-2-3,-2-2,-4 1,-3 7,-7 7,-5 5,-5zM356,147l5,-3 3,1 2,2 1,6 2,3 0,3-5,8-6,4-3,9-9,-6-2,-3 1,-6 6,-12zM255,168l4,-2 6,0 3,2 1,3-1,3-6,5-6,0-2,-2-1,-3zM370,171l9,-1 3,2 9,8 3,5 1,4-3,16-4,8-8,10-7,3-3,-1-6,-4-3,-4-1,-3 4,-19 0,-3-6,-6 6,-5 1,-7 2,-2zM39,195l0,-1 3,0 1,1-1,1zM135,223l3,-2 3,0 3,3 3,5 7,6 17,7 6,5 8,9 1,6-2,6-7,4-12,12-7,14-3,3-2,1-12,5-6,4-6,0-3,-1-5,-6-4,-2-6,-2-3,1-2,3 1,9-2,3-9,7-6,2-6,1-6,-2-9,-11-6,-3-7,15 1,3 6,4 2,5-2,18 2,12 2,9 0,6-2,3-5,2-9,-2-7,15-28,0-5,-12-1,-9-1,-2-3,4-6,3 0,-17 3,-3 6,1 0,-1 0,-1-6,0-3,-2 0,-60 6,-3 1,-3-3,-6 2,-3 6,-3 4,-3 1,-6-2,-9 4,-9 5,-6 3,0 9,3 3,3 0,12 3,5 6,6 9,-5 13,3 1,-3 0,-6 2,-3 8,-9 6,-5 6,-2 9,6 6,1 8,-3 1,-15 3,-6 3,0 6,3 2,3-1,3 2,1 1,-1 0,-6zM0,229l0,-3 3,0 3,2 11,10 0,3-2,5-9,6-3,4 2,3 9,6-1,3-4,1-9,-2zM342,250l4,0 3,3 1,6 0,6-2,3-4,3-4,2-3,-1-3,-4 0,-6 3,-9zM275,292l2,-1 6,-1 12,3 9,1 6,4 6,9 0,3 0,1-3,1-5,1-1,2 5,10 0,3-5,9 18,-7 3,1 3,8 3,3 9,2 7,5 11,3-5,12-4,6 6,1 9,-2 3,-2 4,-6 8,-9 3,-2 3,0 6,4 6,6 0,12-9,9-3,1-9,-3-3,1-4,2-5,5-9,1-9,-3-15,1-17,14-127,0-4,-9-1,-9-3,-6 0,-3 2,-3 18,-11 12,-5 6,0 12,6 9,-2 4,-3 8,-9 9,-7 6,-8 9,-6 1,-3-3,-12 1,-9zM325,353l-3,2-2,3 0,3 2,3 3,2 3,2 3,-1 2,-3 1,-6-3,-4-3,-1zM122,355l4,-2 6,0 12,7 3,1 9,-3 3,3 0,6-3,3-5,9-10,12-9,5-3,0-3,-3-5,-8 0,-9 4,-12-2,-3z" fill="#0000ff"/><path d="M389,6l2,-1 3,1 1,3-1,6-6,5-3,1-4,0-1,-6zM309,9l1,-1 3,-1 12,2 3,3-3,3-6,1-6,-3zM361,27l3,-3 3,1 1,2-4,4-3,-1zM253,72l18,0 15,3 4,3-7,3-24,-2-7,-4zM397,117l3,-2 0,34-3,-1-6,-7-3,0-3,1-3,-1-4,-6 0,-3 3,-6 4,-2 6,-1zM326,147l2,-1 3,-1 2,2 1,6-3,8-3,3-3,1-3,3-6,1-6,-2-1,-2 0,-3 3,-3 12,-9zM358,150l2,3 1,6-3,5-6,3-2,-2 2,-9 3,-5zM0,153l0,-1 3,-1 4,5 8,5 4,7 0,6-3,6-4,5-3,1 0,3 3,6-3,3-9,-4zM256,168l3,-1 6,0 3,2 0,2-1,3-5,5-6,-1-3,-4zM386,183l2,-2 3,3 2,5-4,19-5,9-6,6-5,2-3,-1-6,-4-3,-6 5,-19 4,-5 12,-1 3,-3zM138,232l3,-3 3,0 9,6 12,5 9,5 10,11 1,6-2,4-18,17-7,15-3,3-14,5-6,4-6,1-12,-10-6,-2-3,1-3,4 1,9-2,3-11,8-9,1-6,-2-7,-10-8,-5-8,14-1,6 2,3 5,3 2,3 0,3-3,12-1,15 5,9 0,6-4,2-6,-4-3,1-3,3-3,10-5,6-20,0-6,-12 0,-12-2,-18-9,0-3,-2 0,-53 3,-2 3,1 2,-1 5,-6 6,-15 1,-6-1,-12 3,-6 2,-3 3,-1 3,1 4,3 2,3 2,12 10,11 9,-6 12,2 3,0 1,-1 1,-6 1,-3 15,-14 3,-1 4,3 8,1 10,-1 4,-3 4,-6 6,-1 4,-2 3,-3zM338,253l5,-3 3,1 3,4 1,4-1,6-2,3-7,4-3,-1-3,-3 1,-6zM278,292l5,-1 12,3 9,1 5,3 4,6 1,3-1,2-6,2-2,2 0,3 4,6 2,6-7,11-1,4 13,-6 6,-2 3,1 6,8 3,2 6,0 3,1 6,4 8,4-1,6-4,6-6,4-6,2-6,0-2,12-13,12-5,3-123,0-4,-9-1,-9-3,-6 0,-3 2,-3 17,-9 12,-5 9,0 9,5 9,-3 5,-3 7,-9 9,-6 6,-8 9,-7 1,-6-2,-12 1,-6-1,-6zM325,351l-6,4-1,3 0,3 4,4 9,7 3,-1 2,-13-2,-5-3,-3zM381,355l4,-3 6,1 9,9 0,8-9,7-6,1-10,-5 2,-12zM131,358l1,-2 3,0 9,6 6,5 2,6 0,3-11,13-9,6-3,-1-4,-3-3,-6-1,-3 1,-6 8,-12zM350,376l8,-2 11,2-1,3-4,3-3,1-11,-4z" fill="#002ab5"/><path d="M311,9l2,-1 12,3 2,1-3,3-5,0-7,-3zM387,9l4,-2 3,2 0,3-4,6-5,2-4,-2 1,-3zM262,72l9,0 12,3 4,3-4,2-24,-2-5,-3 2,-2zM399,117l1,0 0,31-3,-1-3,-3-3,-5-3,-2-3,4-3,-1-3,-5 1,-6 2,-2 3,-2 3,0 3,1-1,6 1,2 1,-5 3,-3-1,-3 2,-3zM327,147l1,-1 3,1 2,3 0,3-2,7-15,7-3,1-3,-2 0,-4 2,-3 13,-9zM0,162l0,-2 3,0 9,1 3,2 3,8-2,6-4,5-12,1zM257,168l5,-1 3,0 3,4-3,5-6,2-3,-1-2,-3 1,-3zM387,186l1,-1 3,4-3,19-5,9-6,6-4,1-3,0-5,-4-3,-6 5,-18 6,-5 9,0zM140,232l1,-2 3,0 24,12 6,4 9,10 1,3-1,6-9,7-3,5-6,6-9,15-3,3-12,5-6,4-6,0-12,-10-6,-1-3,0-2,2-2,3 1,9-3,3-9,7-9,2-6,-3-9,-12-6,-4-3,0-1,7-6,9-2,6 1,3 4,6 1,3-1,9 1,12-1,12-9,9-3,9-2,4-8,5-11,0-2,-5-5,-7 0,-3 0,-9-2,-9 1,-9-1,-3-2,-2-6,3-3,-1-2,-3 1,-15 2,-12-1,-9-3,-2 0,-10 3,-1 3,1 1,0 7,-6 2,-3 6,-18-1,-12 1,-6 2,-3 3,-1 3,0 3,3 5,16 7,8 3,2 6,-6 3,-1 15,3 3,-3 1,-9 5,-5 12,-6 15,1 8,-2 10,-8 9,-4 3,-6zM339,253l4,-2 3,1 3,7-1,6-2,3-6,3-3,-1-2,-5 2,-8zM277,295l3,-2 3,0 9,2 9,0 6,2 3,4 1,3-1,3-6,5-1,4 4,6 2,6-9,15 1,2 3,0 12,-6 6,-1 3,2 2,3 0,3-8,6-3,3 0,3 3,6 10,9 1,3 2,6-4,6-9,8-7,4-121,0-4,-9-1,-9-2,-6 0,-3 2,-3 28,-13 6,0 11,4 4,0 7,-3 4,-3 7,-8 9,-7 6,-8 10,-7 0,-6-1,-9zM339,352l1,-2 3,1 9,5 2,2-2,6-3,3-9,3-2,-3 1,-9zM383,355l5,-2 3,2 9,8 0,6-9,6-6,0-8,-8 1,-6zM133,361l2,-3 9,5 6,7 1,3-2,6-8,9-3,3-6,2-3,0-6,-8-1,-6 4,-8 6,-7z" fill="#00546b"/><path d="M388,9l3,-1 1,1 1,3-2,3-3,3-3,1-1,-1-1,-3zM314,12l2,-1 9,1-3,2zM256,75l6,-2 9,1 8,1 5,3-22,0zM397,120l3,-2 0,28-3,0-3,-3-3,-5 1,-6 5,-6zM385,126l3,0 1,3-4,11-3,-1-2,-4 1,-6zM328,147l3,1 1,2 1,3-2,5-15,8-3,1-2,-2 0,-3 2,-3 12,-8zM0,162l0,-1 9,1 3,0 3,3 1,6-1,5-3,4-3,1-9,-1zM258,168l4,0 3,0 2,3-1,3-5,3-2,1-3,-2-1,-2 1,-3zM388,189l1,3-2,13-6,12-6,6-5,0-4,-3-3,-6 4,-16 3,-4 3,-2 9,1zM140,235l1,-3 3,0 26,12 12,12 1,6-2,3-7,6-4,6-6,6-8,15-3,2-21,10-6,-3-9,-7-9,-2-3,2-1,4 0,9-8,8-6,2-6,1-3,-1-3,-2-9,-12-9,-6-3,1 0,9-7,9-2,9 3,9-1,9 5,12-1,9-2,3-8,9-2,9-3,3-6,1-6,3-3,-3-6,-10-2,-18 0,-9-1,-6-3,-3-6,4-1,-1 0,-6 4,-15 0,-6-5,-12-4,-1 0,-7 3,-1 3,2 3,-1 7,-7 2,-3 5,-15 0,-15 1,-5 3,-2 4,1 2,3 2,9 3,6 7,9 3,0 6,-7 3,-1 12,3 5,-1 2,-3 1,-9 4,-4 9,-4 18,-1 10,-3 8,-7 9,-5 3,-5zM342,253l4,0 2,6 0,3-2,5-6,3-3,-1-1,-4 2,-9zM279,295l4,-1 9,2 9,0 5,2 2,3 1,3-7,9-1,3 5,6 2,6-11,18 4,3 3,-1 12,-7 3,0 4,2-1,3-7,6-2,3 6,10 10,11 1,6-2,5-9,7-11,6-10,-1-9,1-9,-7-3,0-3,4 0,3-42,0 0,-2-6,-1-9,3-25,0-2,-3-3,-9 0,-6-2,-6 0,-3 1,-2 6,-3 10,-1 7,-6 5,-2 6,-1 9,3 6,0 8,-3 4,-3 6,-8 9,-7 6,-7 10,-8 1,-3-2,-15zM385,355l3,0 3,1 9,8 0,3-9,7-3,0-3,-1-6,-6-1,-3 1,-3 3,-4zM135,361l3,0 6,4 5,5 1,3 0,3-12,14-9,2-5,-7-1,-6 3,-6 6,-6zM345,361l1,-1 2,1-2,3-1,0z" fill="#008738"/><path d="M387,12l1,-1 3,1-3,4-3,0zM259,75l13,0-7,1zM399,126l1,-2 0,21-4,-1-3,-3-1,-3 1,-6zM383,129l2,-1 2,1-2,9-3,-1-1,-2 0,-3zM326,150l2,-2 3,1 1,4-1,4-12,7-7,1-1,-3 3,-3zM0,165l0,-2 3,0 6,0 4,2 2,6-3,7-3,1-9,-1zM261,168l4,1 1,2-1,4-6,2-3,-3 1,-3zM370,195l3,-1 3,-1 9,0 2,2-2,10-3,3-3,9-6,6-3,-1-4,-2-2,-6 3,-13zM141,235l3,-2 25,11 13,12 0,3-2,5-6,4-5,9-5,6-8,14-3,3-21,9-6,-2-9,-8-6,-2-3,0-3,2-2,5-1,9-6,7-6,3-6,0-3,-1-3,-2-7,-10-14,-10-2,1-1,11-5,7-6,12 4,9 0,12 5,9 0,6-2,6-8,9-3,7-6,-1-6,5-5,-5-3,-6-2,-15 0,-12-2,-6-4,-6 0,-18-4,-15 9,-9 4,-6 6,-18-1,-12 2,-3 3,0 3,12 5,9 7,7 3,0 4,-7 5,-4 12,2 3,0 3,-1 3,-12 6,-5 9,-3 18,-1 8,-3 16,-11 4,-4zM339,256l4,-3 3,2 1,4-1,7-6,3-2,-1-2,-3zM283,295l9,2 9,0 3,1 3,3 0,3-7,9-1,3 6,6 2,6-6,11-7,7 5,6 2,5 9,-1 3,2 5,9 7,5 2,4 2,6-1,3-6,6-15,8-9,-1-6,1-5,-2-4,-14-3,0-1,2-11,8-3,1-16,-3-1,-3-1,-6-8,9-7,5-11,1-7,3-20,0-2,-1-4,-11-1,-15 3,-3 5,-2 8,2 2,-1 2,-5 7,-4 6,-1 9,2 6,1 9,-4 3,-2 6,-8 10,-8 5,-6 11,-9 1,-3-3,-15 3,-10zM253,372l-3,4 0,1 6,-3 0,-2zM0,307l0,-1 3,-1 2,2 1,3-3,2-3,0zM383,358l2,-2 3,0 3,1 7,7 1,3-8,6-3,0-7,-6-1,-3zM136,364l2,-1 4,1 6,6 1,3 0,3-11,13-9,1-4,-5-1,-6 2,-4 6,-5z" fill="#00c31c"/><path d="M400,126l0,18-3,0-3,-3-1,-3 1,-6zM327,150l1,-1 3,1 0,3-1,3-11,7-6,1-1,-2 2,-3 5,-3 6,-3zM0,165l3,0 7,0 2,3 0,3-1,3-5,3-6,-1zM258,171l4,-2 3,2-2,3-4,1-2,-1zM372,195l4,0 6,0 3,3-3,6-3,1-1,3 1,6-1,3-5,5-3,-1-3,-1-2,-3 0,-3 3,-9 1,-7zM142,235l2,-1 3,1 22,9 10,9 3,6-2,4-9,5-2,9-6,6-7,13-3,3-21,10-5,-2-10,-8-6,-3-3,0-5,5-1,3-1,9-4,6-7,3-6,0-6,-3-6,-10-16,-11-5,-6-1,-3 1,-3 6,-6 3,-1 9,3 6,-1 2,-4 1,-6 3,-5 12,-5 18,-1 9,-4 15,-11zM341,256l2,-1 3,1 1,6-1,3-6,3-3,-3 2,-6zM27,283l3,-2 7,8 13,9 2,3 0,6-2,6-8,10-1,8 3,9-1,12 6,9 1,6-3,6-8,8-8,4-4,3-3,-1-3,-8-3,-12 1,-12-6,-15 0,-18-2,-9 1,-6 8,-9zM281,298l2,-2 3,0 6,2 9,0 4,3 1,3-2,3-9,9 6,2 3,3 2,4 0,3-5,10-3,4-3,1-2,3 4,6 1,8 9,-2 3,0 3,2 3,7 10,9 1,6-1,3-4,4-9,3-6,5-15,1-2,-1-2,-3-1,-6-3,-9 0,-9-4,0-3,3 1,6-1,4-3,2-12,3-5,-3 2,-6 0,-11-9,5-7,12-11,9-12,3-6,2-12,0-7,1-3,-2-3,-10-1,-15 4,-3 3,0 7,2 3,0 4,-8 8,-4 6,0 6,2 6,0 9,-4 3,-2 8,-10 8,-6 8,-9 6,-3 3,-3-2,-18zM274,355l-6,6 0,1 3,-1 3,-3zM0,307l3,-2 2,2-1,3-4,1zM385,358l3,0 3,1 6,5 0,3-6,4-3,0-3,-1-3,-3-1,-3 1,-3zM137,367l1,-2 3,1 6,5 1,5-10,12-3,1-6,0-3,-4 0,-6 3,-5 6,-4z" fill="#00ff00"/><path d="M397,129l3,-2 0,16-3,0-4,-5 1,-5zM327,153l1,-2 2,2-7,6-7,4-3,-1 6,-6 6,-1zM372,198l4,-1 5,1-2,4-6,-2zM368,208l2,-3 3,0 5,6 0,3-1,3-4,4-3,0-4,-4 0,-3zM142,238l2,-3 18,6 6,3 7,6 5,6 1,3-1,3-3,2-6,2-2,2 0,6-1,3-5,6-7,12-3,3-21,10-4,-1-8,-7-6,-4-6,-1-4,3-4,6 0,9-2,3-5,4-6,2-3,0-5,-3-7,-11-10,-7-9,-9-1,-3 0,-3 2,-3 3,-2 3,-1 9,3 6,-1 3,-5 0,-6 3,-5 15,-5 15,-1 9,-4 15,-10zM339,259l4,-3 3,2 0,4-3,4-3,0-2,-1zM30,292l18,8 2,7-2,4-8,11-1,6 0,6 3,9-1,9 6,12 0,3-3,6-5,5-12,7-3,-1-1,-2-3,-15 0,-15-5,-15 2,-18-3,-6 0,-3 13,-18zM282,298l4,-1 6,2 9,0 3,2 0,3-3,5-3,3-6,1 1,3 5,2 5,4 3,6-7,12-6,3-1,2 0,1 4,6 0,6-7,7-12,6-2,2 1,6-1,3-1,1-3,0-6,-2-5,-5 0,-3 2,-5 8,-4 5,-6 1,-3-2,-3-9,11-15,9-9,13-9,9-21,5-16,0-3,-2-3,-9 0,-12 1,-3 5,-2 7,2 3,0 6,-9 3,-2 6,-1 15,1 9,-3 3,-3 6,-7 11,-9 5,-6 11,-8 0,-4-2,-15zM1,307l3,0-1,3-3,0zM304,361l6,0 0,3-9,7-3,1-3,-1 3,-7zM385,361l3,-1 3,1 4,3 0,3-4,2-3,0-3,-2-1,-3zM138,370l3,-2 3,1 3,4 0,3-9,11-3,1-6,-1-3,-5 1,-3 2,-3 6,-3zM287,373l2,-1 3,0 1,1-1,3 2,3 7,3 3,-1 12,-5 6,-1 3,4 0,3-3,3-9,1-6,9-15,1-2,-2-4,-15z" fill="#66ff00"/><path d="M398,129l2,-1 0,13-3,1-3,-3 0,-4zM321,156l2,0-1,3-3,2-2,-2zM369,208l4,-1 3,4 1,3-4,6-3,0-3,-3 0,-3zM143,238l1,-2 3,0 14,5 6,3 10,9 4,6-4,4-6,1-3,3 0,7-1,3-5,5-9,16-21,10-3,-1-9,-8-9,-6-3,0-5,5-4,6-1,3 1,6-2,3-4,4-6,1-7,-2-8,-13-9,-5-9,-11-1,-4 4,-4 3,0 9,2 6,-1 3,-3 1,-9 2,-4 3,-2 7,0 5,-3 15,-1 9,-4 15,-10zM341,259l2,-1 1,1 1,3-2,3-3,0-1,-3zM28,298l2,-1 3,0 6,4 4,9-5,9-1,12 3,12-1,9 5,12-1,6-4,5-12,7-3,-3-2,-12 0,-9-1,-12-3,-9 2,-6 5,-3 2,-3 0,-13-4,-5 2,-6zM281,301l2,-3 3,0 6,2 9,0 2,4-1,3-4,3-6,0-1,3 1,3 9,4 1,2 2,3 1,3-3,6-4,6-7,3 0,3 5,6 0,3-4,6-17,9-1,3 1,6-1,2-3,0-3,-1-6,-4-1,-3 1,-3 9,-4 6,-8 1,-3-4,-4-9,11-15,9-9,14-9,8-21,6-16,-1-2,-1-3,-9 1,-12 1,-3 3,0 10,2 2,-2 4,-7 6,-4 6,-1 12,2 9,-4 3,-2 6,-8 11,-9 5,-6 11,-7 1,-5-2,-12zM139,373l2,-2 3,0 2,2 0,3-2,3-6,7-3,1-4,-2-2,-2 0,-2zM292,385l6,0 5,3 2,3-5,3-8,0-1,-3z" fill="#ccff00"/><path d="M399,129l1,10-3,2-2,-3 0,-3 1,-3zM369,211l1,-3 3,1 2,2 0,3-2,4-3,1-2,-2 0,-3zM144,238l3,-1 3,0 16,7 11,10 3,5-3,3-9,3-1,3 0,6-1,3-4,4-9,16-18,9-3,1-3,-1-14,-11-1,-3 10,-6-1,-4-3,0-6,4-17,18-1,3 1,6-1,3-3,3-6,1-6,-1-3,-3-3,-9-3,-3-7,-3-10,-12 0,-3 2,-3 3,0 9,2 6,-1 4,-4 1,-9 2,-3 2,-2 9,-1 6,-3 12,-1 9,-3 15,-10zM282,301l1,-2 3,0 6,3 6,-1 3,1 0,2-1,3-2,2-6,-1-2,5 2,5 10,4 2,3 0,3-2,6-4,5-9,4 1,3 5,6 0,3-3,5-13,7-5,1-1,-1 1,-3 5,-6 0,-3-2,-4-3,-1-10,11-14,9-3,3-3,6-3,5-9,8-18,6-19,-1-4,-9 2,-12 2,-2 10,2 3,-2 3,-7 4,-3 5,-2 15,1 9,-4 27,-26 8,-5 2,-3-2,-18zM31,322l2,-2 2,20 1,3 2,12 4,9 0,3-3,5-3,2-9,3-3,-9 1,-7-2,-12 3,-15 4,-6zM264,370l2,0 5,3 1,3-1,3-6,-3-2,-3zM139,376l2,-3 3,0 1,3-7,9-3,1-1,-1-1,-3z" fill="#ffdd00"/><path d="M397,132l3,-2 0,7-3,2-1,-4zM370,211l3,0 1,3-1,3-3,1-1,-1-1,-3zM146,238l13,3 6,3 12,11 2,4-2,3-10,3-1,3 0,6-1,2-12,19-3,3-15,8-3,0-3,0-12,-11 0,-3 8,-6 0,-3-2,-2-3,0-9,5-15,16-6,2 5,6 1,3-3,5-6,2-6,-2-4,-5-1,-6 2,-5 6,0 2,-1-5,-3-6,4-7,-1-3,-3-1,-6-2,-3 10,-3 5,-3 2,-3 2,-9 2,-3 10,-2 6,-3 12,-1 9,-4 15,-10 9,-10zM283,301l3,-1 5,4-1,6 0,6 2,3 9,3 2,3-1,6-4,8-11,4 7,9 0,3-2,4-15,8-2,-3 6,-6-1,-3-3,-6-3,0-10,12-15,9-3,3-5,10-9,9-21,6-16,-1-3,-9 2,-9 1,-3 10,1 1,-1 7,-9 7,-4 15,0 9,-3 27,-26 9,-6 1,-6-2,-12 1,-3zM294,304l4,-1 1,1-1,3-2,0zM27,346l3,-1 3,3 3,10 0,7-3,0-6,-7-2,-6zM141,376l1,0-1,4-3,3-3,1-1,-2z" fill="#ff9900"/><path d="M369,214l1,-2 3,2-3,3zM143,241l4,-3 3,1 14,5 13,12 1,3-4,2-6,2-2,2-1,3 0,6-1,3-8,13-6,8-15,7-3,1-3,-1-11,-10 1,-3 8,-6-1,-3-3,-3-14,6-4,6-9,8-3,1-3,0-9,-5-9,3-3,-1 0,-6 2,-3 8,-6 1,-3 2,-9 2,-3 9,-1 6,-3 12,-2 12,-4 12,-9zM147,283l-3,3 3,3 2,0 1,-3zM285,301l4,3-1,9 3,6 10,4 2,5-2,5-3,5-12,5 8,9 0,3-2,3-9,3-3,3-3,0 6,-5 0,-1-6,-10-3,0-11,13-15,9-7,13-9,8-21,6-13,-1-3,-1-2,-7 2,-10 3,-1 7,1 3,-2 6,-9 6,-3 15,0 9,-4 27,-26 11,-6-2,-18 3,-8zM78,307l3,-2 6,1 6,4 2,3-1,3-4,2-3,1-6,-2-3,-4z" fill="#ff5500"/><path d="M145,241l5,-1 13,4 13,12 1,3-9,3-3,3-1,3 0,6-8,15-3,1-2,-4-4,-5-3,0-1,2 1,5 5,4 1,3-2,3-13,6-3,1-3,-1-9,-9 1,-3 7,-6-1,-3-4,-4-15,6-4,7-8,7-6,0-9,-6-3,0-3,2-3,0 1,-3 7,-9 3,-12 1,-2 9,-1 7,-3 11,-2 9,-3 15,-10zM282,304l4,-2 2,2 0,9 2,6 2,2 6,1 3,2 1,4-4,9-14,6 9,9-1,5-3,1-3,0-6,-6-3,-6-3,1-12,14-15,9-6,12-9,8-21,7-13,-2-1,-1-3,-6 1,-7 3,-2 7,0 3,-2 6,-8 6,-4 12,0 6,-2 6,-3 27,-25 12,-7-3,-18zM80,307l4,-1 6,3 3,4-1,3-5,2-6,-2-2,-6z" fill="#ff1100"/><path d="M147,241l6,0 9,3 13,12 0,3-7,1-5,5 0,9-7,12-3,1-2,-4-4,-4-3,1-2,3 0,3 6,9-2,3-14,6-6,-3-5,-6 1,-3 5,-3 2,-3 0,-3-2,-3-4,-2-15,5-6,9-6,6-3,0-3,0-12,-9 4,-9 2,-9 12,-2 9,-4 6,-1 12,-5 12,-8zM283,304l3,-1 0,1 1,9 2,6 3,2 6,2 2,2 1,3 0,3-3,5-24,11-6,5-3,6-18,12-6,10-12,11-6,1-12,4-13,-2-3,-6 1,-3 2,-4 10,-3 6,-8 6,-4 15,-1 12,-6 9,-10 17,-15 10,-4 1,-2-3,-18zM80,310l1,-2 3,0 3,1 4,4-1,3-3,1-4,-1-3,-3zM282,346l1,-1 7,4 2,3 0,3-3,2-3,-1-5,-4-2,-3z" fill="#cc0000"/><path d="M144,244l6,-2 10,2 12,12-7,4-3,5-1,3 0,6-5,9-3,0-6,-6-3,0-3,3-1,3 0,3 5,9-1,3-12,5-3,-1-5,-4-2,-3 1,-3 5,-3 2,-3-2,-6-2,-2-3,-1-16,6-6,9-5,4-3,1-3,-1-8,-7 0,-3 3,-12 2,-3 9,-1 27,-9 12,-8zM282,307l1,-2 3,0 1,11 2,4 3,2 7,3 1,3-2,7-3,1-3,-1-1,2-20,11-9,11-17,11-4,9-9,9-21,7-9,-1-4,-2-1,-4 1,-4 10,-4 8,-10 4,-3 15,-1 9,-4 30,-27 6,-3 9,-1-3,-1-3,-8zM83,313l1,-3 4,3-4,1zM280,349l3,-2 3,0 3,1 3,4-2,3-1,1-6,-4z" fill="#880000"/><path d="M144,247l6,-2 9,2 5,6 1,3-8,12-1,9-3,1-6,-7-3,1-8,8 0,3 5,12-2,3-7,3-3,0-5,-6 2,-3 5,-3 4,-6-1,-3-8,-5-21,7-6,9-3,3-3,1-5,-3-3,-6 2,-13 36,-10 15,-9zM283,307l1,0 2,3 0,6 3,5 3,2 6,2 1,3-1,6-3,1-9,-7-3,-10zM278,334l6,0 2,3-15,9-9,12-17,9-3,3-1,6-3,4-6,5-21,9-6,-1-4,-2-2,-3 1,-3 8,-4 10,-11 5,-2 6,1 12,-3 14,-11 4,-6 14,-12zM282,349l4,-1 3,1 1,3-1,2-5,-2z" fill="#4c0000"/><path d="M153,253l3,-3 3,0 3,3 1,3-4,7-3,2-6,0-15,2-1,-2 7,-2zM115,268l5,-2 3,1 2,4-2,3-6,3-12,4-9,11-3,1-3,-2-3,-5 1,-9 1,-3 10,-4zM128,292l4,-2 3,2 1,3-1,3-3,2-3,0-3,-2-1,-3zM282,310l1,-2 1,2 4,12 10,4 1,2-1,4-3,1-9,-7-2,-10-1,-1zM283,349l3,-1 3,4 0,1-3,-1zM221,370l2,0 4,3 1,3 0,3-5,6-9,7-6,0-4,-1-3,-3 2,-3 5,-3 9,-9z" fill="#1a0000"/><path d="M155,253l5,0 1,3-2,4-3,3-6,0-3,-1zM102,271l18,-2 3,2-1,3-5,3-12,3-3,2-5,7-4,0-2,-3-1,-9 3,-3zM126,295l3,-2 3,1 1,1 0,3-4,0zM285,319l1,-2 1,5 2,1 6,2 3,2 0,4-3,1-9,-7zM219,373l4,0 2,3 0,3-2,4-11,8-4,0-3,-2-1,-1 1,-3z" fill="#262626"/><path d="M154,256l2,-2 3,2-1,3-2,2-3,0-2,-2zM109,271l11,-1 0,4-6,3-12,2-6,5-1,-1-2,-6 3,-3zM291,328l4,-1 1,1-1,2zM217,376l3,-1 1,1 2,3-2,3-7,7-3,0-4,-1 7,-9z" fill="#737373"/><path d="M103,274l11,-2 3,2-9,2-3,0zM216,379l3,0-1,3-4,3-1,0 1,-3z" fill="#e6e6e6"/></g></g></g>
<rect x="718.0" y="1412.6" width="200.3" height="200.3" fill="none" stroke="#444" stroke-width="1.1" />
<g transform="translate(955.4,1412.6) scale(1.0015)" clip-path="url(#cp)"><g filter="url(#bs)"><rect width="200" height="200" fill="#fffdfd"/><path d="M7.3,139.1L4.8,143.7M175.1,198.5L178.8,201.4M112.1,69.4L117.5,69.3M32.6,22.8L32.4,20.5M78.9,195.4L78.1,197.7M111.5,157.9L115.1,163.5M41.5,39.2L36.6,37.2M36.9,91.1L33.5,92.1M77.4,111.3L80.3,116.5M122.2,143.2L119.9,149.0M71.9,155.0L72.8,161.3M29.5,86.6L23.4,87.4M103.6,71.3L104.9,69.7M26.6,62.2L23.4,57.1M59.2,13.1L58.3,10.6M57.3,77.5L54.1,75.3M115.7,123.0L116.2,130.9M15.9,107.9L6.9,109.3M31.6,102.5L25.7,104.6M83.6,35.2L84.8,30.2M121.9,29.5L125.3,22.5M48.4,138.7L47.9,143.6M103.6,126.9L109.5,131.4M47.8,142.2L43.4,149.3M23.8,106.2L17.2,107.4M32.5,55.6L25.3,50.5M57.9,52.9L55.1,48.5M64.1,155.2L66.0,161.3M90.8,137.9L90.4,145.7M120.2,102.0L127.3,101.8M38.7,10.9L39.7,3.6M106.8,155.5L106.1,163.7M61.4,139.4L57.6,146.7M54.8,108.1L50.2,112.1M68.8,40.4L65.9,34.0M112.3,18.1L115.9,11.8" stroke="#00f" stroke-opacity="0.04" stroke-width="5" fill="none" stroke-linecap="round"/><path d="M193.2,156.7L195.0,158.1M130.9,69.1L135.2,64.0M36.7,152.3L32.8,154.8M76.5,151.0L72.2,155.1M84.7,51.4L81.8,47.0M81.0,71.2L78.2,65.3M194.9,28.1L200.1,31.9M146.1,128.4L146.8,130.6M155.2,76.6L159.8,72.6M151.2,18.2L152.6,16.0M29.6,178.9L27.4,180.5M98.5,50.6L99.5,47.9M37.9,13.6L34.3,11.2M40.3,191.5L39.4,195.7M138.6,25.2L140.7,24.0M114.0,9.0L115.1,6.2M29.0,33.1L26.6,30.8M171.8,168.7L174.1,169.6M59.8,36.6L60.7,31.4M78.7,56.8L79.3,51.5M57.8,70.3L58.1,63.5M9.5,98.6L0.5,102.2M55.1,153.1L52.0,159.6M119.7,112.5L125.4,114.7M60.3,60.2L58.8,53.1M91.1,120.7L95.0,127.5M96.7,54.0L100.9,48.4M41.8,50.9L37.8,45.3" stroke="#f00" stroke-opacity="0.04" stroke-width="4" fill="none" stroke-linecap="round"/><path d="M116.1,132.6L119.8,135.2M130.4,25.1L132.7,21.9M31.9,138.4L27.9,142.8M109.0,43.1L115.2,44.5M23.9,176.8L21.0,181.1M72.4,79.8L70.4,78.9M33.4,71.8L27.6,68.2M89.5,80.2L92.1,78.2M123.1,105.7L130.8,107.1M78.3,109.9L79.6,114.9M35.6,65.7L35.0,60.1M58.3,64.5L53.2,62.3M34.4,69.6L30.4,66.7M52.5,140.3L48.2,143.1M89.0,76.0L92.3,72.4M69.0,47.0L69.4,41.1M114.8,69.5L121.3,67.0M47.2,119.0L39.4,122.1M76.2,108.5L77.5,113.6M66.6,87.6L60.5,85.0M35.8,64.6L31.1,61.2M34.3,103.3L25.7,105.1M122.7,118.0L130.3,118.7M50.7,130.8L46.6,135.6M100.5,117.3L106.6,121.7M127.7,46.7L130.9,40.5M33.0,109.7L27.6,110.9" stroke="#00f" stroke-opacity="0.04" stroke-width="4" fill="none" stroke-linecap="round"/><path d="M27.9,96.9L22.3,95.4M63.7,131.1L65.9,136.7M73.4,56.0L75.0,50.1M52.6,100.7L49.5,102.6M103.0,131.0L109.0,132.7M60.8,119.0L58.5,121.9M66.8,181.3L66.7,183.9M130.1,56.9L132.6,53.8M119.0,69.9L122.8,66.3M81.1,21.1L78.9,14.0M127.1,93.4L134.0,93.0M111.5,64.6L117.9,62.4M32.5,98.5L28.4,100.4M29.3,91.7L24.7,91.9M103.0,129.5L109.0,130.8M57.1,51.7L57.0,47.0M127.7,53.6L135.0,47.3M46.2,58.3L41.3,56.8M84.1,33.9L83.2,27.4M95.9,42.9L98.7,37.9M138.0,106.8L144.3,109.5M104.7,124.4L103.3,129.4M120.4,105.4L125.8,106.0M93.7,69.2L98.9,65.8M44.4,123.3L38.6,126.3M37.3,150.8L31.0,155.3M65.2,60.1L63.4,52.7M46.9,64.1L43.9,59.0M47.9,35.8L40.7,30.5M136.7,67.0L143.6,65.2M134.0,124.5L142.5,128.4M67.3,43.5L71.2,36.0M101.0,39.1L106.3,31.4M75.3,136.0L76.6,140.5M31.9,104.6L23.8,102.3M112.9,117.7L115.7,124.3M106.1,119.5L112.1,120.3" stroke="#f00" stroke-opacity="0.04" stroke-width="5" fill="none" stroke-linecap="round"/><path d="M68.5,87.7L66.1,86.1M77.9,99.4L75.5,104.6M29.2,95.7L23.3,96.5M145.6,114.0L149.4,116.4M77.1,171.3L76.8,175.9M161.3,168.0L165.6,167.8M60.1,26.8L58.9,24.4M60.3,34.0L60.2,30.9M146.3,177.7L146.9,181.6M125.4,85.0L130.9,83.9M11.4,122.2L4.4,119.3M23.6,38.7L16.1,33.8M32.4,40.6L27.0,34.6M39.9,53.2L32.5,50.0M161.7,58.7L167.9,55.3" stroke="#f00" stroke-opacity="0.04" stroke-width="6" fill="none" stroke-linecap="round"/><path d="M38.2,196.1L36.6,201.3M60.5,155.6L60.5,158.5M150.5,61.6L156.4,62.3M91.2,79.0L94.7,78.6M162.7,192.5L162.5,199.4M183.2,101.9L187.5,106.8M113.5,53.0L115.4,49.6M123.3,131.5L125.1,132.6M66.1,122.4L66.0,126.2" stroke="#00f" stroke-opacity="0.04" stroke-width="3" fill="none" stroke-linecap="round"/><path d="M80.8,67.8L78.9,64.1M124.7,159.5L126.6,163.0M160.3,172.4L161.5,177.8M188.7,56.2L193.8,55.8M69.2,61.3L66.4,59.0M38.8,62.5L37.6,59.9M40.7,55.7L35.1,51.6M53.0,12.9L52.6,3.5M24.5,26.7L18.9,24.6M41.4,31.2L41.6,21.9M34.8,155.2L34.7,160.9M37.1,140.6L32.9,147.5M15.0,56.8L12.2,49.8M51.4,35.1L45.6,30.2M128.7,124.1L132.1,129.5M137.8,76.3L144.7,70.0" stroke="#00f" stroke-opacity="0.04" stroke-width="6" fill="none" stroke-linecap="round"/><path d="M175.2,27.0L178.2,22.2M128.2,41.6L130.2,36.7M134.7,195.4L135.9,197.7M154.7,155.9L156.0,161.5M31.4,26.1L28.2,20.7M47.9,33.8L46.8,27.5M165.2,44.0L167.2,41.7M63.7,133.6L63.5,136.2M36.8,59.2L33.7,56.8M158.2,153.8L164.9,152.1M90.1,71.7L93.9,68.3" stroke="#f00" stroke-opacity="0.04" stroke-width="3" fill="none" stroke-linecap="round"/><path d="M18.7,49.2L15.5,45.5M139.1,43.9L144.1,41.5M88.0,79.1L89.0,76.9M167.4,47.4L171.5,47.3M150.8,17.1L153.4,10.8M99.5,141.3L101.1,142.8M105.3,128.6L106.9,132.8M94.2,34.2L93.6,31.3M144.1,185.7L145.0,187.5M158.1,6.2L160.0,4.5M116.0,86.9L118.8,86.2M25.9,152.5L23.6,154.1M16.1,11.7L13.9,7.6M167.0,186.0L169.0,189.6M107.5,117.5L112.8,120.6M120.9,62.7L123.3,63.1M153.4,151.0L152.7,155.8M193.6,163.5L198.1,164.9M160.7,7.5L162.8,6.5M187.4,39.3L190.9,35.2M139.8,102.9L144.4,104.4M190.5,7.5L193.8,6.4M89.5,73.5L92.3,73.2M194.5,75.7L199.7,73.0M5.2,31.1L3.2,30.6M102.0,83.3L108.6,86.9M30.8,73.5L26.8,69.7M96.6,108.2L102.4,114.0M52.9,85.6L50.0,82.8M87.0,70.4L90.1,64.6M40.7,59.4L38.7,54.9M54.0,115.3L47.8,120.1M84.0,92.8L89.1,94.1M96.8,66.5L101.9,60.1M67.9,73.5L65.6,70.3M56.3,121.6L53.9,126.3M104.8,73.1L109.5,71.9M59.9,86.8L55.9,88.5M56.5,99.2L50.0,102.1" stroke="#f00" stroke-opacity="0.08" stroke-width="4" fill="none" stroke-linecap="round"/><path d="M33.4,148.3L30.5,145.6M67.5,48.3L68.3,41.7M110.4,130.8L114.0,134.7M55.3,77.2L52.9,75.7M11.6,186.3L6.7,189.0M26.6,46.4L22.7,50.6M190.4,19.5L193.0,14.4M54.5,147.2L51.2,149.3M149.3,186.8L152.1,189.5M30.6,103.3L27.7,103.6M108.7,26.6L107.7,23.3M61.0,141.7L60.2,143.6M97.5,111.9L97.3,115.3M75.2,184.4L72.8,185.4M113.3,129.2L117.7,131.3M185.2,119.3L188.0,117.3M95.0,72.7L98.9,71.2M82.6,90.0L87.9,90.9M40.4,51.5L39.0,50.1M130.0,125.2L136.0,126.3M91.7,38.7L93.2,37.0M76.7,113.2L74.2,115.1M11.0,10.7L9.6,9.1M44.2,182.7L41.8,184.3M102.4,159.8L104.5,165.7M130.8,141.8L132.3,143.5M156.0,36.7L162.3,39.0M16.2,133.7L10.9,137.4M115.9,82.0L122.8,82.1M38.3,93.7L30.8,97.3M82.9,120.3L80.9,127.7M56.3,54.5L49.0,54.0M117.8,91.0L122.5,90.4M104.1,77.6L111.9,76.1M59.7,123.3L54.3,128.3M72.7,125.7L72.2,130.1M72.3,103.0L74.7,107.4M83.8,99.7L87.2,100.7M85.0,71.9L89.0,68.4M72.2,127.2L70.4,134.9M41.1,107.3L35.8,111.7M65.7,116.2L63.9,123.4M50.1,107.7L47.2,111.1" stroke="#f00" stroke-opacity="0.08" stroke-width="5" fill="none" stroke-linecap="round"/><path d="M146.6,188.8L148.6,193.7M68.1,54.1L68.9,50.6M101.0,28.0L102.5,26.6M163.2,171.5L169.0,175.2M104.2,174.6L108.8,177.0M114.3,129.2L116.2,130.2M130.6,90.9L135.7,95.4M155.8,146.5L159.9,150.8M150.6,72.6L153.8,73.3M91.8,109.9L94.9,113.5M164.5,160.7L165.9,162.6M69.1,79.4L63.4,75.8" stroke="#00f" stroke-opacity="0.08" stroke-width="3" fill="none" stroke-linecap="round"/><path d="M191.9,61.3L197.5,58.1M60.7,147.2L58.6,149.5M96.2,31.0L95.7,27.6M183.3,42.3L185.1,40.1M69.0,93.9L70.2,98.4M127.7,131.2L127.8,136.4M196.3,47.7L199.2,46.9M170.6,150.8L175.7,153.9M174.6,48.5L175.8,46.9M112.0,148.2L113.3,152.5M129.1,9.4L131.6,6.0M6.9,65.7L2.9,65.7M133.6,195.3L135.4,196.8M68.4,6.9L66.7,4.1M79.4,122.9L74.9,127.1M120.2,105.8L122.7,107.4M181.8,112.2L185.4,112.0M167.0,59.1L168.2,52.3M125.9,155.3L131.1,156.9M98.2,30.7L102.6,27.1M5.8,2.7L4.6,-2.1M30.2,99.9L27.0,96.6M73.1,175.2L72.1,178.8M195.0,72.8L197.0,72.0M87.8,185.0L87.6,187.3M24.3,74.3L20.4,71.4M121.5,157.0L123.1,158.7M134.2,139.2L135.5,141.5M178.2,157.6L183.0,159.5M84.5,173.6L87.7,176.4M54.1,82.3L49.4,78.2M140.5,49.9L144.3,49.6M123.0,55.8L124.2,51.3M49.0,62.5L44.7,55.4M99.8,116.1L100.0,120.5M72.1,70.9L67.8,65.2M87.1,107.5L91.9,112.3M106.3,73.9L110.7,71.0M62.0,134.2L59.9,143.0M40.4,105.3L36.2,106.8M82.5,101.9L83.0,107.0M79.3,64.4L82.3,60.0M98.1,130.3L101.6,136.9" stroke="#00f" stroke-opacity="0.08" stroke-width="5" fill="none" stroke-linecap="round"/><path d="M42.1,146.6L39.9,149.9M186.4,168.6L192.5,168.2M123.1,177.7L126.8,179.4M96.7,129.8L100.5,133.3M54.2,144.0L49.2,148.3M158.1,7.3L159.2,0.6M16.7,17.8L16.9,12.1M12.8,13.6L10.5,12.3M90.0,42.9L90.4,40.0M192.5,92.7L196.6,97.2M21.5,128.4L17.5,129.2M129.9,41.0L129.3,35.2M123.8,62.9L127.2,65.1M50.2,20.1L48.0,14.5M161.2,142.0L164.2,143.2M48.5,26.4L46.9,23.9M120.0,181.1L120.9,184.5M160.5,168.7L163.9,168.9M44.3,132.4L37.9,135.1M79.1,51.1L80.0,49.1M7.6,148.8L4.9,148.6M136.4,25.5L141.1,22.0M54.2,94.8L52.2,95.5M198.5,57.1L199.8,54.1M140.3,68.7L143.5,69.5M29.9,108.0L23.1,107.7M159.4,27.5L164.5,25.5M63.4,125.2L62.8,129.6M104.0,81.7L108.8,78.4M97.5,98.9L103.4,104.0M47.2,71.9L39.8,69.6M89.1,132.2L93.3,138.9M100.0,80.8L105.1,75.7M64.9,107.6L61.5,111.2M56.5,79.2L50.5,74.5M97.3,71.5L101.6,66.1M79.2,109.7L76.4,114.5M49.2,78.1L41.2,76.4M60.4,107.6L53.4,108.5M81.8,135.1L81.5,142.3M64.1,94.9L59.0,98.0M88.9,74.9L90.7,71.2M46.6,69.0L42.4,66.9M51.4,91.4L45.2,94.6M82.7,85.7L89.3,83.2M91.7,117.2L93.8,120.5M76.4,110.9L76.9,116.9M73.7,91.5L79.4,91.0M43.3,64.1L37.7,61.4" stroke="#00f" stroke-opacity="0.08" stroke-width="4" fill="none" stroke-linecap="round"/><path d="M169.8,127.1L173.3,128.9M115.9,113.7L121.6,117.3M103.1,182.9L103.6,188.6M160.1,169.5L164.4,170.3M165.5,185.2L168.8,191.1M53.3,30.9L53.6,25.3M127.1,15.7L127.9,13.0M98.6,198.7L102.7,198.0M9.5,130.0L8.4,133.7M171.4,107.0L176.6,109.6M189.2,91.4L195.0,95.0M173.6,190.1L178.6,192.6M28.2,12.6L24.4,9.6M53.4,69.5L51.6,68.5M158.4,6.5L159.5,4.4M76.2,45.7L77.3,42.6M69.8,104.4L68.7,108.8M86.7,100.5L92.8,103.9" stroke="#f00" stroke-opacity="0.08" stroke-width="3" fill="none" stroke-linecap="round"/><path d="M4.5,161.7L0.4,162.6M85.6,42.5L85.5,37.2M122.3,60.9L122.5,57.6M190.3,123.9L194.4,125.5M190.5,9.3L193.6,7.0M191.1,63.0L193.7,64.5M150.0,15.0L150.8,12.2M51.3,127.8L49.9,132.8M173.5,194.6L174.7,198.7M83.8,134.5L84.6,140.2M15.8,23.3L12.9,21.2M177.6,193.6L181.7,194.6M90.1,29.9L95.3,34.0" stroke="#00f" stroke-opacity="0.08" stroke-width="6" fill="none" stroke-linecap="round"/><path d="M40.3,3.4L37.4,-2.5M139.0,56.9L141.2,55.5M61.1,174.2L60.9,176.3M11.7,30.5L8.7,30.0M152.1,79.6L154.9,77.3M112.1,20.8L112.9,17.0M136.4,59.6L140.4,60.7M185.5,137.1L189.0,138.6M124.3,66.2L128.8,64.2M10.0,63.0L4.2,61.9M192.9,62.7L198.7,59.9M172.1,24.4L175.2,23.0M71.5,108.4L69.8,112.9M80.7,35.8L81.5,30.2M33.6,96.5L28.5,94.9M109.8,6.3L112.5,4.1M124.5,180.1L129.8,182.7M150.5,121.0L152.8,119.9M131.3,110.4L135.2,111.1M171.1,153.0L175.1,158.0M141.9,121.1L147.5,125.0" stroke="#f00" stroke-opacity="0.08" stroke-width="6" fill="none" stroke-linecap="round"/><path d="M160.8,85.9L167.2,85.6M172.9,174.0L173.7,176.5M115.9,43.9L119.1,38.2M73.1,37.9L73.1,34.6M7.1,181.7L7.5,187.3M23.8,89.7L19.0,89.2M60.9,148.8L57.0,147.6M107.1,175.4L106.1,178.3M48.0,37.9L45.0,32.8M50.4,22.6L50.3,18.4M187.5,155.5L191.7,155.2M52.8,93.7L46.2,94.5M37.3,144.8L35.2,148.8M192.8,106.1L198.3,102.2M192.4,112.2L195.3,111.1M75.7,88.2L82.1,86.7M90.1,95.5L93.1,97.4M71.2,80.5L68.9,78.2M81.0,100.7L83.0,104.7M65.9,68.8L64.8,61.7M87.5,94.3L93.0,94.1" stroke="#f00" stroke-opacity="0.12" stroke-width="4" fill="none" stroke-linecap="round"/><path d="M80.2,121.2L79.7,124.0M131.4,65.8L134.0,65.0M10.0,168.8L7.3,170.3M63.5,143.5L63.4,147.4M189.4,150.2L191.9,151.7M103.7,198.6L105.9,199.9M20.6,181.6L22.2,185.5M76.0,70.4L77.3,66.1M73.4,155.8L71.7,160.9M7.6,58.1L5.9,54.6M83.0,37.4L82.5,34.8M85.2,33.1L86.2,30.7M148.3,195.8L151.8,201.3M65.8,86.3L62.6,86.0M97.8,98.4L101.7,105.3M53.3,95.3L48.2,94.3M65.9,67.9L65.7,62.1M53.0,72.2L46.5,70.6" stroke="#00f" stroke-opacity="0.12" stroke-width="5" fill="none" stroke-linecap="round"/><path d="M43.4,170.1L42.2,173.4M14.9,82.3L12.4,78.5M85.3,63.3L83.4,59.7M192.4,105.6L197.1,106.6M51.2,21.1L47.5,17.3M123.4,170.2L125.1,175.6M128.3,83.9L134.2,87.4M56.2,104.7L54.1,108.4M8.1,30.3L7.2,28.1" stroke="#f00" stroke-opacity="0.12" stroke-width="6" fill="none" stroke-linecap="round"/><path d="M174.3,112.0L174.8,114.0M171.4,156.3L175.4,158.7M73.7,158.5L76.2,162.7M4.9,168.1L-0.6,169.6M91.8,137.2L97.6,137.5M34.1,83.1L32.0,83.3M50.8,134.0L49.6,136.4M4.0,123.5L2.0,123.9M124.7,8.3L128.6,4.3M102.5,63.8L103.6,61.0M86.1,99.7L90.0,104.7M92.8,105.6L99.6,107.5M47.5,91.0L43.6,93.8M76.4,110.7L79.4,117.2M89.6,68.4L91.8,64.5" stroke="#f00" stroke-opacity="0.12" stroke-width="5" fill="none" stroke-linecap="round"/><path d="M44.3,106.8L40.5,110.2M120.3,110.6L123.5,113.8M156.3,106.0L159.6,106.2M154.8,67.8L158.3,64.5M1.6,174.9L-1.5,174.9M78.4,93.1L81.8,99.4" stroke="#00f" stroke-opacity="0.12" stroke-width="3" fill="none" stroke-linecap="round"/><path d="M41.6,172.6L42.2,178.6M30.8,164.6L29.0,166.9M174.7,45.5L177.5,41.5M82.0,148.5L82.2,153.2M170.1,25.9L174.3,27.1M59.8,90.5L53.6,92.7M92.8,82.9L98.1,79.3M57.5,105.3L57.7,111.7M132.3,26.9L135.3,25.7M183.2,171.6L185.1,173.7M193.3,155.8L196.4,159.8M74.6,89.5L76.4,87.4M77.9,87.7L81.9,85.2M70.6,90.1L65.4,92.4M71.6,78.9L73.9,72.1M50.2,86.0L45.9,85.8M64.6,66.4L64.5,60.4M71.1,69.6L70.7,64.6M88.0,117.9L90.8,120.8" stroke="#00f" stroke-opacity="0.12" stroke-width="4" fill="none" stroke-linecap="round"/><path d="M24.2,66.1L22.0,63.8M86.4,73.9L91.2,69.2M192.1,191.9L196.4,195.6M51.0,90.9L44.6,90.2M79.2,21.9L78.5,15.2M133.2,117.3L138.5,119.0" stroke="#00f" stroke-opacity="0.12" stroke-width="6" fill="none" stroke-linecap="round"/><path d="M46.0,69.4L42.2,69.6M151.5,42.4L155.2,39.2M47.9,193.3L47.7,199.3M145.8,55.6L149.3,51.6M146.9,76.2L148.6,74.7M74.0,107.0L74.9,113.4M84.3,91.2L91.6,92.0M64.2,85.4L58.8,83.3M82.6,109.8L84.2,116.9M57.5,91.8L53.5,94.2" stroke="#f00" stroke-opacity="0.12" stroke-width="3" fill="none" stroke-linecap="round"/><path d="M70.1,98.0L63.3,98.5M92.4,86.3L97.4,84.1" stroke="#f00" stroke-opacity="0.16" stroke-width="4" fill="none" stroke-linecap="round"/><path d="M63.1,92.5L59.5,91.0" stroke="#f00" stroke-opacity="0.16" stroke-width="3" fill="none" stroke-linecap="round"/><path d="M63.1,91.9L59.6,90.7" stroke="#00f" stroke-opacity="0.16" stroke-width="5" fill="none" stroke-linecap="round"/><path d="M61.5,82.1L57.0,79.9" stroke="#00f" stroke-opacity="0.16" stroke-width="4" fill="none" stroke-linecap="round"/><path d="M74.0,89.5L76.3,83.6" stroke="#f00" stroke-opacity="0.20" stroke-width="4" fill="none" stroke-linecap="round"/><path d="M21.3,71.9L40.5,76.1" stroke="#00f" stroke-opacity="0.20" stroke-width="4" fill="none" stroke-linecap="round"/><path d="M23.5,51.6L53.3,59.1" stroke="#00f" stroke-opacity="0.24" stroke-width="4" fill="none" stroke-linecap="round"/><path d="M17.1,67.6L32.0,69.7" stroke="#f00" stroke-opacity="0.24" stroke-width="4" fill="none" stroke-linecap="round"/><path d="M36.2,107.0L59.7,108.1M42.6,63.3L70.4,71.9M100.2,93.2L117.3,93.2M91.7,101.7L93.8,135.8M153.5,120.9L168.4,122.0" stroke="#00f" stroke-opacity="0.32" stroke-width="4" fill="none" stroke-linecap="round"/><path d="M162.0,115.6L170.6,116.6" stroke="#f00" stroke-opacity="0.32" stroke-width="4" fill="none" stroke-linecap="round"/><path d="M44.8,101.7L59.7,101.7" stroke="#f00" stroke-opacity="0.40" stroke-width="5" fill="none" stroke-linecap="round"/><path d="M104.5,80.4L110.9,81.4M100.2,114.5L104.5,118.8" stroke="#f00" stroke-opacity="0.40" stroke-width="4" fill="none" stroke-linecap="round"/><path d="M115.1,119.8L117.3,122.0" stroke="#f00" stroke-opacity="0.48" stroke-width="4" fill="none" stroke-linecap="round"/><path d="M117.3,88.9L120.5,91.0" stroke="#00f" stroke-opacity="0.48" stroke-width="4" fill="none" stroke-linecap="round"/><path d="M75.7,114.5L83.2,118.8" stroke="#f00" stroke-opacity="0.56" stroke-width="5" fill="none" stroke-linecap="round"/><path d="M105.5,101.7L108.7,106.0" stroke="#00f" stroke-opacity="0.56" stroke-width="4" fill="none" stroke-linecap="round"/><path d="M67.2,71.2L73.6,71.9" stroke="#00f" stroke-opacity="0.64" stroke-width="4" fill="none" stroke-linecap="round"/><path d="M66.1,101.1L83.2,101.1" stroke="#f00" stroke-opacity="0.80" stroke-width="4" fill="none" stroke-linecap="round"/><path d="M62.9,107.7L74.6,108.5" stroke="#00f" stroke-opacity="0.80" stroke-width="4" fill="none" stroke-linecap="round"/><path d="M68.2,78.7L76.8,78.7M65.0,88.9L83.2,90.6" stroke="#f00" stroke-opacity="0.88" stroke-width="4" fill="none" stroke-linecap="round"/><path d="M65.0,83.6L76.8,84.6M74.6,95.7L87.4,95.7" stroke="#00f" stroke-opacity="0.88" stroke-width="4" fill="none" stroke-linecap="round"/></g></g>
<rect x="955.4" y="1412.6" width="200.3" height="200.3" fill="none" stroke="#444" stroke-width="1.1" />
<text x="779.1" y="1408.6" font-size="10.95" fill="#262626" textLength="78.0" lengthAdjust="spacingAndGlyphs" >6h old IR Data</text>
<text x="995.5" y="1408.6" font-size="10.95" fill="#262626" textLength="120.2" lengthAdjust="spacingAndGlyphs" >SHAP Value=-5.94 kts</text>
<line x1="715.0" y1="1421.0" x2="718.0" y2="1421.0" stroke="#444" stroke-width="0.8" />
<line x1="952.4" y1="1421.0" x2="955.4" y2="1421.0" stroke="#444" stroke-width="0.8" />
<text x="701.3" y="1424.1" font-size="8.3" fill="#262626" textLength="10.6" lengthAdjust="spacingAndGlyphs" >26</text>
<line x1="715.0" y1="1452.4" x2="718.0" y2="1452.4" stroke="#444" stroke-width="0.8" />
<line x1="952.4" y1="1452.4" x2="955.4" y2="1452.4" stroke="#444" stroke-width="0.8" />
<text x="701.3" y="1455.5" font-size="8.3" fill="#262626" textLength="10.6" lengthAdjust="spacingAndGlyphs" >25</text>
<line x1="715.0" y1="1483.9" x2="718.0" y2="1483.9" stroke="#444" stroke-width="0.8" />
<line x1="952.4" y1="1483.9" x2="955.4" y2="1483.9" stroke="#444" stroke-width="0.8" />
<text x="701.3" y="1487.0" font-size="8.3" fill="#262626" textLength="10.6" lengthAdjust="spacingAndGlyphs" >24</text>
<line x1="715.0" y1="1515.3" x2="718.0" y2="1515.3" stroke="#444" stroke-width="0.8" />
<line x1="952.4" y1="1515.3" x2="955.4" y2="1515.3" stroke="#444" stroke-width="0.8" />
<text x="701.3" y="1518.4" font-size="8.3" fill="#262626" textLength="10.6" lengthAdjust="spacingAndGlyphs" >23</text>
<line x1="715.0" y1="1546.5" x2="718.0" y2="1546.5" stroke="#444" stroke-width="0.8" />
<line x1="952.4" y1="1546.5" x2="955.4" y2="1546.5" stroke="#444" stroke-width="0.8" />
<text x="701.3" y="1549.6" font-size="8.3" fill="#262626" textLength="10.6" lengthAdjust="spacingAndGlyphs" >22</text>
<line x1="715.0" y1="1577.8" x2="718.0" y2="1577.8" stroke="#444" stroke-width="0.8" />
<line x1="952.4" y1="1577.8" x2="955.4" y2="1577.8" stroke="#444" stroke-width="0.8" />
<text x="701.3" y="1580.9" font-size="8.3" fill="#262626" textLength="10.6" lengthAdjust="spacingAndGlyphs" >21</text>
<line x1="715.0" y1="1609.0" x2="718.0" y2="1609.0" stroke="#444" stroke-width="0.8" />
<line x1="952.4" y1="1609.0" x2="955.4" y2="1609.0" stroke="#444" stroke-width="0.8" />
<text x="701.3" y="1612.1" font-size="8.3" fill="#262626" textLength="10.6" lengthAdjust="spacingAndGlyphs" >20</text>
<line x1="718.9" y1="1612.9" x2="718.9" y2="1615.9" stroke="#444" stroke-width="0.8" />
<line x1="956.3" y1="1612.9" x2="956.3" y2="1615.9" stroke="#444" stroke-width="0.8" />
<text x="711.0" y="1625.2" font-size="8.3" fill="#262626" textLength="15.8" lengthAdjust="spacingAndGlyphs" >121</text>
<line x1="747.7" y1="1612.9" x2="747.7" y2="1615.9" stroke="#444" stroke-width="0.8" />
<line x1="985.1" y1="1612.9" x2="985.1" y2="1615.9" stroke="#444" stroke-width="0.8" />
<text x="739.8" y="1625.2" font-size="8.3" fill="#262626" textLength="15.8" lengthAdjust="spacingAndGlyphs" >122</text>
<line x1="776.4" y1="1612.9" x2="776.4" y2="1615.9" stroke="#444" stroke-width="0.8" />
<line x1="1013.8" y1="1612.9" x2="1013.8" y2="1615.9" stroke="#444" stroke-width="0.8" />
<text x="768.5" y="1625.2" font-size="8.3" fill="#262626" textLength="15.8" lengthAdjust="spacingAndGlyphs" >123</text>
<line x1="805.4" y1="1612.9" x2="805.4" y2="1615.9" stroke="#444" stroke-width="0.8" />
<line x1="1042.8" y1="1612.9" x2="1042.8" y2="1615.9" stroke="#444" stroke-width="0.8" />
<text x="797.5" y="1625.2" font-size="8.3" fill="#262626" textLength="15.8" lengthAdjust="spacingAndGlyphs" >124</text>
<line x1="834.2" y1="1612.9" x2="834.2" y2="1615.9" stroke="#444" stroke-width="0.8" />
<line x1="1071.6" y1="1612.9" x2="1071.6" y2="1615.9" stroke="#444" stroke-width="0.8" />
<text x="826.3" y="1625.2" font-size="8.3" fill="#262626" textLength="15.8" lengthAdjust="spacingAndGlyphs" >125</text>
<line x1="863.1" y1="1612.9" x2="863.1" y2="1615.9" stroke="#444" stroke-width="0.8" />
<line x1="1100.5" y1="1612.9" x2="1100.5" y2="1615.9" stroke="#444" stroke-width="0.8" />
<text x="855.2" y="1625.2" font-size="8.3" fill="#262626" textLength="15.8" lengthAdjust="spacingAndGlyphs" >126</text>
<line x1="891.9" y1="1612.9" x2="891.9" y2="1615.9" stroke="#444" stroke-width="0.8" />
<line x1="1129.3" y1="1612.9" x2="1129.3" y2="1615.9" stroke="#444" stroke-width="0.8" />
<text x="884.0" y="1625.2" font-size="8.3" fill="#262626" textLength="15.8" lengthAdjust="spacingAndGlyphs" >127</text>
<g transform="translate(718.0,1649.9) scale(1.0015)" clip-path="url(#cp)"><g filter="url(#bl)"><g transform="scale(0.5)"><rect width="400" height="400" fill="#7c7c7c"/><path d="M0,0l400,0 0,400-400,0zM229,58l-1,2 0,3 4,5 1,-2 0,-6-1,-1zM247,45l-7,6-1,6 2,9-3,3-2,0-1,3 3,1 3,1 3,-1 3,-3 1,-4 0,-9 1,-9-1,-3z" fill="#8c8c8c"/><path d="M0,0l95,0-3,6 0,6 7,2 14,-5 0,-3-2,-3-4,-3 36,0 1,9-2,21-1,2-6,2-6,3-6,-2-3,0 0,1 0,3 2,3 9,9 1,12 3,7 3,1 7,-2 3,-3 0,-3-3,-3 0,-3 3,-3 11,-5 3,1 3,1 0,2 3,1 3,-6-3,-1-1,-2-3,-6-1,-3 2,-6 8,-12 1,-3-2,-3-4,-3-3,-1-3,1-3,-2-1,-4-5,-3 85,0-2,9 0,6 2,6 7,9 2,3-2,6-5,6-8,4-9,0-3,-1-4,-6-4,-18-1,-3-13,-13-4,4 0,3 2,3 6,3 1,6-1,3-4,1-3,-1 0,6 6,12 4,2 7,10 0,6-4,12 6,2 18,0 12,5 12,0 6,2 3,4 3,-4 0,-3-2,-9 1,-3 10,-6 1,-3 0,-3-4,-1-9,-1-3,4-3,1-5,-3 0,-3 2,-12-1,-9 4,-3 9,-2 12,-8 14,-5 10,-5 9,-7 4,-6 45,0 11,14 3,0 6,-3 6,0 3,-2-1,-9 10,0 0,338-3,2-8,12-2,21 1,7 3,1 4,-5 5,0 0,24-400,0zM232,247l-3,3-4,6 7,3 3,3 0,-3 0,-9 0,-2zM247,95l-4,4 4,3 9,-2 4,-4-7,-1zM280,370l-3,2-6,1-4,3-1,3 2,2 8,-2 6,-3 3,-6-2,-3zM295,192l-1,0-2,6 1,4 2,0 6,-6 4,-1 0,-3-4,-2-3,0zM370,27l-6,7-9,3-15,8-6,1-10,-1-10,9 2,7 6,3 3,-1 1,-3 5,-6 3,-2 3,-1 6,2 9,6 9,-2 12,3 3,-1 5,-5 4,-5 2,-13-1,-3-9,-6-4,-1zM229,319l-3,3-1,6 7,1 6,-3 0,-1-1,-3zM235,268l-3,4-1,8 4,2 3,-1 0,-1zM316,120l-4,3-3,6 3,6-2,9 2,3 7,2 3,-1 12,-9 0,-7-7,-3-8,-9zM349,376l-3,1-3,2-1,6 1,4 3,5 3,1 3,-2 4,-11-1,-4-3,-2zM361,341l-2,2-1,3 3,1 1,-4zM319,162l-10,3-2,9 2,6 1,7 6,6 3,0 0,-9-2,-4-1,-6 0,-3 5,-6-1,-3zM369,42l7,-1 3,4-3,3-6,1-4,-4z" fill="#9e9e9e"/><path d="M8,0l56,0-5,6-1,3 2,3 3,1 10,-1 8,-7 3,1 1,3-1,4-2,8-1,6 1,3 14,9 9,5 5,4 10,3 3,3 9,18 3,4 6,-1 9,-3 9,-2 12,1 9,2 3,2 3,3 4,6 5,5 3,0 13,-3 12,1 3,2 1,1 2,12 4,3 17,9 16,6 3,3 2,6 2,3 15,12 1,6-6,15 1,3 2,1 9,-6 3,0 3,2 2,3 0,12-1,3-7,6-7,0-3,16 1,1 9,1 6,-8 3,0 4,3 2,9 2,3 10,5 1,-2-3,-6 0,-6 5,-5 6,0 5,5 2,3 0,6 2,0 6,-2 6,0 15,6 3,2 3,7 3,4 3,0 8,-2 13,-7 0,106-9,0-1,3 0,9-2,6-1,15-2,12-1,18-2,3-5,6-21,0 1,-9 4,-15 0,-9-3,-3-6,4-6,0-3,-1-4,-6-2,-7-3,-2-2,6-1,1-5,-4-1,-1-1,1 0,3 4,4 7,14 4,18-2,6-73,0 1,-6 11,-9 16,-3 3,-2 12,-13-1,-3-5,-3-6,1-6,-1-15,7-15,1-3,4 0,6-2,6-4,3-3,0-6,-3 3,-9-3,-2-24,6-9,-2-5,-2-1,-3 2,-12 7,-6-1,-3-2,-3-3,-1-3,1-7,6 0,3 3,13 3,2-2,6 0,15-6,6-193,0 0,-379 3,-9 5,-9zM162,378l0,10 3,3 0,-4zM220,205l-3,2 0,4 8,12 1,6-8,27 0,3 2,4 6,2 0,3-6,12-10,3-3,3 5,9 2,6-1,3-2,2-6,0-3,3 0,4 5,6-13,15 1,3 7,-3 6,-1 3,4 3,6 5,3 7,0 6,-3 18,-17 3,-1 6,2 3,0 9,-7 7,-4 1,-3-14,-18-3,-3-6,-1-3,-3-4,-8-7,-12 0,-6 4,-12 4,-7 6,-5 6,3 3,0 4,-3 1,-3-11,0-3,-2-2,-4-1,-9-2,-3-1,-1-9,2-6,0-6,-5-6,-7zM289,224l-2,2-2,6 4,6 3,3 3,0 2,-6-1,-6-4,-6zM301,249l-3,2-3,8-3,3-10,3-2,3 6,4 3,5 1,9 11,10 6,1 5,-2 5,-9-1,-3-3,-3-3,-7-3,-20zM325,219l-2,1 2,0 3,1 2,-1zM340,328l-3,0-3,9 1,6 2,5 3,2 12,1 6,5 3,-2 4,-11 7,-9 2,-3-1,-2-9,0-15,2zM195,113l-1,1 1,1 11,-1zM119,0l12,0 4,4 3,5 0,9-5,6-4,2-9,0-15,4-2,-3-1,-3 1,-3 5,-3 9,-1 2,-2 2,-6zM206,0l25,0-3,9 1,6-1,6 10,11 1,7-2,3-2,1-3,0-9,-4-1,-3 0,-15-12,-12zM321,0l36,0 11,18-2,3-8,5-2,4-2,3-11,8-6,2-12,-1-14,9-1,3 4,15 0,6-2,9-3,6-2,3-3,1-6,-1-6,2-3,-1-8,-4-2,-3 0,-3 1,-3 3,-2 6,-1 1,-3 1,-3-2,-12-2,-3-16,-6-4,-3-3,-3-1,-6 6,-6 14,-8 12,-3 13,-7 10,-9zM394,0l6,0 0,14-4,-5zM177,24l3,-2 3,0 4,2 0,6-3,6-4,4-6,3-3,-1-3,-3 0,-6zM397,36l3,-3 0,183-12,4-3,0-8,-3-2,-6-3,-3-8,-5-7,-8-4,0-7,2-9,0-3,0-3,-3-4,-17 4,-15-6,-9 0,-3 3,-3 8,-3 2,-3 0,-15-1,-3-3,3-3,1-5,-4-8,-12-1,-3-1,-6 1,-3 5,-1 3,-2 10,-15-6,-18 0,-3 5,-6 3,-1 3,0 12,11 9,0 12,5 3,-2 4,-7 10,-9zM223,289l3,-2 3,0 18,5 5,3 1,3-1,6-5,11-6,0-9,-2-6,-3-4,-3-2,-6zM390,394l1,-1 2,1-2,4-1,-1zM220,397l3,-2 3,0 3,0 3,5-14,0z" fill="#afafaf"/><path d="M212,0l11,0-3,4-3,0-3,-1zM324,3l1,-3 29,0 2,6 5,9-1,3-5,4-4,11-8,7-6,2-12,-1-3,1-14,9 4,15 0,9-5,12-3,2-3,0-6,-5-5,-27-1,-1-18,-9-4,-5 0,-3 2,-3 4,-3 13,-7 12,-3 12,-5 7,-6zM18,6l3,-1 3,0 9,7 6,2 6,1 9,5 12,-2 7,0 3,3 2,9 3,3 18,11 9,8 12,6 5,5 6,12 4,3 3,1 12,-2 6,3 1,-2 5,-3 6,0 9,2 4,4 1,9-2,6 0,13 3,5 6,6 9,3 7,5 3,0 12,-12 12,-3 6,1 8,3 9,6 7,7 3,8 19,9 1,3-1,3-6,12 0,3 3,6 0,9 4,9-1,6-3,7 0,3 6,6 0,3-7,6-12,4-3,1-3,-1-2,-1 0,-9-1,-5-2,-1-4,-1-15,4-3,-1-6,-4-6,-9-6,-2-6,0 1,13 4,18 1,18-3,12 1,12-1,4-9,3-3,5-1,3 8,12-1,4-7,2-1,6 3,9-1,3-1,3-9,9-1,3 4,9-3,9 4,12 1,9-3,15-8,6-1,3-185,0 0,-373 4,-3 5,-10zM162,369l-3,9-1,10 1,6 2,3 4,2 3,0 1,-8zM250,144l-1,3 4,2 2,-2 1,-3-3,-1zM171,33l6,-2 3,2-1,3-3,3-4,0-2,-3zM397,48l3,-2-1,17 1,4 0,141-9,8-3,1-3,0-5,-3 1,-6-14,-5-9,-9-3,-1-9,1-10,-2-5,-15 1,-6 5,-9-8,-9 0,-3 2,-1 10,-2 2,-3-2,-12 1,-9 4,-8 5,-4-2,-1-3,1-15,13-3,-2-4,-5-4,-6-1,-6 12,-14 3,-3 8,-4 3,-3-1,-3-1,-2-6,-2-3,-3-3,-5-1,-3 1,-3 3,-4 3,-1 3,0 3,2 6,8 18,6 9,6 3,-1 1,-10 2,-3 10,-9zM358,141l-4,3-1,3 4,0 4,-3 1,-3-1,-1zM370,111l-6,3 3,7 3,-2 3,-4 6,1 1,-2-1,-3zM295,165l3,0 3,1 2,2 0,6-3,9-5,5-3,0-4,-2-2,-3-2,-6 2,-6 6,-5zM300,202l4,-2 4,5 0,9 2,4 18,10 3,0 9,-7 6,-3 6,0 9,4 4,4 1,3-2,9 1,3 2,0 6,1 3,-1 8,-6 16,-7 0,90-6,-1-5,2-4,3 3,15-2,12 0,12-7,28-8,11-12,0 0,-12 4,-15-1,-15 4,-15 15,-18-2,-1-9,0-18,5-12,-5-9,1-2,3-2,9-7,15 0,9-1,3-3,3-3,-1-12,-10-3,-1-6,2-18,9-18,0-3,0-9,-14-3,0-3,0-3,3 3,6-1,3-1,3-4,4-9,4-6,0-6,-1-4,-4 0,-3 1,-4 12,-10 12,-5 5,-8 10,-8 6,-3 6,1 3,-1 9,-8 10,-5 2,-3-1,-3-5,-6-2,-6 0,-3 4,-9-8,-5-3,-1-9,4-3,-1-10,-15-1,-3 2,-6 3,-5 3,-2 3,-1 12,1 3,-2 6,-7 3,-2 3,1 3,5 1,6-4,4-7,2-2,3-2,6 1,3 10,1 5,5 0,3-1,3-4,3 2,3 5,3 8,8 6,1 9,-3 9,-6 2,-3 1,-3 0,-6-3,-6-5,-6-2,-12-3,-6-9,-12-3,-15-4,-9 1,-6zM327,202l4,0 3,1 2,5-1,6-4,3-3,0-3,-1-3,-5-1,-3 1,-3 3,-3zM226,295l3,-3 3,0 12,4 1,2 1,3-1,6-4,3-3,1-9,-3-4,-4zM314,370l2,-2 6,2 6,6 2,3 4,12-1,3-6,6-14,0-9,-1-5,-5 0,-6 3,-6 5,-7zM282,388l4,0 3,3-3,2-3,1-4,-3z" fill="#c3c3c3"/><path d="M330,3l1,-3 19,0 0,6-1,3-3,2-18,4-1,0-1,-3zM345,15l1,-2 3,0 6,2-3,6-2,9-5,6-8,5-9,-1-6,1-15,7-2,3 4,6 2,15-4,11-3,3-3,-1-3,-4-5,-15-2,-12-17,-8-3,-4-1,-3 4,-4 15,-8 12,-2 18,-7 7,3 11,0zM17,18l13,0 12,2 12,5 9,-2 6,1 5,9 13,6 13,9 13,15 4,9 3,1 15,9 12,2 9,7 7,-1 4,-3 1,-6 3,-1 3,1-2,9 4,9 2,15 8,9 10,3 9,9 3,0 6,-6 15,-7 6,-1 3,0 6,4 1,4-3,6-7,9 9,6 6,7 3,3 3,0 9,-8 3,-1 9,0 3,2-2,6-4,6 0,3 3,6 0,9 5,9 0,3-5,13 0,9-3,3-3,0-5,-3-2,-6 0,-9-2,-2-21,10-6,0-4,-2-8,-11-9,-6-3,-5-1,-3-2,-1-5,1 0,3 1,12 8,28 0,21-3,18-2,3-11,6-1,3 1,6 3,6 5,6 1,3-3,2-4,6 3,16-12,15 0,15 0,3 5,9 1,12-4,12-12,12-5,0-1,-3-10,-27-1,-6-3,-7-1,4 0,12-3,15-2,4-7,8-13,0-1,-2-3,2-129,0 0,-368 6,-2 9,0 2,-3-2,-6zM135,390l-2,1 2,3 4,-3zM220,144l-3,1-2,2 1,3 4,2 3,0 5,-5-1,-3zM334,57l3,-1 4,1 8,13 17,5 2,3-3,6 1,3 4,4 3,-1 6,-6 3,0 2,-15 1,-2 6,-4 9,15 0,67-2,5-1,6 3,11 0,11-6,1-3,1-3,6 0,9-2,3-4,3-6,2-6,-1-6,-4-6,-6-3,-1-6,1-9,-3-2,-3-4,-9 1,-6 5,-4 2,-5-1,-6 1,-3 7,-3 6,1 3,-1 6,-6 4,-12 8,-12 6,2 3,-2-3,-13-21,3-12,-3-4,1-14,13-3,-1-3,-4-4,-8 2,-6 8,-9 3,-3 9,-3 3,-3 2,-3 0,-3-2,-5-9,-2-5,-5 0,-6zM348,120l4,-2 3,0 3,2 1,6-1,6-2,3-4,3-3,0-3,-3-1,-6 1,-5zM290,168l5,-2 3,0 3,2 2,3-4,12-4,3-3,1-4,-4-2,-6 1,-6zM302,202l3,0 2,3 0,3-1,6-2,2-3,-1-2,-4 0,-6zM323,205l2,-2 6,-1 3,3 2,3 0,3-5,5-3,0-3,-1-3,-4zM310,226l3,-1 3,1 6,8 3,1 6,-2 9,-6 3,-1 12,0 3,3 1,3 0,9 2,2 12,4 6,0 9,-9 12,-1 0,62-7,11-8,6-6,3-6,1-12,6-6,2-6,-1-12,-5-12,3-4,3-4,21 1,12-2,3-6,-1-5,-5-1,-5-3,-2-3,0-6,2-12,9-6,3-9,0-9,-3-4,-4-3,-6-2,-3-9,0-3,-3 4,-6 11,-8 9,0 3,-1 9,-9 13,-6 5,-8 3,-3 18,-4 12,-6 3,-3 3,-5 2,-7-1,-3-10,-24-1,-9-1,-3-7,-4-3,-5 0,-3zM252,259l4,-1 6,4 2,3 0,3-2,3-3,1-6,-2-3,-2-1,-3 0,-3zM275,274l5,-2 3,1 4,4 0,3-4,3-6,-1-3,-2-1,-3zM232,301l3,-3 3,1 2,2 0,3-2,2-3,0-3,-2zM382,328l3,1 2,8-3,9 1,12-2,9-3,12-10,17-3,4-4,0-2,-5 0,-4 3,-15 0,-18 2,-12 4,-6 9,-10zM218,358l5,-2 9,1 3,4-1,3-8,7-3,1-6,1-5,-3-1,-3 0,-3zM313,379l3,-2 3,0 2,2 2,3-1,6-3,2-3,0-5,-2-1,-3z" fill="#dadada"/><path d="M338,3l2,-1 2,1 1,3-6,3-2,-3zM345,18l4,0-1,12-4,6-4,2-6,1-9,-1-21,9-9,-1-9,2-9,-3-3,-3 0,-3 2,-3 13,-7 15,-1 12,-6 15,2 6,-1 5,-2zM32,27l4,-1 6,0 10,7 14,1 18,6 6,4 6,4 6,9 0,6-3,9 3,6 6,2 18,2 6,2 3,3 1,3 0,6 2,2 3,1 9,-2 18,-2 3,3 3,4-1,12 3,3 13,15 3,0 16,11 1,1 2,7 6,3 3,5 4,-6 5,-2 3,-1 6,0 3,2 12,12 9,4 6,1 6,6 1,11 5,6 0,3-3,5-3,2-3,0-6,-6-6,-1-14,10-7,2-3,-1-3,-2-15,-18 0,-9-3,-9-3,3-3,7-3,3-7,2 3,19 3,12 4,9 0,6-1,3-5,3-2,3 5,12-1,9-1,3-5,1-3,-1-4,-9-2,-1-3,1 0,6 3,18 10,18-1,12 2,12-2,6-9,9-3,11 1,7 7,12 0,6 0,6-6,12-8,7-3,2-3,-1-1,-2-3,-6-6,-21-2,-12 3,-23-7,8 0,9-2,9 1,15-5,15-1,3-4,2-3,1-1,-6-2,-1-12,0-12,1-9,3-2,3 1,6-107,0 0,-355 3,0 12,-6zM162,315l-2,4 0,3 2,4zM183,135l-3,3-1,3 1,6 3,1 3,0 4,-4 2,-9-3,-3-3,1zM297,54l4,-1 3,0 3,3 1,4 1,9 0,6-2,5-3,3-3,-2-2,-3-6,-15 1,-6zM334,60l3,-3 3,1 3,5 0,3-3,3-3,0-3,-3-1,-3zM352,78l3,-2 6,3 3,8 2,3 4,2 3,0 6,-3 3,0 3,2 3,-14 9,2 3,2 0,59-4,4-2,7-3,2-6,-10-3,13 3,4 9,4 3,4 0,3-12,15-1,9-3,3-5,2-6,0-3,-1-9,-8-3,-1-6,0-6,-3-3,-3-4,-7 1,-4 7,-8 2,-9 3,-3 9,0 7,-6 1,-3 2,-9 5,-7 3,-3 3,-1 4,5 2,6 2,-6 1,-12-6,-15-2,3-4,2-15,1-12,-3-6,3-12,9-3,0-3,-4-2,-5 0,-3 4,-6 7,-7 12,-5zM292,168l3,-1 3,0 2,1 2,3-2,9-2,3-3,3-3,0-3,-3-2,-6 0,-3zM300,205l4,-3 2,3 0,6-2,2-3,-1-1,-1zM324,205l4,-2 3,0 3,3 1,2 0,3-4,4-3,0-5,-4 0,-3zM334,241l3,-3 3,0 5,3 7,1 8,5 16,4 6,0 9,-7 3,0 6,3 0,43-3,4-3,7-6,8-6,5-9,3-9,7-6,3-6,0-12,-5-6,-1-21,7-1,3 3,3 0,3-2,12 3,4 2,5-2,4-3,1-4,-2-3,-6 0,-6-2,-2-3,0-7,2-8,8-9,6-9,1-10,-3-5,-6-1,-6-5,-2-6,0-2,-1 0,-3 8,-7 6,-2 6,0 12,-10 15,-7 5,-7 4,-3 18,-6 12,-6 9,-15-1,-12-4,-9-1,-9 1,-3zM279,274l4,0 2,3 0,3-2,2-3,0-3,-2-2,-3zM380,331l2,-1 1,1 2,6-2,9 1,12-1,6-5,15-11,13-3,1-1,-5 3,-15-1,-15 3,-12 2,-5zM216,361l4,-2 6,-1 3,1 2,2 0,3-3,3-5,3-3,1-4,-1-3,-3 1,-3z" fill="#f3f3f3"/><path d="M340,24l5,0 1,6-3,5-6,3-12,-1-21,8-9,-2-15,1-2,-2 0,-3 5,-2 9,-7 12,0 12,-5zM38,30l4,1 10,5 29,6 9,4 6,5 3,6 0,6-2,6-1,3 3,6 3,3 13,3 5,3-6,9 1,3 5,2 6,-1 8,8 4,1 6,-5 12,-1 9,-2 3,1 2,3-3,9 0,3 7,4 5,5 0,3-6,9 0,3-2,18 3,3 9,0 3,1 3,3 4,14-1,9 0,3 3,6 1,4-1,3-9,9 0,3 3,2 9,-1 4,0 3,4 0,4-2,3-6,3-3,3-2,8-6,-1-6,-5-3,1-1,6 1,3 4,6 2,15 1,3 14,24-1,12 2,12-2,6-8,9-3,9 0,9 0,3 7,9 0,9-6,15-4,4-3,2-3,0-3,0-3,-6-7,-21-1,-12 4,-21-1,-6-2,-3 0,-6 7,-13 2,-5 5,-6 2,-6-3,-4-6,-2-6,-5-3,0-2,2 2,6 12,9-16,21-1,3 4,12-1,3-6,6 0,3 0,15 2,12-3,7-3,6-3,3-3,-2-6,2-12,-2-14,4-4,2-3,3-1,7-104,0 0,-353 6,-1 8,-4 13,-8zM296,57l5,-2 3,0 3,4 1,13-1,5-3,3-3,-2-6,-12-1,-6zM335,60l2,-1 3,1 1,3-1,3-4,0-2,-3zM354,81l4,0 6,9 6,4 3,0 6,-2 3,1 0,3-2,6-4,3-3,1-9,0-15,-2-18,11-3,-1-3,-4 0,-5 6,-9 3,-2 12,-5zM390,84l1,-1 3,-1 6,2 0,53-9,8-2,-4-1,-3 2,-21-4,-9 0,-3 2,-9zM124,90l2,-2 3,2-1,3-2,1zM373,129l3,-2 3,1 2,4 0,18-2,6 6,8 6,4 1,3-2,6-7,9 0,6-2,3-2,2-6,2-3,-1-15,-10-9,-3-6,-5-1,-3 0,-3 5,-6 5,-11 3,-2 6,0 10,-8 0,-9 3,-6zM227,153l8,-1 6,2 21,22 3,2 3,0 2,2 1,6 5,6 0,3-2,2-6,-5-9,-2-5,2-9,10-4,2-6,-1-3,-1-10,-16-2,-15 0,-3 2,-9zM209,156l5,0 1,0 0,3-1,3-4,6-4,9-4,2-4,0-1,-2-1,-3 0,-6 6,-8 3,-3zM293,168l5,-1 3,4-2,9-4,5-3,0-3,-4-2,-4 2,-6zM302,205l2,-2 1,2 0,3-1,4-3,-3zM325,205l3,-2 3,1 3,4 0,3-3,3-3,1-4,-4-1,-3zM334,244l3,-3 3,1 6,7 3,-2 6,0 15,5 9,5 3,1 12,-7 6,1 0,30-5,7-4,11-9,10-9,5-9,8-6,3-6,0-9,-4-9,-1-6,1-19,6-4,3 2,4 2,2 1,3-4,3-14,6-6,7-6,4-6,2-6,1-9,-3-4,-5 1,-3 3,-3 0,-2-6,1-9,-3-3,-2 2,-3 7,-4 3,-1 3,2 3,-1 15,-13 12,-4 9,-11 20,-7 12,-6 7,-12 4,-3 0,-9 5,-6 1,-3-1,-4-6,6-3,-1-2,-1-1,-3 0,-9 0,-3zM277,277l3,-2 3,0 1,2-1,3-3,0zM379,334l3,-2 2,5-2,9 1,15-6,18-4,4-6,4-1,-2 1,-12-1,-12 3,-15 1,-4zM308,355l2,-3 3,0 3,4 0,2 0,2-3,2-2,-1-3,-3zM218,361l5,-2 3,0 2,2 0,3-5,5-3,0-4,-2-1,-3z" fill="#00dbff"/><path d="M314,27l11,-1 15,0 3,1 1,3-2,3-4,3-13,0-15,6-6,1-14,-4-1,-3 3,-3 3,-1 9,0zM29,36l10,-2 3,0 9,4 18,4 21,6 3,3 3,6 0,5-3,7 3,9 6,6 11,3 0,3-4,6 0,3 2,3 12,5 6,3 12,13 3,2 6,-1 6,-3 16,5 0,3-4,4-2,5 3,9 0,12 2,5 3,1 6,1 4,2 2,12-2,12 5,10-2,3-7,6-2,3 5,12-9,7-1,5 0,6 6,15-1,9 1,6 1,1 3,-1 11,15 3,6 0,12 1,12-2,6-8,9-2,6-1,12 0,3 7,9 0,6 0,3-4,6-3,9-5,4-3,1-3,-2-1,-3-6,-15-3,-12 0,-6 4,-21-3,-12 0,-3 9,-15 7,-9 0,-3-1,-8-3,-6-9,-4-6,1-4,5 0,3 7,9 0,3-7,15-5,6 0,3 5,9 0,3-1,3-4,2-3,1-6,-4-3,1-4,3 0,3 1,2 9,4 4,6 3,18-4,6-3,1-6,-3-1,2 1,6-3,2-12,-1-16,5-5,3-3,9-12,0-12,-9-3,3-1,6-74,0 0,-352 3,0 15,-5zM123,372l0,1 3,1 4,-1-4,-1zM298,57l3,-1 3,0 2,4 1,12-3,5-3,-2-5,-9 0,-6zM354,84l4,0 4,6 5,4 3,1 9,1 0,3-2,3-4,2-9,1-9,-3-6,0-18,10-3,-1-2,-3 0,-3 5,-7 3,-2 12,-5zM392,87l2,-2 3,0 3,3 0,13-2,7 2,6 0,20-6,2-1,-1-2,-9 0,-12-3,-6 0,-3zM372,132l4,-2 3,2 0,18-4,6 7,9 7,6 1,3-3,6-5,3-1,9-2,3-3,1-3,0-6,-2-15,-10-6,-2-4,-5 0,-3 8,-15 2,-1 9,-3 6,-4 3,0 1,-1-2,-9zM227,156l5,-2 6,1 18,18 2,4 0,6-2,3-7,6-5,6-3,2-3,1-5,-3-7,-12-2,-24zM206,159l5,-1 1,1 0,3-7,15-3,1-4,-4-1,-3 5,-7zM294,168l4,0 2,3 0,3-2,7-3,3-3,0-3,-4-1,-6 2,-3zM327,205l4,0 2,3 0,3-2,3-3,0-3,-3-1,-3zM336,244l1,-1 3,1 2,3 1,3-1,6-1,3-4,3-3,-1-2,-2 0,-6 0,-6zM349,253l3,-2 3,0 12,3 4,5 4,6 4,3 3,0 10,-9 5,-1 3,1 0,6-2,12-7,12-1,6-2,4-15,14-9,10-9,3-3,-1-9,-4-6,-1-23,5-8,3-3,3 2,9-3,3-10,5-12,11-6,2-6,0-9,-3-2,-3 3,-6-1,-12 2,-3 13,-10 14,-5 7,-10 31,-11 5,-6 3,-6 3,-2 3,0 2,-1 2,-9 5,-9zM346,296l-2,2-1,3 3,1 5,-1 1,-4-3,-1zM378,337l3,0-1,12 2,6 0,6-6,17-6,5-2,-1-1,-21 3,-15 3,-5zM246,340l4,-3 3,0 3,6 0,1-3,1-8,-2zM309,355l4,-1 2,4-2,2-4,-2zM221,361l4,0 1,3-3,3-3,1-3,-4z" fill="#0092ff"/><path d="M321,27l14,0 5,1 1,2-1,3-3,2-12,0-9,3-9,2-7,-1-7,-3 5,-2 6,1 9,-6zM28,39l14,-1 27,7 10,6 2,5 4,-5 2,-1 3,1 3,6-1,3-2,2-2,4 8,15 10,9-2,6 0,3 3,3 7,5 9,3 6,4 6,10 4,2 8,2 12,-1 5,2-1,9 4,12-1,9 1,3 6,9 0,9 4,6 4,16-7,6-2,6 3,9-4,7 0,11 0,4 5,11 0,6-21,18 6,12-2,4-3,1-18,1 6,0 3,2 5,7 0,3-4,6 0,3 7,9 0,3-2,1-3,0-6,-2-3,1-6,3-2,3 0,3 5,6 11,6 2,9 0,9-1,1-3,1-9,-5-12,-1-6,2-3,5 9,6-3,3-15,6-3,2-3,4-1,6-9,0-11,-10-3,-2-3,0-3,4-2,8-17,0-5,-2-4,2-44,0 0,-350 18,-5zM297,60l4,-3 3,1 1,2 1,9-2,5-3,-1-3,-5-2,-5zM354,87l4,1 9,8 8,3-2,3-9,1-9,-3-6,0-3,0-6,5-6,3-4,0-1,-3 2,-4 3,-4 3,-1 9,-1zM394,90l3,-1 2,4 0,6-3,9 3,12 0,6-2,4-3,-1-1,-3 1,-12-4,-6 0,-3zM374,132l2,0 1,0 1,3 0,12-2,4-3,-2-2,-2-1,-6 1,-6zM231,156l5,0 5,4 11,11 4,6-1,6-2,3-3,3-6,1-6,4-3,-1-3,-4-3,-6-1,-6 2,-9-2,-9zM363,156l4,-2 3,1 7,7 1,3-4,6 0,3 2,4 3,-2 1,-5 2,-1 3,0 4,4-1,3-3,4-3,0-2,-1-1,-2-2,5 1,6-2,4-12,-3-19,-13 0,-3 5,-12 2,-2zM206,162l2,-1 1,1-4,11-3,2-2,-4 1,-3zM290,171l5,-2 3,0 2,2-1,6-4,6-3,0-2,-3-1,-6zM325,208l3,-3 3,0 2,3 0,3-2,2-3,0-3,-2zM333,247l4,-3 3,1 2,5 0,6-5,5-3,-1-2,-4 0,-6zM355,256l3,0 6,3 1,3-1,1-6,2-3,-3-1,-3zM389,268l2,-2 3,1 1,7-2,6-7,6 1,9-2,3-7,6-4,6-10,12-9,3-3,0-9,-4-6,-1-25,5-7,3-2,3 0,9-2,2-9,5-12,11-6,2-6,0-6,-2-2,-3 2,-9-2,-9 2,-3 12,-9 12,-4 3,-2 6,-9 9,-4 21,-6 3,-2 9,-10 9,0 2,-8 4,-4 3,2 1,5-13,13-1,5 4,2 7,-2 4,-3 3,-6 0,-9 7,-9 3,-2 6,5 3,1 3,-2zM183,280l0,-2 3,3 9,11 1,6 0,9 1,12-2,5-8,10-3,12 0,9 7,9 0,6-5,9-2,9-4,3-3,0-3,-2-2,-4-7,-21 0,-9 4,-21-3,-12 0,-3 9,-15 7,-9 1,-3zM373,343l3,-2 2,2 0,6 3,9-2,9-3,7-3,5-3,0-1,-18zM219,364l4,-1 1,1-1,1zM126,379l6,-2 3,0 3,2 1,3-4,1z" fill="#0049ff"/><path d="M313,30l12,-2 9,0 5,2-3,3-14,2-9,3-3,0-3,-2 2,-3zM28,42l17,0 9,2 11,4 5,6 8,7 9,10 11,16 1,3 0,9 3,3 12,8 12,5 2,2 2,9 3,3 5,1 18,0 3,2 0,6 5,12-2,11-3,1 0,4 3,-1 2,3-3,9 1,3 6,4 5,5 0,9-2,5-2,-1-1,-7-6,-14-9,2-2,3 8,19 6,6 0,6 5,12 0,12 4,12 0,6-3,3-6,3-3,6-10,9 1,6-3,2-15,4-3,3 0,3 2,3 7,6 0,3-4,6 4,2 5,7-3,3-14,6 0,3 2,6 7,8 6,2 3,1 2,10-2,3-3,-3-3,-7-3,-3-18,10-3,3-3,6 2,3 5,3-1,3-15,7-6,10-1,1-5,-1-15,-13-3,0-4,2-4,12-9,0-4,-4-6,-2-7,3-2,3-39,0 0,-349 18,-4zM141,283l3,2 2,-2-2,-2zM299,60l2,-1 3,1 1,6-1,5-3,-1-3,-4-1,-3zM357,90l4,2 7,7-4,2-3,0-8,-5-1,-3 3,-3zM335,99l5,0 1,0-1,4-6,1-1,-2zM373,135l3,-1 0,1 0,11-3,1-2,-6zM366,159l4,0 3,3-5,12 3,6 1,6-2,3-3,1-7,-4-5,-6-7,-6 1,-6 3,-5 3,-2zM234,162l1,-1 6,2 6,4 5,7 2,3 0,3-1,3-3,3-3,2-9,1-3,0-3,-3-2,-3 0,-6zM291,171l4,-2 3,0 1,2-1,6-3,5-3,0-3,-5zM381,174l1,-1 3,-1 2,2 0,3-2,2-3,0-1,-2zM326,208l2,-3 3,1 1,2 0,3-1,1-3,1-2,-2zM334,247l3,-2 3,1 1,4 0,6-4,4-2,-1-2,-3 0,-6zM184,286l2,-3 8,9 3,27-2,4-9,11-3,15 0,6 7,9 0,6-4,5-3,13-3,2-3,0-4,-5-6,-15-1,-6-1,-9 5,-21-3,-12 0,-3 9,-15 7,-9 1,-3zM372,286l4,0 3,2 2,4 0,3-5,4-2,8-1,3-10,12-8,2-12,-4-6,-1-27,6-6,3-2,3 0,6-1,4-9,6-12,10-3,1-6,1-6,-1-4,-3 2,-9-2,-9 2,-3 11,-8 12,-4 3,-2 4,-7 5,-5 27,-6 12,-11 4,1 0,9 2,2 3,1 3,0 7,-3 14,-15zM376,352l3,4 0,5-3,7-3,1-1,-5 0,-6 1,-4z" fill="#0000ff"/><path d="M316,30l9,-1 11,1-7,3-16,4-3,-1 1,-3zM29,45l19,0 9,3 1,3 0,6 2,3 4,3 5,6 3,1 6,-2 3,1 4,3 5,8 3,7-1,3-3,3-1,3 8,6 9,4 9,7 9,4 2,3 1,6 6,7 3,1 12,-1 6,1 8,16-1,3-7,6-2,3 3,9 0,3-9,9 0,3 7,9 7,16 2,12 4,2 3,4 1,12 4,15-2,3-6,4-9,11-6,3-9,1-6,5-9,4-2,2 2,9 6,6 2,3-3,3 1,9 7,6-2,3-11,2-3,4-3,5-6,-2-7,9-2,6 1,3 10,3-6,15 2,3 6,3 0,3-13,6-6,8-3,2-3,-1-6,-4-9,-10-3,0-4,2-3,3-5,8-3,0-6,-3-6,-2-9,4-3,2-1,3-35,0 0,-347 18,-4zM117,300l0,4 0,4 3,1 7,-2 0,-3-4,-5-3,0zM299,63l2,-2 2,2 0,3-2,2zM355,93l3,-1 3,1 3,3 1,3-4,1-3,-2-3,-2zM236,165l2,-1 3,0 6,5 4,5 2,6-3,5-12,2-4,-1-3,-6zM352,165l3,-2 3,0 7,2-2,9 6,6 1,3-1,3-2,2-3,0-6,-5-2,-6-4,-3-2,-3zM292,171l3,-1 3,0 1,1-1,6-3,5-3,-1-2,-4 0,-3zM326,208l2,-2 3,1 0,4-3,1-1,-1zM336,247l1,-1 2,1 2,3-1,6-3,3-3,-3 0,-3 0,-3zM186,286l0,-1 3,2 4,5 1,6 2,21-1,3-9,10-3,11-2,12 7,9 1,3-3,6-3,13-3,2-3,0-3,-3-1,-3-6,-12-1,-6 0,-9 5,-21-3,-12 0,-3 9,-15 7,-9zM336,295l2,0 2,6 2,3 4,1 5,-1 6,-3 10,-8 3,0 2,2 2,6-1,6-9,14-3,2-6,1-12,-5-6,0-27,5-6,3-3,4 0,9-3,3-6,3-9,8-9,4-6,-1-5,-2-1,-18 6,-6 6,-4 15,-6 4,-8 5,-4 12,-4 15,-2z" fill="#002ab5"/><path d="M320,30l12,0-8,3-8,1-2,-1zM27,48l18,-1 6,2 3,2 3,11 9,12 3,1 9,-1 3,1 6,6 1,3-1,2-3,1-9,-4-3,2-2,2 0,3 8,4 12,10 15,4 15,12 4,9 8,6 3,1 9,-1 6,1 3,4 4,7-1,3-9,9-1,3-5,21 2,6 7,6 1,3 4,13 1,12 9,3 3,3 0,12 4,12 0,3-2,3-5,3-6,7-3,3-6,2-9,1-9,5-14,6 1,6-4,12 2,9-12,15 1,9-6,9 0,6-3,15 2,6 6,3 10,3 1,3-11,5-9,9-6,-2-7,-6-2,-7-2,-2-4,-8-3,-4-3,-2-2,2 10,12-8,5-6,6-3,1-9,-2-6,0-18,10-6,-3-3,0-4,4-14,0 0,-346 18,-3zM108,234l-1,1-1,3 2,3 7,3 0,-3zM358,93l5,3-2,2-4,-2zM236,168l2,-2 3,0 6,4 5,7 0,3-2,4-3,1-9,1-3,-1-2,-5 0,-3zM354,168l1,-1 3,-1 2,2-2,4-3,0zM293,171l2,-1 3,1 0,6-3,4-3,-1-2,-3 0,-3zM359,180l2,-2 3,1 3,1 1,3-1,2-3,1-4,-3zM327,208l4,-1 0,4-3,0zM337,247l3,3 0,3-3,5-3,-5 1,-3zM186,289l0,-2 3,1 4,7 2,24-1,3-8,9-7,21 1,6 5,6 1,3-3,17-3,3-3,0-2,-2-4,-7-4,-11-1,-9 5,-24-3,-12 1,-3 8,-15 6,-7zM334,298l3,0 4,6 5,1 12,-4 9,-5 3,2 2,6 0,3-8,13-3,2-6,1-12,-4-6,-1-27,6-6,3-3,3-1,10-8,5-9,8-9,3-9,-2-2,-17 5,-6 3,-2 18,-7 2,-3 3,-6 4,-4 12,-3 15,-1zM121,313l2,-1 3,1 1,6 0,3-7,7-3,-1 0,-3 3,-6-1,-3z" fill="#00546b"/><path d="M25,51l5,-1 15,0 4,1 14,27 1,3-1,9 3,4 9,3 12,10 2,4 1,6 3,-1 2,-5 4,-2 6,2 9,9 6,11 12,7 3,1 12,-1 3,2 2,4 0,6-7,9-2,6-4,15 0,6 2,6 6,4 4,6 1,6-2,15 3,2 9,1 5,3 1,12 4,12 0,3-16,14-6,1-6,-3-3,2-9,0-3,-2-7,-21-9,-15 3,-12-1,-3-4,-2-9,0 0,2 3,6 1,3-3,9 1,3 2,3 8,6 2,3 5,12 1,3-3,9-5,5-1,4 3,12-3,6 0,12-8,9-3,1-6,-2-3,1-5,6-2,3 4,12 6,9-1,6-3,9 0,6 1,2 18,4 3,3-9,4-9,9-3,-1-3,-1-5,-5-1,-3 4,-6-7,-7-3,-5-12,-11-3,2-1,6 0,3 6,6 3,6-8,7-6,1-12,-2-3,1-6,5-6,2-9,-2-3,0-7,9-11,0 0,-344 18,-3zM238,168l3,-1 3,2 5,5 2,6-2,3-2,2-9,0-3,-3-1,-5zM293,171l2,0 3,1 0,3-3,5-3,-1-1,-2 0,-3zM361,180l3,0 2,3-2,1-2,-1zM336,250l1,-2 1,2 0,3-1,3zM186,292l3,-2 3,5 3,21-2,6-8,9-5,14-3,7 0,4 5,8 1,3 0,15-3,4-3,-1-6,-8-4,-10 0,-9 1,-7 2,-2 2,-12 0,-3-2,-9 0,-6 7,-13 7,-8zM332,301l2,-2 3,1 3,4 6,2 8,-2 10,-4 3,0 3,3 0,4-4,9-5,6-6,1-12,-5-6,0-27,6-6,2-3,3-2,11-16,12-9,3-6,-1-3,-2-1,-15 4,-5 21,-9 3,-4 3,-6 3,-3 15,-4 9,1 3,-1z" fill="#008738"/><path d="M23,54l7,-2 12,0 5,2 10,21 4,18 3,3 8,4 9,8 2,3 0,6 3,3 7,2 3,-1 3,-7 3,-2 3,1 4,4 4,12 4,5 15,7 12,-1 3,1 2,3 0,6-7,12-5,21 3,12 7,5 2,5-4,15-1,11 3,1 6,-6 9,1 3,1 2,4 1,12 3,9 0,3-15,14-6,0-2,-2 0,-3 3,-6-1,-6-3,-1-6,10-3,2-6,1-3,-3-5,-15-8,-15 2,-12-1,-5-3,-2-9,-1-6,-2-1,1 0,3 4,9 0,3 0,12 12,12 5,12 1,3-2,6-6,9-1,3 3,12-3,6 0,9-1,3-5,5-9,-1-5,2-9,12-1,3 4,12 7,6 1,3-3,8-3,5-3,1-3,-5-9,-6-3,-5-3,-2-3,1-3,9-4,6 7,4 4,5 0,3-3,3-7,3-15,-4-3,2-4,5-5,2-9,-3-3,0-5,4-6,9-5,0-2,-1 0,-340zM57,144l0,3 2,0 2,-3zM238,171l3,-2 3,1 6,7 0,4-3,3-9,-1-3,-3 0,-3zM294,171l2,0 1,3-2,5-4,-2 0,-3zM189,292l3,6 2,21-2,2-6,7-6,14-3,4-3,2-1,-5 0,-9-2,-9 0,-6 6,-11zM330,304l4,-3 12,5 18,-4 3,1 2,4 0,3-5,9-3,2-6,2-12,-5-6,-1-27,6-9,6-2,2-1,9-15,11-6,2-10,-1-3,-12 0,-3 4,-4 3,-2 9,-3 9,-5 3,-3 3,-7 4,-3 14,-3 9,1zM170,352l1,-2 3,3 8,14 1,12-3,6-3,-1-3,-3-6,-12-1,-11 1,-5zM96,379l6,0 8,3-8,5-6,6-3,0-3,-2-3,-3 0,-1 1,-2z" fill="#00c31c"/><path d="M23,57l10,-2 9,0 3,2 9,18 3,18 2,3 10,9 12,16 6,3 12,2 1,0 2,-3 0,-3 3,-1 1,10 16,15 23,0 1,6-8,15-2,15-1,15-2,7 1,3 1,0 6,-3 3,1 1,5-5,12-1,9 0,9-8,6 0,3 7,6 0,3-1,3-5,1-3,-3-2,-10-9,-15 2,-12 0,-3-2,-3-4,-3-9,-1-6,-4-3,1 0,7 4,9 1,15 2,3 10,9 5,15-1,3-6,9-2,6 3,9-1,4-3,5 1,6-1,4-3,3-12,0-6,4-11,13-4,9-3,3-7,3-3,6-1,9-4,3-3,0-6,-2-9,-10-3,0-5,3-3,3 2,2 6,-1 3,1 6,7 3,2 15,4 2,3-2,4-3,2-3,0-12,-5-6,1-4,7-2,1-4,-1-5,-5-3,1-8,7-4,6-3,0-3,-6 0,-324 3,0 7,-4 8,-1zM57,143l-1,4 1,1 3,0 1,-4-1,-1zM240,171l1,0 3,0 3,3 2,3 0,3-2,3-6,0-5,-3 0,-3zM292,174l3,-2 1,2-1,4-2,-1zM152,229l4,-2 6,0 3,2 2,3 1,12 3,9-1,3-2,2-5,4-7,7-3,0-4,-1 0,-3 3,-9-1,-6-3,-3 0,-3 0,-9 1,-3zM189,295l4,15 0,9-7,6-6,14-3,4-2,-3-1,-6-3,-9 0,-4 6,-11zM331,304l3,-2 3,1 9,4 15,-4 3,1 3,2 0,4-2,6-4,5-6,1-12,-5-6,0-27,6-9,5-2,3-1,6-1,3-14,10-6,2-9,-2-3,-10 0,-3 3,-3 3,-2 6,-1 12,-7 3,-3 4,-8 2,-2 12,-3 6,0 6,1zM74,349l1,-1 3,0 6,5 3,2 0,4-3,1-8,-5-2,-3zM168,355l3,-3 9,12 2,12-2,7-3,0-6,-10-3,-9zM96,382l7,0-4,6-3,2-3,1-3,-3z" fill="#00ff00"/><path d="M39,63l3,1 4,8-1,6 6,5 2,4 2,9 1,3 22,24 3,3 12,3 15,7 6,5 3,6 3,3 9,-1 9,2 2,2-1,3-5,6 1,9-2,21-5,13 1,5 4,7 2,15-1,3-8,4-3,-2-3,-5 1,-15-4,-7-3,-2-9,0-6,-6-3,1-2,8 0,3 4,9 2,15 2,3 10,9 5,15-3,6-5,9-1,3 1,9-1,2-6,4-2,3 5,6-3,3-9,0-6,3-6,7-6,5-9,11-8,4-4,20-3,1-3,-1-9,-9-3,-2-3,0-19,9 4,9-3,9-2,3-4,2-9,0 0,-310 7,1 17,14 6,0 5,-2 3,-3-1,-3-13,-5-2,-4 2,-2 6,1 3,-1zM57,143l-1,1 0,3 1,2 3,0 2,-5-2,-1zM78,136l-1,2 1,4 3,3 3,0 1,-4-1,-3-3,-2zM239,174l2,-2 3,0 4,5 0,3-1,2-3,1-3,-1-3,-1-1,-4zM153,229l6,-2 3,1 3,2 2,14 3,9-2,4-6,5-6,6-3,1-2,-1-1,-3 3,-9-5,-15 1,-6zM187,301l2,-2 3,13 0,4-3,5-5,4-4,11-3,2-4,-13 0,-3 4,-9zM333,304l4,0 9,3 12,-2 6,1 2,4 0,3-2,4-3,3-6,1-9,-3-6,-2-27,5-6,2-6,4-3,4-1,6-1,3-13,9-9,2-5,-2-1,-2-2,-7 2,-5 3,-2 9,-2 9,-6 3,-3 6,-10 4,-2 8,-2 12,2zM170,355l1,-1 8,10 2,9-1,8-3,0-7,-11-2,-9 0,-5z" fill="#66ff00"/><path d="M0,81l0,-2 9,5 2,3 2,6 3,3 8,4 3,-1 6,-6 3,-2 9,-3 2,2-3,6 2,3 8,5 12,10 4,6 2,6-1,9 1,3 3,6 6,6 3,1 3,-1 4,-6 0,-9 2,-1 11,4 4,3 7,9 2,2 3,1 9,-1 4,1 1,3-3,6 1,9-2,18-4,16 2,12-1,3-1,1-1,-1-3,-6-8,-10-6,0-3,-1-3,-9-3,-1-3,6-3,9 0,6 4,9 1,15 2,3 10,9 5,12-1,6-7,12-2,11-12,7-14,18-8,6-7,9-10,6-2,3-1,9-3,3-3,0-9,-8-3,0-5,5-4,1-9,1-15,5zM57,142l-2,2 0,3 2,2 3,0 2,-2 0,-3-2,-2zM240,174l1,-1 3,0 4,4-1,3-3,2-5,-2-1,-3zM154,229l8,-1 3,3 2,13 3,9-2,3-6,5-6,6-3,1-2,-3 2,-7 0,-5-3,-9-1,-6 2,-6zM186,307l3,0 2,9-3,3-6,0-1,-3zM329,307l5,-3 12,4 9,-2 6,1 3,2 1,4-4,6-6,2-9,-4-6,-1-27,5-6,2-6,4-3,4-2,6-1,3-12,8-3,1-6,0-5,-3-1,-4 0,-5 3,-3 9,-2 12,-9 6,-11 6,-2 6,-1 12,2zM177,322l0,-1 3,4 0,5-3,1-1,-6zM169,358l2,-3 7,9 2,12-1,3-2,1-3,-3-4,-7-1,-6z" fill="#ccff00"/><path d="M0,102l0,-2 6,4 18,7 3,-1 1,-2 5,-2 3,1 3,7 3,1 9,-3 3,1 6,4 6,7 3,14 6,11 9,10 3,1 5,-1 2,-3 2,-12 3,-1 18,11 10,2 1,15 0,18-5,20-3,-1-3,-8-9,-2-3,-6 0,-3 2,-3 6,-3 1,-3-6,-9-3,-3-3,-1-3,5-1,14-3,9-3,19 4,9 1,15 2,3 10,9 4,15-6,12-4,12-13,7-10,11-3,6-11,8-4,7-5,4-9,3-6,0-12,-4-3,1-2,2 0,9-1,3-24,2zM21,251l-1,2 1,3 3,3 3,-2 0,-4-3,-2zM60,141l-3,1-2,2-1,3 3,3 3,0 3,-3 0,-3zM241,174l3,0 3,3-1,3-2,1-4,-1-1,-3zM156,229l6,0 3,3 1,12 3,9-1,3-6,4-6,7-3,0-1,-2 2,-6 0,-6-3,-9-1,-6 2,-6zM331,307l3,-2 12,3 12,-1 4,3 1,3-2,6-6,1-9,-3-6,-2-27,5-12,6-4,5-2,7-12,9-6,1-5,-2-1,-2-2,-4 1,-3 10,-4 12,-9 6,-11 12,-4 12,3zM170,358l1,-1 6,7 2,9-2,5-3,-3-3,-5-2,-9z" fill="#ffdd00"/><path d="M0,108l2,3-2,3zM10,120l5,-2 3,1 6,6 3,0 21,-6 3,0 12,10 3,9 6,12 3,3 9,9 11,3 1,2 0,16-4,12-1,19 4,9 0,15 2,3 11,9 3,15-9,21-3,3-9,5-6,6-5,4-5,9-8,6-9,10-6,3-24,-3-8,2-4,2-1,-2-5,-2-9,-6 0,-202zM21,249l-2,1-2,3 5,9 2,1 3,0 3,-4 2,-9-2,-2zM57,141l-3,3-1,3 4,4 3,0 4,-4 1,-3-2,-3-3,-1zM101,153l4,-2 3,0 16,8 2,6 0,18-3,7-3,-2-3,0-3,5-3,1-3,-2 0,-3 7,-3 2,-3-1,-3-8,-14-7,-7-1,-3zM240,177l1,-1 3,-1 2,2-2,4-3,-2zM153,232l3,-3 3,0 3,0 2,3 2,12 3,9-1,3-12,10-3,0 0,-1 2,-9-5,-18zM332,307l5,-1 9,3 9,-1 3,1 3,4 0,3-2,3-4,0-15,-4-30,6-9,4-5,6-2,6-11,9-6,0-4,-3-1,-3 2,-2 6,-3 12,-11 7,-11 11,-3 12,3zM10,337l5,-3 2,3-1,3-4,1-2,-1zM170,361l1,-3 3,4 2,5 1,6-3,1-3,-4z" fill="#ff9900"/><path d="M11,123l4,0 9,5 21,-5 6,2 7,4 2,3 1,3-1,3-3,1-4,5 0,3 1,3 3,2 3,0 6,-5 0,-1 4,7 14,12 8,3 2,3 0,12-4,9-1,3 1,10-1,9 5,9-1,15 3,4 11,8 1,3 0,9-9,24-24,17-4,10-8,4-7,11-5,3-3,0-18,-4-15,0-5,-2-4,-5-6,-2 0,-193zM30,241l-3,4-12,4-3,0-6,-4-5,2 0,3 2,3 3,1 6,-1 3,1 6,11 6,1 5,-4 3,-6-1,-9-1,-4zM104,156l1,-1 3,-1 13,5 2,3 0,3-1,6 0,6-2,5-3,-3-6,-14-6,-6zM153,232l6,-2 3,0 2,2 1,12 4,9-2,3-11,9-1,-3 0,-9-2,-6-2,-9zM336,307l7,2 14,1 2,3 0,3-1,1-3,1-15,-4-30,6-6,3-6,4-6,10-8,6-4,1-2,-1-1,-3 15,-15 6,-10 2,-2 10,-2 12,3 12,-7zM171,361l3,3 1,6-1,1-3,-3z" fill="#ff5500"/><path d="M11,126l4,0 9,4 18,-2 9,3 4,4 0,3-3,6 0,3 1,3 4,3 6,1 9,4 9,8 9,5 2,3-2,8-5,4 4,19-1,9 4,9-1,15 1,3 3,3 10,6 1,3 0,6-7,24-15,12-11,6-2,3-2,6-9,6-5,9-4,3-27,-5-9,-3-1,-4 4,-4 1,-5-2,-3-6,-3-5,-4-3,0 0,1 2,6 1,6-2,3-4,1 0,-59 9,6 3,0 3,4 12,5 3,-1 10,-10-7,-21-3,-4-6,0-3,-2-5,0-2,3 1,3 3,1 5,2-1,3-1,0-6,1-6,-2-9,-1 0,-114 6,0zM111,159l4,0-1,3zM155,232l4,-2 4,2 2,12 3,9-2,3-10,6 0,-9-3,-7-1,-8 1,-3zM330,310l7,-2 6,1 10,1 3,3 0,3-16,-3-30,6-11,6-7,10-6,3-1,-1 2,-6 9,-9 2,-4 3,-4 9,-2 12,3 3,-1z" fill="#ff1100"/><path d="M13,132l2,-1 12,2 9,-2 7,1 4,3 4,6-1,6 2,3 8,9 12,3 6,7 9,5 0,3-5,6-1,3 6,19-2,9 3,9-3,9 1,9-2,6 15,2 5,4-2,6-6,12-9,-1-3,1-1,3 0,3 5,9-2,3-5,4-10,5-11,10-3,4-3,9-3,3-9,-4-15,-4-1,-3 0,-6-1,-3-11,-9-8,-12-3,-6 0,-3 6,0 9,-3 12,5 3,-1 3,-8 3,-2 6,-3 3,-3 1,-3-7,-3-3,-4-5,-14-4,-3-12,-3-5,3-4,7-3,0-6,-2 0,-74 9,2 3,-1 1,-2 2,-15-2,-9zM157,232l2,-1 3,2 2,11 3,9-2,3-6,3-6,-18 0,-6zM332,310l5,-1 4,1-1,3-9,1-3,-1zM344,313l5,-1 4,1zM300,316l10,-2 9,2-12,3-9,6-3,0z" fill="#cc0000"/><path d="M35,135l4,1 2,2 9,18-1,3-4,4-15,5-2,3-2,6 0,3 7,7 3,5 0,6 3,7-1,3-2,3 6,2 3,0 12,-2 3,-3 11,-3 3,-3 1,-4-1,-3-4,-3-1,-3 3,-5 3,-2 2,10 6,13 0,3-6,9-1,9-4,5-3,2-6,1-6,6-3,0-15,-4-6,-5-12,-3-6,1-9,5-6,-1 0,-56 9,-2 10,-1 2,-6-1,-12 0,-15 1,-1 9,-1zM59,174l4,-1 1,1 0,3-4,5-3,0-2,-2 1,-3zM156,235l3,-2 3,4 1,10 2,3 1,3-4,3-3,0 0,-6-3,-4-1,-5zM42,274l3,-1 12,0 9,2 6,-1 3,2 3,4 2,6-1,3-4,2-6,1-3,-2-3,-6-3,0-4,2-1,3 3,6-1,3-3,3-6,4-9,-1-13,-9 1,-3 8,-6z" fill="#880000"/><path d="M28,150l2,-1 3,1 0,3-3,2-2,-2zM10,195l3,0 5,4 6,0 7,3 2,3-3,3-7,3-1,3 2,0 9,3 9,0 9,-2 6,2 3,3 2,6-1,3-4,7-3,1-3,-1-12,-6-9,-3-12,0-12,3-6,0 0,-33z" fill="#4c0000"/><path d="M1,205l2,-2 6,0 5,5 2,9 5,2 18,3 12,-4 3,1 3,2 2,5-1,6-4,3-3,-1-12,-10-39,4 0,-14 2,-6z" fill="#1a0000"/><path d="M4,214l2,-2 3,-1 5,9 4,3-5,3-13,0 0,-8zM50,226l1,-2 3,1 1,4-1,1-3,0z" fill="#262626"/><path d="M5,217l1,-2 3,0 4,8-7,1-4,-1z" fill="#737373"/></g></g></g>
<rect x="718.0" y="1649.9" width="200.3" height="200.3" fill="none" stroke="#444" stroke-width="1.1" />
<g transform="translate(955.4,1649.9) scale(1.0015)" clip-path="url(#cp)"><g filter="url(#bs)"><rect width="200" height="200" fill="#fffdfd"/><path d="M69.1,125.3L65.1,128.3M192.3,35.3L193.8,32.1M66.1,165.0L61.8,170.1M136.6,196.4L134.4,198.5M178.2,189.3L179.0,191.2M55.1,41.3L52.6,38.1M173.7,162.4L176.9,162.1M20.6,52.8L16.3,52.6" stroke="#f00" stroke-opacity="0.04" stroke-width="3" fill="none" stroke-linecap="round"/><path d="M71.3,125.8L70.2,127.8M181.4,145.0L184.2,149.7M43.8,142.6L42.1,145.8M196.3,0.7L203.0,0.5M193.2,0.6L199.3,0.2M181.7,93.7L183.9,92.7M153.3,176.6L153.8,184.5M147.7,71.2L154.1,67.5M140.6,180.7L138.1,187.3M128.5,32.8L129.9,23.2M9.9,101.6L2.4,103.3M60.2,174.4L55.8,179.2M30.6,46.3L27.0,41.5M48.8,15.5L50.6,8.3M15.9,93.0L9.0,92.7M141.8,114.3L148.7,120.0M39.1,138.9L39.9,144.0" stroke="#00f" stroke-opacity="0.04" stroke-width="6" fill="none" stroke-linecap="round"/><path d="M183.5,50.9L186.4,49.4M87.8,193.4L84.3,198.1M104.0,18.6L102.9,16.1M78.7,64.5L72.0,64.3M78.3,175.4L80.2,177.8M191.7,8.8L191.7,5.8M136.3,154.6L140.5,152.8M109.0,27.3L111.9,25.8M84.7,191.2L88.5,194.3M135.3,37.8L138.3,32.2M195.1,146.3L200.9,142.6M187.0,162.0L190.3,164.1M3.3,114.6L-0.5,115.1M169.8,95.3L175.8,92.5M14.5,165.3L12.4,169.3M54.9,4.1L55.4,-1.9M136.3,65.5L143.6,59.7M34.5,147.3L28.0,152.0M39.4,60.4L34.8,52.4M32.3,119.0L25.7,118.8M47.3,144.7L41.3,149.0M60.1,168.6L54.8,177.1M158.9,78.2L168.4,74.5M70.1,139.7L68.6,147.5M51.5,107.6L45.8,112.0M35.3,64.1L26.4,62.5M108.4,120.2L111.2,123.4M145.4,85.1L151.0,86.1M9.5,108.7L3.7,109.8M77.6,146.6L76.3,151.1M50.4,57.0L48.1,52.4M12.2,155.7L3.5,158.7M34.6,86.3L25.5,85.7M128.2,106.0L134.5,107.5M17.2,87.1L13.2,80.7M68.6,32.0L65.5,26.2M88.6,41.5L89.3,36.0M139.2,107.3L146.4,109.0M51.7,86.6L44.8,87.6M47.9,155.8L43.1,161.4" stroke="#00f" stroke-opacity="0.04" stroke-width="5" fill="none" stroke-linecap="round"/><path d="M167.5,134.2L168.3,136.3M26.1,112.6L23.3,117.6M78.8,94.9L73.1,91.8M5.5,60.7L2.8,56.6M124.4,97.5L126.7,98.2M107.8,146.8L111.9,149.3M189.6,32.4L193.3,31.9M128.6,119.8L133.4,122.9M96.6,183.6L93.5,192.2M118.1,164.2L122.2,170.4M135.1,8.4L144.0,7.5M62.8,165.2L64.7,171.5M125.5,148.9L127.7,156.9M45.6,154.3L41.4,160.2M121.0,8.1L124.3,2.3" stroke="#f00" stroke-opacity="0.04" stroke-width="6" fill="none" stroke-linecap="round"/><path d="M187.9,87.0L194.4,88.9M123.4,34.8L126.4,29.0M178.0,21.7L182.4,17.0M23.2,27.1L20.8,24.0M176.3,191.6L177.7,193.6M32.1,79.5L28.3,79.9M32.1,143.3L30.3,144.6M14.8,57.3L9.3,55.6M134.6,157.7L136.4,162.8M157.0,184.2L159.9,186.7M66.3,93.0L59.8,94.0M112.2,39.0L111.1,34.0M117.4,190.9L116.1,193.6M94.3,118.2L99.1,123.6M75.5,132.6L74.1,141.0M116.9,125.6L120.5,131.3M129.6,129.4L135.5,131.8M28.1,125.0L23.4,132.7M48.6,31.8L43.4,28.7M34.2,148.6L27.7,150.4M82.9,154.8L82.0,161.7M35.1,131.9L28.8,135.6" stroke="#f00" stroke-opacity="0.04" stroke-width="4" fill="none" stroke-linecap="round"/><path d="M63.9,48.9L62.4,46.5M41.6,90.8L38.0,92.6M187.6,167.3L188.0,173.5M53.2,129.3L50.0,130.9" stroke="#00f" stroke-opacity="0.04" stroke-width="3" fill="none" stroke-linecap="round"/><path d="M155.5,42.8L160.0,45.7M87.7,15.4L86.9,10.8M141.7,9.6L141.1,7.4M154.8,114.2L159.2,113.5M30.0,23.1L30.9,18.0M171.8,6.1L172.9,-0.2M183.5,101.1L188.1,101.8M196.4,156.4L200.7,157.1M11.1,87.3L9.0,87.2M40.5,47.7L34.8,43.7M193.3,86.4L196.8,85.8M102.1,133.8L103.1,139.3M24.4,82.8L16.8,77.1M139.4,47.9L149.2,46.9M133.6,135.3L137.0,141.4M48.0,60.6L43.4,57.8M49.8,25.5L51.1,16.8M74.2,157.6L73.5,164.5M150.0,72.2L155.9,73.2M60.7,41.0L58.4,34.5M64.2,145.2L58.6,150.4M82.7,39.2L85.1,30.9M55.3,61.3L51.9,57.5M62.3,156.8L58.2,165.5M40.3,162.7L39.6,172.8M29.6,128.5L24.1,132.8M40.5,87.3L35.6,84.0M67.0,135.0L64.1,140.6M50.1,149.0L45.6,152.9M30.8,90.5L23.9,91.4M16.8,56.4L12.5,52.2M78.4,187.7L79.5,194.6M156.9,25.5L163.2,20.6M118.5,136.5L126.2,138.3M41.2,77.8L37.2,75.6M99.9,169.6L103.7,177.6M58.8,40.6L54.6,37.4M148.5,74.4L155.9,76.1M111.2,157.3L107.2,164.8M114.4,36.5L114.5,30.7M67.2,65.4L66.2,60.6" stroke="#f00" stroke-opacity="0.04" stroke-width="5" fill="none" stroke-linecap="round"/><path d="M108.6,124.8L106.3,129.7M169.3,152.2L172.5,154.7M3.3,93.3L0.6,93.3M109.2,101.6L115.7,103.2M47.1,138.3L46.5,142.0M115.7,125.7L119.7,128.5M97.8,78.8L100.6,74.7M179.9,74.5L185.5,72.2M26.9,51.6L23.5,50.1M124.4,177.1L125.3,179.7M105.7,163.7L111.5,171.7M133.9,69.8L138.7,67.3M115.2,125.8L118.3,132.3M95.1,48.1L98.3,42.9M113.3,133.8L120.8,138.0M33.4,115.0L26.7,120.1" stroke="#00f" stroke-opacity="0.04" stroke-width="4" fill="none" stroke-linecap="round"/><path d="M187.9,101.3L189.4,103.2M185.7,118.2L188.3,117.4M116.3,175.6L118.8,180.3M104.6,143.7L108.6,148.2M29.8,100.3L27.3,103.2M19.9,130.1L15.5,131.1M1.7,170.1L3.3,175.6M113.6,103.9L117.7,102.7M134.7,41.9L135.5,38.2M168.8,8.6L174.3,6.1M174.1,109.5L177.6,109.8M41.4,4.0L40.8,1.3M160.5,149.2L162.8,154.2M122.1,25.0L123.8,20.9M96.5,19.8L96.8,16.0M142.7,194.4L143.3,199.5M40.9,64.2L35.1,64.5M106.7,169.7L106.7,172.2M130.2,143.2L131.0,146.8M155.1,64.0L160.3,62.1M39.7,135.2L36.8,139.0M146.7,129.7L149.9,133.4M59.9,62.0L56.8,57.8M173.1,168.2L178.3,166.2M38.8,119.6L37.1,121.3M176.6,111.0L179.3,109.1M194.4,192.6L194.7,196.4M31.2,188.5L29.0,192.3M120.8,102.2L125.6,102.6M34.3,86.3L28.3,84.5M47.9,75.4L42.5,70.3M87.0,53.2L84.2,47.4M71.7,106.3L67.0,108.1M122.3,60.8L128.2,55.6M33.5,124.3L28.0,131.3M54.8,78.9L53.9,74.4M99.8,124.8L105.1,130.7M84.3,134.6L86.0,140.6M23.7,96.2L16.0,94.4M108.7,137.1L115.8,142.6M58.4,123.9L57.2,127.9M95.0,146.5L98.7,151.9M75.5,55.3L74.0,48.2M131.1,72.9L137.5,67.3M132.4,114.6L137.0,118.5M102.3,55.7L100.9,51.5" stroke="#00f" stroke-opacity="0.08" stroke-width="5" fill="none" stroke-linecap="round"/><path d="M37.0,171.8L32.8,176.8M195.5,77.0L198.2,70.9M184.0,99.3L187.9,97.4M78.6,94.4L74.7,98.0M180.7,160.0L182.2,165.0M176.6,73.3L182.8,72.2M155.9,15.9L157.8,10.7M160.5,36.2L166.0,31.9M93.4,177.6L94.1,181.4M144.0,106.5L148.9,109.6M189.5,121.6L192.3,122.1M40.2,129.2L39.1,131.7M150.4,57.1L155.6,56.6M21.2,25.6L19.1,24.3M18.7,145.6L16.8,150.7M30.8,93.3L28.5,94.2M156.9,88.2L163.2,85.2M120.3,146.4L121.3,153.0M185.1,157.9L186.1,163.5M154.2,62.1L155.9,58.5M58.5,115.3L55.2,113.6M94.0,97.0L96.0,96.8M24.9,136.7L22.2,136.5M84.0,68.5L83.0,65.3M23.3,25.4L20.3,24.9M76.2,48.1L71.2,43.4M159.5,88.8L164.5,87.9M168.3,153.8L171.8,157.6M60.1,96.7L57.0,90.5M100.6,19.1L102.7,15.4M59.8,141.0L57.8,146.8M6.1,115.0L0.1,116.1M43.5,20.1L40.3,15.4M167.5,6.0L166.9,3.9M38.4,109.8L33.8,112.5M144.1,13.0L148.3,9.1M30.2,101.0L27.6,102.1M12.1,122.6L8.8,124.0M43.6,126.2L39.8,129.0M71.4,79.8L69.5,76.7M38.5,108.5L31.6,113.9M55.6,108.5L50.9,109.4M105.2,60.0L109.2,55.3M132.3,73.8L135.9,69.8M52.8,95.6L47.6,97.5M116.9,72.8L120.6,68.5M79.7,58.2L80.6,53.7M98.0,51.4L98.7,44.2M92.0,137.7L90.4,142.2M132.4,114.0L138.2,115.5M102.4,118.4L102.8,125.9M102.0,53.2L100.9,45.0M65.8,62.7L64.1,55.5" stroke="#f00" stroke-opacity="0.08" stroke-width="5" fill="none" stroke-linecap="round"/><path d="M186.4,132.5L190.7,133.8M188.3,151.5L189.0,157.0M25.2,44.4L23.5,42.4M152.4,52.9L153.5,48.1M114.0,132.0L117.6,133.6M154.6,163.5L159.8,164.0M5.8,78.5L2.5,77.7M54.0,51.8L48.7,51.5M195.7,56.6L198.1,55.6M187.7,55.5L193.0,52.7M148.8,21.2L150.9,16.7M139.7,73.0L145.5,72.3M115.3,138.5L119.5,141.8" stroke="#f00" stroke-opacity="0.08" stroke-width="6" fill="none" stroke-linecap="round"/><path d="M71.1,47.1L68.8,42.4M139.1,104.6L141.0,106.1M118.9,170.9L117.0,173.6M124.3,120.0L127.3,125.9M110.3,41.5L113.6,37.8M6.8,178.3L4.3,182.5M51.3,35.7L47.9,30.4M187.4,92.1L189.3,91.1M103.9,57.5L104.1,53.7M195.7,44.8L198.1,44.7M66.5,44.7L65.0,40.9M138.2,99.5L141.3,99.9M17.2,146.1L15.0,145.9M165.1,6.6L171.3,5.9M172.8,52.3L177.1,48.8M121.3,43.1L123.7,42.8M73.8,41.2L70.8,38.8M41.0,178.1L41.2,181.3M8.3,102.5L4.5,101.5M175.9,20.9L180.1,16.4M144.6,11.4L146.5,5.8M1.4,177.9L0.3,184.4M70.7,107.4L66.7,107.5M113.6,127.4L112.7,132.2M14.8,145.3L14.1,147.9M119.0,92.2L125.0,93.0M118.3,84.7L123.6,82.1M67.3,87.8L61.0,85.1M96.2,75.7L99.1,70.6M107.7,100.8L112.7,99.6M134.2,79.1L139.0,80.0M80.6,94.9L74.1,94.5M114.9,60.4L117.8,56.2M25.1,91.8L16.9,90.0M77.5,102.3L73.5,107.6M57.2,78.2L52.4,72.9M82.8,131.4L80.3,136.4M112.5,91.3L120.2,93.4M46.4,115.9L38.8,117.4M38.1,70.4L32.5,64.8M47.2,78.8L42.0,76.8M91.7,96.0L99.0,95.7M70.8,83.3L63.4,81.9M50.4,102.3L45.0,103.9M38.4,74.7L31.8,70.1" stroke="#00f" stroke-opacity="0.08" stroke-width="4" fill="none" stroke-linecap="round"/><path d="M48.6,17.5L44.8,14.0M22.7,171.4L19.6,176.7M174.7,103.8L181.5,105.1M145.8,52.6L148.5,47.3M101.7,74.2L103.0,70.8M135.0,119.1L134.1,123.6M40.7,61.4L39.0,57.4M40.6,55.2L38.2,49.0M152.5,55.9L156.0,53.8M123.6,97.8L129.1,95.3M18.4,180.2L12.7,180.2M89.5,102.3L89.2,106.4M101.8,91.8L105.8,87.5M163.4,158.2L165.0,159.4M52.5,66.7L54.6,63.0" stroke="#f00" stroke-opacity="0.08" stroke-width="3" fill="none" stroke-linecap="round"/><path d="M100.7,76.4L103.5,75.5M125.1,175.6L126.2,179.0M124.3,46.2L126.3,44.6M26.2,20.6L28.5,15.7M162.0,5.5L163.4,-1.2M167.0,36.8L169.5,34.1M61.7,159.4L60.6,164.0M129.7,81.9L132.9,81.3M24.7,68.9L20.9,67.7M165.8,41.8L170.2,37.3M102.4,182.5L98.6,188.0M29.9,68.8L27.5,68.3M69.1,41.4L71.2,39.2M53.1,22.2L50.7,18.8M59.6,97.8L55.7,96.9M178.2,171.4L180.8,173.7M27.2,81.4L21.8,79.3M81.1,93.9L77.2,90.5M135.0,86.0L140.5,86.6M170.1,8.0L176.2,5.9M194.2,195.3L199.4,195.1M113.3,189.8L113.4,193.4M17.5,133.8L14.8,133.3M173.1,14.1L177.1,9.7M7.0,50.1L3.3,50.3M5.5,111.4L3.4,112.8M196.0,63.8L199.4,62.7M59.4,114.2L58.2,116.4M189.6,5.2L194.9,5.0M190.2,156.5L194.7,160.3M49.9,79.9L45.0,81.7M101.0,62.9L102.1,58.7M84.5,96.5L77.6,96.5M70.7,135.8L66.2,142.5M95.9,125.5L97.3,130.1M50.2,82.1L42.6,78.4M46.3,109.4L43.0,112.2M84.6,63.4L82.7,55.2M37.8,75.8L30.4,73.9M110.5,126.2L114.7,131.4M79.1,125.0L79.9,128.8M75.8,91.0L73.6,86.0" stroke="#f00" stroke-opacity="0.08" stroke-width="4" fill="none" stroke-linecap="round"/><path d="M149.5,172.7L153.5,177.1M13.2,103.7L11.0,104.0M161.3,126.1L165.7,127.7M79.6,160.4L80.8,164.2M68.7,54.7L68.8,50.1M111.7,40.5L112.5,37.0M34.6,152.2L31.9,152.1M173.1,1.3L175.8,0.2M7.5,48.0L3.1,43.3M108.3,47.8L109.9,44.1" stroke="#00f" stroke-opacity="0.08" stroke-width="3" fill="none" stroke-linecap="round"/><path d="M46.1,179.0L43.4,185.1M2.3,20.3L-1.0,18.8M93.1,177.2L93.9,180.5M18.1,27.9L13.6,24.3M117.9,9.1L117.0,7.0M41.9,172.2L36.2,176.1M14.6,50.2L9.9,49.0M66.0,97.2L62.5,96.2M17.6,169.6L18.4,171.9M130.8,98.1L133.4,98.2M86.5,104.7L88.4,108.9M125.4,70.9L128.8,68.0M165.7,110.3L169.1,109.9M75.2,176.8L74.3,182.3M37.2,133.4L27.9,133.3" stroke="#00f" stroke-opacity="0.08" stroke-width="6" fill="none" stroke-linecap="round"/><path d="M39.5,91.6L36.8,92.4M77.0,70.7L73.5,68.5M78.8,62.7L79.2,60.2M79.0,41.5L77.9,37.1M13.8,191.1L13.5,193.2M117.4,90.7L123.2,90.5M53.3,191.1L55.1,194.9M69.5,179.3L68.2,182.1M129.2,114.5L132.8,115.8" stroke="#f00" stroke-opacity="0.12" stroke-width="6" fill="none" stroke-linecap="round"/><path d="M76.2,144.6L76.8,151.2M117.0,132.9L118.1,137.3M191.5,42.1L196.4,43.6M99.2,155.8L100.8,161.6M157.3,49.8L162.9,46.4M158.9,86.8L161.9,84.2M16.4,144.1L12.7,145.9M124.2,84.2L126.8,83.1M97.6,52.1L95.6,46.3M91.5,67.8L91.6,63.8M91.8,109.4L90.3,114.0M66.2,119.8L70.1,124.4M84.9,60.0L86.7,54.2M33.9,106.8L31.0,106.8M108.0,90.5L112.0,87.5M93.7,122.1L92.4,129.5M60.5,92.9L56.3,86.9M85.6,68.7L88.0,63.1M105.9,89.9L109.8,90.3M52.0,86.5L43.8,86.0M82.0,84.6L81.5,81.1M105.9,70.6L108.3,65.4" stroke="#f00" stroke-opacity="0.12" stroke-width="4" fill="none" stroke-linecap="round"/><path d="M105.7,124.9L104.4,127.1M46.4,191.3L50.2,194.0M80.9,87.0L79.8,80.7M174.7,114.0L178.1,112.7M162.8,11.0L162.7,7.1M164.0,7.9L166.9,7.0M83.5,118.4L83.8,124.1M135.5,110.4L139.0,110.9M105.9,16.3L105.8,13.3M117.6,44.4L118.7,41.9M111.9,3.3L113.3,-0.3M97.7,149.8L100.7,153.6M57.5,176.0L55.5,179.7M29.5,52.1L27.8,49.8M156.7,79.6L160.4,78.6M59.9,25.2L59.7,22.0M48.1,76.4L42.7,78.0M184.4,176.1L190.7,178.0M87.2,18.3L87.5,12.7M72.8,130.1L71.2,137.4M49.6,105.2L44.3,108.2M106.2,96.1L109.8,95.7M100.7,129.5L103.0,134.2M93.1,136.6L93.9,144.0M108.5,70.6L111.4,67.7M58.7,84.6L56.7,81.2M76.1,109.4L73.5,114.2" stroke="#00f" stroke-opacity="0.12" stroke-width="5" fill="none" stroke-linecap="round"/><path d="M165.0,78.8L168.9,77.9M173.2,55.9L177.6,53.5M44.0,195.8L42.7,200.9M1.9,69.8L-0.4,68.2M124.5,110.9L131.2,112.8M162.8,191.0L165.9,191.8M192.1,143.8L198.1,145.8M3.8,61.0L1.2,57.3M68.8,131.6L67.0,134.2M54.3,106.6L50.2,109.4M59.1,60.7L56.3,55.7M106.0,88.8L113.6,87.7M79.9,133.4L78.3,137.9M70.3,60.7L64.7,55.5M105.7,76.8L109.4,71.6M64.8,70.6L61.6,64.1M53.7,121.0L49.8,128.3M53.4,77.1L49.2,73.5" stroke="#00f" stroke-opacity="0.12" stroke-width="4" fill="none" stroke-linecap="round"/><path d="M125.2,7.5L125.0,0.5M150.2,146.7L150.7,151.8M100.5,22.1L99.9,15.5M10.5,2.8L8.9,1.0M96.3,134.4L97.1,138.7M184.6,67.1L186.3,64.9M153.6,101.3L160.5,101.4M111.3,110.9L112.8,112.4M59.3,88.8L53.7,86.8M172.2,87.3L176.9,82.8M62.9,187.8L60.6,188.8M180.2,3.6L181.7,1.6M189.5,42.6L190.8,40.5M160.9,77.3L164.1,77.1" stroke="#f00" stroke-opacity="0.12" stroke-width="3" fill="none" stroke-linecap="round"/><path d="M158.1,57.9L164.0,59.2M191.8,79.9L194.8,78.4M109.3,4.9L111.5,-0.1M27.5,30.9L21.9,32.3M25.8,19.6L23.0,17.7M75.3,83.5L71.3,78.3M161.6,153.9L163.3,156.5M22.0,101.6L20.9,99.5M69.4,167.1L71.4,172.7M18.0,176.0L14.2,177.3M188.9,78.5L194.0,80.3M133.6,16.9L136.3,14.2M29.9,29.2L26.9,24.1M95.4,126.4L94.0,134.5M68.2,77.2L67.1,73.8M101.9,67.7L105.1,62.6M53.7,105.1L46.4,103.5M50.6,86.7L42.3,87.4M102.1,94.9L106.0,95.7M56.7,118.9L50.9,120.9M86.8,89.0L88.7,86.0" stroke="#f00" stroke-opacity="0.12" stroke-width="5" fill="none" stroke-linecap="round"/><path d="M40.5,85.8L33.8,86.7M41.7,104.1L37.1,101.2" stroke="#00f" stroke-opacity="0.12" stroke-width="6" fill="none" stroke-linecap="round"/><path d="M68.3,75.1L64.1,69.9M61.5,87.7L56.4,84.9M88.1,69.3L91.1,65.8M60.9,106.4L57.9,109.4M65.8,79.7L61.6,76.4" stroke="#00f" stroke-opacity="0.16" stroke-width="4" fill="none" stroke-linecap="round"/><path d="M95.5,95.2L101.1,94.0" stroke="#f00" stroke-opacity="0.16" stroke-width="3" fill="none" stroke-linecap="round"/><path d="M115.1,91.0L122.5,94.5M98.8,72.3L101.1,68.2M98.7,88.7L105.5,86.2M113.2,116.6L117.6,120.3M100.4,109.7L103.5,111.2M94.4,98.1L96.5,101.4M76.1,107.5L75.9,113.5M77.4,86.6L72.2,81.6" stroke="#f00" stroke-opacity="0.16" stroke-width="5" fill="none" stroke-linecap="round"/><path d="M93.8,123.8L93.6,130.9M86.4,125.4L88.4,131.1M63.8,91.2L59.7,91.7M63.3,114.1L57.1,117.0M89.4,97.8L92.7,101.0M103.2,115.2L108.0,121.3" stroke="#f00" stroke-opacity="0.16" stroke-width="4" fill="none" stroke-linecap="round"/><path d="M85.3,113.0L84.2,117.5M79.1,71.8L76.5,69.0M75.3,94.3L70.7,93.0" stroke="#00f" stroke-opacity="0.16" stroke-width="5" fill="none" stroke-linecap="round"/><path d="M81.0,80.4L76.6,74.8M63.9,107.8L60.1,108.7" stroke="#f00" stroke-opacity="0.20" stroke-width="4" fill="none" stroke-linecap="round"/><path d="M73.4,113.2L70.3,117.5" stroke="#00f" stroke-opacity="0.20" stroke-width="4" fill="none" stroke-linecap="round"/><path d="M87.0,117.1L89.2,122.6" stroke="#f00" stroke-opacity="0.20" stroke-width="5" fill="none" stroke-linecap="round"/><path d="M64.2,91.0L60.1,90.5" stroke="#00f" stroke-opacity="0.20" stroke-width="5" fill="none" stroke-linecap="round"/><path d="M82.2,111.1L83.7,115.6M85.0,111.0L84.9,114.3M94.5,102.4L98.1,105.1M104.5,60.1L113.0,75.1M42.6,156.1L57.6,139.0M76.8,49.5L81.0,70.8" stroke="#00f" stroke-opacity="0.24" stroke-width="4" fill="none" stroke-linecap="round"/><path d="M82.6,111.7L81.1,114.7M94.4,103.2L99.9,103.5M84.9,105.0L87.0,110.6M88.0,87.9L90.4,84.1" stroke="#00f" stroke-opacity="0.24" stroke-width="5" fill="none" stroke-linecap="round"/><path d="M95.7,81.6L99.0,75.6M87.9,86.9L92.8,84.2" stroke="#f00" stroke-opacity="0.24" stroke-width="4" fill="none" stroke-linecap="round"/><path d="M101.7,101.0L107.4,100.8M53.3,36.7L72.5,60.1M145.0,111.3L166.3,117.7" stroke="#f00" stroke-opacity="0.24" stroke-width="5" fill="none" stroke-linecap="round"/><path d="M85.2,98.6L86.3,105.3" stroke="#f00" stroke-opacity="0.24" stroke-width="3" fill="none" stroke-linecap="round"/><path d="M100.2,83.6L117.3,100.6" stroke="#f00" stroke-opacity="0.24" stroke-width="6" fill="none" stroke-linecap="round"/><path d="M59.7,53.7L70.4,64.4M117.3,117.7L121.5,134.8" stroke="#f00" stroke-opacity="0.32" stroke-width="4" fill="none" stroke-linecap="round"/><path d="M65.0,110.2L74.6,111.3M95.9,124.1L102.3,143.3M81.0,43.1L83.2,53.7M59.7,126.2L68.2,139.0" stroke="#00f" stroke-opacity="0.32" stroke-width="4" fill="none" stroke-linecap="round"/><path d="M87.4,38.8L91.7,60.1" stroke="#f00" stroke-opacity="0.32" stroke-width="5" fill="none" stroke-linecap="round"/><path d="M64.0,100.6L78.9,102.8" stroke="#f00" stroke-opacity="0.40" stroke-width="5" fill="none" stroke-linecap="round"/><path d="M64.0,77.2L68.2,79.3" stroke="#00f" stroke-opacity="0.40" stroke-width="4" fill="none" stroke-linecap="round"/><path d="M66.1,90.0L78.9,91.0M100.2,111.3L103.4,122.0" stroke="#f00" stroke-opacity="0.48" stroke-width="4" fill="none" stroke-linecap="round"/><path d="M91.7,109.2L95.9,122.0" stroke="#00f" stroke-opacity="0.48" stroke-width="5" fill="none" stroke-linecap="round"/><path d="M105.5,109.2L110.9,126.2" stroke="#00f" stroke-opacity="0.48" stroke-width="4" fill="none" stroke-linecap="round"/><path d="M68.2,64.4L74.6,69.7" stroke="#f00" stroke-opacity="0.56" stroke-width="4" fill="none" stroke-linecap="round"/><path d="M69.3,83.6L74.6,85.7" stroke="#00f" stroke-opacity="0.64" stroke-width="4" fill="none" stroke-linecap="round"/><path d="M81.0,96.4L86.4,97.4" stroke="#00f" stroke-opacity="0.80" stroke-width="4" fill="none" stroke-linecap="round"/></g></g>
<rect x="955.4" y="1649.9" width="200.3" height="200.3" fill="none" stroke="#444" stroke-width="1.1" />
<text x="779.1" y="1645.9" font-size="10.95" fill="#262626" textLength="78.0" lengthAdjust="spacingAndGlyphs" >9h old IR Data</text>
<text x="995.5" y="1645.9" font-size="10.95" fill="#262626" textLength="120.2" lengthAdjust="spacingAndGlyphs" >SHAP Value=-3.66 kts</text>
<line x1="715.0" y1="1665.4" x2="718.0" y2="1665.4" stroke="#444" stroke-width="0.8" />
<line x1="952.4" y1="1665.4" x2="955.4" y2="1665.4" stroke="#444" stroke-width="0.8" />
<text x="701.3" y="1668.5" font-size="8.3" fill="#262626" textLength="10.6" lengthAdjust="spacingAndGlyphs" >25</text>
<line x1="715.0" y1="1696.6" x2="718.0" y2="1696.6" stroke="#444" stroke-width="0.8" />
<line x1="952.4" y1="1696.6" x2="955.4" y2="1696.6" stroke="#444" stroke-width="0.8" />
<text x="701.3" y="1699.7" font-size="8.3" fill="#262626" textLength="10.6" lengthAdjust="spacingAndGlyphs" >24</text>
<line x1="715.0" y1="1728.0" x2="718.0" y2="1728.0" stroke="#444" stroke-width="0.8" />
<line x1="952.4" y1="1728.0" x2="955.4" y2="1728.0" stroke="#444" stroke-width="0.8" />
<text x="701.3" y="1731.1" font-size="8.3" fill="#262626" textLength="10.6" lengthAdjust="spacingAndGlyphs" >23</text>
<line x1="715.0" y1="1759.3" x2="718.0" y2="1759.3" stroke="#444" stroke-width="0.8" />
<line x1="952.4" y1="1759.3" x2="955.4" y2="1759.3" stroke="#444" stroke-width="0.8" />
<text x="701.3" y="1762.4" font-size="8.3" fill="#262626" textLength="10.6" lengthAdjust="spacingAndGlyphs" >22</text>
<line x1="715.0" y1="1790.1" x2="718.0" y2="1790.1" stroke="#444" stroke-width="0.8" />
<line x1="952.4" y1="1790.1" x2="955.4" y2="1790.1" stroke="#444" stroke-width="0.8" />
<text x="701.3" y="1793.2" font-size="8.3" fill="#262626" textLength="10.6" lengthAdjust="spacingAndGlyphs" >21</text>
<line x1="715.0" y1="1821.5" x2="718.0" y2="1821.5" stroke="#444" stroke-width="0.8" />
<line x1="952.4" y1="1821.5" x2="955.4" y2="1821.5" stroke="#444" stroke-width="0.8" />
<text x="701.3" y="1824.6" font-size="8.3" fill="#262626" textLength="10.6" lengthAdjust="spacingAndGlyphs" >20</text>
<line x1="738.4" y1="1850.2" x2="738.4" y2="1853.2" stroke="#444" stroke-width="0.8" />
<line x1="975.8" y1="1850.2" x2="975.8" y2="1853.2" stroke="#444" stroke-width="0.8" />
<text x="730.5" y="1862.5" font-size="8.3" fill="#262626" textLength="15.8" lengthAdjust="spacingAndGlyphs" >121</text>
<line x1="767.8" y1="1850.2" x2="767.8" y2="1853.2" stroke="#444" stroke-width="0.8" />
<line x1="1005.2" y1="1850.2" x2="1005.2" y2="1853.2" stroke="#444" stroke-width="0.8" />
<text x="759.9" y="1862.5" font-size="8.3" fill="#262626" textLength="15.8" lengthAdjust="spacingAndGlyphs" >122</text>
<line x1="797.0" y1="1850.2" x2="797.0" y2="1853.2" stroke="#444" stroke-width="0.8" />
<line x1="1034.4" y1="1850.2" x2="1034.4" y2="1853.2" stroke="#444" stroke-width="0.8" />
<text x="789.1" y="1862.5" font-size="8.3" fill="#262626" textLength="15.8" lengthAdjust="spacingAndGlyphs" >123</text>
<line x1="825.7" y1="1850.2" x2="825.7" y2="1853.2" stroke="#444" stroke-width="0.8" />
<line x1="1063.1" y1="1850.2" x2="1063.1" y2="1853.2" stroke="#444" stroke-width="0.8" />
<text x="817.8" y="1862.5" font-size="8.3" fill="#262626" textLength="15.8" lengthAdjust="spacingAndGlyphs" >124</text>
<line x1="855.1" y1="1850.2" x2="855.1" y2="1853.2" stroke="#444" stroke-width="0.8" />
<line x1="1092.5" y1="1850.2" x2="1092.5" y2="1853.2" stroke="#444" stroke-width="0.8" />
<text x="847.2" y="1862.5" font-size="8.3" fill="#262626" textLength="15.8" lengthAdjust="spacingAndGlyphs" >125</text>
<line x1="884.1" y1="1850.2" x2="884.1" y2="1853.2" stroke="#444" stroke-width="0.8" />
<line x1="1121.5" y1="1850.2" x2="1121.5" y2="1853.2" stroke="#444" stroke-width="0.8" />
<text x="876.2" y="1862.5" font-size="8.3" fill="#262626" textLength="15.8" lengthAdjust="spacingAndGlyphs" >126</text>
<line x1="913.1" y1="1850.2" x2="913.1" y2="1853.2" stroke="#444" stroke-width="0.8" />
<line x1="1150.5" y1="1850.2" x2="1150.5" y2="1853.2" stroke="#444" stroke-width="0.8" />
<text x="905.2" y="1862.5" font-size="8.3" fill="#262626" textLength="15.8" lengthAdjust="spacingAndGlyphs" >127</text>
<g transform="translate(718.0,1887.2) scale(1.0015)" clip-path="url(#cp)"><g filter="url(#bl)"><g transform="scale(0.5)"><rect width="400" height="400" fill="#7c7c7c"/><path d="M0,0l400,0 0,400-400,0z" fill="#8c8c8c"/><path d="M0,0l253,0-2,3-1,3 3,6 12,4 11,5 4,1 3,-2 1,-8 6,-12 110,0 0,194-2,1 2,4 0,10-2,8-7,7-3,1-12,-1-5,5 0,3 14,6 9,-1 6,-3 0,166-400,0zM192,9l-6,2-3,4 6,0 4,3 2,12 4,9 4,6 3,9 0,6-4,5-7,4 13,0 6,-1 3,-2 1,-3 1,-6 1,-3 6,-5 2,-1-8,-5-3,-10-6,-1-2,-2 2,-3 5,-3-2,-5-12,-2-2,-2-2,-5-3,-1zM232,48l-2,0 2,0 5,9 4,12 6,5 3,5 3,0 1,-4 2,-12 0,-3-3,-5-9,-9-3,0zM328,171l-3,1-3,2 0,4 2,2 7,4 6,1 3,-1-1,-4zM367,212l-4,5 1,2 3,0 3,-2-1,-3zM186,39l0,3 2,3 1,2 3,-1 2,-1 0,-3z" fill="#9e9e9e"/><path d="M0,0l177,0 1,27 3,9 1,9 1,4 9,8-3,16 3,2 10,0 12,2 12,-7 2,-1-2,-5-1,-4 4,-2 2,8-2,3 3,15 3,1 9,1 9,-1 3,-2 2,-8 1,-9 6,-9-1,-3-5,-3-5,-12 0,-6 4,-9 4,-2 3,0 12,7 3,1 3,-2 4,-4 2,-5 0,-7 7,-12 39,0 8,15 3,-15 54,0 0,185-6,1-9,5-3,1-6,-2-3,2-8,13-7,6-2,3 0,3 3,9-3,9 0,6-5,12-1,9 1,6 1,1 21,6 2,5 1,3-3,9 3,4 4,2 3,-6 8,-11 2,-4 2,-12-2,-18 2,-3 5,-4 0,52-12,6-6,0-1,3 3,15 4,7 6,-3 6,-1 0,20-12,-11-3,0-6,4-3,0-5,-1-7,-4-10,4-4,3 2,8 2,4 12,6 0,9 5,6 2,1 6,0 12,-3 3,0 6,4 0,31-38,0-3,-3 0,-3 2,-3-3,-2-12,0-2,2 2,3 1,3-4,2-18,-6-15,2-5,2-4,3-301,0zM211,87l-2,3 5,1 3,-1 0,-3-3,-2zM325,155l0,7-9,6-1,3 4,6 2,12 6,6 1,7-9,7-6,3-8,2-2,3-2,6 3,1 19,-1 2,-9 3,-6 3,-2 9,-2 6,-2 3,-7 1,-6-1,-9-6,-12 5,-6 0,-3-2,-1-9,1-9,-3zM380,202l5,-3 6,0 3,0 3,3 1,3-3,9-4,6-3,1-6,0-3,-1-4,-6-1,-6 2,-3z" fill="#afafaf"/><path d="M0,0l171,0 4,9 0,18 3,9 2,12 1,3 5,4 2,5 0,12 0,6 1,2 6,1 3,3 4,10 6,2 9,1 9,-1 12,-6 17,-3 3,-3 3,-9 1,-9 8,-9 3,-6-1,-3-10,-4-3,-3-1,-5 2,-9 2,-1 3,0 3,1 6,9 6,0 7,-3 2,-3 6,-21 3,-4 3,-2 9,0 3,1-1,14 1,1 12,-11 6,-1 3,1 4,10 8,2 3,-1 0,-1-2,-9 3,-9 50,0 0,181-18,6-12,-1-5,3-4,6-3,-3-3,-12-5,-9-1,-3 3,-6-1,-6-8,-16-3,1-6,10-3,-1-12,-5-12,-3-12,2-3,-2-6,-7-6,-3-2,-3-1,-6 0,-3 5,-6-1,-3-4,-1-6,0-12,6-12,2-3,2 2,3 4,3 15,4 2,2 3,15 7,0 3,1 6,4 3,1 9,-2 15,-1 3,2 2,4 0,3-6,9-1,3 5,4 2,5 0,9-4,6 8,1 2,2 0,4-8,8-9,1-3,-1-3,-2 4,-6-7,-2-9,-5-3,0-4,10 0,9-2,0-2,3 0,3 2,4 3,-2 1,-2-1,-6 1,-3 11,-6 5,3-4,15 3,3 20,-1 8,-2 5,-9 4,-3 4,-1 3,1 4,6 7,6-3,18-3,9-2,15-3,6-1,9 4,5 3,2 6,1 6,2 7,8 5,12-1,3-11,6-6,4-14,5-4,3-2,6 1,3 4,3 2,3 2,9-2,3-8,5-4,4-1,12-4,6-6,2-9,-1-6,2-14,12-290,0zM274,228l-2,4 2,1 6,-1 2,-3-2,-3-3,0zM286,252l-2,1-1,4 3,0 6,-4zM319,243l-19,10 7,2 9,-1 3,-2 4,-8zM385,202l6,-2 3,0 3,5-6,12-3,2-3,1-3,-1-4,-2-2,-6 1,-3 2,-3zM354,361l4,-2 12,12 6,3 3,0 9,-3 12,1 0,28-34,0-4,-3-1,-3 3,-6 0,-1-3,-2-12,0-7,-3-2,-3-1,-3 5,-6z" fill="#c3c3c3"/><path d="M0,0l126,0 3,3 9,0 6,3 6,1 12,-3 6,1 3,3 1,4 0,15 6,24 2,4 3,1 3,4 1,6-3,18 2,3 3,2 5,7 29,7 12,-8 12,-2 14,-6 3,-12 0,-6 4,-6 12,-10 3,-1 9,2 4,-3 3,-12-5,-12 1,-4 3,-2 3,1 6,5 18,-5 9,0 15,3 3,-1 0,-14 1,-1 8,-3 4,-3 0,-3 35,0 0,175-21,8-12,0-6,-2-8,-10 0,-3 2,-6-1,-9-8,-17-3,-1-6,4-6,2-3,-1-9,-7-3,-1-15,7-3,0-3,-1-11,-12 0,-3 4,-6 0,-3-2,-6-3,-1-12,-1-3,1-12,7-9,1-9,4-4,1 1,3 6,5 17,10 1,3 0,7 1,2 5,3 3,1 3,-4 6,-1 9,6 15,-2 9,2 3,1 1,3-5,12 1,3 3,-1 4,4 1,3 0,6-8,11-6,2-3,0-6,-3-12,-9-3,-2-2,1 0,3-2,9-4,13-1,6-6,13 0,5 3,2 3,1 9,-5 15,-6 28,-1 14,-6 6,0 3,1 2,2 1,3-2,6-1,9-6,10-3,3-9,1-2,-2 0,-3 2,-9-3,-1-10,4-8,4-25,2-7,3-2,3 2,3 5,4 6,0 9,-3 15,2 3,3 0,9 1,3 2,0 21,-17 3,1 2,7-2,7-1,8 1,4 2,5-1,6 2,1 12,-2 6,4 1,3 0,3-4,6-6,5-3,1-9,1-6,-1-3,-3 0,-9-3,-1-5,4-3,6 0,6 2,6 11,21 0,3-1,3-19,18-18,5-1,10-5,6-10,6-25,0-4,-4-6,-1-3,1-1,4-240,0zM277,168l0,3 3,2 0,-4zM289,362l-2,2 0,3 2,2 1,-2zM315,198l5,0 2,4-3,4-6,4-6,-1-3,-1 1,-3 5,-6zM390,202l4,1 1,2-3,9-4,3-3,1-3,-1-3,-3 0,-6 6,-5zM358,367l3,1 3,2 1,6-4,3-3,1-8,-1-1,-3 1,-3 3,-3zM387,376l7,-3 6,0 0,27-32,0-4,-3-1,-3 3,-6 1,-9 3,-2 3,0 6,4z" fill="#dadada"/><path d="M0,0l118,0 1,3 3,3 11,6 9,9-2,9 1,3 2,3 13,7 12,-1 3,1 3,4 3,11 7,2 1,3 0,6-5,18 3,11 6,4 19,1 7,2 9,12 2,9 20,12 3,3 5,9 6,9 1,3-1,12 5,6 2,6 0,28-1,3-4,6-3,6 1,6 5,6 3,1 15,-9 15,-5 27,-2 15,-4 3,1 2,3-1,3-4,4-15,4-18,10-6,1-12,0-12,2-9,2-6,4 1,3 8,3 6,10 5,5 1,6 3,3 6,0 6,-2 2,2 4,0 13,-6 9,-9 8,-6 3,0 2,3-1,12-2,9-2,2-12,4-9,9-1,9-1,6 0,3 4,6 1,6-3,6-6,4-15,6-9,1-6,4-1,3 0,6 5,12 2,6-3,4-3,8-6,5-3,1-6,0-9,-7-9,-2-3,1-2,8-239,0zM369,0l31,0 0,164-6,4-9,-1-1,1-1,6-3,6-10,2-7,-2-3,-3-4,-6 0,-3 3,-3 1,-3-1,-6 1,-9-2,-3-6,-5-6,-11-9,7-3,1-3,-1-9,-5-6,-2-3,0-9,6-3,1-3,-1-7,-11 2,-9-2,-9-2,-3-9,-2-12,-1-12,12-12,2-6,3-3,0-9,-5-1,-3 3,-6 4,-2 6,-1 6,3 3,-1 18,-14 3,-18 3,-5 9,-6 12,-1 8,-3 3,-3 0,-6 3,-9 2,-3 8,-4 15,-3 12,2 3,1 3,3 3,-2 1,-3 3,-15 11,-6 3,-3zM277,91l-2,2 2,5zM159,9l6,0 3,3-1,21-2,2-3,0-3,-1-9,-7-2,-3 0,-3 1,-3zM271,153l3,-2 3,0 9,6 15,-2 6,2 3,2 0,3-3,9 0,5 3,0 3,-1 3,2 2,6-2,5-9,9-6,1-5,-3-15,-15 0,-3 3,-6 0,-3-11,-9-2,-3zM310,202l6,-3 3,1 2,2-2,3-3,2-6,2-4,-1 0,-3zM385,205l6,-2 2,2 0,3-3,6-2,2-3,0-3,-1-2,-4 1,-3zM317,355l2,-2 3,1 0,1-3,3-3,0-1,0zM300,358l4,0 3,2 1,1-1,3-3,2-3,0-2,-2-1,-3zM391,376l3,-1 6,-1 0,26-6,-2-7,2-17,0-4,-3-1,-3 5,-10 3,-2 6,1 3,-1z" fill="#f3f3f3"/><path d="M0,0l113,0 1,6 12,9 3,3 2,3-1,6 5,4 3,5 15,10 15,-1 4,3 2,14 6,0 3,1 0,6-4,18-1,9 2,6 6,3 16,0 9,2 2,1 2,6-1,12 12,10 3,1 9,1 5,3 11,15 2,9-4,9 0,3 7,12 0,3-5,6 8,8 1,5-1,5-6,6 0,8 2,8 6,9-1,3-11,9-2,3 1,3 5,2 9,-1 3,2 4,9 2,13 3,2 21,-3 9,-3 12,-6 6,-7 9,-7 4,2 0,6-2,12-5,5-11,4-7,6-4,6 1,6-4,9 4,7 0,5-3,3-9,4-6,-1-6,-5-3,1-3,3-3,7-4,6-2,6 4,18-3,6-1,9-1,3-2,2-6,0-9,-6-9,-2-3,0-3,6-1,6-237,0zM373,0l27,0 0,160-6,2-9,0-3,1-4,5 0,9-2,3-6,1-6,-2-6,-8 1,-3 6,-3 1,-15-2,-6-3,-3-8,-6-6,-12 0,-3 3,-9-1,-7-7,1-4,3-1,3 5,9-1,6-4,4-3,2-9,-6-9,-3-3,1-9,5-1,0-2,-1-4,-8 0,-9-2,-9-6,-9-2,-6-4,-3-12,0-2,-3 2,-4 3,-2 6,1 3,-1 3,-2 1,-10 4,-3 13,-3 2,-3 2,-12 3,-6 4,-3 19,-4 9,2 3,4 3,1 6,-7 3,-14 3,-3 11,-6 1,-3zM304,66l-2,3 2,3 3,-3-1,-3zM252,102l4,-2 1,2-1,3-7,3 0,-3zM233,108l2,-2 7,2-4,4-2,-1zM274,153l3,0 6,5 18,-1 5,2 1,3-1,15 1,4 6,-5 2,1 2,3 0,3-1,4-9,9-6,1-3,-2-14,-15 2,-12-3,-4-9,-7zM311,202l5,-2 3,2-1,3-2,2-6,1-2,0-1,-3zM388,205l3,-1 1,4-4,6-3,1-2,-1-1,-3 1,-3zM330,226l7,-2 3,0 1,2-1,4-6,3-6,2-21,11-6,2-12,-1-18,2-5,-2 10,-9 7,-5 15,-4zM394,376l6,-1 0,23-6,-2-3,1-6,3-14,0-3,-3-2,-3 4,-7 3,-3 6,0z" fill="#00dbff"/><path d="M0,0l14,0 4,2 3,-1 1,-1 86,0 0,6 2,6-2,2-6,-1-3,2-1,3 1,2 3,1 6,-2 12,-1 4,3-2,9 1,2 9,2 5,5 7,3 9,7 12,-1 3,2 3,16 3,1 3,-2 4,1 0,6-7,24 0,3 9,9 3,1 12,-1 10,3 2,3-1,9 2,9 9,3 9,7 9,-1 3,2 9,11 2,5 0,6-5,6-1,3 6,12 0,3-6,6 1,3 10,10 1,3 0,3-5,6 0,6 1,9 5,12-4,6-8,7-2,5 2,4 9,3 6,0 4,2 2,6 0,6-1,3-5,6 1,3 14,8 3,-1 1,-7 5,-5 17,-4 7,-3 10,-6 11,-11 3,-1 3,2-1,10-2,7-3,2-12,6-4,3-8,9 2,3 0,3-8,8-3,1 5,9-1,3-4,2-4,-2-1,-3 0,-3 4,-6-2,-1-3,-3-3,-5-9,0-1,12-2,2-6,1-4,3-2,6 2,6-3,6 0,3 4,9 0,9-3,3-3,-4-4,-5-2,-8-3,-1-6,1-1,2 3,9-2,6 12,3 6,-2 3,11-1,3-2,4-3,-1-15,-6-2,-3 0,-6-1,-1-3,1-4,24-237,0zM66,1l-2,2 0,3 1,3 4,1 3,0 1,-1-1,-4-3,-3zM156,84l-2,3-1,3 3,2 3,-2-1,-3zM376,0l24,0 0,156-6,2-9,0-12,6-3,-5 1,-9-1,-3-6,-8-10,-7-5,-9 0,-3 4,-9-1,-24-2,3-2,6-2,3-11,6-12,9-16,7-3,0-3,-4 1,-9-1,-3-7,-15-1,-6 0,-3 2,-1 9,-2 5,-6 2,-6-2,-9 1,-12 3,-6 6,-4 15,-3 7,1 1,3-3,6 0,3 7,18 1,-6-1,-12 0,-3 10,-12 5,-15 3,-3 9,-3 3,-3zM289,159l9,0 3,0 4,3 0,3-1,12 3,7 3,-2 0,-2 3,-3 3,3 0,3-1,3-2,3-3,-2-2,5-4,3-3,0-5,-3-10,-12 0,-3 2,-9-3,-6zM363,168l7,-1 3,2 3,5-1,3-5,2-6,-2-3,-6zM312,202l4,-1 2,1 0,3-5,2-3,0-2,-2zM386,208l2,-2 2,2-2,4-3,0-1,-1zM336,226l1,0 1,3-3,3-7,2-21,12-18,0-15,2-4,-1 1,-3 6,-6 9,-5 12,-4zM389,379l5,-2 6,-1 0,20-6,-1-11,5-10,0-4,-3-1,-3 1,-3 4,-5 7,-1z" fill="#0092ff"/><path d="M0,0l9,1 7,5 2,3 3,1 9,-4 1,-6 18,0 0,6 2,6 12,2 15,6 5,-2 0,-3-2,-6 0,-9 6,1 5,5 1,3-3,9 0,3 2,3 7,3 12,-3 3,1 2,2 2,6 2,2 9,2 3,1 3,3 9,3 9,9 10,1 3,6 2,9-1,3-5,4-9,2-2,9 0,3 2,5 3,1 3,0 2,-3 0,-9 1,-4 5,-2 10,-8 1,5-3,12-5,12 1,2 6,5 6,6 3,1 9,-2 3,1 5,5 5,14 2,4 10,3 9,8 9,0 10,10 2,7-2,2-4,3-2,3 6,15-5,9 1,3 6,7 4,6-3,9 0,6 1,9 3,12-3,6-6,6-2,6 0,3 3,4 11,5 4,3 0,4-5,8 1,6 2,3 11,6 3,3 1,6-1,4-3,1-6,0-1,1-6,12-2,9-3,5-3,2-3,-1-3,-3-3,0 1,3 0,9 3,6-2,6-6,6-1,24-236,0zM379,0l21,0 0,153-6,0-3,-2-3,0-9,5-3,-3-1,-6-9,-12-11,-6-3,-5 0,-4 4,-9-2,-9 0,-15-6,-12 1,-1 1,-8-2,-21 1,-3 9,-11 3,-9 4,-7 12,-6zM331,36l4,0 1,3 0,9 9,27 0,9-2,5-3,1-3,3 1,3-2,3-5,4-3,0-3,-1-3,-10-3,0-1,4 1,6 1,3 0,3-4,3-3,0-11,-12-2,-9 2,-3 5,-5 7,-16-2,-18 2,-6 5,-4zM288,162l4,-2 6,0 4,2 2,3-1,15 4,9-1,3-2,2-3,0-3,-2-10,-12-1,-3 2,-9zM364,171l3,-1 3,1 3,4-2,2-4,0-3,-3zM311,180l2,-2 2,2 0,3-2,5-2,-2zM315,202l1,0 1,3-1,0-3,2-3,-1-1,-1zM312,229l22,-2 2,2-29,16-6,1-12,-1-16,2-1,-3 3,-3 8,-6 15,-5zM330,271l4,-2 2,2 0,6-2,9-4,3-12,6-9,9-3,3 2,3 0,3-4,5-6,2-6,-4-3,-4-6,-1-2,-1 2,-9 3,-6 19,-6 12,-6 5,-3zM391,379l9,-2 0,18-6,-1-3,1-9,5-8,0-4,-3-1,-3 4,-6 9,-3z" fill="#0049ff"/><path d="M36,0l8,0-2,6 4,9 0,6 2,1 9,-6 6,1 13,7 20,7 6,1 6,-2 3,0 5,6 4,3 9,2 15,6 6,7 11,6 3,6-2,4-3,1-9,-1-2,2-1,3 1,15 2,5 6,4 9,2 9,6 9,10 12,-1 3,2 5,5 5,13 3,2 6,1 3,2 6,9 3,3 9,-2 7,5 2,3-1,3-9,6 1,3 7,12 0,3-4,6 0,4 0,2 9,10 1,3-2,12 3,24-1,3-7,12-1,6 1,4 8,8 2,18 2,4 3,4 2,1 1,3-10,3-1,3 1,6-1,6-4,5-3,1-3,3-2,9 2,12 2,6-2,6-6,6 1,9-1,15-80,0-2,-8-3,-2-4,4 1,6-147,0 0,-395 9,2 9,9 3,0 5,-4 7,-3 2,-3zM72,42l-2,3 2,6 3,7 3,0 3,-7 0,-6-3,-3zM156,294l-2,4-1,9 0,3 4,6-2,6 1,6 0,1 3,1 4,-5 0,-6-2,-3 7,-6 1,-3-6,-12-4,-2zM214,352l-3,3 6,6 0,-5zM220,377l-3,2-1,3 4,4zM229,275l-4,5-1,3 2,2 3,-5 1,-3zM33,80l-3,4 0,3 3,4 3,0 5,-4 1,-3-1,-3-2,-2-3,0zM381,0l19,0 0,131-6,0-3,7-6,5-3,0-6,-2-3,-3-3,-9-3,-2-9,-1-3,-3 0,-3 5,-6 0,-3-4,-9 0,-15-5,-12 0,-9-1,-9 1,-12 2,-6 6,-6 3,-9 5,-8 3,-2 9,-3zM322,42l3,1 5,2 7,14 4,16-1,5-3,2-21,-1-2,-3 4,-15-2,-15 3,-5zM166,81l5,-2 3,2-1,9-5,6-3,-1-2,-8 0,-3zM291,162l7,0 4,3 0,15 2,9 0,2-3,1-11,-12-1,-3 1,-12zM312,180l1,-1 1,1 1,3-2,4-2,-4zM310,205l3,-2 3,1 0,1-3,1zM326,229l7,0-3,3-23,13-30,0-3,-1 5,-6 4,-2 15,-5zM332,271l2,0 1,3 0,6-2,6-4,3-12,6-12,12 3,3 0,3-4,4-6,1-3,0-6,-8-5,0-1,-3 1,-6 1,-3 3,-3 19,-6 11,-6 4,-3 6,-7zM393,379l7,-1 0,15-9,1-11,6-4,0-4,-3-2,-3 3,-5 9,-3z" fill="#0000ff"/><path d="M382,3l0,-3 18,0 0,117-7,-3-5,0-3,3-3,8-3,1-4,-3-5,-6-6,-6-5,-6-1,-6-1,-12-5,-12 1,-9-1,-9 0,-12 2,-6 7,-6 3,-9 4,-6 2,-2 9,-2 3,-2zM0,12l0,-1 18,9 3,1 6,-6 6,0 7,3 1,6 4,2 9,-6 3,-2 3,0 17,9 10,4 9,5 12,0 12,7 21,5 9,12 0,3-6,5-2,7 5,18 2,3 10,8 12,4 3,2 6,10 3,0 9,-1 6,3 4,4 5,12 10,3 3,3 4,9 2,10 6,5 10,12 1,6-4,6 0,3 1,3 7,10 1,3 0,12 2,24-1,6-6,9-1,6 2,9 6,15 2,12-5,8-3,7-1,6-5,17 1,16 2,6 0,4-6,4-2,4 2,9 0,15-9,0 0,-7-2,-2-3,-9-1,-21-3,-9-2,-3-1,-1-3,1-2,3-1,3 2,3 8,9 0,3-4,12 1,3 6,6-1,6-3,3-9,0-3,-3-4,3-44,0-2,-6 0,-9-2,-3-9,6-3,3-1,3 2,6-142,0zM39,60l-3,1-1,2 2,9-7,7-3,5 1,6 2,4 3,2 12,-2 9,3 6,-1 2,-3-1,-3-4,-4-3,-5-9,-5-2,-4 10,-9 0,-3-2,-2-3,0zM54,39l-1,3 1,3 9,6 2,3 0,6-2,6 0,6 3,1 5,-1 7,-6 5,-6 2,-9 0,-6-4,-5-3,-2-6,0-9,2zM156,288l-3,2-2,5-5,18 7,21 3,2 3,0 3,-2 3,-6 6,-18-1,-12 1,-6-3,-4-6,-1zM232,264l-1,4-5,6-4,6 0,6 1,3 3,1 1,-4 5,-9 1,-9zM325,57l6,3 3,6 0,6-3,3-6,0-3,-1-1,-2 2,-12zM168,84l3,3-3,4-1,-4zM291,165l1,-1 3,-1 3,0 3,2 1,3-1,17-3,1-6,-5-2,-4zM312,180l1,0 1,3-1,3-1,-3zM297,232l19,-3 9,1 2,2-8,6-12,6-6,1-25,-1 1,-3 3,-3 6,-3zM328,274l3,-2 3,0 1,2-1,6-2,6-16,9-12,12 3,3 0,3-3,3-3,2-6,-1-3,-4 0,-3-6,-1-2,-2 1,-3 4,-8 12,-4 18,-9 4,-3zM397,379l3,0 0,13-9,1-12,6-3,0-3,-2-2,-3 2,-3 18,-10z" fill="#002ab5"/><path d="M384,0l16,0 0,112-6,-2-9,0-9,-6-9,4-3,-1-4,-5-1,-15-5,-12 0,-9-1,-9 1,-15 2,-3 7,-6 2,-9 5,-6 3,-2 9,-1 2,-3-1,-6zM0,18l0,-1 3,1 3,3 6,-1 9,4 3,0 6,-4 3,0 3,3 2,4 4,2 3,0 3,-1 9,-8 3,1 6,4 22,8 9,9 5,9 6,0 6,-3 3,0 13,3 6,3 2,2 2,4-2,18 8,18 10,9 15,9 6,11 12,-2 6,0 3,3 7,13 3,3 9,2 4,9 1,9 2,3 8,6 7,9 2,3-1,3-3,6 0,3 1,3 7,10 1,3 0,12 3,24-1,6-6,9 0,6 2,15 3,9 2,9-1,6-4,7-3,9-2,11-2,9 0,15 2,6 0,3-4,3-3,3 0,4 3,11-1,12-6,0-2,-9-4,-9-1,-21-3,-6-1,-9-9,3-2,3 0,3 2,4 6,6 2,5-4,12 0,3 6,6 0,3-1,1-3,1-6,-5-3,0-6,3-4,6-14,0-1,-4-3,-1-6,5-12,0-2,-6 1,-15-2,-4-15,9-3,3-2,7 1,6-137,0zM51,36l-2,3 0,3 2,9-6,4-9,0-3,2-2,3 0,3-1,9-6,12 0,3 3,8 3,5 12,0 15,2 6,-2 3,-4 2,-6-6,-9 1,-2 1,-1 8,-2 6,-4 6,-6 3,-6 2,-9 0,-6-5,-6-9,-3-12,1-9,-2zM153,279l-1,1-1,6-8,21 0,9 1,8 5,10 4,4 6,2 3,-2 3,-3 7,-19 2,-6-1,-9 3,-9-2,-6-6,-6-6,1-6,-3zM186,292l-2,9 0,3 5,8 3,-5 2,-6-5,-9zM205,252l0,2 3,1 3,-2 0,-2-3,-1zM214,176l-2,1-4,12 1,9-2,7 1,6 3,2 3,0 3,-2 3,-3 0,-13-3,-15zM229,258l-2,1 0,3 0,6-4,7-3,8 0,9-3,6 1,3 8,7 2,-1 1,-3-2,-9 0,-6 5,-10 3,-11 0,-9-3,-3zM189,314l0,8 3,0 3,-3-3,-5zM292,165l3,-2 3,1 2,1 2,3-2,12-2,4-6,-4-1,-3zM300,232l16,-2 9,2-7,6-11,6-6,1-21,-2-1,-2 2,-3 5,-2zM330,274l1,-1 2,1 1,3-1,6-2,3-15,9-14,12 4,3 0,3-2,2-6,2-3,-1-2,-3 0,-3-1,-2-6,-1 0,-3 3,-6 31,-15zM390,382l10,-2 0,11-9,1-9,6-3,1-5,-2-2,-3 2,-3z" fill="#00546b"/><path d="M384,3l2,-3 14,0 0,108-15,-2-9,-5-9,4-3,0-3,-6 0,-12-5,-12 0,-9-2,-9 2,-15 2,-3 6,-4 3,-11 3,-4 3,-2 9,-1 4,-2zM10,24l2,-1 9,3 9,1 16,6 1,15-2,3-3,1-6,0-3,1-6,13-1,9-4,9 0,3 5,14 6,2 24,1 6,-1 15,-17 9,-5 3,-3 3,-12 3,-5 6,-2 3,5 4,2 5,2 3,0 3,-2 3,-4 3,-1 3,1 2,1 2,3-1,4-4,5 1,3 8,9 9,15 1,6 9,1 7,5 5,6 5,9 1,1 6,-1 9,-3 6,1 3,3 4,10 2,4 4,2 6,0 3,2 4,17 11,9 5,6 1,3 0,3-3,6 0,3 3,6 6,10 4,36 0,3-5,9-2,6 1,15 4,12 1,12-2,6-5,9-1,15-3,9 1,9-1,12-4,6-1,3 0,6 3,9-1,12-4,0-2,-9-5,-9 0,-18-4,-12 2,-10-11,4-3,3-2,3 0,3 2,6 7,9 0,3-2,4-6,8-3,3-13,10-3,-1-1,-6-2,-2-3,-1-7,3-4,6-3,3-4,0-2,-3-1,-6 3,-9-3,-15 1,-9 0,-12 7,-9 4,-12 4,-9 2,-15 3,3 4,9 2,9 2,3 1,1 5,-1 3,-3 1,-3-2,-9 3,-12-4,-11-6,-4-9,-2-5,-7-7,-3-15,4-10,5 0,3 3,6-1,6-4,12 0,18 5,9 12,12-3,3-5,3-1,3 1,6-1,3-6,6-3,9-5,9-3,12-132,0 0,-370 3,0 3,-1zM211,158l-3,1-3,6 2,6 0,9-5,12 2,6 1,13 3,6 3,3 3,-1 0,-2 6,-6 2,-3 1,-13-4,-15-7,-12zM238,239l-4,11-4,3-10,-1-8,-5-4,0-6,3-3,6 3,6 3,1 3,0 9,-5 3,1 3,4 0,5-6,18-1,12 1,3 6,7 3,3 3,1 1,-5-2,-18 7,-18 1,-15 2,-3 1,-9 0,-3zM54,24l3,-2 3,1 3,3 13,4 2,2 5,1 4,3 0,1-3,0-3,-3-24,-1-6,-1-2,-2 2,-3zM293,165l2,-1 3,0 3,4-2,12-1,3-3,-2-4,-4zM305,232l8,-2 10,2-2,3-4,3-12,6-7,0-17,-3 2,-3 3,-2zM327,277l4,-3 2,3-1,6-2,3-11,6-15,13-4,2 4,1 2,2 0,3-2,2-6,2-3,-2-2,-2 1,-3-2,-3-4,0-1,-3 3,-6 31,-15zM392,382l8,-1 0,9-6,0-6,2-6,5-3,1-3,-1-2,-3 2,-3z" fill="#008738"/><path d="M388,0l10,0 2,2 0,103-15,-1-6,-5-3,-1-9,5-3,-1-2,-3 0,-12-5,-12 0,-9-2,-9 3,-15 7,-6 2,-9 3,-5 3,-3 3,0 10,-1 2,-3-3,-9 1,-3zM11,27l1,-1 9,3 12,2 6,2 2,3 1,10-3,2-3,-1-3,2-1,2-8,15-1,9-3,9 0,3 4,12 3,4 15,3 18,0 3,-1 9,-8 3,-2 3,0 9,-7 6,-2 6,1 3,-2 2,-4-2,-6 3,-3 6,0 9,3 6,11 7,4 4,9 3,9 5,3 11,1 6,5 9,15 8,0 10,-3 3,0 3,2 6,13 6,6 1,3-5,12 2,12-5,15 3,10 1,15 2,6-1,4-4,2-2,3 15,4 6,-3 4,-4-1,-3-3,-1-3,-2-1,-3 1,-3 7,-9 0,-13-3,-15-8,-15 1,-13 3,3 2,10 10,9 5,6 1,3-2,12 3,7 8,13 3,32 0,4-6,11 0,6 0,12 4,12 1,12-6,15-5,24 0,12-2,9-3,9 0,6 3,9-1,12-1,0-8,-21 0,-15-4,-12 2,-6 3,-6-1,-2-15,7-6,7 0,6 2,6 4,6 0,3-10,13-6,4-9,-5-9,0-6,-2-2,-4-3,-12 0,-18 1,-3 5,-9 2,-10 6,-9 3,-2 4,9 2,2 6,0 5,-2 3,-3 1,-3-2,-9 2,-12-3,-14-3,-3-27,-13-21,8-6,1-2,3 4,12-5,15 1,21 3,6 8,9-6,10-1,8-4,9-1,9-10,21-27,0-14,-3-3,0-6,3-50,0-4,-1-1,1-7,0 5,-3 1,-3-3,-9-1,-2-3,-2-2,4-4,12 1,3-10,0 0,-40 3,-5-3,-5 0,-309 6,2 3,0 1,-4-1,-9zM238,229l-3,3-6,14-3,2-6,0-9,-5-13,0-3,3 0,4 0,3 3,9 4,4 6,0 9,-2 3,3 0,4-5,15-1,12 3,5 12,13 3,-6 0,-3-3,-18 7,-18 0,-12 5,-11 0,-4 0,-12 0,-3zM54,27l3,-1 1,1-1,2-3,0zM294,165l4,0 2,3-2,13-3,0-3,-4 1,-9zM308,232l12,0 0,3-16,8-20,-2 1,-3 1,-1zM329,277l2,-2 1,5-2,6-14,8-12,10-6,2-6,0-3,-2 0,-3 3,-3 30,-15zM295,310l3,-2 3,0 4,2 0,3-4,3-3,0-4,-3zM388,385l12,-3 0,7-9,0-6,5-6,3-3,-2-1,-1 3,-3zM162,391l3,-1 1,4-1,2-3,0z" fill="#00c31c"/><path d="M388,3l3,-3 3,0 4,3 2,4 0,94-15,0-6,-5-3,-1-6,5-3,1-2,-2-1,-1 0,-11-5,-12 0,-6-3,-9 0,-6 2,-9 2,-3 7,-6 2,-9 4,-6 3,-1 9,0 5,-2 0,-3-3,-9zM12,30l3,-1 6,2 12,1 3,2 2,2-1,6-6,6-5,12-5,6 0,9-4,9 0,3 4,6 2,9 4,3 15,3 18,0 6,-3 6,-6 9,-1 9,-7 12,-1 9,-6 3,0 5,9 4,3 6,2 9,10 4,3 8,2 6,0 2,1 10,19 6,2 18,-2 3,3 4,8 7,9 0,3-3,6 1,15-6,15 4,13 0,18-10,7 0,8-4,9 0,3 6,9 2,6 2,3 4,1 12,0 2,2 0,6-2,9-1,12 3,6 7,9 3,9-3,12-3,3-12,6-6,6-4,6 0,3 4,12-2,9-5,5-3,0-9,-3-6,1-5,-3-4,-9-2,-18 1,-6 3,-6 4,-15 3,-2 3,1 3,5 3,2 3,-1 6,-2 7,-6 1,-3-1,-9 1,-9-2,-18-3,-5-12,-8-9,-1-9,-3-21,8-9,1-2,2 0,3 5,12-2,6-4,6 2,12 0,18-1,9 5,1 2,2-3,9-4,24-7,15-4,6-13,0-4,-2-9,1-9,-3-6,-1-6,1-4,4-41,0-8,-9-2,-3 0,-9-2,-5-3,-4-3,-2-4,2-2,3-3,18-3,4-3,1 0,-28 6,1 3,-2 0,-9 1,-3-1,-3-9,-7 0,-291 9,-7 4,-5zM15,349l-4,3 4,2 6,0 3,-2-4,-3zM27,355l-6,9 3,2 3,0 9,-8 2,0zM33,369l-2,1 2,3 3,-1 2,-2zM293,168l2,-2 3,0 2,2-2,12-3,-1-2,-2zM219,171l1,-1 6,4 3,3 3,6-1,9 2,10 3,6 2,9 3,0 1,3-1,2-3,0-3,2-3,0-12,-4 0,-3 5,-6 1,-3 0,-13-3,-15zM312,232l4,0 3,3-15,7-12,-1-5,-3zM243,235l1,-3 3,15-2,6-6,12 0,3 2,15 4,12 0,9-6,15-4,24-1,12-5,18 0,6 3,9 0,8-8,-14-1,-18-3,-12 1,-6 5,-6 3,-9 0,-12 3,-6 1,-6-3,-18 7,-18 0,-12 4,-9zM223,238l3,0 0,3-1,3-2,1-4,-1-1,-3zM326,280l5,-3 0,6-2,3-10,5-12,11-6,3-10,-1 0,-3 3,-3 28,-15zM297,310l4,-2 3,1 1,4-4,2-3,0-3,-2zM385,388l3,-1 2,1-7,6-4,1-1,-1z" fill="#00ff00"/><path d="M390,3l4,0 3,3 2,9-2,4-7,-10-1,-3zM372,24l4,-3 3,0 18,0 3,3-1,12 1,62-9,1-6,-2-4,-4-2,-5-3,-3-6,10-3,1-1,-9-5,-12 0,-6-4,-9 0,-6 3,-9 7,-6 1,-3zM18,33l12,1 6,2 0,3-8,9-4,12-7,6 2,9-4,12 3,6 4,9 2,3 3,2 18,3 9,-1 6,1 6,-3 6,-5 3,-1 3,1 3,0 9,-8 21,-3 6,6 12,5 12,10 9,3 3,0 3,-1 3,4 3,8 6,9 3,1 9,0 9,1 3,1 12,15 0,3-3,6 1,15-4,15 3,16 0,12-1,3-9,6-6,18 1,6 5,6 0,3-3,3-8,2-6,0-6,-3-3,1-6,4-12,4-9,-1-3,2-2,3 0,3 4,12-2,4-6,1-2,4 1,3 4,4 3,5 0,6-1,15-3,6-6,6 12,3 1,12-4,18-6,15-6,6-6,0-8,-3-9,0-15,-4-6,2-5,5-36,0-2,-3-8,-6-2,-3 1,-12 1,-2 6,2 6,-2 2,-4-7,-6 5,-4 12,-8 23,-6 3,-3 0,-6-2,-3-3,-1-6,7-18,9-9,3-5,0-4,-2-12,-10-6,-3-6,-13-2,-2-4,-2 0,-253 8,-16 6,-6 2,-3 0,-6zM294,168l1,-1 3,0 1,1-1,10-3,0-1,-1-1,-3zM227,214l2,-2 2,2 0,3-2,0-4,0zM301,235l12,-2 4,2-13,7-7,-1-4,-3zM243,247l1,-3 0,3 0,6-3,7-2,-1zM237,271l6,21 2,12-7,18-2,12-2,9-1,12-6,18 1,6 4,9 0,3-3,-2-4,-7-1,-18-3,-12 1,-6 4,-6 3,-6 1,-12 4,-15-3,-18zM204,274l7,-2 2,2 1,2-3,10 1,15 6,15 0,6 2,6 0,3-1,3-11,7-10,8-5,3-3,3 7,15-2,8-3,2-3,-1-12,-3-7,-18-1,-6 1,-6 4,-6 0,-10 3,-2 1,0 5,6 3,1 12,-7 11,-9 1,-3-2,-7-2,-8zM327,280l4,0-3,6-9,4-12,11-6,3-3,0-3,0-3,-3 4,-3 26,-14zM298,310l3,-1 2,1 1,3-3,1-3,0-2,-1zM0,376l0,-1 1,1 1,3-1,6-1,3z" fill="#66ff00"/><path d="M375,24l4,-1 9,1 7,3 1,3 0,12 1,4 3,4 0,42-6,4-6,-1-3,-2-2,-3-1,-10-3,-4-3,2-6,8-3,-1-4,-7 0,-3 2,-6-7,-12 0,-3 3,-7 8,-8 3,-12zM26,36l5,0 2,3-9,9-2,9-2,3-7,6 3,9 0,3-5,9 1,4 5,5 3,6 4,5 21,5 9,-1 6,1 12,-8 3,0 6,3 7,-8 5,-3 6,-1 9,1 9,5 9,3 15,10 12,3 3,-1 3,4 2,6 4,10 3,1 12,1 9,3 6,4 8,8 0,3-3,6 2,12-5,18 0,6 3,10 0,9-2,4-7,5-4,6-3,15 1,6 3,6-1,3-7,3-3,1-9,-3-21,8-9,0-3,1-5,5-1,12-7,12 1,4 8,8 2,6-4,17-3,4-3,1-15,1-9,5-11,-4-1,-3 0,-3 7,-9 0,-3-1,-11-6,-4 5,-6-1,-3-4,-3-4,0-4,3 0,3 4,6 0,3-3,3-5,2-15,15-6,0-9,6-3,1-3,-1-1,-2-2,-6-3,-3-12,0-3,-2-6,-10-12,-3 0,-243 2,-1 2,-3 5,-12 3,-3 5,-3 4,-3 1,-6zM295,168l3,0 1,3-1,4-3,2zM306,235l9,0-11,6-4,-3zM238,274l4,18 2,12-7,18-1,12-3,9-1,12-5,15-1,9-1,-15-3,-12 0,-3 7,-15 2,-12 3,-15-2,-18zM324,283l4,-2 1,2-2,3-8,4-13,11-5,2-6,-2 3,-3zM297,313l4,-3 2,3-2,1zM207,325l4,2 1,4-1,3-9,10-7,3-12,0-9,5 0,-5 3,-2 6,-2 7,-6zM72,349l3,-1 12,5 9,-4 6,0 6,2 9,-4 15,6 3,5 0,3-2,15-7,18-3,3-6,2-6,-3-12,0-15,-4-7,2-5,6-30,0-6,-6-8,-6-1,-3 1,-3 2,-3 9,-1 3,-4 1,-4-6,-6 3,-3 14,-8zM182,364l1,-1 4,1 3,6-1,3-6,0-2,-3 0,-3z" fill="#ccff00"/><path d="M375,27l4,-2 6,1 4,1 3,3-1,12 9,14 0,14-4,2-2,3 0,3 4,6 0,3-4,4-3,1-3,-2-2,-6 1,-9-2,-3-6,-5-9,-2-3,-2-7,-6 1,-6 8,-9zM2,72l7,-2 4,2 1,3 0,3-6,9 1,6 6,5 6,9 6,3 18,5 9,-2 6,1 12,-7 3,0 6,3 3,-1 4,-7 5,-4 6,-1 6,1 12,7 12,2 9,6 12,6 3,1 3,-3 3,6 0,3 6,12 3,1 9,1 6,1 12,7 6,5-2,9 2,12-5,21 2,13 0,8-1,4-9,6-3,6-3,15 3,12-1,3-4,2-3,0-9,-2-9,4-12,4-9,-1-3,0-6,4-6,1 0,3 3,5 1,4-1,3-7,6-1,3-1,9 0,3 7,3 3,3 0,3-1,3-6,6 3,3 1,3-2,3-5,0-3,-3 3,-6-10,-6-2,-9-6,-6-3,-6-3,-4-6,-3-6,0-9,4-4,3-1,3 3,9-4,7-3,2-9,0-3,3-6,2-3,0-12,-7-6,2-3,-6-4,-3-8,-5-9,-4 0,-231zM96,171l0,2 5,-2-2,-1zM237,280l4,12 2,12-7,18-4,32-3,9-3,2-4,-13 1,-3 7,-15 1,-9 4,-18-2,-18 2,-6zM320,286l5,-2 1,2-7,3-14,12-4,1-3,-1 2,-3zM70,352l5,-1 12,4 12,-3 9,2 9,-3 5,1 5,3 5,6 0,12-1,6-7,15-4,2-12,-2-9,1-15,-5-9,3-5,7-19,0-6,-2-6,-3-7,-10 8,-3 2,-2 3,-10-5,-6 2,-3 12,-8z" fill="#ffdd00"/><path d="M381,30l4,0 3,3-2,6 1,3 5,9 5,12 0,3-6,4-3,-1-6,-6-12,-5-5,-4 0,-3 6,-6zM2,75l4,-1 4,1 0,3-5,9-1,3 3,6 11,12 9,5 9,1 12,4 9,-2 6,0 3,-3 6,-3 3,-1 6,3 3,0 4,-4 3,-6 2,-2 3,-1 6,-1 12,10 15,1 21,13 3,0 3,-2 2,3-1,3 4,6 2,6 2,2 12,2 18,9 3,2-1,9 3,9-1,6-5,18 3,13 0,6-2,4-6,3-3,4-3,7-2,12 2,15-2,3-4,1-9,-3-3,1-6,4-12,3-9,-1-9,2-6,-1-3,1-3,5 0,3 6,6 1,3-3,3-4,0-4,3-1,3-1,9-3,2-5,-2-7,-10-9,-4-6,-1-12,5-7,4-3,6 1,6-3,1-3,1-4,-2 1,-6-1,-3-5,-2-3,1-1,4 3,9-2,3-3,0-6,-1-9,-5-6,-1-18,-11 0,-222zM48,261l-6,4-1,3 4,1 3,-4zM66,237l-1,1 1,4 6,-1 0,-3zM99,168l-6,3 0,3 3,1 7,-4 2,-3-3,-1zM66,274l-1,3 2,3 5,4 3,0 3,-1 2,-3 1,-3-3,-3zM237,286l1,-1 3,7 1,12-1,6-5,9-1,14-6,26-3,-1-2,-9 6,-12 2,-12 5,-18-3,-15 1,-5zM306,295l4,-2 1,2-7,5-2,-2zM53,355l7,-2 9,2 6,-2 12,4 12,-3 12,3 6,-3 3,1 3,2 6,8 1,5 0,6-7,15-3,2-12,-1-9,1-12,-4-3,-1-9,4-7,8-7,0-10,-4-6,0-4,-2-5,-6 1,-3 6,-3 2,-5 1,-7-4,-6 2,-3z" fill="#ff9900"/><path d="M378,45l1,-1 3,1 3,3 2,6-2,3-6,-1-5,-2-1,-3zM0,99l0,-2 4,5 0,3-4,4zM93,102l6,-2 3,0 3,2 1,3 2,3 3,3 3,1 15,-1 17,9 10,8 4,4 1,6 1,3 13,3 8,8 6,3 3,2 7,14-6,24 3,16-3,6-7,4-7,11-1,12 2,15-3,2-9,-2-12,5-9,1-15,0-3,-2-3,-5-3,0-3,3-1,4-6,9-3,9-2,2-3,0-7,-5-2,-3 2,-9-2,-5-3,1-3,5-3,1-14,-2-4,-3-1,-6 1,-6 2,-3 5,-3 1,-9-2,-4-3,-3-3,-2-6,1-3,1-3,4-1,3 1,9-1,3-17,11-6,2-1,2 0,3 0,6 4,4 7,2 8,4 6,-2 3,0 6,4 1,3-3,3-4,0-12,0-9,1-5,5 0,3 2,6-3,2-6,-4-9,-1-12,-6-6,-7 0,-173 9,0 9,-4 3,0 6,3 15,3 6,3 3,5 4,-8 2,-2 9,0 3,-4 6,-2 9,3 3,-2 4,-5zM102,165l-11,3-2,3 1,3 3,3 3,-1 9,-5 2,-3-1,-3zM39,135l-3,1-2,2-5,15 2,3 7,6-3,9 1,7 3,1 9,-3 12,3 6,-1 2,-4-5,-7-9,2-3,-1-7,-6-1,-3 4,-12 0,-6-3,-6zM63,151l-1,2 1,4 3,0 0,-6zM236,292l2,-3 3,7 0,5 0,6-3,7-2,-1 2,-9zM228,343l1,-1 1,1-1,11-3,0-1,-5zM54,355l6,-1 9,3 9,-1 9,3 12,-3 15,6 6,-1 7,6 1,3 0,6-5,8-6,6-21,0-9,-3-3,0-11,4-7,7-3,0-18,-4-4,-3-2,-3 6,-6 1,-3 1,-12-3,-3 1,-3z" fill="#ff5500"/><path d="M98,102l2,0 0,3-4,1 0,-1 0,-1zM93,114l3,4-3,-1zM122,114l8,0 11,6 6,6 6,3 4,3 1,3-2,3-3,2-12,-2-5,3 17,1 18,5 3,2 9,11 9,4 4,4 1,6-6,24 2,10-1,3-9,8-8,10 0,12 2,16-3,1-6,-1-3,1-6,4-6,1-12,-3-6,1-3,-2-3,-3-6,-2-3,2-3,3-1,6-5,6-3,2-3,0-6,-14-3,-2-3,1-6,7-7,0-4,-3-1,-4 7,-5-4,-18-6,-10-3,-1-9,0-4,2-2,4-2,17-13,10-9,3-3,2-1,9-2,5-6,2-9,-3-9,-1 0,-149 18,-4 4,2 4,15-2,6-3,1-12,-2-3,1-2,3 0,6 2,4 3,3 3,1 12,-1 6,3 2,2 0,3-3,12-4,6 0,6 6,13 4,12 4,2 9,1 3,0-1,-3-3,-6-2,-7-4,-6-1,-3 8,-3 6,-4 3,-1 6,2 3,0 11,-12 0,-3-5,-4-2,-5 1,-3 6,-9 0,-6 2,-3-6,-6-10,-3-3,-3-4,-6 0,-3 1,-2 3,-2 9,2 6,-4 6,7 3,1 12,-1 3,1 5,4 0,3-8,9-1,3 10,5 3,-2 2,-6 0,-3-4,-6 0,-3 5,-12 3,-2zM87,162l-4,9-3,3 5,3 8,2 3,-1 9,-6 3,-4 0,-3-3,-2-9,0zM35,123l4,2 0,2-6,0-2,-1zM12,286l3,0 4,6 1,3-2,3-3,0-5,-3-1,-6zM56,355l4,0 9,5 9,-2 12,4 6,-1 5,0 2,3-4,3 0,3 2,6-1,3-7,6-6,-1-3,1-9,4-9,6-3,1-9,-1-9,-4-2,-3 3,-6 2,-10 3,-3 3,1 3,-3-1,-3-2,-1-6,2-1,-4zM120,367l3,1 2,2 1,3-3,6-3,2-9,1-2,-3 3,-6 2,-3z" fill="#ff1100"/><path d="M124,120l5,-1 3,0 7,4 1,3-11,12-9,5-3,1-3,-15 3,-5zM58,123l2,-2 6,1 9,-1 6,4 12,2 3,2 0,6-2,3-4,5-9,-1-6,-4-12,-5-3,-4zM8,132l1,-2 3,0 3,2-3,3zM141,147l6,-1 21,3 3,2 12,14 10,3 1,3-2,14-4,10-2,9-4,4-2,9-6,6-2,6-1,12 2,12-17,7-3,0-12,-6-6,1-9,-4-6,0-8,5 0,9-4,3-3,-2-1,-4 0,-3 3,-6-6,-6-5,-4-9,1-3,-2-9,-21-3,-1-9,0-6,-2-6,-7-1,-6 4,-8 3,-1 8,-1 4,-2 6,-9 3,-2 15,-2 12,-7 4,-5 1,-3-3,-6 4,-4 3,-2 9,2 6,-2 6,0 3,-1zM94,153l3,0 0,3-1,1-3,0 0,-3zM15,168l6,-1 3,0 1,1-1,5-5,7 0,9 13,34-2,3-15,12 3,1 7,-1 5,-5 3,-7 6,-3 6,0 4,3 1,3 0,15-2,3-9,6-30,14-6,1-3,-1 0,-16 4,-4 0,-3-4,-4 0,-61 5,-8zM52,358l5,-2 3,0 9,7 9,-3 6,2 3,2-1,3-2,3 5,6 0,3-5,4-21,10-6,1-6,-2-4,-4 1,-13 3,-4 6,0 1,-4-1,-4-7,-2z" fill="#cc0000"/><path d="M60,123l9,1 6,-1 6,4 9,1 3,1 1,3 0,3-4,5-3,1-6,-1-18,-9-3,-5zM163,153l5,-1 6,3 5,7 1,6 7,9 1,6-2,7-9,9-2,6-2,12-5,12-1,21-8,5-3,1-3,-1-15,-9-9,1-9,-1-9,1-3,-1-9,-7-9,-1-3,-2-3,-4-3,-12-3,-3-6,-2-9,1-3,-1-5,-4-1,-3 1,-3 3,-3 11,-5 9,-11 9,-2 6,-2 15,-10 3,-4 0,-6 2,-3 5,0 4,6 4,3 6,2 4,-2 4,-6 5,-3 6,-3zM0,189l9,-2 3,1 9,14 1,9-1,3-3,1-3,0-10,-7-2,-3 0,-10-3,-1zM40,232l2,-3 3,0 1,3 0,9-1,1-3,2-5,-3 0,-3zM18,247l3,-2 6,1 2,4-2,3-6,3-6,0-1,-3zM54,358l3,-1 3,0 6,6 3,2 6,-3 3,0 6,2-3,6 6,6-1,3-2,3-6,3-9,4-3,0-6,4-3,0-5,-2-3,-6 0,-9 2,-3 6,0 3,-3-1,-6z" fill="#880000"/><path d="M62,126l1,-1 12,0 6,4 9,0 2,3 0,3-5,3-6,0-15,-7-3,-2zM163,156l5,-2 3,0 5,5 3,6-2,9 3,6 0,3-3,3-6,2-2,1-2,3-1,10 2,12-5,9-1,22 0,2-3,2-3,1-4,0-11,-10-3,-1-12,2-15,-1-3,-2 0,-9-4,-6-5,-2-9,2-6,-9-12,-6-1,-3 7,-13 3,-2 9,-2 24,-19 6,1 9,5 6,0 9,-3 9,-2 3,-3 4,-8zM10,202l2,-3 3,1 0,5-3,0zM89,232l1,-2 3,2-3,1zM57,358l3,0 6,8 3,1 6,-4 7,1-3,6 2,3 4,3 0,3-2,3-6,3-8,2-2,-2-1,-3-2,6-3,3-4,1-2,-1-4,-9 0,-6 3,-2 6,1 1,-2 0,-6z" fill="#4c0000"/><path d="M65,129l1,-1 9,-1 6,4 6,0 3,1-3,4-6,0zM165,156l3,-1 3,0 4,4 2,6-3,7-9,7-3,1-2,3-1,12-2,7 3,9 0,3-8,6-3,6 1,2 3,0 3,4-3,8-3,0-2,-2-1,-3 0,-7-3,1-9,6-9,1-4,-1-1,-3-1,-6-3,-1-6,2-3,-2-3,-4-3,-1-3,-1-6,2-4,-1-2,-12 3,-5 6,8 9,2 8,-2 0,-3-8,-8-12,2-2,0-1,-2 2,-5 7,-12 3,-3 9,-6 6,-1 5,1 7,7 15,-1 13,-9 4,-9zM62,364l1,-1 3,6 3,-1 6,-4 4,0-1,7 1,2 4,3 1,3-3,3-7,3-5,0-3,-9-3,-4zM53,376l4,1 4,5 1,6-2,2-3,0-1,-2-4,-9z" fill="#1a0000"/><path d="M167,156l1,0 3,0 3,3 2,6-1,3-4,4-11,8-4,9-3,4-6,-1-2,-3 1,-6 12,-12 4,-9zM131,192l4,-2 3,0 4,2 2,5 5,11 0,3-8,5-3,1-9,-2-3,-1-2,-3-2,-9 2,-4zM90,214l3,-2 6,3 6,1 9,-3 3,1 2,3-4,6-4,2-2,-2-4,-6-6,0-6,2-3,-2zM72,367l3,-2 2,2 0,3 0,3 4,3 1,3-2,3-8,2-2,-2-3,-9 1,-3z" fill="#262626"/><path d="M165,159l3,-2 3,1 4,4-1,5-9,8-6,4-4,10-2,2-3,0-2,-2-1,-3 1,-3 2,-3 9,-7zM71,370l4,-3 1,6 5,6-3,3-6,0-4,-9z" fill="#737373"/><path d="M168,159l3,1 2,5-1,3-7,4-2,-1 2,-9zM152,180l1,-1 3,1-3,9-3,1-1,-4zM71,373l1,-3 6,9-3,1-3,-1z" fill="#e6e6e6"/></g></g></g>
<rect x="718.0" y="1887.2" width="200.3" height="200.3" fill="none" stroke="#444" stroke-width="1.1" />
<g transform="translate(955.4,1887.2) scale(1.0015)" clip-path="url(#cp)"><g filter="url(#bs)"><rect width="200" height="200" fill="#fffdfd"/><path d="M177.9,167.3L181.2,170.4M8.3,14.6L5.6,13.5M117.5,58.1L111.5,54.6M116.9,39.7L118.3,33.3M156.2,171.7L156.1,174.4M96.4,180.3L91.7,185.0M13.2,34.6L8.9,31.3M68.9,176.6L64.1,180.0M111.9,128.0L109.9,131.5M93.0,129.9L91.1,133.2M165.1,123.6L168.4,124.2M82.7,75.5L82.4,71.0M88.7,81.7L85.3,78.5M138.3,124.4L140.2,130.2M7.8,147.3L3.7,150.7M133.3,168.9L135.5,174.1M113.6,24.5L114.7,16.7M51.2,132.9L44.4,134.0M21.1,111.3L14.0,110.2M70.8,187.2L67.5,194.1M46.1,124.0L41.8,129.2M108.6,157.1L110.6,163.4M21.5,130.2L14.4,135.0M51.5,59.3L45.0,53.1M170.6,145.6L177.8,149.7M102.2,165.9L104.7,171.4M130.4,23.1L134.6,16.4M54.6,71.2L48.3,69.7M44.8,39.5L35.1,36.4M169.4,126.7L176.7,130.0M25.1,111.7L18.2,113.9M180.7,134.9L186.4,139.8M35.4,34.7L30.6,27.3M61.5,139.8L59.3,149.2M88.9,172.7L88.8,182.6M83.5,26.0L87.5,21.0M177.7,135.0L184.0,138.7M87.5,182.4L84.4,191.1M39.0,123.5L33.0,126.6M52.7,136.4L48.9,141.0M182.9,106.8L192.2,103.6M21.2,78.6L14.4,79.2M81.6,158.2L81.6,166.4M160.1,34.5L163.7,25.3M71.1,29.4L66.2,26.1M185.2,92.4L191.3,95.6M48.6,113.1L42.7,115.0M15.9,100.3L11.0,106.2M68.0,174.7L64.4,180.9" stroke="#00f" stroke-opacity="0.04" stroke-width="5" fill="none" stroke-linecap="round"/><path d="M55.0,173.3L53.6,178.5M4.4,12.7L-1.9,10.4M9.6,26.9L5.7,23.8M123.6,95.4L126.1,89.8M124.0,148.5L126.3,154.6M99.9,115.2L97.7,118.1M27.5,145.9L23.6,147.5M183.1,135.6L193.1,139.4M87.8,170.0L86.1,178.5M188.4,46.2L198.8,44.9M44.3,58.5L34.5,56.6M136.8,6.6L137.2,-1.1M93.1,164.8L93.5,172.8M185.3,40.4L192.6,32.3M191.8,134.4L197.0,140.3M36.0,128.9L31.1,133.9M20.1,46.6L16.6,36.3M151.6,49.6L159.6,50.7M192.4,147.1L199.7,155.1M187.1,79.3L194.1,81.4M174.4,95.6L180.2,99.7M53.0,40.3L47.7,33.6M161.2,179.6L167.5,188.0" stroke="#00f" stroke-opacity="0.04" stroke-width="6" fill="none" stroke-linecap="round"/><path d="M49.4,63.8L44.8,64.1M165.1,83.1L168.8,81.5M188.8,58.9L193.1,60.0M195.6,168.0L196.0,170.9M175.1,36.1L174.7,31.6M82.3,175.3L80.5,179.5M119.3,93.2L123.5,89.9M113.9,153.3L115.7,155.5M139.5,36.4L143.8,32.7" stroke="#f00" stroke-opacity="0.04" stroke-width="3" fill="none" stroke-linecap="round"/><path d="M100.1,137.2L100.4,139.2M189.4,58.9L192.7,58.7M163.6,71.2L170.3,71.5M92.7,89.7L86.7,89.0M152.9,20.5L151.3,16.6M36.3,127.3L32.1,132.1M10.8,99.4L6.0,103.9M95.8,38.3L97.0,33.0M100.4,128.9L98.7,131.9M164.7,25.6L168.9,26.4M65.3,198.7L60.5,199.7M155.6,102.3L164.2,100.2M96.7,27.0L93.2,20.6M152.3,110.3L158.4,111.9M153.4,125.0L158.6,126.8M39.5,113.2L30.1,114.6M75.9,144.7L72.8,149.9" stroke="#f00" stroke-opacity="0.04" stroke-width="4" fill="none" stroke-linecap="round"/><path d="M171.6,34.2L172.9,31.2M181.5,20.3L182.6,16.0M193.9,139.0L197.6,142.1M184.4,23.9L189.1,20.6M159.4,92.5L165.0,96.5M112.0,111.2L110.1,117.0M3.8,32.1L1.1,31.0M154.3,103.6L159.1,108.4M56.3,41.9L51.7,42.6M74.2,153.4L70.6,156.1M94.1,150.5L94.6,154.7M28.3,12.0L28.4,5.4M145.6,59.1L148.5,58.9M194.8,4.6L200.6,4.7M39.5,95.5L36.7,90.5M89.1,99.8L84.9,100.0M71.0,162.6L69.0,169.9M168.4,157.0L174.7,164.5M20.8,112.7L16.3,117.6M161.9,147.0L167.1,153.3M89.9,172.6L89.2,179.4M62.0,148.4L57.3,152.6M165.7,95.0L171.6,90.4M131.1,136.8L133.6,145.1M32.8,89.7L24.5,84.9M83.2,178.9L78.4,184.9M112.3,42.4L115.3,36.0M58.4,138.1L53.5,145.2M168.1,33.2L174.9,25.7M157.0,137.0L165.1,141.4M84.7,15.1L80.0,9.7M63.2,154.2L60.0,158.9M162.2,141.4L168.8,146.0M21.3,83.2L14.9,82.5" stroke="#f00" stroke-opacity="0.04" stroke-width="5" fill="none" stroke-linecap="round"/><path d="M156.8,4.2L156.9,1.2M61.6,51.8L58.3,50.3M163.2,106.8L167.9,106.7M48.3,163.0L45.2,168.9M93.8,138.7L91.6,143.9M194.9,158.4L197.8,161.0M149.8,140.4L155.3,140.5M182.2,37.6L186.1,37.3M21.9,79.7L17.2,76.1M83.8,103.5L80.4,101.7M116.4,167.0L117.3,169.3M96.2,91.2L90.2,93.3M26.1,141.4L23.2,144.3M114.7,3.3L112.9,-2.0M15.4,183.7L12.2,183.0M135.9,129.8L141.0,137.0M79.0,165.0L79.6,171.5M138.6,144.7L141.2,153.0" stroke="#00f" stroke-opacity="0.04" stroke-width="4" fill="none" stroke-linecap="round"/><path d="M135.7,103.9L141.4,104.6M28.8,109.1L26.3,108.5M113.0,129.2L113.8,131.3M36.8,35.9L31.8,31.8M171.7,157.6L174.9,162.5M100.9,150.8L99.2,157.1M101.1,163.4L96.7,171.6M113.0,159.7L107.8,167.9M150.1,51.3L156.5,47.8M44.2,37.1L35.9,35.1M54.4,122.5L51.0,127.6M193.9,59.6L199.7,56.2M15.7,24.4L8.6,21.0M55.0,150.9L49.0,156.4M151.3,185.6L151.1,193.1M18.1,84.0L8.9,83.8M149.8,18.8L148.8,11.9M40.7,150.1L34.6,153.8" stroke="#f00" stroke-opacity="0.04" stroke-width="6" fill="none" stroke-linecap="round"/><path d="M104.2,50.3L103.2,45.4M53.5,152.0L52.4,156.5M79.2,130.1L77.0,132.2M179.9,101.3L185.8,102.4M92.9,98.7L86.1,98.2M89.5,20.4L89.0,17.3M153.5,180.5L157.5,183.2" stroke="#00f" stroke-opacity="0.04" stroke-width="3" fill="none" stroke-linecap="round"/><path d="M159.8,160.4L162.2,162.8M174.4,4.7L174.5,2.7M82.9,17.1L79.2,12.3M85.7,133.7L81.0,138.5M108.6,97.6L114.2,98.6M73.0,13.4L71.5,10.6M96.5,53.1L95.6,46.4M82.0,147.3L79.8,149.2M2.8,45.2L1.5,42.7M117.0,51.0L114.1,46.3M95.1,74.5L98.9,69.3M97.8,21.9L97.8,19.5M11.5,61.0L6.8,59.1M177.5,79.9L182.3,81.0M36.4,15.2L37.4,13.4M66.2,44.8L62.0,40.9M185.9,136.2L183.8,140.9M93.9,155.7L90.6,159.7M14.9,106.2L8.5,103.8M139.4,47.8L142.0,41.6M33.0,61.7L28.2,59.1M190.5,104.2L197.2,103.4M153.0,151.3L158.8,149.7M149.1,138.1L153.4,143.4M58.9,194.7L62.3,199.5M120.2,19.9L120.5,16.0M7.5,111.9L2.9,114.7M141.0,143.6L142.5,148.9M71.2,18.5L69.1,17.9M12.5,55.3L11.4,53.2M116.1,71.0L118.5,68.5M187.3,169.4L192.8,172.4M46.3,91.3L42.9,92.6M111.0,47.6L111.8,45.1M62.4,148.6L59.7,151.3M133.6,70.5L136.1,69.7M91.9,173.0L91.5,176.2M43.4,52.6L41.8,50.4M16.3,63.7L9.7,64.0M147.3,46.3L149.2,45.3M74.3,117.6L71.1,123.1M137.2,61.9L142.4,61.0M100.2,149.9L94.9,155.8M115.0,66.8L117.5,60.4M159.4,97.7L167.0,101.6M133.4,61.5L137.3,55.4M150.5,135.4L152.9,141.3M148.8,63.9L154.4,61.1M70.4,67.8L68.3,63.5" stroke="#f00" stroke-opacity="0.08" stroke-width="4" fill="none" stroke-linecap="round"/><path d="M9.2,12.4L9.0,7.1M35.2,1.5L35.1,-1.5M136.0,155.6L136.8,159.7M166.3,45.5L171.6,43.3M154.2,156.2L159.1,157.7M140.4,195.9L142.6,199.7M102.2,81.7L96.4,79.3M34.5,53.5L33.7,50.9M25.1,17.3L21.4,17.8M11.3,152.1L6.7,153.9M85.8,56.8L83.5,50.5M103.7,102.6L102.0,108.3M85.9,124.7L84.3,130.7M59.4,150.6L61.6,154.4M88.5,52.3L90.0,49.5M93.9,9.4L93.7,5.9M173.4,80.2L179.3,82.2M141.6,141.2L141.3,146.7M97.3,156.0L95.0,165.0" stroke="#f00" stroke-opacity="0.08" stroke-width="6" fill="none" stroke-linecap="round"/><path d="M64.8,159.9L65.2,162.6M142.9,159.7L146.5,163.9M46.8,52.9L43.8,52.9M52.0,9.3L51.8,6.9M128.0,30.9L126.6,24.1M170.5,56.6L173.4,51.4M101.6,39.0L103.9,34.9M78.8,42.2L77.1,36.8M3.4,1.2L1.4,1.3M160.1,57.5L165.3,53.4M176.0,79.1L181.1,79.9M90.3,72.0L85.3,70.9M99.2,25.3L99.3,21.9M95.1,72.9L94.1,68.6M103.9,21.1L105.7,14.5M30.9,134.3L24.4,133.8M171.3,120.5L173.9,119.9M3.7,100.5L-0.2,103.3M32.5,139.8L26.3,138.7M172.6,147.6L176.3,147.8M40.1,17.9L34.9,13.4M163.7,87.7L171.1,90.5M58.9,99.7L51.6,98.9M121.6,151.5L122.4,160.3M107.9,50.4L105.0,43.6M49.8,65.7L43.5,61.9M41.5,72.5L33.3,70.6M70.9,40.0L71.0,33.3M98.9,146.6L98.5,153.2M138.7,49.5L143.5,47.1M73.3,26.4L74.4,17.9M52.4,72.7L47.2,69.6M86.9,62.3L84.4,56.6M42.7,93.1L35.6,91.5M166.3,100.0L172.4,104.9M58.7,124.5L55.0,131.1" stroke="#00f" stroke-opacity="0.08" stroke-width="5" fill="none" stroke-linecap="round"/><path d="M186.2,19.0L187.1,15.3M177.7,165.2L181.5,170.7M65.6,30.0L63.5,27.7M18.1,54.5L13.5,53.7M27.0,152.4L22.1,151.6M54.2,120.9L52.8,122.5M86.7,126.6L85.9,128.7M101.6,27.9L99.0,20.1M163.4,62.3L169.4,54.6M59.4,138.4L55.9,142.9M58.0,148.4L54.3,153.1M162.8,99.6L168.8,100.1" stroke="#00f" stroke-opacity="0.08" stroke-width="6" fill="none" stroke-linecap="round"/><path d="M108.6,48.6L113.9,47.5M3.8,39.6L-2.7,38.5M40.0,12.2L41.3,7.4M162.5,46.1L167.1,46.2M96.4,79.5L96.8,75.7M82.3,159.1L81.7,161.4M99.4,109.3L101.5,113.6M176.2,99.3L178.5,100.7M157.0,138.5L163.8,137.2M167.6,8.9L171.7,3.7M98.3,118.6L96.7,121.2M4.5,5.7L-0.4,5.4M166.4,189.8L169.2,195.2M129.5,117.7L132.5,120.5M159.6,65.5L161.8,64.1M82.4,70.7L81.0,65.5M10.9,33.9L7.4,29.4M199.7,3.0L199.1,-1.4M65.6,43.8L66.3,38.5M145.2,24.7L145.8,22.6M176.2,46.1L176.6,43.1M86.1,90.7L80.2,88.2M69.3,39.3L69.5,33.9M51.3,48.9L49.7,47.5M131.3,173.0L134.2,178.9M45.9,4.0L45.1,1.8M66.0,89.3L59.7,90.7M95.2,129.4L95.9,135.3M45.7,80.1L40.9,78.3M70.2,147.2L66.8,153.6M115.5,38.1L119.1,31.7" stroke="#00f" stroke-opacity="0.08" stroke-width="4" fill="none" stroke-linecap="round"/><path d="M94.9,190.0L96.9,193.5M131.0,170.0L135.8,173.5M48.5,181.2L46.9,183.3M68.4,31.1L67.2,27.2M3.7,99.1L0.8,96.9M27.0,53.2L23.4,48.8M80.1,6.5L80.9,-0.2M34.2,73.3L30.6,70.8M22.5,133.1L18.2,134.5M7.0,91.1L4.0,90.4M57.7,112.6L57.2,116.7M179.0,194.8L181.4,195.9M176.1,78.7L178.1,80.7M116.1,135.6L117.9,138.5M8.7,34.6L6.8,32.8M181.6,93.9L187.0,91.0M33.9,150.3L29.6,152.2M125.7,184.5L128.7,188.0M95.3,16.7L95.1,10.5M83.7,116.3L81.2,117.2M100.2,21.2L103.0,16.9M43.7,43.6L38.4,39.7M189.9,49.9L191.8,47.5M73.8,189.3L73.0,191.5M112.7,34.4L112.1,29.7M57.4,175.1L56.0,177.6M167.4,182.9L171.3,186.1M38.5,50.1L33.3,50.0M156.5,174.6L157.0,178.2M196.6,38.6L202.1,35.6M185.9,173.6L188.2,178.3M101.5,124.3L103.1,126.1M45.5,101.1L42.3,101.0M145.1,138.6L148.4,145.8M134.7,128.6L139.2,135.3M164.5,89.4L171.4,85.4M149.2,74.5L155.5,72.5M58.1,89.7L50.0,92.7M113.5,38.3L114.3,33.5M156.7,123.9L162.1,124.6M165.6,85.2L171.4,82.3M39.3,101.2L31.4,97.8M154.7,68.4L160.4,63.1M99.8,62.4L99.5,58.0M48.2,90.4L41.0,88.5M46.6,100.3L38.5,104.3M158.4,99.0L164.0,99.7M150.3,51.3L157.3,48.2M57.6,146.9L51.8,151.2M80.8,49.4L72.6,47.9M147.4,127.8L155.0,132.5" stroke="#f00" stroke-opacity="0.08" stroke-width="5" fill="none" stroke-linecap="round"/><path d="M97.0,107.8L99.7,113.5M131.9,97.3L134.9,98.7M99.7,133.3L98.5,137.6M121.0,70.1L121.1,64.4M21.8,120.3L19.8,121.8M108.9,91.6L110.6,92.7M130.6,155.8L132.7,160.3M73.1,64.8L71.1,62.7M31.9,179.5L31.8,183.4" stroke="#f00" stroke-opacity="0.08" stroke-width="3" fill="none" stroke-linecap="round"/><path d="M198.4,177.9L200.2,181.1M52.9,33.8L49.6,27.8M160.3,37.6L159.0,32.8M30.3,107.1L23.8,106.4M138.2,91.5L140.7,91.1M34.9,47.8L33.7,46.1M30.0,106.6L25.0,111.5M129.1,151.2L130.5,154.7M119.2,93.6L124.0,93.6" stroke="#00f" stroke-opacity="0.08" stroke-width="3" fill="none" stroke-linecap="round"/><path d="M127.9,24.0L128.5,18.8M101.5,108.6L99.2,111.0M146.4,52.0L146.7,48.4M175.0,47.4L181.2,49.5M175.0,27.2L177.5,25.1M103.4,120.1L102.9,125.5M165.0,139.6L169.1,141.3M157.1,77.2L160.5,74.6M130.6,148.7L131.0,151.4M77.0,73.5L73.1,73.9M53.2,119.9L52.4,122.7M124.7,70.5L125.4,67.9M106.8,38.2L105.5,33.0M163.2,90.3L168.5,90.3M115.4,121.0L118.0,125.3M122.0,144.5L125.7,150.4M67.5,103.5L61.7,108.5M113.8,60.2L116.3,56.6M122.7,76.2L129.5,72.2M155.6,81.5L162.1,82.0M77.3,67.3L71.3,61.3" stroke="#f00" stroke-opacity="0.12" stroke-width="4" fill="none" stroke-linecap="round"/><path d="M79.2,157.1L76.9,162.1M111.7,193.8L111.2,196.2M108.5,14.0L108.6,10.2M159.4,114.4L167.2,110.9M142.3,134.4L143.4,140.4" stroke="#00f" stroke-opacity="0.12" stroke-width="6" fill="none" stroke-linecap="round"/><path d="M183.6,184.0L190.4,185.5M99.3,12.4L98.4,7.8M6.3,31.5L3.7,30.9M73.4,157.1L68.6,161.9M11.4,9.0L6.3,5.0M186.6,188.7L188.7,193.5M112.4,94.4L115.8,96.3M147.0,130.3L150.6,131.6M4.0,37.8L-0.0,40.6" stroke="#f00" stroke-opacity="0.12" stroke-width="3" fill="none" stroke-linecap="round"/><path d="M121.0,51.4L125.1,47.9M154.3,65.6L158.3,63.4M70.0,49.8L66.6,43.7M94.0,89.3L92.6,87.8M162.6,151.6L165.2,154.2M180.6,197.4L180.6,201.9M102.5,185.8L99.3,192.0M132.8,58.0L133.1,53.2M195.7,99.3L197.9,98.1M191.3,138.7L193.6,140.6M189.2,24.5L191.6,23.8M145.4,176.0L146.0,178.0M25.7,120.2L20.8,121.8M150.2,92.0L155.9,95.9M71.6,91.1L68.7,86.2M78.8,123.2L75.3,123.4M161.1,32.8L162.1,28.7M99.2,15.9L98.8,11.0M69.4,104.3L65.9,108.9M97.6,64.9L91.6,63.1M55.7,92.2L51.8,93.0M110.2,95.5L113.7,95.7M168.0,90.3L172.1,93.9M119.3,132.3L120.0,139.8M77.3,70.5L69.7,66.7M89.2,63.5L85.5,59.9M44.0,96.2L37.8,95.9M67.9,65.4L63.3,64.2M140.4,64.8L145.6,61.2" stroke="#f00" stroke-opacity="0.12" stroke-width="5" fill="none" stroke-linecap="round"/><path d="M72.5,103.9L67.1,105.9M132.3,40.2L135.9,37.1M81.2,178.5L78.5,182.0M24.7,91.2L21.2,90.7M120.0,128.7L121.5,133.8M151.2,169.2L156.4,172.2M5.0,17.2L1.4,13.6M37.1,180.2L33.6,183.5M181.8,128.8L186.7,130.5M190.1,195.7L193.9,198.6M103.6,28.5L101.0,23.3M48.5,70.5L44.0,68.2M93.9,148.0L91.4,154.8M104.7,149.5L103.6,158.9M82.1,44.9L81.1,39.7M68.1,78.3L63.7,76.7M158.8,114.8L166.6,117.0M75.2,129.4L74.1,135.5M122.6,54.7L128.5,54.9" stroke="#00f" stroke-opacity="0.12" stroke-width="4" fill="none" stroke-linecap="round"/><path d="M190.4,5.5L193.7,3.0M119.4,107.6L121.0,109.6M160.5,154.6L163.0,157.5M64.7,178.0L63.4,182.1M154.5,61.2L161.1,61.0M153.1,8.0L155.4,4.6M66.6,76.3L62.1,75.3M56.5,183.7L53.0,185.8M139.5,115.9L144.4,111.3M181.0,86.4L184.5,87.8M64.7,163.2L62.7,164.7M55.7,126.4L50.8,128.0M148.1,92.9L152.2,90.6M73.6,50.4L69.0,48.3M141.8,73.5L141.0,64.9M156.6,87.7L162.0,85.8M131.4,58.7L136.8,51.9M75.5,73.9L69.0,71.4M157.8,65.9L165.2,60.9M128.0,44.0L130.4,39.0M100.0,54.2L101.0,49.8" stroke="#00f" stroke-opacity="0.12" stroke-width="5" fill="none" stroke-linecap="round"/><path d="M72.1,65.4L69.3,64.9M187.8,13.5L189.2,11.4M23.9,48.5L19.9,47.9M164.9,124.2L167.0,124.3M134.5,41.9L140.2,41.0M143.4,67.0L149.3,63.6M65.1,166.1L63.0,170.6M168.5,74.7L174.4,73.1" stroke="#00f" stroke-opacity="0.12" stroke-width="3" fill="none" stroke-linecap="round"/><path d="M165.7,46.4L170.0,44.7M196.4,48.7L203.3,49.2M172.5,76.8L177.1,76.6M154.1,114.6L158.4,114.0M187.0,159.3L191.5,162.7M143.7,64.1L144.7,61.7" stroke="#f00" stroke-opacity="0.12" stroke-width="6" fill="none" stroke-linecap="round"/><path d="M108.6,116.3L112.3,117.7M103.2,119.0L104.0,123.5M68.4,74.2L65.9,70.4M122.2,106.9L124.9,109.5" stroke="#00f" stroke-opacity="0.16" stroke-width="4" fill="none" stroke-linecap="round"/><path d="M122.7,57.9L124.8,51.5M70.3,103.9L63.4,106.4M124.2,93.3L129.7,98.9M138.2,103.7L145.0,106.9M115.3,135.0L117.0,139.7M103.9,92.5L98.2,89.5M100.4,76.0L96.9,69.4" stroke="#f00" stroke-opacity="0.16" stroke-width="4" fill="none" stroke-linecap="round"/><path d="M71.4,120.5L63.3,123.7M111.1,52.3L113.0,46.9M113.4,113.1L117.0,116.7M105.4,137.1L106.8,144.3M131.1,69.1L135.3,65.4M153.1,95.4L158.8,98.3M133.1,80.5L138.3,78.3M99.4,44.0L98.1,38.3M139.0,63.7L145.4,57.7M133.0,127.9L136.8,132.1M156.5,100.1L163.5,103.7M124.8,82.2L127.3,79.1M135.4,96.2L140.4,96.8M145.0,58.8L146.6,52.1" stroke="#00f" stroke-opacity="0.16" stroke-width="5" fill="none" stroke-linecap="round"/><path d="M75.2,87.5L70.4,86.3M113.1,64.9L113.2,60.0M64.5,78.5L60.3,72.5M131.1,126.1L136.6,132.1M81.2,90.6L76.8,92.1M147.5,90.0L153.3,94.1M116.2,124.6L119.9,127.4M70.1,59.9L64.7,59.2M129.7,94.9L136.2,95.5M90.2,51.1L86.8,43.9" stroke="#f00" stroke-opacity="0.16" stroke-width="5" fill="none" stroke-linecap="round"/><path d="M101.2,113.5L101.4,118.0" stroke="#00f" stroke-opacity="0.16" stroke-width="3" fill="none" stroke-linecap="round"/><path d="M138.5,87.4L141.3,83.6M101.4,125.3L101.7,129.9" stroke="#00f" stroke-opacity="0.20" stroke-width="4" fill="none" stroke-linecap="round"/><path d="M103.9,111.4L102.2,117.2M91.5,54.7L91.3,48.7M79.1,122.4L77.1,128.8M69.2,112.9L63.4,116.3" stroke="#f00" stroke-opacity="0.20" stroke-width="4" fill="none" stroke-linecap="round"/><path d="M83.1,122.7L80.8,129.8M125.5,117.6L128.6,121.2M144.6,90.0L149.8,87.2M88.3,61.3L87.3,55.5" stroke="#00f" stroke-opacity="0.20" stroke-width="5" fill="none" stroke-linecap="round"/><path d="M98.2,131.4L97.7,136.8" stroke="#f00" stroke-opacity="0.20" stroke-width="5" fill="none" stroke-linecap="round"/><path d="M106.8,89.2L112.1,85.2M97.3,59.2L90.7,55.4M113.7,77.0L117.9,71.0M124.9,62.5L129.2,57.4M77.1,114.7L73.7,117.6M129.5,91.6L133.1,93.1M97.5,105.4L97.3,111.7" stroke="#00f" stroke-opacity="0.24" stroke-width="4" fill="none" stroke-linecap="round"/><path d="M93.6,128.0L89.4,132.6M116.1,64.1L117.6,59.7M108.2,53.1L109.9,47.3M92.6,122.5L87.4,125.1M88.4,130.7L80.9,133.4M122.1,67.7L126.0,65.5M117.5,111.3L124.6,114.8M75.5,102.6L70.4,100.8M80.5,96.1L76.7,98.3M93.4,125.5L91.3,131.2M88.3,131.8L87.9,137.0" stroke="#f00" stroke-opacity="0.24" stroke-width="5" fill="none" stroke-linecap="round"/><path d="M114.2,70.3L112.1,63.6M101.2,128.6L103.1,133.1M109.0,92.4L114.9,89.5M110.2,66.3L111.5,62.2M102.9,60.6L105.6,53.9M86.0,75.7L78.2,75.9" stroke="#f00" stroke-opacity="0.24" stroke-width="4" fill="none" stroke-linecap="round"/><path d="M99.3,134.3L98.9,139.0M136.1,90.1L143.9,90.5M109.3,136.2L110.8,141.0M130.8,108.7L138.0,112.5M86.5,130.2L83.1,136.1M137.8,116.9L142.3,122.5M93.6,81.4L95.8,75.4M131.4,76.5L139.7,77.1" stroke="#00f" stroke-opacity="0.24" stroke-width="5" fill="none" stroke-linecap="round"/><path d="M95.9,84.5L99.8,78.1" stroke="#00f" stroke-opacity="0.24" stroke-width="3" fill="none" stroke-linecap="round"/><path d="M80.8,84.7L78.2,82.1M89.9,113.6L90.0,117.3M87.8,109.6L84.7,111.8M92.6,84.1L87.8,78.3" stroke="#00f" stroke-opacity="0.32" stroke-width="5" fill="none" stroke-linecap="round"/><path d="M85.7,99.5L81.5,103.0M91.3,93.8L85.5,94.0M102.8,82.0L104.8,76.6M109.4,89.5L114.6,89.3M127.9,71.9L142.9,74.0" stroke="#f00" stroke-opacity="0.32" stroke-width="4" fill="none" stroke-linecap="round"/><path d="M129.5,90.1L135.6,92.4M134.7,106.5L139.7,110.8M122.6,114.1L126.6,118.0M74.6,31.3L91.7,48.4M83.2,20.7L89.6,29.2M68.2,27.1L74.6,35.6" stroke="#f00" stroke-opacity="0.32" stroke-width="5" fill="none" stroke-linecap="round"/><path d="M123.3,83.4L126.6,82.5M114.5,85.2L118.4,80.0M113.4,111.9L119.5,115.7M129.2,108.2L133.0,111.3M110.0,91.3L116.1,92.8" stroke="#00f" stroke-opacity="0.32" stroke-width="4" fill="none" stroke-linecap="round"/><path d="M100.6,110.8L99.6,118.4M102.3,14.3L105.5,20.7M136.5,135.8L147.1,150.7M157.8,129.4L166.3,131.6M32.0,182.7L40.5,187.0" stroke="#f00" stroke-opacity="0.40" stroke-width="4" fill="none" stroke-linecap="round"/><path d="M109.4,110.1L108.9,114.2" stroke="#00f" stroke-opacity="0.40" stroke-width="3" fill="none" stroke-linecap="round"/><path d="M115.7,102.7L119.4,103.5" stroke="#f00" stroke-opacity="0.40" stroke-width="3" fill="none" stroke-linecap="round"/><path d="M97.7,109.8L96.0,114.0M100.2,18.6L104.5,27.1" stroke="#00f" stroke-opacity="0.40" stroke-width="5" fill="none" stroke-linecap="round"/><path d="M111.7,110.2L118.4,114.3M25.6,65.5L29.9,67.6" stroke="#00f" stroke-opacity="0.40" stroke-width="4" fill="none" stroke-linecap="round"/><path d="M78.9,35.6L83.2,39.9" stroke="#f00" stroke-opacity="0.40" stroke-width="5" fill="none" stroke-linecap="round"/><path d="M109.4,88.5L110.7,85.5M112.2,96.1L115.1,99.2M95.9,108.1L102.3,123.0M115.1,78.3L119.4,77.2M130.1,114.5L136.5,118.8M159.9,101.7L162.0,108.1" stroke="#f00" stroke-opacity="0.48" stroke-width="4" fill="none" stroke-linecap="round"/><path d="M102.0,93.1L99.3,93.5M99.4,97.9L94.1,100.9M105.4,90.6L108.4,87.8M81.0,65.5L85.3,69.7M134.3,155.0L142.9,161.4" stroke="#f00" stroke-opacity="0.48" stroke-width="5" fill="none" stroke-linecap="round"/><path d="M61.8,37.7L81.0,56.9M125.8,35.6L130.1,46.3M123.7,59.1L127.9,67.6M88.5,112.4L91.7,123.0M105.5,112.4L108.7,123.0M125.8,131.6L132.2,146.5M147.1,84.6L172.7,81.4M145.0,127.3L170.6,125.2M138.6,106.0L142.9,112.4" stroke="#00f" stroke-opacity="0.48" stroke-width="4" fill="none" stroke-linecap="round"/><path d="M106.6,84.6L108.7,88.9M125.8,95.3L130.1,98.5" stroke="#f00" stroke-opacity="0.64" stroke-width="4" fill="none" stroke-linecap="round"/><path d="M114.1,91.0L121.5,94.2M119.4,118.8L122.6,120.9" stroke="#00f" stroke-opacity="0.72" stroke-width="4" fill="none" stroke-linecap="round"/><path d="M100.2,80.4L106.6,76.1" stroke="#00f" stroke-opacity="0.80" stroke-width="5" fill="none" stroke-linecap="round"/><path d="M149.3,107.0L153.5,109.2M91.7,50.5L95.9,61.2" stroke="#00f" stroke-opacity="0.80" stroke-width="4" fill="none" stroke-linecap="round"/><path d="M99.1,60.1L100.2,62.3" stroke="#f00" stroke-opacity="0.80" stroke-width="4" fill="none" stroke-linecap="round"/><path d="M110.9,103.8L111.9,112.4" stroke="#f00" stroke-opacity="0.88" stroke-width="4" fill="none" stroke-linecap="round"/><path d="M105.5,94.2L108.7,98.5M115.1,101.7L125.8,107.0" stroke="#00f" stroke-opacity="0.96" stroke-width="5" fill="none" stroke-linecap="round"/><path d="M146.1,101.7L149.3,102.8" stroke="#f00" stroke-opacity="0.96" stroke-width="4" fill="none" stroke-linecap="round"/></g></g>
<rect x="955.4" y="1887.2" width="200.3" height="200.3" fill="none" stroke="#444" stroke-width="1.1" />
<text x="775.7" y="1883.2" font-size="10.95" fill="#262626" textLength="85.0" lengthAdjust="spacingAndGlyphs" >12h old IR Data</text>
<text x="992.0" y="1883.2" font-size="10.95" fill="#262626" textLength="127.1" lengthAdjust="spacingAndGlyphs" >SHAP Value=-11.05 kts</text>
<line x1="715.0" y1="1897.2" x2="718.0" y2="1897.2" stroke="#444" stroke-width="0.8" />
<line x1="952.4" y1="1897.2" x2="955.4" y2="1897.2" stroke="#444" stroke-width="0.8" />
<text x="701.3" y="1900.3" font-size="8.3" fill="#262626" textLength="10.6" lengthAdjust="spacingAndGlyphs" >24</text>
<line x1="715.0" y1="1928.5" x2="718.0" y2="1928.5" stroke="#444" stroke-width="0.8" />
<line x1="952.4" y1="1928.5" x2="955.4" y2="1928.5" stroke="#444" stroke-width="0.8" />
<text x="701.3" y="1931.6" font-size="8.3" fill="#262626" textLength="10.6" lengthAdjust="spacingAndGlyphs" >23</text>
<line x1="715.0" y1="1959.9" x2="718.0" y2="1959.9" stroke="#444" stroke-width="0.8" />
<line x1="952.4" y1="1959.9" x2="955.4" y2="1959.9" stroke="#444" stroke-width="0.8" />
<text x="701.3" y="1963.0" font-size="8.3" fill="#262626" textLength="10.6" lengthAdjust="spacingAndGlyphs" >22</text>
<line x1="715.0" y1="1991.1" x2="718.0" y2="1991.1" stroke="#444" stroke-width="0.8" />
<line x1="952.4" y1="1991.1" x2="955.4" y2="1991.1" stroke="#444" stroke-width="0.8" />
<text x="701.3" y="1994.2" font-size="8.3" fill="#262626" textLength="10.6" lengthAdjust="spacingAndGlyphs" >21</text>
<line x1="715.0" y1="2023.0" x2="718.0" y2="2023.0" stroke="#444" stroke-width="0.8" />
<line x1="952.4" y1="2023.0" x2="955.4" y2="2023.0" stroke="#444" stroke-width="0.8" />
<text x="701.3" y="2026.1" font-size="8.3" fill="#262626" textLength="10.6" lengthAdjust="spacingAndGlyphs" >20</text>
<line x1="715.0" y1="2054.2" x2="718.0" y2="2054.2" stroke="#444" stroke-width="0.8" />
<line x1="952.4" y1="2054.2" x2="955.4" y2="2054.2" stroke="#444" stroke-width="0.8" />
<text x="701.3" y="2057.3" font-size="8.3" fill="#262626" textLength="10.6" lengthAdjust="spacingAndGlyphs" >19</text>
<line x1="715.0" y1="2085.2" x2="718.0" y2="2085.2" stroke="#444" stroke-width="0.8" />
<line x1="952.4" y1="2085.2" x2="955.4" y2="2085.2" stroke="#444" stroke-width="0.8" />
<text x="701.3" y="2088.3" font-size="8.3" fill="#262626" textLength="10.6" lengthAdjust="spacingAndGlyphs" >18</text>
<line x1="741.1" y1="2087.5" x2="741.1" y2="2090.5" stroke="#444" stroke-width="0.8" />
<line x1="978.5" y1="2087.5" x2="978.5" y2="2090.5" stroke="#444" stroke-width="0.8" />
<text x="733.2" y="2099.8" font-size="8.3" fill="#262626" textLength="15.8" lengthAdjust="spacingAndGlyphs" >120</text>
<line x1="770.5" y1="2087.5" x2="770.5" y2="2090.5" stroke="#444" stroke-width="0.8" />
<line x1="1007.9" y1="2087.5" x2="1007.9" y2="2090.5" stroke="#444" stroke-width="0.8" />
<text x="762.6" y="2099.8" font-size="8.3" fill="#262626" textLength="15.8" lengthAdjust="spacingAndGlyphs" >121</text>
<line x1="799.4" y1="2087.5" x2="799.4" y2="2090.5" stroke="#444" stroke-width="0.8" />
<line x1="1036.8" y1="2087.5" x2="1036.8" y2="2090.5" stroke="#444" stroke-width="0.8" />
<text x="791.5" y="2099.8" font-size="8.3" fill="#262626" textLength="15.8" lengthAdjust="spacingAndGlyphs" >122</text>
<line x1="828.8" y1="2087.5" x2="828.8" y2="2090.5" stroke="#444" stroke-width="0.8" />
<line x1="1066.2" y1="2087.5" x2="1066.2" y2="2090.5" stroke="#444" stroke-width="0.8" />
<text x="820.9" y="2099.8" font-size="8.3" fill="#262626" textLength="15.8" lengthAdjust="spacingAndGlyphs" >123</text>
<line x1="858.2" y1="2087.5" x2="858.2" y2="2090.5" stroke="#444" stroke-width="0.8" />
<line x1="1095.6" y1="2087.5" x2="1095.6" y2="2090.5" stroke="#444" stroke-width="0.8" />
<text x="850.3" y="2099.8" font-size="8.3" fill="#262626" textLength="15.8" lengthAdjust="spacingAndGlyphs" >124</text>
<line x1="887.4" y1="2087.5" x2="887.4" y2="2090.5" stroke="#444" stroke-width="0.8" />
<line x1="1124.8" y1="2087.5" x2="1124.8" y2="2090.5" stroke="#444" stroke-width="0.8" />
<text x="879.5" y="2099.8" font-size="8.3" fill="#262626" textLength="15.8" lengthAdjust="spacingAndGlyphs" >125</text>
<line x1="916.8" y1="2087.5" x2="916.8" y2="2090.5" stroke="#444" stroke-width="0.8" />
<line x1="1154.2" y1="2087.5" x2="1154.2" y2="2090.5" stroke="#444" stroke-width="0.8" />
<text x="908.9" y="2099.8" font-size="8.3" fill="#262626" textLength="15.8" lengthAdjust="spacingAndGlyphs" >126</text>
<defs><linearGradient id="irg" x1="0" x2="1" y1="0" y2="0"><stop offset="0.0000" stop-color="#800080"/><stop offset="0.0385" stop-color="#c000c0"/><stop offset="0.0769" stop-color="#ff00ff"/><stop offset="0.0773" stop-color="#fefefe"/><stop offset="0.1154" stop-color="#808080"/><stop offset="0.1538" stop-color="#000000"/><stop offset="0.1923" stop-color="#550000"/><stop offset="0.2308" stop-color="#aa0000"/><stop offset="0.2692" stop-color="#ff0000"/><stop offset="0.3077" stop-color="#ff5500"/><stop offset="0.3462" stop-color="#ffaa00"/><stop offset="0.3846" stop-color="#ffff00"/><stop offset="0.4231" stop-color="#80ff00"/><stop offset="0.4615" stop-color="#00ff00"/><stop offset="0.5000" stop-color="#00b423"/><stop offset="0.5385" stop-color="#006946"/><stop offset="0.5769" stop-color="#0034a2"/><stop offset="0.6154" stop-color="#0000ff"/><stop offset="0.6538" stop-color="#005bff"/><stop offset="0.6923" stop-color="#00b6ff"/><stop offset="0.7231" stop-color="#00ffff"/><stop offset="0.7235" stop-color="#ffffff"/><stop offset="0.7692" stop-color="#d5d5d5"/><stop offset="0.8462" stop-color="#8e8e8e"/><stop offset="0.9231" stop-color="#474747"/><stop offset="1.0000" stop-color="#000000"/></linearGradient><linearGradient id="seis" x1="0" x2="1" y1="0" y2="0"><stop offset="0" stop-color="#00004c"/><stop offset="0.25" stop-color="#0000ff"/><stop offset="0.5" stop-color="#ffffff"/><stop offset="0.75" stop-color="#ff0000"/><stop offset="1" stop-color="#800000"/></linearGradient></defs>
<rect x="717.9" y="2125.6" width="200.3" height="12.3" fill="url(#irg)" stroke="#333" stroke-width="0.8" />
<rect x="955.3" y="2125.6" width="200.5" height="12.3" fill="url(#seis)" stroke="#333" stroke-width="0.8" />
<text x="751.0" y="2121.6" font-size="9.7" fill="#262626" textLength="133.2" lengthAdjust="spacingAndGlyphs" >Brightness Temperature [K]</text>
<text x="1025.0" y="2121.6" font-size="9.7" fill="#262626" textLength="60.7" lengthAdjust="spacingAndGlyphs" >SHAP Values</text>
<line x1="717.9" y1="2137.9" x2="717.9" y2="2140.4" stroke="#444" stroke-width="0.7" />
<text x="711.8" y="2148.0" font-size="6.4" fill="#262626" textLength="12.2" lengthAdjust="spacingAndGlyphs" >180</text>
<line x1="748.7" y1="2137.9" x2="748.7" y2="2140.4" stroke="#444" stroke-width="0.7" />
<text x="742.6" y="2148.0" font-size="6.4" fill="#262626" textLength="12.2" lengthAdjust="spacingAndGlyphs" >200</text>
<line x1="779.5" y1="2137.9" x2="779.5" y2="2140.4" stroke="#444" stroke-width="0.7" />
<text x="773.4" y="2148.0" font-size="6.4" fill="#262626" textLength="12.2" lengthAdjust="spacingAndGlyphs" >220</text>
<line x1="810.3" y1="2137.9" x2="810.3" y2="2140.4" stroke="#444" stroke-width="0.7" />
<text x="804.2" y="2148.0" font-size="6.4" fill="#262626" textLength="12.2" lengthAdjust="spacingAndGlyphs" >240</text>
<line x1="841.2" y1="2137.9" x2="841.2" y2="2140.4" stroke="#444" stroke-width="0.7" />
<text x="835.1" y="2148.0" font-size="6.4" fill="#262626" textLength="12.2" lengthAdjust="spacingAndGlyphs" >260</text>
<line x1="872.0" y1="2137.9" x2="872.0" y2="2140.4" stroke="#444" stroke-width="0.7" />
<text x="865.9" y="2148.0" font-size="6.4" fill="#262626" textLength="12.2" lengthAdjust="spacingAndGlyphs" >280</text>
<line x1="902.8" y1="2137.9" x2="902.8" y2="2140.4" stroke="#444" stroke-width="0.7" />
<text x="896.7" y="2148.0" font-size="6.4" fill="#262626" textLength="12.2" lengthAdjust="spacingAndGlyphs" >300</text>
<line x1="985.3" y1="2137.9" x2="985.3" y2="2140.9" stroke="#444" stroke-width="0.8" />
<text x="970.4" y="2149.8" font-size="9.7" fill="#262626" textLength="29.7" lengthAdjust="spacingAndGlyphs" >−0.04</text>
<line x1="1020.5" y1="2137.9" x2="1020.5" y2="2140.9" stroke="#444" stroke-width="0.8" />
<text x="1005.6" y="2149.8" font-size="9.7" fill="#262626" textLength="29.7" lengthAdjust="spacingAndGlyphs" >−0.02</text>
<line x1="1055.2" y1="2137.9" x2="1055.2" y2="2140.9" stroke="#444" stroke-width="0.8" />
<text x="1044.4" y="2149.8" font-size="9.7" fill="#262626" textLength="21.6" lengthAdjust="spacingAndGlyphs" >0.00</text>
<line x1="1090.6" y1="2137.9" x2="1090.6" y2="2140.9" stroke="#444" stroke-width="0.8" />
<text x="1079.8" y="2149.8" font-size="9.7" fill="#262626" textLength="21.6" lengthAdjust="spacingAndGlyphs" >0.02</text>
<line x1="1125.6" y1="2137.9" x2="1125.6" y2="2140.9" stroke="#444" stroke-width="0.8" />
<text x="1114.8" y="2149.8" font-size="9.7" fill="#262626" textLength="21.6" lengthAdjust="spacingAndGlyphs" >0.04</text>
</svg>
</body></html>
